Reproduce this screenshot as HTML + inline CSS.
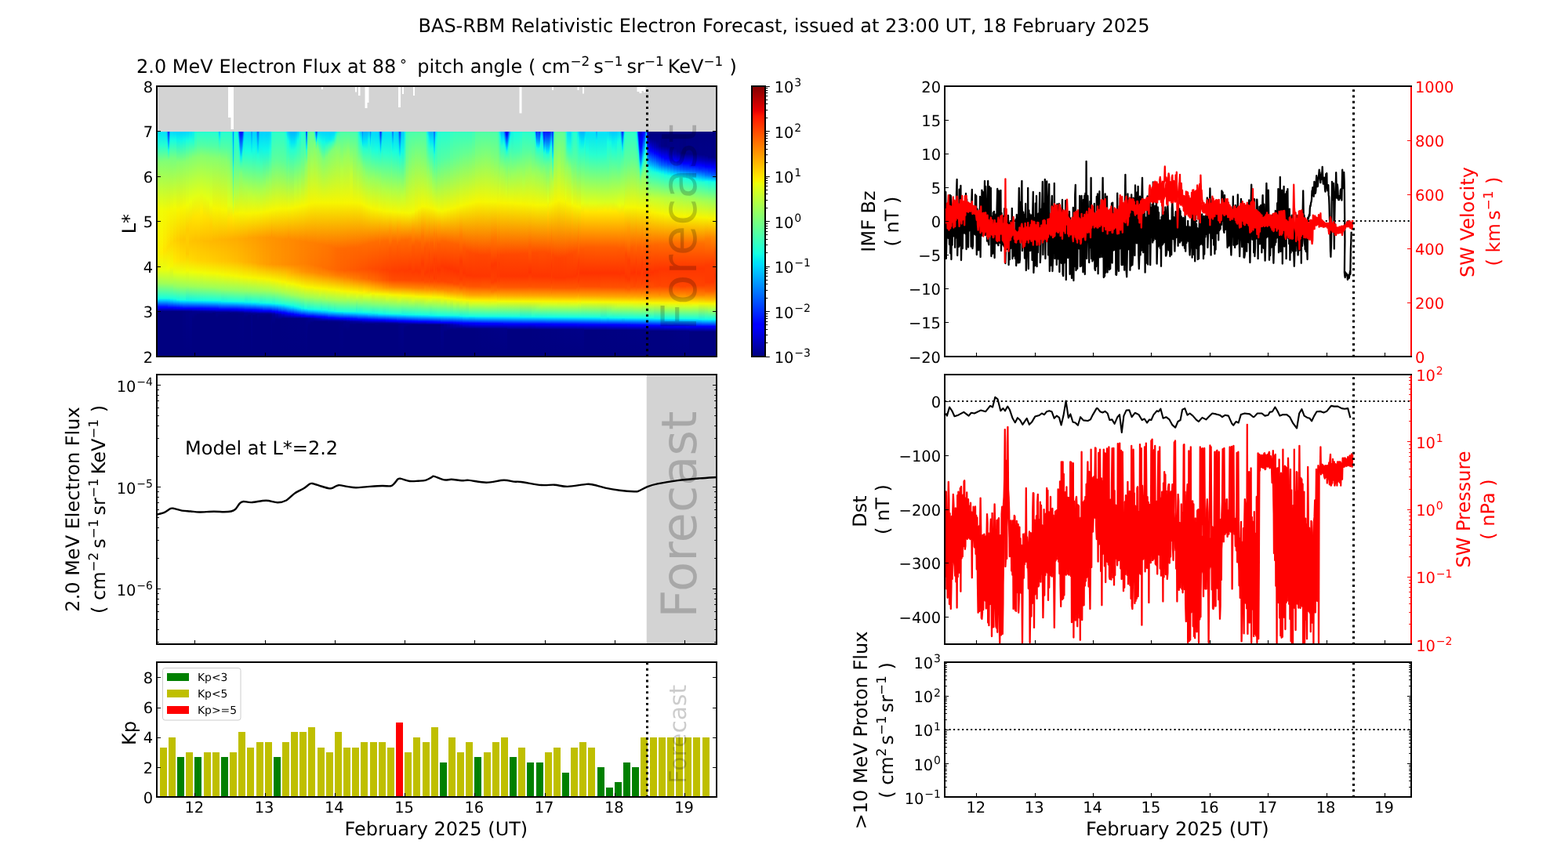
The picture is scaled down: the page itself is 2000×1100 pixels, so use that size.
<!DOCTYPE html>
<html lang="en"><head><meta charset="utf-8"><title>BAS-RBM Relativistic Electron Forecast</title><style>html,body{margin:0;padding:0;background:#fff;overflow:hidden}svg{display:block}</style></head>
<body>
<svg width="2000" height="1100" viewBox="0 0 2000 1100" font-family='"DejaVu Sans", "Liberation Sans", sans-serif' text-rendering="geometricPrecision">
<defs><linearGradient id="h0" x1="0" y1="0" x2="0" y2="1"><stop offset="0" stop-color="#00e0fb"/><stop offset="0.063" stop-color="#25ffd2"/><stop offset="0.136" stop-color="#82ff74"/><stop offset="0.351" stop-color="#f1fc05"/><stop offset="0.518" stop-color="#faf200"/><stop offset="0.616" stop-color="#e4ff13"/><stop offset="0.671" stop-color="#a3ff54"/><stop offset="0.741" stop-color="#18ffde"/><stop offset="0.751" stop-color="#00caff"/><stop offset="0.779" stop-color="#000dff"/><stop offset="0.783" stop-color="#0000ff"/><stop offset="0.8" stop-color="#000080"/><stop offset="1" stop-color="#000080"/></linearGradient>
<linearGradient id="h1" x1="0" y1="0" x2="0" y2="1"><stop offset="0" stop-color="#00e0fb"/><stop offset="0.063" stop-color="#26ffd1"/><stop offset="0.136" stop-color="#83ff74"/><stop offset="0.351" stop-color="#f2fc05"/><stop offset="0.539" stop-color="#feee00"/><stop offset="0.616" stop-color="#e6ff11"/><stop offset="0.675" stop-color="#9fff58"/><stop offset="0.741" stop-color="#18ffde"/><stop offset="0.751" stop-color="#00caff"/><stop offset="0.779" stop-color="#000dff"/><stop offset="0.783" stop-color="#0000ff"/><stop offset="0.8" stop-color="#000080"/><stop offset="1" stop-color="#000080"/></linearGradient>
<linearGradient id="h2" x1="0" y1="0" x2="0" y2="1"><stop offset="0" stop-color="#00e0fb"/><stop offset="0.063" stop-color="#26ffd1"/><stop offset="0.132" stop-color="#81ff76"/><stop offset="0.355" stop-color="#f3fa04"/><stop offset="0.532" stop-color="#ffe500"/><stop offset="0.616" stop-color="#e7ff0f"/><stop offset="0.675" stop-color="#a1ff56"/><stop offset="0.741" stop-color="#18ffde"/><stop offset="0.751" stop-color="#00caff"/><stop offset="0.779" stop-color="#000dff"/><stop offset="0.783" stop-color="#0000ff"/><stop offset="0.8" stop-color="#000080"/><stop offset="1" stop-color="#000080"/></linearGradient>
<linearGradient id="h3" x1="0" y1="0" x2="0" y2="1"><stop offset="0" stop-color="#00d0ff"/><stop offset="0.056" stop-color="#1dffd9"/><stop offset="0.132" stop-color="#81ff76"/><stop offset="0.355" stop-color="#f4f903"/><stop offset="0.525" stop-color="#ffe100"/><stop offset="0.612" stop-color="#ecff0b"/><stop offset="0.675" stop-color="#a2ff55"/><stop offset="0.741" stop-color="#18ffde"/><stop offset="0.751" stop-color="#00caff"/><stop offset="0.779" stop-color="#000dff"/><stop offset="0.783" stop-color="#0000ff"/><stop offset="0.8" stop-color="#000080"/><stop offset="1" stop-color="#000080"/></linearGradient>
<linearGradient id="h4" x1="0" y1="0" x2="0" y2="1"><stop offset="0" stop-color="#0090ff"/><stop offset="0.042" stop-color="#00e5f8"/><stop offset="0.063" stop-color="#1fffd8"/><stop offset="0.132" stop-color="#81ff76"/><stop offset="0.355" stop-color="#f4f802"/><stop offset="0.518" stop-color="#ffdf00"/><stop offset="0.612" stop-color="#edff0a"/><stop offset="0.675" stop-color="#a2ff55"/><stop offset="0.741" stop-color="#19ffde"/><stop offset="0.751" stop-color="#00cbff"/><stop offset="0.779" stop-color="#000dff"/><stop offset="0.783" stop-color="#0000ff"/><stop offset="0.8" stop-color="#000080"/><stop offset="1" stop-color="#000080"/></linearGradient>
<linearGradient id="h5" x1="0" y1="0" x2="0" y2="1"><stop offset="0" stop-color="#002dff"/><stop offset="0.066" stop-color="#00c9ff"/><stop offset="0.083" stop-color="#13fee3"/><stop offset="0.129" stop-color="#7eff79"/><stop offset="0.355" stop-color="#f5f802"/><stop offset="0.511" stop-color="#ffdd00"/><stop offset="0.609" stop-color="#f0fe07"/><stop offset="0.675" stop-color="#a3ff54"/><stop offset="0.741" stop-color="#19ffdd"/><stop offset="0.751" stop-color="#00cdff"/><stop offset="0.783" stop-color="#0000ff"/><stop offset="0.8" stop-color="#000080"/><stop offset="1" stop-color="#000080"/></linearGradient>
<linearGradient id="h6" x1="0" y1="0" x2="0" y2="1"><stop offset="0" stop-color="#0093ff"/><stop offset="0.042" stop-color="#02e9f4"/><stop offset="0.063" stop-color="#22ffd5"/><stop offset="0.132" stop-color="#81ff75"/><stop offset="0.358" stop-color="#f6f601"/><stop offset="0.508" stop-color="#ffdb00"/><stop offset="0.605" stop-color="#f2fc05"/><stop offset="0.675" stop-color="#a4ff53"/><stop offset="0.741" stop-color="#1bffdc"/><stop offset="0.751" stop-color="#00d0ff"/><stop offset="0.783" stop-color="#0000ff"/><stop offset="0.8" stop-color="#000080"/><stop offset="1" stop-color="#000080"/></linearGradient>
<linearGradient id="h7" x1="0" y1="0" x2="0" y2="1"><stop offset="0" stop-color="#00d8ff"/><stop offset="0.042" stop-color="#19ffde"/><stop offset="0.118" stop-color="#75ff82"/><stop offset="0.344" stop-color="#f3f903"/><stop offset="0.497" stop-color="#ffd800"/><stop offset="0.598" stop-color="#f6f701"/><stop offset="0.671" stop-color="#acff4b"/><stop offset="0.741" stop-color="#1dffda"/><stop offset="0.748" stop-color="#04ebf3"/><stop offset="0.758" stop-color="#00a9ff"/><stop offset="0.783" stop-color="#0000ff"/><stop offset="0.793" stop-color="#0000b8"/><stop offset="0.8" stop-color="#000080"/><stop offset="1" stop-color="#000080"/></linearGradient>
<linearGradient id="h8" x1="0" y1="0" x2="0" y2="1"><stop offset="0" stop-color="#00d3ff"/><stop offset="0.038" stop-color="#14fde3"/><stop offset="0.118" stop-color="#75ff82"/><stop offset="0.337" stop-color="#f2fb04"/><stop offset="0.487" stop-color="#ffd200"/><stop offset="0.577" stop-color="#ffe900"/><stop offset="0.626" stop-color="#e4ff12"/><stop offset="0.689" stop-color="#91ff66"/><stop offset="0.744" stop-color="#17ffe0"/><stop offset="0.755" stop-color="#00c9ff"/><stop offset="0.783" stop-color="#0002ff"/><stop offset="0.786" stop-color="#0000f6"/><stop offset="0.8" stop-color="#000080"/><stop offset="1" stop-color="#000080"/></linearGradient>
<linearGradient id="h9" x1="0" y1="0" x2="0" y2="1"><stop offset="0" stop-color="#00d1ff"/><stop offset="0.038" stop-color="#0cf5ea"/><stop offset="0.136" stop-color="#84ff73"/><stop offset="0.348" stop-color="#f7f600"/><stop offset="0.483" stop-color="#ffcd00"/><stop offset="0.574" stop-color="#ffe400"/><stop offset="0.626" stop-color="#e7ff10"/><stop offset="0.689" stop-color="#94ff63"/><stop offset="0.748" stop-color="#13fde4"/><stop offset="0.758" stop-color="#00b9ff"/><stop offset="0.783" stop-color="#0008ff"/><stop offset="0.786" stop-color="#0000fc"/><stop offset="0.8" stop-color="#000080"/><stop offset="1" stop-color="#000080"/></linearGradient>
<linearGradient id="h10" x1="0" y1="0" x2="0" y2="1"><stop offset="0" stop-color="#00d1ff"/><stop offset="0.042" stop-color="#0ff8e7"/><stop offset="0.136" stop-color="#84ff72"/><stop offset="0.344" stop-color="#f6f600"/><stop offset="0.48" stop-color="#ffc800"/><stop offset="0.57" stop-color="#ffde00"/><stop offset="0.626" stop-color="#e9ff0e"/><stop offset="0.689" stop-color="#97ff60"/><stop offset="0.748" stop-color="#18ffdf"/><stop offset="0.755" stop-color="#00d9ff"/><stop offset="0.783" stop-color="#000dff"/><stop offset="0.786" stop-color="#0000ff"/><stop offset="0.8" stop-color="#000080"/><stop offset="1" stop-color="#000080"/></linearGradient>
<linearGradient id="h11" x1="0" y1="0" x2="0" y2="1"><stop offset="0" stop-color="#00d2ff"/><stop offset="0.038" stop-color="#10f9e7"/><stop offset="0.136" stop-color="#87ff70"/><stop offset="0.337" stop-color="#f5f802"/><stop offset="0.48" stop-color="#ffc600"/><stop offset="0.57" stop-color="#ffdc00"/><stop offset="0.626" stop-color="#ebff0c"/><stop offset="0.689" stop-color="#98ff5e"/><stop offset="0.748" stop-color="#1affdd"/><stop offset="0.755" stop-color="#00dcff"/><stop offset="0.786" stop-color="#0000ff"/><stop offset="0.8" stop-color="#000083"/><stop offset="1" stop-color="#000080"/></linearGradient>
<linearGradient id="h12" x1="0" y1="0" x2="0" y2="1"><stop offset="0" stop-color="#00d6ff"/><stop offset="0.042" stop-color="#1bffdc"/><stop offset="0.129" stop-color="#86ff71"/><stop offset="0.327" stop-color="#f1fc06"/><stop offset="0.438" stop-color="#ffcd00"/><stop offset="0.543" stop-color="#ffcb00"/><stop offset="0.619" stop-color="#f2fb04"/><stop offset="0.685" stop-color="#a0ff57"/><stop offset="0.751" stop-color="#0df6ea"/><stop offset="0.758" stop-color="#00c5ff"/><stop offset="0.786" stop-color="#0000ff"/><stop offset="0.8" stop-color="#000086"/><stop offset="1" stop-color="#000080"/></linearGradient>
<linearGradient id="h13" x1="0" y1="0" x2="0" y2="1"><stop offset="0" stop-color="#00e0fb"/><stop offset="0.038" stop-color="#1bffdc"/><stop offset="0.122" stop-color="#85ff72"/><stop offset="0.313" stop-color="#ecff0b"/><stop offset="0.41" stop-color="#ffd800"/><stop offset="0.49" stop-color="#ffc400"/><stop offset="0.574" stop-color="#ffda00"/><stop offset="0.626" stop-color="#edff0a"/><stop offset="0.689" stop-color="#9cff5b"/><stop offset="0.751" stop-color="#0ef7e8"/><stop offset="0.758" stop-color="#00c8ff"/><stop offset="0.786" stop-color="#0000ff"/><stop offset="0.8" stop-color="#000088"/><stop offset="1" stop-color="#000080"/></linearGradient>
<linearGradient id="h14" x1="0" y1="0" x2="0" y2="1"><stop offset="0" stop-color="#06edf1"/><stop offset="0.049" stop-color="#29ffce"/><stop offset="0.115" stop-color="#84ff73"/><stop offset="0.296" stop-color="#e5ff12"/><stop offset="0.386" stop-color="#ffe100"/><stop offset="0.487" stop-color="#ffc200"/><stop offset="0.574" stop-color="#ffd800"/><stop offset="0.626" stop-color="#eeff08"/><stop offset="0.689" stop-color="#9dff5a"/><stop offset="0.751" stop-color="#0ff9e7"/><stop offset="0.758" stop-color="#00caff"/><stop offset="0.786" stop-color="#0000ff"/><stop offset="0.797" stop-color="#0000ab"/><stop offset="0.8" stop-color="#00008b"/><stop offset="0.835" stop-color="#000080"/><stop offset="1" stop-color="#000080"/></linearGradient>
<linearGradient id="h15" x1="0" y1="0" x2="0" y2="1"><stop offset="0" stop-color="#1bffdc"/><stop offset="0.063" stop-color="#49ffae"/><stop offset="0.115" stop-color="#86ff71"/><stop offset="0.289" stop-color="#e3ff14"/><stop offset="0.379" stop-color="#ffe400"/><stop offset="0.483" stop-color="#ffc100"/><stop offset="0.574" stop-color="#ffd600"/><stop offset="0.626" stop-color="#effe07"/><stop offset="0.689" stop-color="#9eff58"/><stop offset="0.751" stop-color="#10fae6"/><stop offset="0.758" stop-color="#00ccff"/><stop offset="0.786" stop-color="#0000ff"/><stop offset="0.793" stop-color="#0000cd"/><stop offset="0.8" stop-color="#00008d"/><stop offset="0.821" stop-color="#000080"/><stop offset="1" stop-color="#000080"/></linearGradient>
<linearGradient id="h16" x1="0" y1="0" x2="0" y2="1"><stop offset="0" stop-color="#25ffd2"/><stop offset="0.063" stop-color="#52ffa5"/><stop offset="0.115" stop-color="#89ff6e"/><stop offset="0.285" stop-color="#e2ff15"/><stop offset="0.376" stop-color="#ffe500"/><stop offset="0.487" stop-color="#ffc000"/><stop offset="0.574" stop-color="#ffd400"/><stop offset="0.626" stop-color="#f1fd06"/><stop offset="0.689" stop-color="#a0ff57"/><stop offset="0.751" stop-color="#11fbe5"/><stop offset="0.758" stop-color="#00ceff"/><stop offset="0.786" stop-color="#0000ff"/><stop offset="0.793" stop-color="#0000d0"/><stop offset="0.8" stop-color="#00008f"/><stop offset="0.814" stop-color="#000080"/><stop offset="1" stop-color="#000080"/></linearGradient>
<linearGradient id="h17" x1="0" y1="0" x2="0" y2="1"><stop offset="0" stop-color="#25ffd2"/><stop offset="0.063" stop-color="#54ffa3"/><stop offset="0.108" stop-color="#87ff70"/><stop offset="0.275" stop-color="#deff19"/><stop offset="0.355" stop-color="#feed00"/><stop offset="0.483" stop-color="#ffbe00"/><stop offset="0.574" stop-color="#ffd200"/><stop offset="0.626" stop-color="#f2fb05"/><stop offset="0.692" stop-color="#9bff5c"/><stop offset="0.751" stop-color="#13fde4"/><stop offset="0.758" stop-color="#00d0ff"/><stop offset="0.786" stop-color="#0002ff"/><stop offset="0.79" stop-color="#0000f3"/><stop offset="0.8" stop-color="#000092"/><stop offset="0.81" stop-color="#000080"/><stop offset="1" stop-color="#000080"/></linearGradient>
<linearGradient id="h18" x1="0" y1="0" x2="0" y2="1"><stop offset="0" stop-color="#25ffd2"/><stop offset="0.063" stop-color="#53ffa4"/><stop offset="0.111" stop-color="#88ff6f"/><stop offset="0.289" stop-color="#e3ff14"/><stop offset="0.379" stop-color="#ffe200"/><stop offset="0.487" stop-color="#ffbc00"/><stop offset="0.577" stop-color="#ffd300"/><stop offset="0.63" stop-color="#f0fd07"/><stop offset="0.692" stop-color="#9dff5a"/><stop offset="0.751" stop-color="#14fee3"/><stop offset="0.758" stop-color="#00d3ff"/><stop offset="0.786" stop-color="#0005ff"/><stop offset="0.79" stop-color="#0000f5"/><stop offset="0.8" stop-color="#000095"/><stop offset="0.81" stop-color="#000080"/><stop offset="1" stop-color="#000080"/></linearGradient>
<linearGradient id="h19" x1="0" y1="0" x2="0" y2="1"><stop offset="0" stop-color="#25ffd2"/><stop offset="0.063" stop-color="#51ffa6"/><stop offset="0.111" stop-color="#86ff70"/><stop offset="0.299" stop-color="#e6ff11"/><stop offset="0.39" stop-color="#ffdd00"/><stop offset="0.487" stop-color="#ffbb00"/><stop offset="0.577" stop-color="#ffd100"/><stop offset="0.63" stop-color="#f1fc05"/><stop offset="0.692" stop-color="#9eff58"/><stop offset="0.751" stop-color="#15ffe2"/><stop offset="0.758" stop-color="#00d6ff"/><stop offset="0.786" stop-color="#0007ff"/><stop offset="0.79" stop-color="#0000f8"/><stop offset="0.8" stop-color="#000098"/><stop offset="0.81" stop-color="#000080"/><stop offset="1" stop-color="#000080"/></linearGradient>
<linearGradient id="h20" x1="0" y1="0" x2="0" y2="1"><stop offset="0" stop-color="#25ffd2"/><stop offset="0.066" stop-color="#53ffa3"/><stop offset="0.118" stop-color="#89ff6e"/><stop offset="0.323" stop-color="#effe08"/><stop offset="0.41" stop-color="#ffd300"/><stop offset="0.49" stop-color="#ffb900"/><stop offset="0.577" stop-color="#ffcf00"/><stop offset="0.63" stop-color="#f3fa04"/><stop offset="0.692" stop-color="#a0ff57"/><stop offset="0.751" stop-color="#16ffe0"/><stop offset="0.758" stop-color="#00d8ff"/><stop offset="0.786" stop-color="#000aff"/><stop offset="0.79" stop-color="#0000fb"/><stop offset="0.8" stop-color="#00009a"/><stop offset="0.81" stop-color="#000080"/><stop offset="1" stop-color="#000080"/></linearGradient>
<linearGradient id="h21" x1="0" y1="0" x2="0" y2="1"><stop offset="0" stop-color="#25ffd2"/><stop offset="0.066" stop-color="#52ffa5"/><stop offset="0.118" stop-color="#88ff6f"/><stop offset="0.341" stop-color="#f6f701"/><stop offset="0.483" stop-color="#ffb700"/><stop offset="0.577" stop-color="#ffcd00"/><stop offset="0.63" stop-color="#f4f903"/><stop offset="0.692" stop-color="#a1ff55"/><stop offset="0.751" stop-color="#18ffdf"/><stop offset="0.758" stop-color="#00dbff"/><stop offset="0.786" stop-color="#000cff"/><stop offset="0.79" stop-color="#0000fe"/><stop offset="0.8" stop-color="#00009d"/><stop offset="0.807" stop-color="#000080"/><stop offset="1" stop-color="#000080"/></linearGradient>
<linearGradient id="h22" x1="0" y1="0" x2="0" y2="1"><stop offset="0" stop-color="#24ffd2"/><stop offset="0.07" stop-color="#54ffa3"/><stop offset="0.122" stop-color="#89ff6e"/><stop offset="0.344" stop-color="#f7f600"/><stop offset="0.483" stop-color="#ffb600"/><stop offset="0.577" stop-color="#ffcb00"/><stop offset="0.633" stop-color="#f2fb04"/><stop offset="0.696" stop-color="#9cff5a"/><stop offset="0.751" stop-color="#19ffde"/><stop offset="0.758" stop-color="#00ddfe"/><stop offset="0.786" stop-color="#000eff"/><stop offset="0.79" stop-color="#0000ff"/><stop offset="0.803" stop-color="#00008a"/><stop offset="0.828" stop-color="#000080"/><stop offset="1" stop-color="#000080"/></linearGradient>
<linearGradient id="h23" x1="0" y1="0" x2="0" y2="1"><stop offset="0" stop-color="#12fbe5"/><stop offset="0.125" stop-color="#8aff6d"/><stop offset="0.344" stop-color="#f6f600"/><stop offset="0.483" stop-color="#ffb500"/><stop offset="0.577" stop-color="#ffca00"/><stop offset="0.633" stop-color="#f3fa04"/><stop offset="0.696" stop-color="#9dff5a"/><stop offset="0.751" stop-color="#19ffdd"/><stop offset="0.762" stop-color="#00c6ff"/><stop offset="0.786" stop-color="#000fff"/><stop offset="0.79" stop-color="#0000ff"/><stop offset="0.803" stop-color="#00008b"/><stop offset="0.821" stop-color="#000080"/><stop offset="1" stop-color="#000080"/></linearGradient>
<linearGradient id="h24" x1="0" y1="0" x2="0" y2="1"><stop offset="0" stop-color="#00c0ff"/><stop offset="0.024" stop-color="#07eef0"/><stop offset="0.045" stop-color="#28ffcf"/><stop offset="0.111" stop-color="#81ff76"/><stop offset="0.344" stop-color="#f6f601"/><stop offset="0.48" stop-color="#ffb500"/><stop offset="0.577" stop-color="#ffc900"/><stop offset="0.633" stop-color="#f4f903"/><stop offset="0.696" stop-color="#9eff59"/><stop offset="0.751" stop-color="#1affdd"/><stop offset="0.758" stop-color="#00dffc"/><stop offset="0.79" stop-color="#0000ff"/><stop offset="0.803" stop-color="#00008b"/><stop offset="0.817" stop-color="#000080"/><stop offset="1" stop-color="#000080"/></linearGradient>
<linearGradient id="h25" x1="0" y1="0" x2="0" y2="1"><stop offset="0" stop-color="#12fbe5"/><stop offset="0.125" stop-color="#88ff6f"/><stop offset="0.348" stop-color="#f7f500"/><stop offset="0.48" stop-color="#ffb400"/><stop offset="0.577" stop-color="#ffc800"/><stop offset="0.633" stop-color="#f4f903"/><stop offset="0.696" stop-color="#9eff58"/><stop offset="0.751" stop-color="#1affdc"/><stop offset="0.758" stop-color="#00e0fb"/><stop offset="0.79" stop-color="#0000ff"/><stop offset="0.803" stop-color="#00008b"/><stop offset="0.817" stop-color="#000080"/><stop offset="1" stop-color="#000080"/></linearGradient>
<linearGradient id="h26" x1="0" y1="0" x2="0" y2="1"><stop offset="0" stop-color="#25ffd2"/><stop offset="0.073" stop-color="#54ffa2"/><stop offset="0.125" stop-color="#86ff70"/><stop offset="0.348" stop-color="#f6f701"/><stop offset="0.48" stop-color="#ffb300"/><stop offset="0.577" stop-color="#ffc700"/><stop offset="0.637" stop-color="#f2fb05"/><stop offset="0.703" stop-color="#92ff65"/><stop offset="0.755" stop-color="#0ff8e8"/><stop offset="0.762" stop-color="#00c9ff"/><stop offset="0.79" stop-color="#0000ff"/><stop offset="0.803" stop-color="#00008c"/><stop offset="0.814" stop-color="#000080"/><stop offset="1" stop-color="#000080"/></linearGradient>
<linearGradient id="h27" x1="0" y1="0" x2="0" y2="1"><stop offset="0" stop-color="#25ffd2"/><stop offset="0.073" stop-color="#53ffa4"/><stop offset="0.125" stop-color="#84ff73"/><stop offset="0.351" stop-color="#f6f701"/><stop offset="0.48" stop-color="#ffb200"/><stop offset="0.577" stop-color="#ffc500"/><stop offset="0.637" stop-color="#f4f903"/><stop offset="0.703" stop-color="#94ff63"/><stop offset="0.755" stop-color="#11fae6"/><stop offset="0.762" stop-color="#00ccff"/><stop offset="0.79" stop-color="#0000ff"/><stop offset="0.803" stop-color="#00008d"/><stop offset="0.814" stop-color="#000080"/><stop offset="1" stop-color="#000080"/></linearGradient>
<linearGradient id="h28" x1="0" y1="0" x2="0" y2="1"><stop offset="0" stop-color="#25ffd2"/><stop offset="0.08" stop-color="#55ffa2"/><stop offset="0.139" stop-color="#86ff70"/><stop offset="0.327" stop-color="#e4ff12"/><stop offset="0.39" stop-color="#ffe000"/><stop offset="0.48" stop-color="#ffb000"/><stop offset="0.577" stop-color="#ffc300"/><stop offset="0.637" stop-color="#f5f802"/><stop offset="0.703" stop-color="#95ff62"/><stop offset="0.755" stop-color="#13fce4"/><stop offset="0.762" stop-color="#00ceff"/><stop offset="0.79" stop-color="#0000ff"/><stop offset="0.803" stop-color="#00008e"/><stop offset="0.81" stop-color="#000080"/><stop offset="1" stop-color="#000080"/></linearGradient>
<linearGradient id="h29" x1="0" y1="0" x2="0" y2="1"><stop offset="0" stop-color="#24ffd3"/><stop offset="0.094" stop-color="#56ffa1"/><stop offset="0.184" stop-color="#93ff64"/><stop offset="0.327" stop-color="#e1ff16"/><stop offset="0.383" stop-color="#ffe600"/><stop offset="0.48" stop-color="#ffaf00"/><stop offset="0.577" stop-color="#ffc200"/><stop offset="0.64" stop-color="#f3fa04"/><stop offset="0.703" stop-color="#96ff61"/><stop offset="0.755" stop-color="#14fee3"/><stop offset="0.762" stop-color="#00d0ff"/><stop offset="0.79" stop-color="#0000ff"/><stop offset="0.8" stop-color="#0000ac"/><stop offset="0.807" stop-color="#000080"/><stop offset="1" stop-color="#000080"/></linearGradient>
<linearGradient id="h30" x1="0" y1="0" x2="0" y2="1"><stop offset="0" stop-color="#21ffd6"/><stop offset="0.104" stop-color="#54ffa3"/><stop offset="0.216" stop-color="#9bff5b"/><stop offset="0.334" stop-color="#e4ff13"/><stop offset="0.386" stop-color="#ffe400"/><stop offset="0.48" stop-color="#ffaf00"/><stop offset="0.577" stop-color="#ffc100"/><stop offset="0.64" stop-color="#f4f903"/><stop offset="0.703" stop-color="#96ff61"/><stop offset="0.755" stop-color="#14ffe2"/><stop offset="0.762" stop-color="#00d1ff"/><stop offset="0.79" stop-color="#0000ff"/><stop offset="0.797" stop-color="#0000cd"/><stop offset="0.803" stop-color="#00008f"/><stop offset="0.81" stop-color="#000080"/><stop offset="1" stop-color="#000080"/></linearGradient>
<linearGradient id="h31" x1="0" y1="0" x2="0" y2="1"><stop offset="0" stop-color="#00defd"/><stop offset="0.066" stop-color="#1effd8"/><stop offset="0.209" stop-color="#92ff65"/><stop offset="0.334" stop-color="#e3ff14"/><stop offset="0.383" stop-color="#ffe700"/><stop offset="0.48" stop-color="#ffae00"/><stop offset="0.577" stop-color="#ffc000"/><stop offset="0.64" stop-color="#f4f903"/><stop offset="0.703" stop-color="#97ff60"/><stop offset="0.755" stop-color="#15ffe2"/><stop offset="0.762" stop-color="#00d1ff"/><stop offset="0.79" stop-color="#0000ff"/><stop offset="0.797" stop-color="#0000ce"/><stop offset="0.803" stop-color="#00008f"/><stop offset="0.81" stop-color="#000080"/><stop offset="1" stop-color="#000080"/></linearGradient>
<linearGradient id="h32" x1="0" y1="0" x2="0" y2="1"><stop offset="0" stop-color="#0080ff"/><stop offset="0.125" stop-color="#00cfff"/><stop offset="0.163" stop-color="#10f9e7"/><stop offset="0.317" stop-color="#aeff49"/><stop offset="0.372" stop-color="#f8f400"/><stop offset="0.477" stop-color="#ffae00"/><stop offset="0.577" stop-color="#ffc000"/><stop offset="0.64" stop-color="#f4f802"/><stop offset="0.703" stop-color="#97ff60"/><stop offset="0.755" stop-color="#15ffe1"/><stop offset="0.762" stop-color="#00d2ff"/><stop offset="0.79" stop-color="#0000ff"/><stop offset="0.797" stop-color="#0000ce"/><stop offset="0.803" stop-color="#00008f"/><stop offset="0.81" stop-color="#000080"/><stop offset="1" stop-color="#000080"/></linearGradient>
<linearGradient id="h33" x1="0" y1="0" x2="0" y2="1"><stop offset="0" stop-color="#00dbff"/><stop offset="0.073" stop-color="#1effd9"/><stop offset="0.23" stop-color="#98ff5e"/><stop offset="0.337" stop-color="#e4ff13"/><stop offset="0.386" stop-color="#ffe500"/><stop offset="0.48" stop-color="#ffad00"/><stop offset="0.577" stop-color="#ffbf00"/><stop offset="0.64" stop-color="#f5f802"/><stop offset="0.703" stop-color="#97ff5f"/><stop offset="0.755" stop-color="#16ffe1"/><stop offset="0.762" stop-color="#00d3ff"/><stop offset="0.79" stop-color="#0000ff"/><stop offset="0.797" stop-color="#0000cf"/><stop offset="0.803" stop-color="#00008f"/><stop offset="0.81" stop-color="#000080"/><stop offset="1" stop-color="#000080"/></linearGradient>
<linearGradient id="h34" x1="0" y1="0" x2="0" y2="1"><stop offset="0" stop-color="#17ffdf"/><stop offset="0.115" stop-color="#48ffaf"/><stop offset="0.275" stop-color="#b2ff45"/><stop offset="0.365" stop-color="#f8f400"/><stop offset="0.477" stop-color="#ffad00"/><stop offset="0.577" stop-color="#ffbd00"/><stop offset="0.643" stop-color="#f3fa04"/><stop offset="0.706" stop-color="#92ff65"/><stop offset="0.755" stop-color="#17ffe0"/><stop offset="0.762" stop-color="#00d5ff"/><stop offset="0.79" stop-color="#0001ff"/><stop offset="0.793" stop-color="#0000f2"/><stop offset="0.803" stop-color="#000091"/><stop offset="0.81" stop-color="#000080"/><stop offset="1" stop-color="#000080"/></linearGradient>
<linearGradient id="h35" x1="0" y1="0" x2="0" y2="1"><stop offset="0" stop-color="#00dcfe"/><stop offset="0.028" stop-color="#18ffdf"/><stop offset="0.143" stop-color="#57ffa0"/><stop offset="0.261" stop-color="#abff4c"/><stop offset="0.365" stop-color="#f8f400"/><stop offset="0.477" stop-color="#ffab00"/><stop offset="0.577" stop-color="#ffbb00"/><stop offset="0.643" stop-color="#f4f803"/><stop offset="0.706" stop-color="#93ff64"/><stop offset="0.755" stop-color="#18ffdf"/><stop offset="0.762" stop-color="#00d8ff"/><stop offset="0.79" stop-color="#0004ff"/><stop offset="0.793" stop-color="#0000f5"/><stop offset="0.803" stop-color="#000095"/><stop offset="0.81" stop-color="#000081"/><stop offset="1" stop-color="#000080"/></linearGradient>
<linearGradient id="h36" x1="0" y1="0" x2="0" y2="1"><stop offset="0" stop-color="#0075ff"/><stop offset="0.038" stop-color="#00e5f7"/><stop offset="0.059" stop-color="#1cffdb"/><stop offset="0.275" stop-color="#b3ff44"/><stop offset="0.365" stop-color="#f8f400"/><stop offset="0.477" stop-color="#ffab00"/><stop offset="0.577" stop-color="#ffba00"/><stop offset="0.643" stop-color="#f5f802"/><stop offset="0.706" stop-color="#93ff63"/><stop offset="0.755" stop-color="#19ffde"/><stop offset="0.762" stop-color="#00d9ff"/><stop offset="0.79" stop-color="#0006ff"/><stop offset="0.793" stop-color="#0000f7"/><stop offset="0.803" stop-color="#000096"/><stop offset="0.81" stop-color="#000081"/><stop offset="1" stop-color="#000080"/></linearGradient>
<linearGradient id="h37" x1="0" y1="0" x2="0" y2="1"><stop offset="0" stop-color="#0019ff"/><stop offset="0.077" stop-color="#00e4f8"/><stop offset="0.09" stop-color="#1bffdc"/><stop offset="0.188" stop-color="#7eff78"/><stop offset="0.362" stop-color="#f6f701"/><stop offset="0.477" stop-color="#ffaa00"/><stop offset="0.577" stop-color="#ffb900"/><stop offset="0.643" stop-color="#f5f702"/><stop offset="0.706" stop-color="#94ff63"/><stop offset="0.755" stop-color="#19ffde"/><stop offset="0.762" stop-color="#00daff"/><stop offset="0.79" stop-color="#0007ff"/><stop offset="0.793" stop-color="#0000f8"/><stop offset="0.803" stop-color="#000097"/><stop offset="0.81" stop-color="#000081"/><stop offset="1" stop-color="#000080"/></linearGradient>
<linearGradient id="h38" x1="0" y1="0" x2="0" y2="1"><stop offset="0" stop-color="#0000ff"/><stop offset="0.094" stop-color="#00bcff"/><stop offset="0.115" stop-color="#09f1ee"/><stop offset="0.143" stop-color="#3fffb7"/><stop offset="0.184" stop-color="#7bff7c"/><stop offset="0.362" stop-color="#f5f701"/><stop offset="0.477" stop-color="#ffa900"/><stop offset="0.577" stop-color="#ffb800"/><stop offset="0.647" stop-color="#f3fa04"/><stop offset="0.71" stop-color="#8eff69"/><stop offset="0.755" stop-color="#1affdd"/><stop offset="0.762" stop-color="#00dcfe"/><stop offset="0.79" stop-color="#0009ff"/><stop offset="0.793" stop-color="#0000fb"/><stop offset="0.803" stop-color="#00009a"/><stop offset="0.81" stop-color="#000082"/><stop offset="1" stop-color="#000080"/></linearGradient>
<linearGradient id="h39" x1="0" y1="0" x2="0" y2="1"><stop offset="0" stop-color="#0017ff"/><stop offset="0.08" stop-color="#00e0fc"/><stop offset="0.097" stop-color="#1cffdb"/><stop offset="0.216" stop-color="#8eff68"/><stop offset="0.362" stop-color="#f5f701"/><stop offset="0.477" stop-color="#ffa800"/><stop offset="0.581" stop-color="#ffb800"/><stop offset="0.647" stop-color="#f4f903"/><stop offset="0.71" stop-color="#8fff68"/><stop offset="0.755" stop-color="#1bffdc"/><stop offset="0.762" stop-color="#00defd"/><stop offset="0.79" stop-color="#000cff"/><stop offset="0.793" stop-color="#0000fe"/><stop offset="0.803" stop-color="#00009d"/><stop offset="0.81" stop-color="#000083"/><stop offset="1" stop-color="#000080"/></linearGradient>
<linearGradient id="h40" x1="0" y1="0" x2="0" y2="1"><stop offset="0" stop-color="#0068ff"/><stop offset="0.049" stop-color="#00e3f8"/><stop offset="0.087" stop-color="#1cffda"/><stop offset="0.24" stop-color="#9eff58"/><stop offset="0.362" stop-color="#f5f702"/><stop offset="0.477" stop-color="#ffa700"/><stop offset="0.581" stop-color="#ffb700"/><stop offset="0.647" stop-color="#f4f802"/><stop offset="0.71" stop-color="#8fff68"/><stop offset="0.755" stop-color="#1bffdb"/><stop offset="0.765" stop-color="#00c8ff"/><stop offset="0.79" stop-color="#000dff"/><stop offset="0.793" stop-color="#0000ff"/><stop offset="0.803" stop-color="#00009f"/><stop offset="0.81" stop-color="#000083"/><stop offset="1" stop-color="#000080"/></linearGradient>
<linearGradient id="h41" x1="0" y1="0" x2="0" y2="1"><stop offset="0" stop-color="#00beff"/><stop offset="0.045" stop-color="#07eef0"/><stop offset="0.122" stop-color="#37ffc0"/><stop offset="0.233" stop-color="#9aff5d"/><stop offset="0.362" stop-color="#f5f702"/><stop offset="0.477" stop-color="#ffa700"/><stop offset="0.581" stop-color="#ffb600"/><stop offset="0.647" stop-color="#f5f802"/><stop offset="0.71" stop-color="#8fff67"/><stop offset="0.755" stop-color="#1cffdb"/><stop offset="0.762" stop-color="#00e0fb"/><stop offset="0.79" stop-color="#000eff"/><stop offset="0.793" stop-color="#0000ff"/><stop offset="0.807" stop-color="#00008c"/><stop offset="0.831" stop-color="#000080"/><stop offset="1" stop-color="#000080"/></linearGradient>
<linearGradient id="h42" x1="0" y1="0" x2="0" y2="1"><stop offset="0" stop-color="#00d6ff"/><stop offset="0.087" stop-color="#17ffdf"/><stop offset="0.25" stop-color="#a6ff51"/><stop offset="0.365" stop-color="#f7f500"/><stop offset="0.477" stop-color="#ffa500"/><stop offset="0.581" stop-color="#ffb400"/><stop offset="0.647" stop-color="#f6f701"/><stop offset="0.71" stop-color="#91ff66"/><stop offset="0.758" stop-color="#0ef7e9"/><stop offset="0.765" stop-color="#00cdff"/><stop offset="0.793" stop-color="#0000ff"/><stop offset="0.807" stop-color="#00008f"/><stop offset="0.824" stop-color="#000080"/><stop offset="1" stop-color="#000080"/></linearGradient>
<linearGradient id="h43" x1="0" y1="0" x2="0" y2="1"><stop offset="0" stop-color="#00d2ff"/><stop offset="0.087" stop-color="#16ffe1"/><stop offset="0.275" stop-color="#b8ff3f"/><stop offset="0.365" stop-color="#f8f500"/><stop offset="0.473" stop-color="#ffa300"/><stop offset="0.581" stop-color="#ffb000"/><stop offset="0.65" stop-color="#f4f903"/><stop offset="0.71" stop-color="#92ff64"/><stop offset="0.758" stop-color="#11fae6"/><stop offset="0.765" stop-color="#00d1ff"/><stop offset="0.793" stop-color="#0000ff"/><stop offset="0.807" stop-color="#000093"/><stop offset="0.817" stop-color="#000080"/><stop offset="1" stop-color="#000080"/></linearGradient>
<linearGradient id="h44" x1="0" y1="0" x2="0" y2="1"><stop offset="0" stop-color="#00a1ff"/><stop offset="0.063" stop-color="#01e6f6"/><stop offset="0.101" stop-color="#21ffd6"/><stop offset="0.278" stop-color="#baff3d"/><stop offset="0.362" stop-color="#f6f701"/><stop offset="0.473" stop-color="#ffa200"/><stop offset="0.581" stop-color="#ffad00"/><stop offset="0.65" stop-color="#f5f702"/><stop offset="0.71" stop-color="#94ff63"/><stop offset="0.758" stop-color="#13fde4"/><stop offset="0.769" stop-color="#00bcff"/><stop offset="0.793" stop-color="#0000ff"/><stop offset="0.8" stop-color="#0000ce"/><stop offset="0.81" stop-color="#000087"/><stop offset="1" stop-color="#000080"/></linearGradient>
<linearGradient id="h45" x1="0" y1="0" x2="0" y2="1"><stop offset="0" stop-color="#00d0ff"/><stop offset="0.083" stop-color="#12fce5"/><stop offset="0.292" stop-color="#c3ff34"/><stop offset="0.362" stop-color="#f6f601"/><stop offset="0.473" stop-color="#ffa000"/><stop offset="0.584" stop-color="#ffac00"/><stop offset="0.65" stop-color="#f6f600"/><stop offset="0.71" stop-color="#95ff62"/><stop offset="0.758" stop-color="#15ffe2"/><stop offset="0.765" stop-color="#00d9ff"/><stop offset="0.793" stop-color="#0002ff"/><stop offset="0.797" stop-color="#0000f2"/><stop offset="0.807" stop-color="#000099"/><stop offset="0.817" stop-color="#000080"/><stop offset="1" stop-color="#000080"/></linearGradient>
<linearGradient id="h46" x1="0" y1="0" x2="0" y2="1"><stop offset="0" stop-color="#00ccff"/><stop offset="0.066" stop-color="#0bf3ec"/><stop offset="0.146" stop-color="#44ffb3"/><stop offset="0.261" stop-color="#abff4c"/><stop offset="0.362" stop-color="#f7f600"/><stop offset="0.473" stop-color="#ff9f00"/><stop offset="0.584" stop-color="#ffa900"/><stop offset="0.65" stop-color="#f7f500"/><stop offset="0.71" stop-color="#96ff61"/><stop offset="0.758" stop-color="#16ffe1"/><stop offset="0.765" stop-color="#00dcff"/><stop offset="0.793" stop-color="#0005ff"/><stop offset="0.797" stop-color="#0000f6"/><stop offset="0.807" stop-color="#00009c"/><stop offset="0.814" stop-color="#000080"/><stop offset="1" stop-color="#000080"/></linearGradient>
<linearGradient id="h47" x1="0" y1="0" x2="0" y2="1"><stop offset="0" stop-color="#00a6ff"/><stop offset="0.059" stop-color="#04eaf3"/><stop offset="0.108" stop-color="#25ffd2"/><stop offset="0.289" stop-color="#bfff38"/><stop offset="0.362" stop-color="#f7f600"/><stop offset="0.473" stop-color="#ff9e00"/><stop offset="0.584" stop-color="#ffa800"/><stop offset="0.65" stop-color="#f8f400"/><stop offset="0.706" stop-color="#9fff58"/><stop offset="0.758" stop-color="#17ffe0"/><stop offset="0.769" stop-color="#00c4ff"/><stop offset="0.793" stop-color="#0006ff"/><stop offset="0.797" stop-color="#0000f7"/><stop offset="0.807" stop-color="#00009d"/><stop offset="0.814" stop-color="#000080"/><stop offset="1" stop-color="#000080"/></linearGradient>
<linearGradient id="h48" x1="0" y1="0" x2="0" y2="1"><stop offset="0" stop-color="#006cff"/><stop offset="0.08" stop-color="#00e5f7"/><stop offset="0.104" stop-color="#1fffd8"/><stop offset="0.275" stop-color="#b4ff43"/><stop offset="0.362" stop-color="#f7f500"/><stop offset="0.473" stop-color="#ff9d00"/><stop offset="0.588" stop-color="#ffa800"/><stop offset="0.654" stop-color="#f4f802"/><stop offset="0.71" stop-color="#97ff5f"/><stop offset="0.758" stop-color="#18ffdf"/><stop offset="0.769" stop-color="#00c6ff"/><stop offset="0.793" stop-color="#0008ff"/><stop offset="0.797" stop-color="#0000f9"/><stop offset="0.81" stop-color="#00008a"/><stop offset="0.838" stop-color="#000080"/><stop offset="1" stop-color="#000080"/></linearGradient>
<linearGradient id="h49" x1="0" y1="0" x2="0" y2="1"><stop offset="0" stop-color="#00a5ff"/><stop offset="0.059" stop-color="#02e8f4"/><stop offset="0.111" stop-color="#26ffd1"/><stop offset="0.289" stop-color="#beff39"/><stop offset="0.362" stop-color="#f7f500"/><stop offset="0.473" stop-color="#ff9c00"/><stop offset="0.588" stop-color="#ffa700"/><stop offset="0.654" stop-color="#f5f802"/><stop offset="0.71" stop-color="#98ff5f"/><stop offset="0.758" stop-color="#19ffde"/><stop offset="0.769" stop-color="#00c8ff"/><stop offset="0.793" stop-color="#000aff"/><stop offset="0.797" stop-color="#0000fc"/><stop offset="0.81" stop-color="#00008a"/><stop offset="0.831" stop-color="#000080"/><stop offset="1" stop-color="#000080"/></linearGradient>
<linearGradient id="h50" x1="0" y1="0" x2="0" y2="1"><stop offset="0" stop-color="#00cfff"/><stop offset="0.07" stop-color="#0af2ed"/><stop offset="0.143" stop-color="#3fffb8"/><stop offset="0.264" stop-color="#abff4b"/><stop offset="0.358" stop-color="#f5f702"/><stop offset="0.473" stop-color="#ff9b00"/><stop offset="0.588" stop-color="#ffa400"/><stop offset="0.654" stop-color="#f6f601"/><stop offset="0.71" stop-color="#99ff5e"/><stop offset="0.762" stop-color="#0ff8e8"/><stop offset="0.769" stop-color="#00cbff"/><stop offset="0.793" stop-color="#000dff"/><stop offset="0.797" stop-color="#0000fe"/><stop offset="0.81" stop-color="#00008b"/><stop offset="0.824" stop-color="#000080"/><stop offset="1" stop-color="#000080"/></linearGradient>
<linearGradient id="h51" x1="0" y1="0" x2="0" y2="1"><stop offset="0" stop-color="#00d0ff"/><stop offset="0.083" stop-color="#0ff8e7"/><stop offset="0.254" stop-color="#a6ff51"/><stop offset="0.358" stop-color="#f7f500"/><stop offset="0.473" stop-color="#ff9900"/><stop offset="0.588" stop-color="#ffa000"/><stop offset="0.654" stop-color="#f8f400"/><stop offset="0.706" stop-color="#a3ff53"/><stop offset="0.762" stop-color="#12fce5"/><stop offset="0.769" stop-color="#00cfff"/><stop offset="0.797" stop-color="#0000ff"/><stop offset="0.81" stop-color="#00008d"/><stop offset="0.821" stop-color="#000080"/><stop offset="1" stop-color="#000080"/></linearGradient>
<linearGradient id="h52" x1="0" y1="0" x2="0" y2="1"><stop offset="0" stop-color="#00ceff"/><stop offset="0.08" stop-color="#0ef7e9"/><stop offset="0.226" stop-color="#96ff60"/><stop offset="0.355" stop-color="#f7f600"/><stop offset="0.473" stop-color="#ff9600"/><stop offset="0.591" stop-color="#ff9e00"/><stop offset="0.657" stop-color="#f6f601"/><stop offset="0.71" stop-color="#9dff5a"/><stop offset="0.762" stop-color="#16ffe1"/><stop offset="0.769" stop-color="#00d4ff"/><stop offset="0.797" stop-color="#0000ff"/><stop offset="0.81" stop-color="#00008e"/><stop offset="0.817" stop-color="#000080"/><stop offset="1" stop-color="#000080"/></linearGradient>
<linearGradient id="h53" x1="0" y1="0" x2="0" y2="1"><stop offset="0" stop-color="#00d3ff"/><stop offset="0.083" stop-color="#17fee0"/><stop offset="0.216" stop-color="#93ff64"/><stop offset="0.351" stop-color="#f6f701"/><stop offset="0.473" stop-color="#ff9500"/><stop offset="0.591" stop-color="#ff9b00"/><stop offset="0.657" stop-color="#f7f500"/><stop offset="0.706" stop-color="#a7ff50"/><stop offset="0.762" stop-color="#18ffde"/><stop offset="0.769" stop-color="#00d8ff"/><stop offset="0.797" stop-color="#0000ff"/><stop offset="0.803" stop-color="#0000cf"/><stop offset="0.81" stop-color="#000090"/><stop offset="0.817" stop-color="#000080"/><stop offset="1" stop-color="#000080"/></linearGradient>
<linearGradient id="h54" x1="0" y1="0" x2="0" y2="1"><stop offset="0" stop-color="#00e6f7"/><stop offset="0.077" stop-color="#1fffd8"/><stop offset="0.237" stop-color="#a2ff55"/><stop offset="0.351" stop-color="#f7f600"/><stop offset="0.473" stop-color="#ff9400"/><stop offset="0.591" stop-color="#ff9a00"/><stop offset="0.661" stop-color="#f5f802"/><stop offset="0.71" stop-color="#9fff57"/><stop offset="0.762" stop-color="#1affdd"/><stop offset="0.769" stop-color="#00daff"/><stop offset="0.797" stop-color="#0003ff"/><stop offset="0.8" stop-color="#0000f4"/><stop offset="0.81" stop-color="#000093"/><stop offset="0.817" stop-color="#000082"/><stop offset="1" stop-color="#000080"/></linearGradient>
<linearGradient id="h55" x1="0" y1="0" x2="0" y2="1"><stop offset="0" stop-color="#12fce5"/><stop offset="0.118" stop-color="#4affad"/><stop offset="0.348" stop-color="#f5f802"/><stop offset="0.463" stop-color="#ff9500"/><stop offset="0.588" stop-color="#ff9600"/><stop offset="0.661" stop-color="#f5f701"/><stop offset="0.71" stop-color="#a0ff56"/><stop offset="0.762" stop-color="#1bffdb"/><stop offset="0.769" stop-color="#00dcfe"/><stop offset="0.797" stop-color="#0007ff"/><stop offset="0.8" stop-color="#0000f8"/><stop offset="0.81" stop-color="#000097"/><stop offset="0.817" stop-color="#000085"/><stop offset="1" stop-color="#000080"/></linearGradient>
<linearGradient id="h56" x1="0" y1="0" x2="0" y2="1"><stop offset="0" stop-color="#29ffce"/><stop offset="0.129" stop-color="#5cff9b"/><stop offset="0.348" stop-color="#f6f701"/><stop offset="0.473" stop-color="#ff9300"/><stop offset="0.591" stop-color="#ff9700"/><stop offset="0.661" stop-color="#f7f500"/><stop offset="0.71" stop-color="#a4ff53"/><stop offset="0.765" stop-color="#10fae6"/><stop offset="0.772" stop-color="#00c9ff"/><stop offset="0.8" stop-color="#0000fe"/><stop offset="0.81" stop-color="#0000a3"/><stop offset="0.817" stop-color="#00008e"/><stop offset="0.856" stop-color="#000080"/><stop offset="1" stop-color="#000080"/></linearGradient>
<linearGradient id="h57" x1="0" y1="0" x2="0" y2="1"><stop offset="0" stop-color="#2dffca"/><stop offset="0.122" stop-color="#5bff9c"/><stop offset="0.344" stop-color="#f5f802"/><stop offset="0.477" stop-color="#ff9100"/><stop offset="0.591" stop-color="#ff9500"/><stop offset="0.664" stop-color="#f6f601"/><stop offset="0.71" stop-color="#a9ff4e"/><stop offset="0.765" stop-color="#17ffe0"/><stop offset="0.772" stop-color="#00d4ff"/><stop offset="0.8" stop-color="#0006ff"/><stop offset="0.803" stop-color="#0000f8"/><stop offset="0.814" stop-color="#0000a3"/><stop offset="0.835" stop-color="#000080"/><stop offset="1" stop-color="#000080"/></linearGradient>
<linearGradient id="h58" x1="0" y1="0" x2="0" y2="1"><stop offset="0" stop-color="#2dffca"/><stop offset="0.125" stop-color="#5bff9b"/><stop offset="0.344" stop-color="#f6f701"/><stop offset="0.477" stop-color="#ff9000"/><stop offset="0.591" stop-color="#ff9300"/><stop offset="0.668" stop-color="#f5f802"/><stop offset="0.713" stop-color="#a6ff51"/><stop offset="0.765" stop-color="#1dffda"/><stop offset="0.772" stop-color="#00defd"/><stop offset="0.797" stop-color="#0033ff"/><stop offset="0.803" stop-color="#0001ff"/><stop offset="0.814" stop-color="#0000b5"/><stop offset="0.835" stop-color="#000080"/><stop offset="1" stop-color="#000080"/></linearGradient>
<linearGradient id="h59" x1="0" y1="0" x2="0" y2="1"><stop offset="0" stop-color="#2dffca"/><stop offset="0.129" stop-color="#5bff9b"/><stop offset="0.344" stop-color="#f6f601"/><stop offset="0.48" stop-color="#ff8e00"/><stop offset="0.591" stop-color="#ff9000"/><stop offset="0.668" stop-color="#f8f400"/><stop offset="0.713" stop-color="#abff4b"/><stop offset="0.765" stop-color="#23ffd4"/><stop offset="0.772" stop-color="#02e8f5"/><stop offset="0.793" stop-color="#005fff"/><stop offset="0.803" stop-color="#000dff"/><stop offset="0.807" stop-color="#0000fd"/><stop offset="0.814" stop-color="#0000c6"/><stop offset="0.831" stop-color="#000081"/><stop offset="1" stop-color="#000080"/></linearGradient>
<linearGradient id="h60" x1="0" y1="0" x2="0" y2="1"><stop offset="0" stop-color="#1dffda"/><stop offset="0.146" stop-color="#62ff95"/><stop offset="0.344" stop-color="#f7f600"/><stop offset="0.48" stop-color="#ff8c00"/><stop offset="0.591" stop-color="#ff8e00"/><stop offset="0.671" stop-color="#f6f701"/><stop offset="0.717" stop-color="#a8ff4f"/><stop offset="0.765" stop-color="#28ffcf"/><stop offset="0.772" stop-color="#08efef"/><stop offset="0.779" stop-color="#00c9ff"/><stop offset="0.803" stop-color="#001aff"/><stop offset="0.807" stop-color="#0000ff"/><stop offset="0.831" stop-color="#000081"/><stop offset="1" stop-color="#000080"/></linearGradient>
<linearGradient id="h61" x1="0" y1="0" x2="0" y2="1"><stop offset="0" stop-color="#03e9f4"/><stop offset="0.024" stop-color="#1cffdb"/><stop offset="0.132" stop-color="#51ffa5"/><stop offset="0.344" stop-color="#f7f500"/><stop offset="0.48" stop-color="#ff8c00"/><stop offset="0.591" stop-color="#ff8e00"/><stop offset="0.654" stop-color="#ffdd00"/><stop offset="0.682" stop-color="#e9ff0e"/><stop offset="0.727" stop-color="#92ff64"/><stop offset="0.769" stop-color="#1bffdc"/><stop offset="0.779" stop-color="#00cdff"/><stop offset="0.8" stop-color="#003cff"/><stop offset="0.807" stop-color="#0005ff"/><stop offset="0.831" stop-color="#000081"/><stop offset="1" stop-color="#000080"/></linearGradient>
<linearGradient id="h62" x1="0" y1="0" x2="0" y2="1"><stop offset="0" stop-color="#00d5ff"/><stop offset="0.035" stop-color="#18ffdf"/><stop offset="0.139" stop-color="#52ffa4"/><stop offset="0.344" stop-color="#f7f500"/><stop offset="0.48" stop-color="#ff8c00"/><stop offset="0.591" stop-color="#ff8d00"/><stop offset="0.647" stop-color="#ffd200"/><stop offset="0.675" stop-color="#f3fa04"/><stop offset="0.72" stop-color="#a4ff53"/><stop offset="0.769" stop-color="#1cffda"/><stop offset="0.776" stop-color="#00e3f9"/><stop offset="0.793" stop-color="#0076ff"/><stop offset="0.807" stop-color="#0009ff"/><stop offset="0.81" stop-color="#0000f8"/><stop offset="0.831" stop-color="#000081"/><stop offset="1" stop-color="#000080"/></linearGradient>
<linearGradient id="h63" x1="0" y1="0" x2="0" y2="1"><stop offset="0" stop-color="#00c2ff"/><stop offset="0.045" stop-color="#14fde2"/><stop offset="0.17" stop-color="#6fff88"/><stop offset="0.341" stop-color="#f5f802"/><stop offset="0.473" stop-color="#ff8d00"/><stop offset="0.591" stop-color="#ff8c00"/><stop offset="0.64" stop-color="#ffc600"/><stop offset="0.675" stop-color="#f4f803"/><stop offset="0.72" stop-color="#a6ff51"/><stop offset="0.769" stop-color="#1fffd8"/><stop offset="0.779" stop-color="#00d5ff"/><stop offset="0.797" stop-color="#0062ff"/><stop offset="0.81" stop-color="#0000fe"/><stop offset="0.831" stop-color="#000082"/><stop offset="1" stop-color="#000080"/></linearGradient>
<linearGradient id="h64" x1="0" y1="0" x2="0" y2="1"><stop offset="0" stop-color="#00b5ff"/><stop offset="0.045" stop-color="#05ebf2"/><stop offset="0.08" stop-color="#23ffd4"/><stop offset="0.341" stop-color="#f5f702"/><stop offset="0.48" stop-color="#ff8a00"/><stop offset="0.591" stop-color="#ff8b00"/><stop offset="0.637" stop-color="#ffbf00"/><stop offset="0.675" stop-color="#f6f601"/><stop offset="0.723" stop-color="#a2ff55"/><stop offset="0.769" stop-color="#23ffd4"/><stop offset="0.776" stop-color="#06edf1"/><stop offset="0.786" stop-color="#00b7ff"/><stop offset="0.81" stop-color="#0000ff"/><stop offset="0.831" stop-color="#000082"/><stop offset="1" stop-color="#000080"/></linearGradient>
<linearGradient id="h65" x1="0" y1="0" x2="0" y2="1"><stop offset="0" stop-color="#00b3ff"/><stop offset="0.052" stop-color="#02e8f5"/><stop offset="0.083" stop-color="#24ffd3"/><stop offset="0.341" stop-color="#f7f600"/><stop offset="0.483" stop-color="#ff8900"/><stop offset="0.591" stop-color="#ff8900"/><stop offset="0.63" stop-color="#ffb100"/><stop offset="0.678" stop-color="#f4f903"/><stop offset="0.727" stop-color="#9eff59"/><stop offset="0.772" stop-color="#1affdc"/><stop offset="0.783" stop-color="#00d4ff"/><stop offset="0.803" stop-color="#0042ff"/><stop offset="0.81" stop-color="#0007ff"/><stop offset="0.817" stop-color="#0000e5"/><stop offset="0.831" stop-color="#000082"/><stop offset="1" stop-color="#000080"/></linearGradient>
<linearGradient id="h66" x1="0" y1="0" x2="0" y2="1"><stop offset="0" stop-color="#00b3ff"/><stop offset="0.049" stop-color="#02e8f4"/><stop offset="0.08" stop-color="#24ffd3"/><stop offset="0.247" stop-color="#afff48"/><stop offset="0.337" stop-color="#f6f701"/><stop offset="0.483" stop-color="#ff8800"/><stop offset="0.591" stop-color="#ff8700"/><stop offset="0.626" stop-color="#ffa700"/><stop offset="0.678" stop-color="#f7f600"/><stop offset="0.727" stop-color="#a3ff54"/><stop offset="0.776" stop-color="#14fee3"/><stop offset="0.786" stop-color="#00ceff"/><stop offset="0.814" stop-color="#0000ff"/><stop offset="0.828" stop-color="#00009e"/><stop offset="0.831" stop-color="#000082"/><stop offset="1" stop-color="#000080"/></linearGradient>
<linearGradient id="h67" x1="0" y1="0" x2="0" y2="1"><stop offset="0" stop-color="#00baff"/><stop offset="0.038" stop-color="#06edf0"/><stop offset="0.073" stop-color="#23ffd4"/><stop offset="0.243" stop-color="#aeff48"/><stop offset="0.337" stop-color="#f7f600"/><stop offset="0.487" stop-color="#ff8600"/><stop offset="0.591" stop-color="#ff8600"/><stop offset="0.626" stop-color="#ffa500"/><stop offset="0.682" stop-color="#f4f802"/><stop offset="0.73" stop-color="#9dff5a"/><stop offset="0.776" stop-color="#19ffde"/><stop offset="0.786" stop-color="#00d6ff"/><stop offset="0.814" stop-color="#0002ff"/><stop offset="0.817" stop-color="#0000f7"/><stop offset="0.831" stop-color="#000082"/><stop offset="1" stop-color="#000080"/></linearGradient>
<linearGradient id="h68" x1="0" y1="0" x2="0" y2="1"><stop offset="0" stop-color="#00ccff"/><stop offset="0.042" stop-color="#17ffe0"/><stop offset="0.139" stop-color="#5dff9a"/><stop offset="0.334" stop-color="#f5f702"/><stop offset="0.487" stop-color="#ff8600"/><stop offset="0.591" stop-color="#ff8500"/><stop offset="0.626" stop-color="#ffa300"/><stop offset="0.682" stop-color="#f6f601"/><stop offset="0.73" stop-color="#a0ff57"/><stop offset="0.779" stop-color="#12fbe5"/><stop offset="0.79" stop-color="#00c9ff"/><stop offset="0.814" stop-color="#0009ff"/><stop offset="0.817" stop-color="#0000fe"/><stop offset="0.831" stop-color="#000083"/><stop offset="1" stop-color="#000080"/></linearGradient>
<linearGradient id="h69" x1="0" y1="0" x2="0" y2="1"><stop offset="0" stop-color="#00e1fa"/><stop offset="0.035" stop-color="#19ffde"/><stop offset="0.125" stop-color="#52ffa5"/><stop offset="0.216" stop-color="#9eff58"/><stop offset="0.334" stop-color="#f6f601"/><stop offset="0.487" stop-color="#ff8500"/><stop offset="0.591" stop-color="#ff8400"/><stop offset="0.626" stop-color="#ffa100"/><stop offset="0.682" stop-color="#f8f500"/><stop offset="0.727" stop-color="#abff4b"/><stop offset="0.779" stop-color="#15ffe1"/><stop offset="0.79" stop-color="#00cfff"/><stop offset="0.814" stop-color="#000fff"/><stop offset="0.817" stop-color="#0000ff"/><stop offset="0.831" stop-color="#000083"/><stop offset="1" stop-color="#000080"/></linearGradient>
<linearGradient id="h70" x1="0" y1="0" x2="0" y2="1"><stop offset="0" stop-color="#11f9e6"/><stop offset="0.122" stop-color="#54ffa2"/><stop offset="0.257" stop-color="#bbff3c"/><stop offset="0.334" stop-color="#f7f600"/><stop offset="0.487" stop-color="#ff8400"/><stop offset="0.588" stop-color="#ff8200"/><stop offset="0.623" stop-color="#ff9900"/><stop offset="0.685" stop-color="#f5f802"/><stop offset="0.734" stop-color="#9bff5c"/><stop offset="0.783" stop-color="#0ef7e9"/><stop offset="0.793" stop-color="#00bbff"/><stop offset="0.817" stop-color="#0000ff"/><stop offset="0.831" stop-color="#000083"/><stop offset="1" stop-color="#000080"/></linearGradient>
<linearGradient id="h71" x1="0" y1="0" x2="0" y2="1"><stop offset="0" stop-color="#24ffd2"/><stop offset="0.108" stop-color="#54ffa3"/><stop offset="0.33" stop-color="#f6f701"/><stop offset="0.49" stop-color="#ff8300"/><stop offset="0.588" stop-color="#ff8100"/><stop offset="0.623" stop-color="#ff9500"/><stop offset="0.689" stop-color="#f4f903"/><stop offset="0.737" stop-color="#96ff61"/><stop offset="0.786" stop-color="#0df5ea"/><stop offset="0.797" stop-color="#00aeff"/><stop offset="0.817" stop-color="#0004ff"/><stop offset="0.821" stop-color="#0000f1"/><stop offset="0.831" stop-color="#000083"/><stop offset="1" stop-color="#000080"/></linearGradient>
<linearGradient id="h72" x1="0" y1="0" x2="0" y2="1"><stop offset="0" stop-color="#2affcd"/><stop offset="0.118" stop-color="#67ff8f"/><stop offset="0.327" stop-color="#f5f802"/><stop offset="0.49" stop-color="#ff8200"/><stop offset="0.588" stop-color="#ff7f00"/><stop offset="0.623" stop-color="#ff9200"/><stop offset="0.689" stop-color="#f6f600"/><stop offset="0.734" stop-color="#a3ff53"/><stop offset="0.786" stop-color="#14ffe3"/><stop offset="0.793" stop-color="#00d2ff"/><stop offset="0.817" stop-color="#000bff"/><stop offset="0.821" stop-color="#0000f8"/><stop offset="0.831" stop-color="#000084"/><stop offset="1" stop-color="#000080"/></linearGradient>
<linearGradient id="h73" x1="0" y1="0" x2="0" y2="1"><stop offset="0" stop-color="#00e6f7"/><stop offset="0.021" stop-color="#1dffda"/><stop offset="0.17" stop-color="#92ff64"/><stop offset="0.327" stop-color="#f6f701"/><stop offset="0.49" stop-color="#ff8100"/><stop offset="0.588" stop-color="#ff7f00"/><stop offset="0.623" stop-color="#ff9100"/><stop offset="0.689" stop-color="#f7f500"/><stop offset="0.734" stop-color="#a5ff52"/><stop offset="0.786" stop-color="#17ffe0"/><stop offset="0.793" stop-color="#00d6ff"/><stop offset="0.817" stop-color="#000eff"/><stop offset="0.821" stop-color="#0000fb"/><stop offset="0.831" stop-color="#000084"/><stop offset="1" stop-color="#000080"/></linearGradient>
<linearGradient id="h74" x1="0" y1="0" x2="0" y2="1"><stop offset="0" stop-color="#0043ff"/><stop offset="0.066" stop-color="#02e5f7"/><stop offset="0.083" stop-color="#24ffd3"/><stop offset="0.146" stop-color="#89ff6e"/><stop offset="0.327" stop-color="#f7f600"/><stop offset="0.49" stop-color="#ff8100"/><stop offset="0.588" stop-color="#ff7e00"/><stop offset="0.623" stop-color="#ff8f00"/><stop offset="0.692" stop-color="#f5f802"/><stop offset="0.737" stop-color="#9dff5a"/><stop offset="0.786" stop-color="#1affdd"/><stop offset="0.793" stop-color="#00daff"/><stop offset="0.814" stop-color="#0032ff"/><stop offset="0.821" stop-color="#0000fe"/><stop offset="0.831" stop-color="#000087"/><stop offset="1" stop-color="#000080"/></linearGradient>
<linearGradient id="h75" x1="0" y1="0" x2="0" y2="1"><stop offset="0" stop-color="#17ffe0"/><stop offset="0.08" stop-color="#76ff81"/><stop offset="0.323" stop-color="#f5f701"/><stop offset="0.494" stop-color="#ff8000"/><stop offset="0.588" stop-color="#ff7d00"/><stop offset="0.623" stop-color="#ff8e00"/><stop offset="0.692" stop-color="#f5f701"/><stop offset="0.737" stop-color="#9fff58"/><stop offset="0.79" stop-color="#0df5ea"/><stop offset="0.793" stop-color="#00ddfe"/><stop offset="0.814" stop-color="#0036ff"/><stop offset="0.821" stop-color="#0000ff"/><stop offset="0.831" stop-color="#00008b"/><stop offset="0.894" stop-color="#000080"/><stop offset="1" stop-color="#000080"/></linearGradient>
<linearGradient id="h76" x1="0" y1="0" x2="0" y2="1"><stop offset="0" stop-color="#5bff9b"/><stop offset="0.323" stop-color="#f7f500"/><stop offset="0.494" stop-color="#ff8000"/><stop offset="0.588" stop-color="#ff7b00"/><stop offset="0.623" stop-color="#ff8c00"/><stop offset="0.692" stop-color="#f6f600"/><stop offset="0.737" stop-color="#a0ff56"/><stop offset="0.79" stop-color="#0ff8e8"/><stop offset="0.797" stop-color="#00c8ff"/><stop offset="0.821" stop-color="#0000ff"/><stop offset="0.831" stop-color="#000091"/><stop offset="0.859" stop-color="#000080"/><stop offset="1" stop-color="#000080"/></linearGradient>
<linearGradient id="h77" x1="0" y1="0" x2="0" y2="1"><stop offset="0" stop-color="#5cff9a"/><stop offset="0.146" stop-color="#a6ff51"/><stop offset="0.32" stop-color="#f7f500"/><stop offset="0.494" stop-color="#ff7f00"/><stop offset="0.591" stop-color="#ff7900"/><stop offset="0.626" stop-color="#ff8d00"/><stop offset="0.692" stop-color="#f8f400"/><stop offset="0.737" stop-color="#a3ff53"/><stop offset="0.79" stop-color="#12fce4"/><stop offset="0.797" stop-color="#00ceff"/><stop offset="0.817" stop-color="#0023ff"/><stop offset="0.821" stop-color="#0002ff"/><stop offset="0.824" stop-color="#0000eb"/><stop offset="0.831" stop-color="#00009c"/><stop offset="0.849" stop-color="#000080"/><stop offset="1" stop-color="#000080"/></linearGradient>
<linearGradient id="h78" x1="0" y1="0" x2="0" y2="1"><stop offset="0" stop-color="#45ffb2"/><stop offset="0.063" stop-color="#83ff74"/><stop offset="0.317" stop-color="#f6f601"/><stop offset="0.497" stop-color="#ff7e00"/><stop offset="0.595" stop-color="#ff7800"/><stop offset="0.626" stop-color="#ff8a00"/><stop offset="0.696" stop-color="#f5f701"/><stop offset="0.741" stop-color="#9dff5a"/><stop offset="0.79" stop-color="#15ffe2"/><stop offset="0.797" stop-color="#00d3ff"/><stop offset="0.817" stop-color="#0029ff"/><stop offset="0.821" stop-color="#0008ff"/><stop offset="0.824" stop-color="#0000f2"/><stop offset="0.831" stop-color="#0000a4"/><stop offset="0.845" stop-color="#000080"/><stop offset="1" stop-color="#000080"/></linearGradient>
<linearGradient id="h79" x1="0" y1="0" x2="0" y2="1"><stop offset="0" stop-color="#0ff8e8"/><stop offset="0.052" stop-color="#7eff79"/><stop offset="0.317" stop-color="#f6f601"/><stop offset="0.497" stop-color="#ff7d00"/><stop offset="0.595" stop-color="#ff7700"/><stop offset="0.626" stop-color="#ff8900"/><stop offset="0.696" stop-color="#f6f701"/><stop offset="0.741" stop-color="#9eff59"/><stop offset="0.79" stop-color="#16ffe1"/><stop offset="0.797" stop-color="#00d5ff"/><stop offset="0.817" stop-color="#002bff"/><stop offset="0.821" stop-color="#000aff"/><stop offset="0.824" stop-color="#0000f5"/><stop offset="0.831" stop-color="#0000a7"/><stop offset="0.845" stop-color="#000080"/><stop offset="1" stop-color="#000080"/></linearGradient>
<linearGradient id="h80" x1="0" y1="0" x2="0" y2="1"><stop offset="0" stop-color="#0079ff"/><stop offset="0.024" stop-color="#00e3f9"/><stop offset="0.031" stop-color="#1bffdc"/><stop offset="0.052" stop-color="#6cff8b"/><stop offset="0.101" stop-color="#92ff65"/><stop offset="0.317" stop-color="#f6f601"/><stop offset="0.497" stop-color="#ff7d00"/><stop offset="0.595" stop-color="#ff7600"/><stop offset="0.626" stop-color="#ff8800"/><stop offset="0.696" stop-color="#f6f601"/><stop offset="0.741" stop-color="#9fff58"/><stop offset="0.79" stop-color="#17ffe0"/><stop offset="0.797" stop-color="#00d7ff"/><stop offset="0.817" stop-color="#002eff"/><stop offset="0.821" stop-color="#000dff"/><stop offset="0.824" stop-color="#0000f8"/><stop offset="0.831" stop-color="#0000aa"/><stop offset="0.845" stop-color="#000080"/><stop offset="1" stop-color="#000080"/></linearGradient>
<linearGradient id="h81" x1="0" y1="0" x2="0" y2="1"><stop offset="0" stop-color="#002eff"/><stop offset="0.035" stop-color="#00b3ff"/><stop offset="0.042" stop-color="#00d9ff"/><stop offset="0.049" stop-color="#17ffe0"/><stop offset="0.08" stop-color="#86ff71"/><stop offset="0.317" stop-color="#f6f601"/><stop offset="0.497" stop-color="#ff7d00"/><stop offset="0.595" stop-color="#ff7600"/><stop offset="0.63" stop-color="#ff8c00"/><stop offset="0.696" stop-color="#f7f600"/><stop offset="0.741" stop-color="#9fff57"/><stop offset="0.79" stop-color="#18ffdf"/><stop offset="0.797" stop-color="#00d9ff"/><stop offset="0.817" stop-color="#0030ff"/><stop offset="0.824" stop-color="#0000fb"/><stop offset="0.831" stop-color="#0000ad"/><stop offset="0.845" stop-color="#000080"/><stop offset="1" stop-color="#000080"/></linearGradient>
<linearGradient id="h82" x1="0" y1="0" x2="0" y2="1"><stop offset="0" stop-color="#006cff"/><stop offset="0.028" stop-color="#00d8ff"/><stop offset="0.038" stop-color="#1effd9"/><stop offset="0.063" stop-color="#71ff86"/><stop offset="0.146" stop-color="#a3ff54"/><stop offset="0.317" stop-color="#f6f601"/><stop offset="0.501" stop-color="#ff7c00"/><stop offset="0.598" stop-color="#ff7600"/><stop offset="0.63" stop-color="#ff8b00"/><stop offset="0.696" stop-color="#f7f500"/><stop offset="0.741" stop-color="#a0ff56"/><stop offset="0.79" stop-color="#19ffde"/><stop offset="0.797" stop-color="#00dbff"/><stop offset="0.817" stop-color="#0033ff"/><stop offset="0.824" stop-color="#0000fe"/><stop offset="0.831" stop-color="#0000b0"/><stop offset="0.845" stop-color="#000080"/><stop offset="1" stop-color="#000080"/></linearGradient>
<linearGradient id="h83" x1="0" y1="0" x2="0" y2="1"><stop offset="0" stop-color="#00bcff"/><stop offset="0.021" stop-color="#09f1ee"/><stop offset="0.038" stop-color="#2dffc9"/><stop offset="0.077" stop-color="#7dff79"/><stop offset="0.317" stop-color="#f6f601"/><stop offset="0.501" stop-color="#ff7c00"/><stop offset="0.598" stop-color="#ff7500"/><stop offset="0.63" stop-color="#ff8900"/><stop offset="0.696" stop-color="#f8f500"/><stop offset="0.741" stop-color="#a1ff55"/><stop offset="0.79" stop-color="#1affdd"/><stop offset="0.797" stop-color="#00ddfe"/><stop offset="0.817" stop-color="#0035ff"/><stop offset="0.824" stop-color="#0000ff"/><stop offset="0.831" stop-color="#0000b3"/><stop offset="0.845" stop-color="#000080"/><stop offset="1" stop-color="#000080"/></linearGradient>
<linearGradient id="h84" x1="0" y1="0" x2="0" y2="1"><stop offset="0" stop-color="#00d5ff"/><stop offset="0.035" stop-color="#1bffdc"/><stop offset="0.087" stop-color="#7fff77"/><stop offset="0.317" stop-color="#f6f601"/><stop offset="0.501" stop-color="#ff7b00"/><stop offset="0.598" stop-color="#ff7400"/><stop offset="0.63" stop-color="#ff8800"/><stop offset="0.696" stop-color="#f8f400"/><stop offset="0.737" stop-color="#abff4c"/><stop offset="0.79" stop-color="#1bffdc"/><stop offset="0.8" stop-color="#00cbff"/><stop offset="0.824" stop-color="#0000ff"/><stop offset="0.831" stop-color="#0000b6"/><stop offset="0.845" stop-color="#000080"/><stop offset="1" stop-color="#000080"/></linearGradient>
<linearGradient id="h85" x1="0" y1="0" x2="0" y2="1"><stop offset="0" stop-color="#00d5ff"/><stop offset="0.038" stop-color="#16fee1"/><stop offset="0.101" stop-color="#81ff76"/><stop offset="0.317" stop-color="#f6f601"/><stop offset="0.501" stop-color="#ff7b00"/><stop offset="0.598" stop-color="#ff7300"/><stop offset="0.63" stop-color="#ff8600"/><stop offset="0.696" stop-color="#f9f300"/><stop offset="0.727" stop-color="#c4ff32"/><stop offset="0.79" stop-color="#1cffda"/><stop offset="0.797" stop-color="#00e2fa"/><stop offset="0.817" stop-color="#003bff"/><stop offset="0.824" stop-color="#0000ff"/><stop offset="0.831" stop-color="#0000bb"/><stop offset="0.845" stop-color="#000080"/><stop offset="1" stop-color="#000080"/></linearGradient>
<linearGradient id="h86" x1="0" y1="0" x2="0" y2="1"><stop offset="0" stop-color="#00d3ff"/><stop offset="0.045" stop-color="#15fee2"/><stop offset="0.118" stop-color="#83ff74"/><stop offset="0.317" stop-color="#f6f600"/><stop offset="0.501" stop-color="#ff7a00"/><stop offset="0.598" stop-color="#ff7100"/><stop offset="0.633" stop-color="#ff8a00"/><stop offset="0.699" stop-color="#f5f802"/><stop offset="0.744" stop-color="#9cff5b"/><stop offset="0.793" stop-color="#0ff8e8"/><stop offset="0.8" stop-color="#00d2ff"/><stop offset="0.824" stop-color="#0000ff"/><stop offset="0.835" stop-color="#0000ad"/><stop offset="0.845" stop-color="#000080"/><stop offset="1" stop-color="#000080"/></linearGradient>
<linearGradient id="h87" x1="0" y1="0" x2="0" y2="1"><stop offset="0" stop-color="#00d2ff"/><stop offset="0.049" stop-color="#12fce4"/><stop offset="0.129" stop-color="#84ff73"/><stop offset="0.317" stop-color="#f6f600"/><stop offset="0.504" stop-color="#ff7800"/><stop offset="0.605" stop-color="#ff7000"/><stop offset="0.637" stop-color="#ff8c00"/><stop offset="0.699" stop-color="#f6f600"/><stop offset="0.748" stop-color="#95ff62"/><stop offset="0.793" stop-color="#13fde4"/><stop offset="0.803" stop-color="#00beff"/><stop offset="0.824" stop-color="#0005ff"/><stop offset="0.828" stop-color="#0000f0"/><stop offset="0.835" stop-color="#0000b4"/><stop offset="0.845" stop-color="#000080"/><stop offset="1" stop-color="#000080"/></linearGradient>
<linearGradient id="h88" x1="0" y1="0" x2="0" y2="1"><stop offset="0" stop-color="#00d1ff"/><stop offset="0.042" stop-color="#0af2ed"/><stop offset="0.066" stop-color="#33ffc4"/><stop offset="0.115" stop-color="#81ff76"/><stop offset="0.317" stop-color="#f6f600"/><stop offset="0.508" stop-color="#ff7600"/><stop offset="0.609" stop-color="#ff6f00"/><stop offset="0.64" stop-color="#ff8e00"/><stop offset="0.699" stop-color="#f8f400"/><stop offset="0.741" stop-color="#acff4b"/><stop offset="0.793" stop-color="#17ffdf"/><stop offset="0.803" stop-color="#00c6ff"/><stop offset="0.824" stop-color="#000eff"/><stop offset="0.828" stop-color="#0000fa"/><stop offset="0.838" stop-color="#0000a3"/><stop offset="0.845" stop-color="#000080"/><stop offset="1" stop-color="#000080"/></linearGradient>
<linearGradient id="h89" x1="0" y1="0" x2="0" y2="1"><stop offset="0" stop-color="#00d1ff"/><stop offset="0.038" stop-color="#07eef0"/><stop offset="0.059" stop-color="#31ffc6"/><stop offset="0.104" stop-color="#81ff76"/><stop offset="0.317" stop-color="#f6f600"/><stop offset="0.508" stop-color="#ff7500"/><stop offset="0.612" stop-color="#ff6d00"/><stop offset="0.643" stop-color="#ff9200"/><stop offset="0.703" stop-color="#f4f802"/><stop offset="0.748" stop-color="#9aff5d"/><stop offset="0.797" stop-color="#0ef7e9"/><stop offset="0.807" stop-color="#00aeff"/><stop offset="0.828" stop-color="#0000ff"/><stop offset="0.842" stop-color="#00008d"/><stop offset="0.852" stop-color="#000080"/><stop offset="1" stop-color="#000080"/></linearGradient>
<linearGradient id="h90" x1="0" y1="0" x2="0" y2="1"><stop offset="0" stop-color="#00d1ff"/><stop offset="0.035" stop-color="#04ebf2"/><stop offset="0.052" stop-color="#27ffcf"/><stop offset="0.094" stop-color="#7eff78"/><stop offset="0.317" stop-color="#f6f600"/><stop offset="0.511" stop-color="#ff7300"/><stop offset="0.612" stop-color="#ff6c00"/><stop offset="0.64" stop-color="#ff8900"/><stop offset="0.703" stop-color="#f5f701"/><stop offset="0.748" stop-color="#9cff5b"/><stop offset="0.797" stop-color="#11fae6"/><stop offset="0.807" stop-color="#00b3ff"/><stop offset="0.828" stop-color="#0000ff"/><stop offset="0.842" stop-color="#00008e"/><stop offset="0.849" stop-color="#000080"/><stop offset="1" stop-color="#000080"/></linearGradient>
<linearGradient id="h91" x1="0" y1="0" x2="0" y2="1"><stop offset="0" stop-color="#00d1ff"/><stop offset="0.035" stop-color="#08efef"/><stop offset="0.049" stop-color="#28ffcf"/><stop offset="0.087" stop-color="#7fff78"/><stop offset="0.317" stop-color="#f6f600"/><stop offset="0.511" stop-color="#ff7200"/><stop offset="0.612" stop-color="#ff6a00"/><stop offset="0.64" stop-color="#ff8600"/><stop offset="0.703" stop-color="#f6f600"/><stop offset="0.748" stop-color="#9eff59"/><stop offset="0.797" stop-color="#14fee3"/><stop offset="0.803" stop-color="#00d4ff"/><stop offset="0.828" stop-color="#0000ff"/><stop offset="0.842" stop-color="#00008e"/><stop offset="0.849" stop-color="#000080"/><stop offset="1" stop-color="#000080"/></linearGradient>
<linearGradient id="h92" x1="0" y1="0" x2="0" y2="1"><stop offset="0" stop-color="#00d1ff"/><stop offset="0.031" stop-color="#0af2ed"/><stop offset="0.052" stop-color="#40ffb7"/><stop offset="0.08" stop-color="#7fff78"/><stop offset="0.317" stop-color="#f6f600"/><stop offset="0.515" stop-color="#ff7000"/><stop offset="0.612" stop-color="#ff6900"/><stop offset="0.64" stop-color="#ff8400"/><stop offset="0.703" stop-color="#f7f500"/><stop offset="0.748" stop-color="#9fff57"/><stop offset="0.797" stop-color="#17ffe0"/><stop offset="0.803" stop-color="#00d8ff"/><stop offset="0.828" stop-color="#0003ff"/><stop offset="0.835" stop-color="#0000cf"/><stop offset="0.842" stop-color="#00008f"/><stop offset="0.849" stop-color="#000080"/><stop offset="1" stop-color="#000080"/></linearGradient>
<linearGradient id="h93" x1="0" y1="0" x2="0" y2="1"><stop offset="0" stop-color="#00d3ff"/><stop offset="0.024" stop-color="#0cf4eb"/><stop offset="0.059" stop-color="#62ff94"/><stop offset="0.08" stop-color="#82ff74"/><stop offset="0.317" stop-color="#f6f600"/><stop offset="0.518" stop-color="#ff6e00"/><stop offset="0.616" stop-color="#ff6800"/><stop offset="0.643" stop-color="#ff8800"/><stop offset="0.703" stop-color="#f8f400"/><stop offset="0.748" stop-color="#a1ff56"/><stop offset="0.8" stop-color="#0ef7e9"/><stop offset="0.803" stop-color="#00dbff"/><stop offset="0.828" stop-color="#0007ff"/><stop offset="0.831" stop-color="#0000f4"/><stop offset="0.842" stop-color="#000090"/><stop offset="0.849" stop-color="#000080"/><stop offset="1" stop-color="#000080"/></linearGradient>
<linearGradient id="h94" x1="0" y1="0" x2="0" y2="1"><stop offset="0" stop-color="#00d9ff"/><stop offset="0.024" stop-color="#1effd9"/><stop offset="0.07" stop-color="#7eff78"/><stop offset="0.317" stop-color="#f6f600"/><stop offset="0.518" stop-color="#ff6d00"/><stop offset="0.612" stop-color="#ff6700"/><stop offset="0.637" stop-color="#ff7b00"/><stop offset="0.703" stop-color="#f9f300"/><stop offset="0.748" stop-color="#a2ff55"/><stop offset="0.8" stop-color="#10f9e7"/><stop offset="0.803" stop-color="#00ddfd"/><stop offset="0.828" stop-color="#0009ff"/><stop offset="0.831" stop-color="#0000f7"/><stop offset="0.842" stop-color="#000090"/><stop offset="0.849" stop-color="#000080"/><stop offset="1" stop-color="#000080"/></linearGradient>
<linearGradient id="h95" x1="0" y1="0" x2="0" y2="1"><stop offset="0" stop-color="#00e5f7"/><stop offset="0.014" stop-color="#1fffd8"/><stop offset="0.07" stop-color="#81ff76"/><stop offset="0.317" stop-color="#f6f600"/><stop offset="0.522" stop-color="#ff6b00"/><stop offset="0.616" stop-color="#ff6700"/><stop offset="0.64" stop-color="#ff8000"/><stop offset="0.706" stop-color="#f5f802"/><stop offset="0.748" stop-color="#a3ff54"/><stop offset="0.8" stop-color="#12fce5"/><stop offset="0.803" stop-color="#00dffc"/><stop offset="0.828" stop-color="#000cff"/><stop offset="0.831" stop-color="#0000fa"/><stop offset="0.842" stop-color="#000091"/><stop offset="0.849" stop-color="#000080"/><stop offset="1" stop-color="#000080"/></linearGradient>
<linearGradient id="h96" x1="0" y1="0" x2="0" y2="1"><stop offset="0" stop-color="#0ff8e8"/><stop offset="0.031" stop-color="#56ffa1"/><stop offset="0.08" stop-color="#87ff6f"/><stop offset="0.317" stop-color="#f6f600"/><stop offset="0.522" stop-color="#ff6b00"/><stop offset="0.616" stop-color="#ff6600"/><stop offset="0.64" stop-color="#ff7f00"/><stop offset="0.706" stop-color="#f5f702"/><stop offset="0.748" stop-color="#a3ff53"/><stop offset="0.8" stop-color="#13fde3"/><stop offset="0.803" stop-color="#00e1fa"/><stop offset="0.828" stop-color="#000eff"/><stop offset="0.831" stop-color="#0000fc"/><stop offset="0.842" stop-color="#000092"/><stop offset="0.849" stop-color="#000080"/><stop offset="1" stop-color="#000080"/></linearGradient>
<linearGradient id="h97" x1="0" y1="0" x2="0" y2="1"><stop offset="0" stop-color="#25ffd1"/><stop offset="0.024" stop-color="#57ffa0"/><stop offset="0.09" stop-color="#8dff6a"/><stop offset="0.317" stop-color="#f6f600"/><stop offset="0.522" stop-color="#ff6a00"/><stop offset="0.616" stop-color="#ff6500"/><stop offset="0.64" stop-color="#ff7d00"/><stop offset="0.706" stop-color="#f6f601"/><stop offset="0.748" stop-color="#a4ff52"/><stop offset="0.8" stop-color="#15ffe2"/><stop offset="0.803" stop-color="#00e3f9"/><stop offset="0.828" stop-color="#0011ff"/><stop offset="0.831" stop-color="#0000ff"/><stop offset="0.842" stop-color="#000093"/><stop offset="0.849" stop-color="#000080"/><stop offset="1" stop-color="#000080"/></linearGradient>
<linearGradient id="h98" x1="0" y1="0" x2="0" y2="1"><stop offset="0" stop-color="#3cffbb"/><stop offset="0.073" stop-color="#82ff75"/><stop offset="0.317" stop-color="#f6f600"/><stop offset="0.522" stop-color="#ff6a00"/><stop offset="0.616" stop-color="#ff6400"/><stop offset="0.64" stop-color="#ff7b00"/><stop offset="0.706" stop-color="#f8f500"/><stop offset="0.748" stop-color="#a5ff51"/><stop offset="0.8" stop-color="#16ffe1"/><stop offset="0.803" stop-color="#00e5f7"/><stop offset="0.831" stop-color="#0000ff"/><stop offset="0.842" stop-color="#000096"/><stop offset="0.849" stop-color="#000082"/><stop offset="1" stop-color="#000080"/></linearGradient>
<linearGradient id="h99" x1="0" y1="0" x2="0" y2="1"><stop offset="0" stop-color="#4bffac"/><stop offset="0.17" stop-color="#b3ff44"/><stop offset="0.317" stop-color="#f6f600"/><stop offset="0.522" stop-color="#ff6900"/><stop offset="0.616" stop-color="#ff6200"/><stop offset="0.643" stop-color="#ff7e00"/><stop offset="0.71" stop-color="#f5f802"/><stop offset="0.751" stop-color="#9dff5a"/><stop offset="0.8" stop-color="#17ffdf"/><stop offset="0.803" stop-color="#02e7f5"/><stop offset="0.831" stop-color="#0000ff"/><stop offset="0.842" stop-color="#00009b"/><stop offset="0.849" stop-color="#000084"/><stop offset="1" stop-color="#000080"/></linearGradient>
<linearGradient id="h100" x1="0" y1="0" x2="0" y2="1"><stop offset="0" stop-color="#4cffaa"/><stop offset="0.111" stop-color="#98ff5f"/><stop offset="0.317" stop-color="#f7f600"/><stop offset="0.522" stop-color="#ff6800"/><stop offset="0.619" stop-color="#ff6000"/><stop offset="0.654" stop-color="#ff8b00"/><stop offset="0.71" stop-color="#f7f500"/><stop offset="0.751" stop-color="#9fff57"/><stop offset="0.8" stop-color="#19ffde"/><stop offset="0.807" stop-color="#00d1ff"/><stop offset="0.831" stop-color="#0000ff"/><stop offset="0.838" stop-color="#0000c5"/><stop offset="0.845" stop-color="#00008c"/><stop offset="0.88" stop-color="#000080"/><stop offset="1" stop-color="#000080"/></linearGradient>
<linearGradient id="h101" x1="0" y1="0" x2="0" y2="1"><stop offset="0" stop-color="#4bffac"/><stop offset="0.09" stop-color="#90ff67"/><stop offset="0.317" stop-color="#f7f600"/><stop offset="0.518" stop-color="#ff6900"/><stop offset="0.616" stop-color="#ff5e00"/><stop offset="0.647" stop-color="#ff7c00"/><stop offset="0.71" stop-color="#faf200"/><stop offset="0.73" stop-color="#d3ff24"/><stop offset="0.8" stop-color="#1bffdc"/><stop offset="0.807" stop-color="#00d5ff"/><stop offset="0.831" stop-color="#0003ff"/><stop offset="0.835" stop-color="#0000f0"/><stop offset="0.842" stop-color="#0000a7"/><stop offset="0.849" stop-color="#00008a"/><stop offset="0.89" stop-color="#000080"/><stop offset="1" stop-color="#000080"/></linearGradient>
<linearGradient id="h102" x1="0" y1="0" x2="0" y2="1"><stop offset="0" stop-color="#49ffae"/><stop offset="0.191" stop-color="#c3ff34"/><stop offset="0.317" stop-color="#f7f600"/><stop offset="0.518" stop-color="#ff6800"/><stop offset="0.616" stop-color="#ff5b00"/><stop offset="0.65" stop-color="#ff7c00"/><stop offset="0.713" stop-color="#f6f701"/><stop offset="0.755" stop-color="#9aff5d"/><stop offset="0.8" stop-color="#1dffda"/><stop offset="0.807" stop-color="#00d9ff"/><stop offset="0.831" stop-color="#0009ff"/><stop offset="0.835" stop-color="#0000f6"/><stop offset="0.845" stop-color="#000097"/><stop offset="0.859" stop-color="#000080"/><stop offset="1" stop-color="#000080"/></linearGradient>
<linearGradient id="h103" x1="0" y1="0" x2="0" y2="1"><stop offset="0" stop-color="#48ffaf"/><stop offset="0.077" stop-color="#77ff80"/><stop offset="0.317" stop-color="#f6f601"/><stop offset="0.518" stop-color="#ff6700"/><stop offset="0.616" stop-color="#ff5900"/><stop offset="0.654" stop-color="#ff7c00"/><stop offset="0.713" stop-color="#f8f400"/><stop offset="0.751" stop-color="#a6ff51"/><stop offset="0.8" stop-color="#1fffd8"/><stop offset="0.807" stop-color="#00ddfd"/><stop offset="0.824" stop-color="#004eff"/><stop offset="0.831" stop-color="#000eff"/><stop offset="0.835" stop-color="#0000fc"/><stop offset="0.845" stop-color="#00009c"/><stop offset="0.859" stop-color="#000080"/><stop offset="1" stop-color="#000080"/></linearGradient>
<linearGradient id="h104" x1="0" y1="0" x2="0" y2="1"><stop offset="0" stop-color="#41ffb6"/><stop offset="0.083" stop-color="#70ff87"/><stop offset="0.317" stop-color="#f5f701"/><stop offset="0.515" stop-color="#ff6800"/><stop offset="0.616" stop-color="#ff5700"/><stop offset="0.654" stop-color="#ff7900"/><stop offset="0.713" stop-color="#faf200"/><stop offset="0.734" stop-color="#d2ff25"/><stop offset="0.803" stop-color="#0ef7e9"/><stop offset="0.81" stop-color="#00caff"/><stop offset="0.831" stop-color="#0012ff"/><stop offset="0.835" stop-color="#0000ff"/><stop offset="0.845" stop-color="#0000a0"/><stop offset="0.856" stop-color="#000080"/><stop offset="1" stop-color="#000080"/></linearGradient>
<linearGradient id="h105" x1="0" y1="0" x2="0" y2="1"><stop offset="0" stop-color="#2dffca"/><stop offset="0.087" stop-color="#66ff90"/><stop offset="0.219" stop-color="#bdff3a"/><stop offset="0.32" stop-color="#f8f500"/><stop offset="0.515" stop-color="#ff6800"/><stop offset="0.616" stop-color="#ff5600"/><stop offset="0.657" stop-color="#ff7e00"/><stop offset="0.713" stop-color="#fbf100"/><stop offset="0.73" stop-color="#d9ff1e"/><stop offset="0.8" stop-color="#21ffd6"/><stop offset="0.807" stop-color="#00e2f9"/><stop offset="0.821" stop-color="#0074ff"/><stop offset="0.835" stop-color="#0000ff"/><stop offset="0.845" stop-color="#0000a2"/><stop offset="0.856" stop-color="#000080"/><stop offset="1" stop-color="#000080"/></linearGradient>
<linearGradient id="h106" x1="0" y1="0" x2="0" y2="1"><stop offset="0" stop-color="#16ffe1"/><stop offset="0.09" stop-color="#60ff97"/><stop offset="0.15" stop-color="#92ff65"/><stop offset="0.317" stop-color="#f5f802"/><stop offset="0.515" stop-color="#ff6700"/><stop offset="0.616" stop-color="#ff5600"/><stop offset="0.657" stop-color="#ff7c00"/><stop offset="0.717" stop-color="#f5f802"/><stop offset="0.762" stop-color="#8aff6c"/><stop offset="0.803" stop-color="#10f9e7"/><stop offset="0.81" stop-color="#00ceff"/><stop offset="0.835" stop-color="#0000ff"/><stop offset="0.845" stop-color="#0000a3"/><stop offset="0.856" stop-color="#000080"/><stop offset="1" stop-color="#000080"/></linearGradient>
<linearGradient id="h107" x1="0" y1="0" x2="0" y2="1"><stop offset="0" stop-color="#00e5f7"/><stop offset="0.024" stop-color="#1bffdb"/><stop offset="0.094" stop-color="#5bff9c"/><stop offset="0.143" stop-color="#8bff6c"/><stop offset="0.32" stop-color="#f7f500"/><stop offset="0.515" stop-color="#ff6700"/><stop offset="0.616" stop-color="#ff5500"/><stop offset="0.657" stop-color="#ff7b00"/><stop offset="0.717" stop-color="#f5f702"/><stop offset="0.762" stop-color="#8bff6c"/><stop offset="0.803" stop-color="#10fae7"/><stop offset="0.81" stop-color="#00cfff"/><stop offset="0.835" stop-color="#0000ff"/><stop offset="0.845" stop-color="#0000a4"/><stop offset="0.856" stop-color="#000080"/><stop offset="1" stop-color="#000080"/></linearGradient>
<linearGradient id="h108" x1="0" y1="0" x2="0" y2="1"><stop offset="0" stop-color="#00d1ff"/><stop offset="0.035" stop-color="#1affdd"/><stop offset="0.146" stop-color="#8aff6d"/><stop offset="0.32" stop-color="#f7f600"/><stop offset="0.511" stop-color="#ff6900"/><stop offset="0.612" stop-color="#ff5400"/><stop offset="0.654" stop-color="#ff7300"/><stop offset="0.717" stop-color="#f6f701"/><stop offset="0.762" stop-color="#8cff6b"/><stop offset="0.803" stop-color="#11fae6"/><stop offset="0.81" stop-color="#00d0ff"/><stop offset="0.835" stop-color="#0000ff"/><stop offset="0.845" stop-color="#0000a6"/><stop offset="0.856" stop-color="#000080"/><stop offset="1" stop-color="#000080"/></linearGradient>
<linearGradient id="h109" x1="0" y1="0" x2="0" y2="1"><stop offset="0" stop-color="#00c2ff"/><stop offset="0.028" stop-color="#09f0ee"/><stop offset="0.052" stop-color="#21ffd6"/><stop offset="0.15" stop-color="#88ff6e"/><stop offset="0.32" stop-color="#f6f601"/><stop offset="0.511" stop-color="#ff6800"/><stop offset="0.612" stop-color="#ff5400"/><stop offset="0.654" stop-color="#ff7200"/><stop offset="0.717" stop-color="#f6f601"/><stop offset="0.762" stop-color="#8cff6b"/><stop offset="0.803" stop-color="#12fbe5"/><stop offset="0.81" stop-color="#00d1ff"/><stop offset="0.835" stop-color="#0000ff"/><stop offset="0.845" stop-color="#0000a7"/><stop offset="0.856" stop-color="#000080"/><stop offset="1" stop-color="#000080"/></linearGradient>
<linearGradient id="h110" x1="0" y1="0" x2="0" y2="1"><stop offset="0" stop-color="#00b4ff"/><stop offset="0.035" stop-color="#02e8f5"/><stop offset="0.056" stop-color="#1fffd8"/><stop offset="0.157" stop-color="#89ff6d"/><stop offset="0.32" stop-color="#f5f802"/><stop offset="0.508" stop-color="#ff6a00"/><stop offset="0.612" stop-color="#ff5300"/><stop offset="0.654" stop-color="#ff7100"/><stop offset="0.717" stop-color="#f7f500"/><stop offset="0.762" stop-color="#8dff6a"/><stop offset="0.803" stop-color="#12fce5"/><stop offset="0.81" stop-color="#00d3ff"/><stop offset="0.835" stop-color="#0000ff"/><stop offset="0.845" stop-color="#0000a8"/><stop offset="0.856" stop-color="#000080"/><stop offset="1" stop-color="#000080"/></linearGradient>
<linearGradient id="h111" x1="0" y1="0" x2="0" y2="1"><stop offset="0" stop-color="#0080ff"/><stop offset="0.056" stop-color="#01e6f6"/><stop offset="0.07" stop-color="#23ffd4"/><stop offset="0.16" stop-color="#88ff6e"/><stop offset="0.323" stop-color="#f6f601"/><stop offset="0.508" stop-color="#ff6a00"/><stop offset="0.612" stop-color="#ff5300"/><stop offset="0.654" stop-color="#ff7000"/><stop offset="0.717" stop-color="#f7f500"/><stop offset="0.762" stop-color="#8dff6a"/><stop offset="0.803" stop-color="#13fde4"/><stop offset="0.81" stop-color="#00d4ff"/><stop offset="0.835" stop-color="#0000ff"/><stop offset="0.849" stop-color="#000099"/><stop offset="0.859" stop-color="#000080"/><stop offset="1" stop-color="#000080"/></linearGradient>
<linearGradient id="h112" x1="0" y1="0" x2="0" y2="1"><stop offset="0" stop-color="#00b3ff"/><stop offset="0.049" stop-color="#01e7f6"/><stop offset="0.077" stop-color="#25ffd1"/><stop offset="0.177" stop-color="#8dff69"/><stop offset="0.327" stop-color="#f6f701"/><stop offset="0.504" stop-color="#ff6b00"/><stop offset="0.612" stop-color="#ff5200"/><stop offset="0.654" stop-color="#ff6d00"/><stop offset="0.713" stop-color="#ffec00"/><stop offset="0.73" stop-color="#ddff1a"/><stop offset="0.8" stop-color="#24ffd3"/><stop offset="0.803" stop-color="#14fee3"/><stop offset="0.81" stop-color="#00d7ff"/><stop offset="0.835" stop-color="#0000ff"/><stop offset="0.849" stop-color="#00009a"/><stop offset="0.859" stop-color="#000080"/><stop offset="1" stop-color="#000080"/></linearGradient>
<linearGradient id="h113" x1="0" y1="0" x2="0" y2="1"><stop offset="0" stop-color="#00b3ff"/><stop offset="0.049" stop-color="#04eaf3"/><stop offset="0.08" stop-color="#28ffcf"/><stop offset="0.205" stop-color="#9bff5c"/><stop offset="0.334" stop-color="#f7f500"/><stop offset="0.501" stop-color="#ff6c00"/><stop offset="0.612" stop-color="#ff5000"/><stop offset="0.657" stop-color="#ff7000"/><stop offset="0.71" stop-color="#ffe100"/><stop offset="0.727" stop-color="#e5ff11"/><stop offset="0.793" stop-color="#39ffbe"/><stop offset="0.803" stop-color="#16ffe1"/><stop offset="0.81" stop-color="#00dbff"/><stop offset="0.835" stop-color="#0003ff"/><stop offset="0.838" stop-color="#0000f0"/><stop offset="0.849" stop-color="#00009d"/><stop offset="0.856" stop-color="#000080"/><stop offset="1" stop-color="#000080"/></linearGradient>
<linearGradient id="h114" x1="0" y1="0" x2="0" y2="1"><stop offset="0" stop-color="#00bdff"/><stop offset="0.035" stop-color="#0bf3ec"/><stop offset="0.101" stop-color="#3bffbc"/><stop offset="0.219" stop-color="#a1ff56"/><stop offset="0.337" stop-color="#f5f701"/><stop offset="0.497" stop-color="#ff6c00"/><stop offset="0.609" stop-color="#ff4e00"/><stop offset="0.654" stop-color="#ff6600"/><stop offset="0.706" stop-color="#ffd400"/><stop offset="0.727" stop-color="#e7ff10"/><stop offset="0.79" stop-color="#44ffb3"/><stop offset="0.803" stop-color="#18ffdf"/><stop offset="0.814" stop-color="#00c6ff"/><stop offset="0.835" stop-color="#0008ff"/><stop offset="0.838" stop-color="#0000f5"/><stop offset="0.849" stop-color="#00009f"/><stop offset="0.856" stop-color="#000080"/><stop offset="1" stop-color="#000080"/></linearGradient>
<linearGradient id="h115" x1="0" y1="0" x2="0" y2="1"><stop offset="0" stop-color="#0080ff"/><stop offset="0.052" stop-color="#00e4f8"/><stop offset="0.073" stop-color="#20ffd7"/><stop offset="0.216" stop-color="#9cff5a"/><stop offset="0.341" stop-color="#f6f701"/><stop offset="0.494" stop-color="#ff6d00"/><stop offset="0.609" stop-color="#ff4d00"/><stop offset="0.657" stop-color="#ff6a00"/><stop offset="0.703" stop-color="#ffc800"/><stop offset="0.723" stop-color="#efff08"/><stop offset="0.772" stop-color="#74ff82"/><stop offset="0.803" stop-color="#19ffdd"/><stop offset="0.814" stop-color="#00c9ff"/><stop offset="0.835" stop-color="#000aff"/><stop offset="0.838" stop-color="#0000f8"/><stop offset="0.849" stop-color="#0000a0"/><stop offset="0.856" stop-color="#000080"/><stop offset="1" stop-color="#000080"/></linearGradient>
<linearGradient id="h116" x1="0" y1="0" x2="0" y2="1"><stop offset="0" stop-color="#00bbff"/><stop offset="0.035" stop-color="#0af2ed"/><stop offset="0.094" stop-color="#2fffc7"/><stop offset="0.212" stop-color="#99ff5e"/><stop offset="0.341" stop-color="#f5f802"/><stop offset="0.494" stop-color="#ff6d00"/><stop offset="0.609" stop-color="#ff4d00"/><stop offset="0.657" stop-color="#ff6800"/><stop offset="0.703" stop-color="#ffc700"/><stop offset="0.723" stop-color="#effe07"/><stop offset="0.772" stop-color="#75ff82"/><stop offset="0.803" stop-color="#1affdd"/><stop offset="0.814" stop-color="#00caff"/><stop offset="0.835" stop-color="#000cff"/><stop offset="0.838" stop-color="#0000f9"/><stop offset="0.849" stop-color="#0000a1"/><stop offset="0.856" stop-color="#000080"/><stop offset="1" stop-color="#000080"/></linearGradient>
<linearGradient id="h117" x1="0" y1="0" x2="0" y2="1"><stop offset="0" stop-color="#00d8ff"/><stop offset="0.087" stop-color="#21ffd6"/><stop offset="0.205" stop-color="#93ff64"/><stop offset="0.344" stop-color="#f6f600"/><stop offset="0.494" stop-color="#ff6c00"/><stop offset="0.612" stop-color="#ff4b00"/><stop offset="0.661" stop-color="#ff6b00"/><stop offset="0.703" stop-color="#ffc400"/><stop offset="0.72" stop-color="#f8f400"/><stop offset="0.769" stop-color="#80ff77"/><stop offset="0.807" stop-color="#0ef7e9"/><stop offset="0.817" stop-color="#00aeff"/><stop offset="0.835" stop-color="#000fff"/><stop offset="0.838" stop-color="#0000fd"/><stop offset="0.849" stop-color="#0000a3"/><stop offset="0.856" stop-color="#000080"/><stop offset="1" stop-color="#000080"/></linearGradient>
<linearGradient id="h118" x1="0" y1="0" x2="0" y2="1"><stop offset="0" stop-color="#00d6ff"/><stop offset="0.08" stop-color="#17ffe0"/><stop offset="0.216" stop-color="#97ff5f"/><stop offset="0.348" stop-color="#f7f500"/><stop offset="0.49" stop-color="#ff6d00"/><stop offset="0.612" stop-color="#ff4900"/><stop offset="0.661" stop-color="#ff6600"/><stop offset="0.699" stop-color="#ffb500"/><stop offset="0.723" stop-color="#f3fa04"/><stop offset="0.769" stop-color="#82ff75"/><stop offset="0.807" stop-color="#11fbe6"/><stop offset="0.817" stop-color="#00b4ff"/><stop offset="0.835" stop-color="#0014ff"/><stop offset="0.838" stop-color="#0000ff"/><stop offset="0.852" stop-color="#00008c"/><stop offset="0.863" stop-color="#000080"/><stop offset="1" stop-color="#000080"/></linearGradient>
<linearGradient id="h119" x1="0" y1="0" x2="0" y2="1"><stop offset="0" stop-color="#00d2ff"/><stop offset="0.083" stop-color="#1affdd"/><stop offset="0.223" stop-color="#9bff5c"/><stop offset="0.348" stop-color="#f5f701"/><stop offset="0.49" stop-color="#ff6c00"/><stop offset="0.612" stop-color="#ff4800"/><stop offset="0.661" stop-color="#ff6300"/><stop offset="0.699" stop-color="#ffb200"/><stop offset="0.723" stop-color="#f4f903"/><stop offset="0.769" stop-color="#83ff73"/><stop offset="0.807" stop-color="#13fde3"/><stop offset="0.814" stop-color="#00d7ff"/><stop offset="0.838" stop-color="#0000ff"/><stop offset="0.852" stop-color="#00008d"/><stop offset="0.863" stop-color="#000080"/><stop offset="1" stop-color="#000080"/></linearGradient>
<linearGradient id="h120" x1="0" y1="0" x2="0" y2="1"><stop offset="0" stop-color="#00b1ff"/><stop offset="0.052" stop-color="#09f1ee"/><stop offset="0.129" stop-color="#41ffb5"/><stop offset="0.219" stop-color="#97ff5f"/><stop offset="0.348" stop-color="#f5f802"/><stop offset="0.483" stop-color="#ff7000"/><stop offset="0.609" stop-color="#ff4700"/><stop offset="0.661" stop-color="#ff6100"/><stop offset="0.699" stop-color="#ffb100"/><stop offset="0.723" stop-color="#f5f802"/><stop offset="0.769" stop-color="#84ff73"/><stop offset="0.807" stop-color="#14ffe3"/><stop offset="0.814" stop-color="#00d8ff"/><stop offset="0.838" stop-color="#0000ff"/><stop offset="0.852" stop-color="#00008d"/><stop offset="0.859" stop-color="#000080"/><stop offset="1" stop-color="#000080"/></linearGradient>
<linearGradient id="h121" x1="0" y1="0" x2="0" y2="1"><stop offset="0" stop-color="#0059ff"/><stop offset="0.063" stop-color="#00e4f8"/><stop offset="0.09" stop-color="#1fffd8"/><stop offset="0.226" stop-color="#9cff5b"/><stop offset="0.348" stop-color="#f4f903"/><stop offset="0.435" stop-color="#ff9c00"/><stop offset="0.522" stop-color="#ff5e00"/><stop offset="0.623" stop-color="#ff4700"/><stop offset="0.664" stop-color="#ff6600"/><stop offset="0.699" stop-color="#ffb000"/><stop offset="0.723" stop-color="#f5f802"/><stop offset="0.769" stop-color="#84ff73"/><stop offset="0.807" stop-color="#15ffe2"/><stop offset="0.814" stop-color="#00d9ff"/><stop offset="0.838" stop-color="#0000ff"/><stop offset="0.852" stop-color="#00008e"/><stop offset="0.859" stop-color="#000080"/><stop offset="1" stop-color="#000080"/></linearGradient>
<linearGradient id="h122" x1="0" y1="0" x2="0" y2="1"><stop offset="0" stop-color="#0019ff"/><stop offset="0.087" stop-color="#00e6f7"/><stop offset="0.101" stop-color="#1fffd8"/><stop offset="0.195" stop-color="#85ff72"/><stop offset="0.351" stop-color="#f7f600"/><stop offset="0.49" stop-color="#ff6b00"/><stop offset="0.616" stop-color="#ff4600"/><stop offset="0.661" stop-color="#ff5f00"/><stop offset="0.699" stop-color="#ffae00"/><stop offset="0.723" stop-color="#f6f701"/><stop offset="0.769" stop-color="#85ff72"/><stop offset="0.807" stop-color="#16ffe1"/><stop offset="0.814" stop-color="#00dbff"/><stop offset="0.838" stop-color="#0000ff"/><stop offset="0.852" stop-color="#00008e"/><stop offset="0.859" stop-color="#000080"/><stop offset="1" stop-color="#000080"/></linearGradient>
<linearGradient id="h123" x1="0" y1="0" x2="0" y2="1"><stop offset="0" stop-color="#005aff"/><stop offset="0.063" stop-color="#01e7f6"/><stop offset="0.09" stop-color="#20ffd6"/><stop offset="0.237" stop-color="#a2ff55"/><stop offset="0.351" stop-color="#f6f601"/><stop offset="0.49" stop-color="#ff6b00"/><stop offset="0.616" stop-color="#ff4500"/><stop offset="0.661" stop-color="#ff5e00"/><stop offset="0.699" stop-color="#ffad00"/><stop offset="0.723" stop-color="#f6f601"/><stop offset="0.769" stop-color="#85ff72"/><stop offset="0.807" stop-color="#17ffe0"/><stop offset="0.814" stop-color="#00dcfe"/><stop offset="0.838" stop-color="#0000ff"/><stop offset="0.852" stop-color="#00008e"/><stop offset="0.859" stop-color="#000080"/><stop offset="1" stop-color="#000080"/></linearGradient>
<linearGradient id="h124" x1="0" y1="0" x2="0" y2="1"><stop offset="0" stop-color="#00b7ff"/><stop offset="0.049" stop-color="#0cf4eb"/><stop offset="0.153" stop-color="#59ff9e"/><stop offset="0.264" stop-color="#b6ff41"/><stop offset="0.351" stop-color="#f5f701"/><stop offset="0.49" stop-color="#ff6b00"/><stop offset="0.616" stop-color="#ff4500"/><stop offset="0.661" stop-color="#ff5c00"/><stop offset="0.699" stop-color="#ffac00"/><stop offset="0.723" stop-color="#f7f600"/><stop offset="0.769" stop-color="#86ff71"/><stop offset="0.807" stop-color="#18ffdf"/><stop offset="0.814" stop-color="#00defd"/><stop offset="0.838" stop-color="#0000ff"/><stop offset="0.852" stop-color="#00008e"/><stop offset="0.859" stop-color="#000080"/><stop offset="1" stop-color="#000080"/></linearGradient>
<linearGradient id="h125" x1="0" y1="0" x2="0" y2="1"><stop offset="0" stop-color="#00dffc"/><stop offset="0.094" stop-color="#25ffd2"/><stop offset="0.254" stop-color="#adff4a"/><stop offset="0.355" stop-color="#f7f500"/><stop offset="0.487" stop-color="#ff6c00"/><stop offset="0.616" stop-color="#ff4300"/><stop offset="0.661" stop-color="#ff5900"/><stop offset="0.696" stop-color="#ff9f00"/><stop offset="0.723" stop-color="#f8f400"/><stop offset="0.765" stop-color="#92ff65"/><stop offset="0.81" stop-color="#0ff8e8"/><stop offset="0.817" stop-color="#00c2ff"/><stop offset="0.838" stop-color="#0002ff"/><stop offset="0.845" stop-color="#0000cd"/><stop offset="0.852" stop-color="#00008f"/><stop offset="0.859" stop-color="#000080"/><stop offset="1" stop-color="#000080"/></linearGradient>
<linearGradient id="h126" x1="0" y1="0" x2="0" y2="1"><stop offset="0" stop-color="#00e0fb"/><stop offset="0.097" stop-color="#27ffd0"/><stop offset="0.264" stop-color="#b2ff44"/><stop offset="0.355" stop-color="#f6f701"/><stop offset="0.487" stop-color="#ff6b00"/><stop offset="0.616" stop-color="#ff4100"/><stop offset="0.661" stop-color="#ff5400"/><stop offset="0.696" stop-color="#ff9a00"/><stop offset="0.723" stop-color="#faf200"/><stop offset="0.744" stop-color="#cdff2a"/><stop offset="0.81" stop-color="#13fde4"/><stop offset="0.817" stop-color="#00c7ff"/><stop offset="0.838" stop-color="#0008ff"/><stop offset="0.842" stop-color="#0000f5"/><stop offset="0.852" stop-color="#000090"/><stop offset="0.859" stop-color="#000080"/><stop offset="1" stop-color="#000080"/></linearGradient>
<linearGradient id="h127" x1="0" y1="0" x2="0" y2="1"><stop offset="0" stop-color="#00e0fb"/><stop offset="0.101" stop-color="#28ffce"/><stop offset="0.271" stop-color="#b6ff41"/><stop offset="0.355" stop-color="#f4f802"/><stop offset="0.442" stop-color="#ff9400"/><stop offset="0.518" stop-color="#ff5c00"/><stop offset="0.623" stop-color="#ff4000"/><stop offset="0.661" stop-color="#ff4f00"/><stop offset="0.692" stop-color="#ff8c00"/><stop offset="0.727" stop-color="#f4f903"/><stop offset="0.769" stop-color="#8bff6c"/><stop offset="0.81" stop-color="#16ffe0"/><stop offset="0.817" stop-color="#00ccff"/><stop offset="0.838" stop-color="#000dff"/><stop offset="0.842" stop-color="#0000fa"/><stop offset="0.852" stop-color="#000091"/><stop offset="0.859" stop-color="#000080"/><stop offset="1" stop-color="#000080"/></linearGradient>
<linearGradient id="h128" x1="0" y1="0" x2="0" y2="1"><stop offset="0" stop-color="#00cdff"/><stop offset="0.07" stop-color="#13fde4"/><stop offset="0.184" stop-color="#74ff83"/><stop offset="0.355" stop-color="#f4f903"/><stop offset="0.428" stop-color="#ffa400"/><stop offset="0.501" stop-color="#ff6300"/><stop offset="0.619" stop-color="#ff3e00"/><stop offset="0.661" stop-color="#ff4d00"/><stop offset="0.692" stop-color="#ff8a00"/><stop offset="0.727" stop-color="#f5f702"/><stop offset="0.769" stop-color="#8cff6b"/><stop offset="0.81" stop-color="#18ffde"/><stop offset="0.817" stop-color="#00ceff"/><stop offset="0.838" stop-color="#000fff"/><stop offset="0.842" stop-color="#0000fd"/><stop offset="0.852" stop-color="#000092"/><stop offset="0.859" stop-color="#000080"/><stop offset="1" stop-color="#000080"/></linearGradient>
<linearGradient id="h129" x1="0" y1="0" x2="0" y2="1"><stop offset="0" stop-color="#0079ff"/><stop offset="0.056" stop-color="#01e7f5"/><stop offset="0.094" stop-color="#1fffd8"/><stop offset="0.268" stop-color="#b1ff45"/><stop offset="0.358" stop-color="#f7f600"/><stop offset="0.487" stop-color="#ff6900"/><stop offset="0.619" stop-color="#ff3e00"/><stop offset="0.661" stop-color="#ff4c00"/><stop offset="0.692" stop-color="#ff8900"/><stop offset="0.727" stop-color="#f6f701"/><stop offset="0.769" stop-color="#8cff6b"/><stop offset="0.81" stop-color="#19ffde"/><stop offset="0.817" stop-color="#00d0ff"/><stop offset="0.838" stop-color="#0011ff"/><stop offset="0.842" stop-color="#0000ff"/><stop offset="0.852" stop-color="#000093"/><stop offset="0.859" stop-color="#000080"/><stop offset="1" stop-color="#000080"/></linearGradient>
<linearGradient id="h130" x1="0" y1="0" x2="0" y2="1"><stop offset="0" stop-color="#00d2ff"/><stop offset="0.09" stop-color="#18ffde"/><stop offset="0.257" stop-color="#a9ff4e"/><stop offset="0.358" stop-color="#f6f701"/><stop offset="0.487" stop-color="#ff6900"/><stop offset="0.619" stop-color="#ff3d00"/><stop offset="0.661" stop-color="#ff4b00"/><stop offset="0.692" stop-color="#ff8700"/><stop offset="0.727" stop-color="#f7f500"/><stop offset="0.769" stop-color="#8eff69"/><stop offset="0.81" stop-color="#1affdd"/><stop offset="0.817" stop-color="#00d2ff"/><stop offset="0.838" stop-color="#0014ff"/><stop offset="0.842" stop-color="#0000ff"/><stop offset="0.852" stop-color="#000096"/><stop offset="0.859" stop-color="#000080"/><stop offset="1" stop-color="#000080"/></linearGradient>
<linearGradient id="h131" x1="0" y1="0" x2="0" y2="1"><stop offset="0" stop-color="#00ccff"/><stop offset="0.087" stop-color="#13fde4"/><stop offset="0.261" stop-color="#aaff4d"/><stop offset="0.358" stop-color="#f4f802"/><stop offset="0.438" stop-color="#ff9800"/><stop offset="0.511" stop-color="#ff5d00"/><stop offset="0.623" stop-color="#ff3d00"/><stop offset="0.661" stop-color="#ff4b00"/><stop offset="0.692" stop-color="#ff8600"/><stop offset="0.727" stop-color="#f9f300"/><stop offset="0.758" stop-color="#b0ff47"/><stop offset="0.81" stop-color="#1bffdc"/><stop offset="0.817" stop-color="#00d5ff"/><stop offset="0.842" stop-color="#0000ff"/><stop offset="0.852" stop-color="#000099"/><stop offset="0.859" stop-color="#000080"/><stop offset="1" stop-color="#000080"/></linearGradient>
<linearGradient id="h132" x1="0" y1="0" x2="0" y2="1"><stop offset="0" stop-color="#0093ff"/><stop offset="0.066" stop-color="#04ebf3"/><stop offset="0.111" stop-color="#26ffd1"/><stop offset="0.257" stop-color="#a7ff50"/><stop offset="0.358" stop-color="#f4f903"/><stop offset="0.421" stop-color="#ffad00"/><stop offset="0.494" stop-color="#ff6500"/><stop offset="0.619" stop-color="#ff3c00"/><stop offset="0.661" stop-color="#ff4b00"/><stop offset="0.692" stop-color="#ff8500"/><stop offset="0.727" stop-color="#faf200"/><stop offset="0.751" stop-color="#c4ff33"/><stop offset="0.81" stop-color="#1bffdb"/><stop offset="0.817" stop-color="#00d6ff"/><stop offset="0.842" stop-color="#0000ff"/><stop offset="0.856" stop-color="#000085"/><stop offset="1" stop-color="#000080"/></linearGradient>
<linearGradient id="h133" x1="0" y1="0" x2="0" y2="1"><stop offset="0" stop-color="#0046ff"/><stop offset="0.094" stop-color="#01e6f6"/><stop offset="0.115" stop-color="#20ffd6"/><stop offset="0.24" stop-color="#9aff5c"/><stop offset="0.358" stop-color="#f4f903"/><stop offset="0.421" stop-color="#ffad00"/><stop offset="0.494" stop-color="#ff6500"/><stop offset="0.619" stop-color="#ff3c00"/><stop offset="0.661" stop-color="#ff4a00"/><stop offset="0.692" stop-color="#ff8400"/><stop offset="0.727" stop-color="#faf200"/><stop offset="0.748" stop-color="#ccff2b"/><stop offset="0.81" stop-color="#1cffdb"/><stop offset="0.817" stop-color="#00d7ff"/><stop offset="0.842" stop-color="#0000ff"/><stop offset="0.856" stop-color="#000086"/><stop offset="1" stop-color="#000080"/></linearGradient>
<linearGradient id="h134" x1="0" y1="0" x2="0" y2="1"><stop offset="0" stop-color="#0091ff"/><stop offset="0.066" stop-color="#02e8f4"/><stop offset="0.111" stop-color="#24ffd3"/><stop offset="0.285" stop-color="#beff39"/><stop offset="0.362" stop-color="#f7f500"/><stop offset="0.483" stop-color="#ff6b00"/><stop offset="0.616" stop-color="#ff3c00"/><stop offset="0.661" stop-color="#ff4a00"/><stop offset="0.692" stop-color="#ff8400"/><stop offset="0.727" stop-color="#fbf100"/><stop offset="0.744" stop-color="#d4ff23"/><stop offset="0.81" stop-color="#1cffdb"/><stop offset="0.817" stop-color="#00d8ff"/><stop offset="0.842" stop-color="#0000ff"/><stop offset="0.849" stop-color="#0000c3"/><stop offset="0.856" stop-color="#000087"/><stop offset="1" stop-color="#000080"/></linearGradient>
<linearGradient id="h135" x1="0" y1="0" x2="0" y2="1"><stop offset="0" stop-color="#00caff"/><stop offset="0.087" stop-color="#10fae6"/><stop offset="0.289" stop-color="#c2ff35"/><stop offset="0.362" stop-color="#f7f600"/><stop offset="0.483" stop-color="#ff6b00"/><stop offset="0.616" stop-color="#ff3c00"/><stop offset="0.661" stop-color="#ff4a00"/><stop offset="0.692" stop-color="#ff8300"/><stop offset="0.73" stop-color="#f4f903"/><stop offset="0.772" stop-color="#86ff70"/><stop offset="0.814" stop-color="#0df5ea"/><stop offset="0.817" stop-color="#00daff"/><stop offset="0.842" stop-color="#0000ff"/><stop offset="0.849" stop-color="#0000c6"/><stop offset="0.856" stop-color="#000089"/><stop offset="1" stop-color="#000080"/></linearGradient>
<linearGradient id="h136" x1="0" y1="0" x2="0" y2="1"><stop offset="0" stop-color="#00dcfe"/><stop offset="0.101" stop-color="#27ffcf"/><stop offset="0.268" stop-color="#b5ff41"/><stop offset="0.362" stop-color="#f6f600"/><stop offset="0.483" stop-color="#ff6b00"/><stop offset="0.619" stop-color="#ff3b00"/><stop offset="0.661" stop-color="#ff4900"/><stop offset="0.692" stop-color="#ff8200"/><stop offset="0.73" stop-color="#f5f802"/><stop offset="0.772" stop-color="#87ff70"/><stop offset="0.814" stop-color="#0ef6e9"/><stop offset="0.817" stop-color="#00dcff"/><stop offset="0.842" stop-color="#0001ff"/><stop offset="0.845" stop-color="#0000ed"/><stop offset="0.856" stop-color="#00008a"/><stop offset="0.88" stop-color="#000080"/><stop offset="1" stop-color="#000080"/></linearGradient>
<linearGradient id="h137" x1="0" y1="0" x2="0" y2="1"><stop offset="0" stop-color="#0cf5ea"/><stop offset="0.111" stop-color="#3effb8"/><stop offset="0.296" stop-color="#c9ff2e"/><stop offset="0.362" stop-color="#f6f601"/><stop offset="0.483" stop-color="#ff6a00"/><stop offset="0.619" stop-color="#ff3b00"/><stop offset="0.661" stop-color="#ff4900"/><stop offset="0.692" stop-color="#ff8200"/><stop offset="0.73" stop-color="#f5f701"/><stop offset="0.772" stop-color="#88ff6f"/><stop offset="0.814" stop-color="#0ef7e9"/><stop offset="0.817" stop-color="#00dcfe"/><stop offset="0.842" stop-color="#0002ff"/><stop offset="0.845" stop-color="#0000ee"/><stop offset="0.856" stop-color="#00008b"/><stop offset="0.873" stop-color="#000080"/><stop offset="1" stop-color="#000080"/></linearGradient>
<linearGradient id="h138" x1="0" y1="0" x2="0" y2="1"><stop offset="0" stop-color="#25ffd1"/><stop offset="0.122" stop-color="#55ffa1"/><stop offset="0.362" stop-color="#f6f701"/><stop offset="0.483" stop-color="#ff6a00"/><stop offset="0.619" stop-color="#ff3b00"/><stop offset="0.661" stop-color="#ff4900"/><stop offset="0.692" stop-color="#ff8100"/><stop offset="0.73" stop-color="#f6f701"/><stop offset="0.772" stop-color="#88ff6f"/><stop offset="0.814" stop-color="#0ef7e8"/><stop offset="0.817" stop-color="#00ddfe"/><stop offset="0.842" stop-color="#0003ff"/><stop offset="0.845" stop-color="#0000ef"/><stop offset="0.856" stop-color="#00008c"/><stop offset="0.87" stop-color="#000080"/><stop offset="1" stop-color="#000080"/></linearGradient>
<linearGradient id="h139" x1="0" y1="0" x2="0" y2="1"><stop offset="0" stop-color="#41ffb5"/><stop offset="0.132" stop-color="#70ff87"/><stop offset="0.362" stop-color="#f6f701"/><stop offset="0.483" stop-color="#ff6a00"/><stop offset="0.619" stop-color="#ff3b00"/><stop offset="0.661" stop-color="#ff4900"/><stop offset="0.692" stop-color="#ff8000"/><stop offset="0.73" stop-color="#f7f600"/><stop offset="0.776" stop-color="#7eff79"/><stop offset="0.814" stop-color="#0ff8e8"/><stop offset="0.821" stop-color="#00c0ff"/><stop offset="0.842" stop-color="#0005ff"/><stop offset="0.845" stop-color="#0000f2"/><stop offset="0.856" stop-color="#00008d"/><stop offset="0.866" stop-color="#000080"/><stop offset="1" stop-color="#000080"/></linearGradient>
<linearGradient id="h140" x1="0" y1="0" x2="0" y2="1"><stop offset="0" stop-color="#48ffaf"/><stop offset="0.115" stop-color="#76ff80"/><stop offset="0.362" stop-color="#f5f802"/><stop offset="0.477" stop-color="#ff6f00"/><stop offset="0.612" stop-color="#ff3a00"/><stop offset="0.661" stop-color="#ff4800"/><stop offset="0.692" stop-color="#ff7f00"/><stop offset="0.73" stop-color="#f8f400"/><stop offset="0.765" stop-color="#a1ff56"/><stop offset="0.814" stop-color="#10fae6"/><stop offset="0.821" stop-color="#00c3ff"/><stop offset="0.842" stop-color="#0008ff"/><stop offset="0.845" stop-color="#0000f6"/><stop offset="0.856" stop-color="#00008f"/><stop offset="0.863" stop-color="#000080"/><stop offset="1" stop-color="#000080"/></linearGradient>
<linearGradient id="h141" x1="0" y1="0" x2="0" y2="1"><stop offset="0" stop-color="#49ffae"/><stop offset="0.101" stop-color="#77ff7f"/><stop offset="0.358" stop-color="#f4f903"/><stop offset="0.438" stop-color="#ff9700"/><stop offset="0.511" stop-color="#ff5b00"/><stop offset="0.626" stop-color="#ff3b00"/><stop offset="0.664" stop-color="#ff4c00"/><stop offset="0.696" stop-color="#ff8600"/><stop offset="0.73" stop-color="#faf200"/><stop offset="0.751" stop-color="#caff2c"/><stop offset="0.814" stop-color="#12fce5"/><stop offset="0.821" stop-color="#00c6ff"/><stop offset="0.842" stop-color="#000dff"/><stop offset="0.845" stop-color="#0000fb"/><stop offset="0.856" stop-color="#000092"/><stop offset="0.859" stop-color="#000080"/><stop offset="1" stop-color="#000080"/></linearGradient>
<linearGradient id="h142" x1="0" y1="0" x2="0" y2="1"><stop offset="0" stop-color="#4affad"/><stop offset="0.09" stop-color="#78ff7e"/><stop offset="0.351" stop-color="#f6f602"/><stop offset="0.49" stop-color="#ff6500"/><stop offset="0.619" stop-color="#ff3900"/><stop offset="0.664" stop-color="#ff4b00"/><stop offset="0.696" stop-color="#ff8400"/><stop offset="0.734" stop-color="#f4f903"/><stop offset="0.81" stop-color="#21ffd6"/><stop offset="0.814" stop-color="#14fee3"/><stop offset="0.821" stop-color="#00caff"/><stop offset="0.842" stop-color="#0011ff"/><stop offset="0.845" stop-color="#0000ff"/><stop offset="0.856" stop-color="#000095"/><stop offset="0.859" stop-color="#000080"/><stop offset="1" stop-color="#000080"/></linearGradient>
<linearGradient id="h143" x1="0" y1="0" x2="0" y2="1"><stop offset="0" stop-color="#4bffab"/><stop offset="0.094" stop-color="#79ff7e"/><stop offset="0.341" stop-color="#f5f702"/><stop offset="0.497" stop-color="#ff6100"/><stop offset="0.623" stop-color="#ff3900"/><stop offset="0.664" stop-color="#ff4a00"/><stop offset="0.696" stop-color="#ff8200"/><stop offset="0.734" stop-color="#f6f701"/><stop offset="0.779" stop-color="#79ff7e"/><stop offset="0.814" stop-color="#15ffe2"/><stop offset="0.821" stop-color="#00cdff"/><stop offset="0.845" stop-color="#0000ff"/><stop offset="0.859" stop-color="#000080"/><stop offset="1" stop-color="#000080"/></linearGradient>
<linearGradient id="h144" x1="0" y1="0" x2="0" y2="1"><stop offset="0" stop-color="#4dffaa"/><stop offset="0.111" stop-color="#7dff7a"/><stop offset="0.334" stop-color="#f5f802"/><stop offset="0.466" stop-color="#ff7600"/><stop offset="0.588" stop-color="#ff3c00"/><stop offset="0.661" stop-color="#ff4500"/><stop offset="0.696" stop-color="#ff8000"/><stop offset="0.734" stop-color="#f7f500"/><stop offset="0.776" stop-color="#85ff71"/><stop offset="0.814" stop-color="#17ffe0"/><stop offset="0.821" stop-color="#00d1ff"/><stop offset="0.845" stop-color="#0000ff"/><stop offset="0.859" stop-color="#000080"/><stop offset="1" stop-color="#000080"/></linearGradient>
<linearGradient id="h145" x1="0" y1="0" x2="0" y2="1"><stop offset="0" stop-color="#4bffac"/><stop offset="0.118" stop-color="#7cff7b"/><stop offset="0.334" stop-color="#f4f903"/><stop offset="0.417" stop-color="#ffa600"/><stop offset="0.518" stop-color="#ff5500"/><stop offset="0.633" stop-color="#ff3a00"/><stop offset="0.671" stop-color="#ff5000"/><stop offset="0.706" stop-color="#ff9e00"/><stop offset="0.734" stop-color="#f9f300"/><stop offset="0.765" stop-color="#a9ff4d"/><stop offset="0.814" stop-color="#18ffdf"/><stop offset="0.821" stop-color="#00d3ff"/><stop offset="0.845" stop-color="#0000ff"/><stop offset="0.859" stop-color="#000080"/><stop offset="1" stop-color="#000080"/></linearGradient>
<linearGradient id="h146" x1="0" y1="0" x2="0" y2="1"><stop offset="0" stop-color="#39ffbe"/><stop offset="0.125" stop-color="#7dff7a"/><stop offset="0.337" stop-color="#f6f600"/><stop offset="0.501" stop-color="#ff5e00"/><stop offset="0.626" stop-color="#ff3900"/><stop offset="0.668" stop-color="#ff4c00"/><stop offset="0.703" stop-color="#ff9300"/><stop offset="0.734" stop-color="#f9f300"/><stop offset="0.758" stop-color="#bfff38"/><stop offset="0.814" stop-color="#18ffde"/><stop offset="0.821" stop-color="#00d5ff"/><stop offset="0.845" stop-color="#0000ff"/><stop offset="0.852" stop-color="#0000c1"/><stop offset="0.859" stop-color="#000080"/><stop offset="1" stop-color="#000080"/></linearGradient>
<linearGradient id="h147" x1="0" y1="0" x2="0" y2="1"><stop offset="0" stop-color="#1bffdb"/><stop offset="0.049" stop-color="#3bffbc"/><stop offset="0.212" stop-color="#acff4b"/><stop offset="0.337" stop-color="#f6f701"/><stop offset="0.501" stop-color="#ff5e00"/><stop offset="0.626" stop-color="#ff3800"/><stop offset="0.668" stop-color="#ff4c00"/><stop offset="0.703" stop-color="#ff9200"/><stop offset="0.734" stop-color="#faf200"/><stop offset="0.758" stop-color="#bfff38"/><stop offset="0.814" stop-color="#19ffde"/><stop offset="0.821" stop-color="#00d5ff"/><stop offset="0.845" stop-color="#0000ff"/><stop offset="0.849" stop-color="#0000ea"/><stop offset="0.859" stop-color="#000080"/><stop offset="1" stop-color="#000080"/></linearGradient>
<linearGradient id="h148" x1="0" y1="0" x2="0" y2="1"><stop offset="0" stop-color="#00e1fa"/><stop offset="0.021" stop-color="#1cffdb"/><stop offset="0.115" stop-color="#65ff92"/><stop offset="0.223" stop-color="#b0ff47"/><stop offset="0.337" stop-color="#f5f701"/><stop offset="0.501" stop-color="#ff5e00"/><stop offset="0.623" stop-color="#ff3800"/><stop offset="0.668" stop-color="#ff4b00"/><stop offset="0.703" stop-color="#ff9200"/><stop offset="0.734" stop-color="#faf200"/><stop offset="0.755" stop-color="#c8ff2e"/><stop offset="0.814" stop-color="#19ffde"/><stop offset="0.821" stop-color="#00d6ff"/><stop offset="0.845" stop-color="#0001ff"/><stop offset="0.849" stop-color="#0000eb"/><stop offset="0.859" stop-color="#000080"/><stop offset="1" stop-color="#000080"/></linearGradient>
<linearGradient id="h149" x1="0" y1="0" x2="0" y2="1"><stop offset="0" stop-color="#00c8ff"/><stop offset="0.024" stop-color="#0cf4eb"/><stop offset="0.077" stop-color="#36ffc1"/><stop offset="0.17" stop-color="#8eff69"/><stop offset="0.337" stop-color="#f5f802"/><stop offset="0.497" stop-color="#ff6000"/><stop offset="0.619" stop-color="#ff3700"/><stop offset="0.668" stop-color="#ff4b00"/><stop offset="0.703" stop-color="#ff9100"/><stop offset="0.734" stop-color="#fbf100"/><stop offset="0.751" stop-color="#d1ff26"/><stop offset="0.814" stop-color="#19ffdd"/><stop offset="0.817" stop-color="#0cf4eb"/><stop offset="0.821" stop-color="#00d7ff"/><stop offset="0.845" stop-color="#0002ff"/><stop offset="0.849" stop-color="#0000ec"/><stop offset="0.859" stop-color="#000080"/><stop offset="1" stop-color="#000080"/></linearGradient>
<linearGradient id="h150" x1="0" y1="0" x2="0" y2="1"><stop offset="0" stop-color="#00bbff"/><stop offset="0.031" stop-color="#05ebf2"/><stop offset="0.056" stop-color="#1fffd8"/><stop offset="0.181" stop-color="#91ff66"/><stop offset="0.337" stop-color="#f4f802"/><stop offset="0.445" stop-color="#ff8a00"/><stop offset="0.546" stop-color="#ff4700"/><stop offset="0.647" stop-color="#ff3b00"/><stop offset="0.685" stop-color="#ff6500"/><stop offset="0.734" stop-color="#fbf100"/><stop offset="0.751" stop-color="#d2ff25"/><stop offset="0.814" stop-color="#1affdd"/><stop offset="0.817" stop-color="#0df5ea"/><stop offset="0.821" stop-color="#00d8ff"/><stop offset="0.845" stop-color="#0003ff"/><stop offset="0.849" stop-color="#0000ed"/><stop offset="0.859" stop-color="#000080"/><stop offset="1" stop-color="#000080"/></linearGradient>
<linearGradient id="h151" x1="0" y1="0" x2="0" y2="1"><stop offset="0" stop-color="#00b3ff"/><stop offset="0.045" stop-color="#04ebf3"/><stop offset="0.077" stop-color="#29ffce"/><stop offset="0.202" stop-color="#97ff60"/><stop offset="0.341" stop-color="#f6f601"/><stop offset="0.497" stop-color="#ff6000"/><stop offset="0.619" stop-color="#ff3700"/><stop offset="0.668" stop-color="#ff4a00"/><stop offset="0.703" stop-color="#ff8f00"/><stop offset="0.734" stop-color="#fcf000"/><stop offset="0.748" stop-color="#daff1c"/><stop offset="0.817" stop-color="#0ef7e9"/><stop offset="0.821" stop-color="#00daff"/><stop offset="0.845" stop-color="#0005ff"/><stop offset="0.849" stop-color="#0000ef"/><stop offset="0.859" stop-color="#000080"/><stop offset="1" stop-color="#000080"/></linearGradient>
<linearGradient id="h152" x1="0" y1="0" x2="0" y2="1"><stop offset="0" stop-color="#00b3ff"/><stop offset="0.049" stop-color="#03e9f4"/><stop offset="0.077" stop-color="#22ffd5"/><stop offset="0.254" stop-color="#b1ff46"/><stop offset="0.344" stop-color="#f7f500"/><stop offset="0.497" stop-color="#ff5f00"/><stop offset="0.616" stop-color="#ff3600"/><stop offset="0.668" stop-color="#ff4a00"/><stop offset="0.703" stop-color="#ff8e00"/><stop offset="0.737" stop-color="#f4f803"/><stop offset="0.776" stop-color="#8aff6c"/><stop offset="0.817" stop-color="#0ff9e7"/><stop offset="0.821" stop-color="#00dcff"/><stop offset="0.845" stop-color="#0007ff"/><stop offset="0.849" stop-color="#0000f2"/><stop offset="0.859" stop-color="#000080"/><stop offset="1" stop-color="#000080"/></linearGradient>
<linearGradient id="h153" x1="0" y1="0" x2="0" y2="1"><stop offset="0" stop-color="#006dff"/><stop offset="0.08" stop-color="#00e4f8"/><stop offset="0.104" stop-color="#20ffd7"/><stop offset="0.219" stop-color="#91ff65"/><stop offset="0.344" stop-color="#f5f802"/><stop offset="0.456" stop-color="#ff8000"/><stop offset="0.567" stop-color="#ff4000"/><stop offset="0.654" stop-color="#ff3b00"/><stop offset="0.692" stop-color="#ff7100"/><stop offset="0.737" stop-color="#f5f802"/><stop offset="0.776" stop-color="#8bff6c"/><stop offset="0.817" stop-color="#11fae6"/><stop offset="0.821" stop-color="#00defd"/><stop offset="0.845" stop-color="#000aff"/><stop offset="0.849" stop-color="#0000f5"/><stop offset="0.859" stop-color="#000080"/><stop offset="1" stop-color="#000080"/></linearGradient>
<linearGradient id="h154" x1="0" y1="0" x2="0" y2="1"><stop offset="0" stop-color="#00bfff"/><stop offset="0.028" stop-color="#05ecf2"/><stop offset="0.063" stop-color="#1bffdb"/><stop offset="0.191" stop-color="#77ff80"/><stop offset="0.348" stop-color="#f6f701"/><stop offset="0.494" stop-color="#ff6100"/><stop offset="0.612" stop-color="#ff3500"/><stop offset="0.668" stop-color="#ff4900"/><stop offset="0.703" stop-color="#ff8c00"/><stop offset="0.737" stop-color="#f6f701"/><stop offset="0.776" stop-color="#8cff6b"/><stop offset="0.817" stop-color="#12fbe5"/><stop offset="0.821" stop-color="#00dffc"/><stop offset="0.845" stop-color="#000bff"/><stop offset="0.849" stop-color="#0000f6"/><stop offset="0.859" stop-color="#000080"/><stop offset="1" stop-color="#000080"/></linearGradient>
<linearGradient id="h155" x1="0" y1="0" x2="0" y2="1"><stop offset="0" stop-color="#00d8ff"/><stop offset="0.035" stop-color="#16ffe0"/><stop offset="0.139" stop-color="#49ffad"/><stop offset="0.348" stop-color="#f5f802"/><stop offset="0.459" stop-color="#ff7c00"/><stop offset="0.567" stop-color="#ff4000"/><stop offset="0.654" stop-color="#ff3b00"/><stop offset="0.692" stop-color="#ff7000"/><stop offset="0.737" stop-color="#f6f601"/><stop offset="0.776" stop-color="#8cff6b"/><stop offset="0.817" stop-color="#12fce4"/><stop offset="0.821" stop-color="#00e0fb"/><stop offset="0.845" stop-color="#000cff"/><stop offset="0.849" stop-color="#0000f8"/><stop offset="0.859" stop-color="#000080"/><stop offset="1" stop-color="#000080"/></linearGradient>
<linearGradient id="h156" x1="0" y1="0" x2="0" y2="1"><stop offset="0" stop-color="#07efef"/><stop offset="0.031" stop-color="#1bffdb"/><stop offset="0.139" stop-color="#4cffaa"/><stop offset="0.351" stop-color="#f7f600"/><stop offset="0.49" stop-color="#ff6300"/><stop offset="0.609" stop-color="#ff3500"/><stop offset="0.668" stop-color="#ff4900"/><stop offset="0.703" stop-color="#ff8a00"/><stop offset="0.737" stop-color="#f6f600"/><stop offset="0.776" stop-color="#8cff6a"/><stop offset="0.817" stop-color="#13fde4"/><stop offset="0.821" stop-color="#00e1fb"/><stop offset="0.845" stop-color="#000dff"/><stop offset="0.849" stop-color="#0000f9"/><stop offset="0.859" stop-color="#000080"/><stop offset="1" stop-color="#000080"/></linearGradient>
<linearGradient id="h157" x1="0" y1="0" x2="0" y2="1"><stop offset="0" stop-color="#20ffd7"/><stop offset="0.132" stop-color="#51ffa5"/><stop offset="0.351" stop-color="#f3f903"/><stop offset="0.417" stop-color="#ffac00"/><stop offset="0.501" stop-color="#ff5d00"/><stop offset="0.616" stop-color="#ff3500"/><stop offset="0.668" stop-color="#ff4800"/><stop offset="0.703" stop-color="#ff8900"/><stop offset="0.737" stop-color="#f8f400"/><stop offset="0.772" stop-color="#9aff5d"/><stop offset="0.817" stop-color="#14ffe2"/><stop offset="0.821" stop-color="#00e3f9"/><stop offset="0.845" stop-color="#0010ff"/><stop offset="0.849" stop-color="#0000fc"/><stop offset="0.859" stop-color="#000081"/><stop offset="1" stop-color="#000080"/></linearGradient>
<linearGradient id="h158" x1="0" y1="0" x2="0" y2="1"><stop offset="0" stop-color="#25ffd2"/><stop offset="0.125" stop-color="#53ffa4"/><stop offset="0.355" stop-color="#f6f601"/><stop offset="0.487" stop-color="#ff6600"/><stop offset="0.598" stop-color="#ff3700"/><stop offset="0.664" stop-color="#ff4400"/><stop offset="0.699" stop-color="#ff7d00"/><stop offset="0.737" stop-color="#fcf000"/><stop offset="0.755" stop-color="#d1ff26"/><stop offset="0.817" stop-color="#16ffe1"/><stop offset="0.821" stop-color="#00e5f7"/><stop offset="0.849" stop-color="#0000ff"/><stop offset="0.859" stop-color="#00008a"/><stop offset="1" stop-color="#000080"/></linearGradient>
<linearGradient id="h159" x1="0" y1="0" x2="0" y2="1"><stop offset="0" stop-color="#25ffd2"/><stop offset="0.118" stop-color="#53ffa4"/><stop offset="0.351" stop-color="#f6f701"/><stop offset="0.49" stop-color="#ff6400"/><stop offset="0.605" stop-color="#ff3500"/><stop offset="0.668" stop-color="#ff4600"/><stop offset="0.706" stop-color="#ff8c00"/><stop offset="0.741" stop-color="#f7f601"/><stop offset="0.779" stop-color="#88ff6f"/><stop offset="0.817" stop-color="#17ffe0"/><stop offset="0.824" stop-color="#00cdff"/><stop offset="0.849" stop-color="#0000ff"/><stop offset="0.859" stop-color="#000094"/><stop offset="0.89" stop-color="#000080"/><stop offset="1" stop-color="#000080"/></linearGradient>
<linearGradient id="h160" x1="0" y1="0" x2="0" y2="1"><stop offset="0" stop-color="#26ffd1"/><stop offset="0.115" stop-color="#54ffa3"/><stop offset="0.348" stop-color="#f6f601"/><stop offset="0.494" stop-color="#ff6300"/><stop offset="0.609" stop-color="#ff3400"/><stop offset="0.671" stop-color="#ff4800"/><stop offset="0.71" stop-color="#ff9200"/><stop offset="0.741" stop-color="#fbf100"/><stop offset="0.758" stop-color="#cfff28"/><stop offset="0.817" stop-color="#18ffdf"/><stop offset="0.824" stop-color="#00d0ff"/><stop offset="0.849" stop-color="#0000ff"/><stop offset="0.859" stop-color="#00009e"/><stop offset="0.883" stop-color="#000080"/><stop offset="1" stop-color="#000080"/></linearGradient>
<linearGradient id="h161" x1="0" y1="0" x2="0" y2="1"><stop offset="0" stop-color="#31ffc6"/><stop offset="0.122" stop-color="#60ff97"/><stop offset="0.344" stop-color="#f6f601"/><stop offset="0.497" stop-color="#ff6100"/><stop offset="0.612" stop-color="#ff3400"/><stop offset="0.671" stop-color="#ff4700"/><stop offset="0.71" stop-color="#ff8f00"/><stop offset="0.744" stop-color="#f6f601"/><stop offset="0.817" stop-color="#19ffde"/><stop offset="0.824" stop-color="#00d3ff"/><stop offset="0.849" stop-color="#0002ff"/><stop offset="0.859" stop-color="#0000a8"/><stop offset="0.88" stop-color="#000080"/><stop offset="1" stop-color="#000080"/></linearGradient>
<linearGradient id="h162" x1="0" y1="0" x2="0" y2="1"><stop offset="0" stop-color="#35ffc1"/><stop offset="0.118" stop-color="#63ff94"/><stop offset="0.341" stop-color="#f6f601"/><stop offset="0.501" stop-color="#ff6000"/><stop offset="0.619" stop-color="#ff3300"/><stop offset="0.678" stop-color="#ff4d00"/><stop offset="0.72" stop-color="#ffa900"/><stop offset="0.744" stop-color="#faf200"/><stop offset="0.765" stop-color="#c1ff36"/><stop offset="0.817" stop-color="#1affdd"/><stop offset="0.824" stop-color="#00d6ff"/><stop offset="0.849" stop-color="#0007ff"/><stop offset="0.856" stop-color="#0000d2"/><stop offset="0.859" stop-color="#0000b2"/><stop offset="0.88" stop-color="#000080"/><stop offset="1" stop-color="#000080"/></linearGradient>
<linearGradient id="h163" x1="0" y1="0" x2="0" y2="1"><stop offset="0" stop-color="#35ffc1"/><stop offset="0.111" stop-color="#63ff94"/><stop offset="0.337" stop-color="#f7f500"/><stop offset="0.504" stop-color="#ff5e00"/><stop offset="0.623" stop-color="#ff3300"/><stop offset="0.678" stop-color="#ff4b00"/><stop offset="0.72" stop-color="#ffa500"/><stop offset="0.748" stop-color="#f4f802"/><stop offset="0.817" stop-color="#1bffdb"/><stop offset="0.824" stop-color="#00d9ff"/><stop offset="0.849" stop-color="#000cff"/><stop offset="0.852" stop-color="#0000f8"/><stop offset="0.859" stop-color="#0000bc"/><stop offset="0.877" stop-color="#000080"/><stop offset="1" stop-color="#000080"/></linearGradient>
<linearGradient id="h164" x1="0" y1="0" x2="0" y2="1"><stop offset="0" stop-color="#35ffc1"/><stop offset="0.104" stop-color="#64ff93"/><stop offset="0.33" stop-color="#f5f802"/><stop offset="0.459" stop-color="#ff7f00"/><stop offset="0.577" stop-color="#ff3b00"/><stop offset="0.657" stop-color="#ff3b00"/><stop offset="0.696" stop-color="#ff6600"/><stop offset="0.748" stop-color="#f8f400"/><stop offset="0.772" stop-color="#b2ff44"/><stop offset="0.821" stop-color="#0ef6e9"/><stop offset="0.824" stop-color="#00dcfe"/><stop offset="0.849" stop-color="#0011ff"/><stop offset="0.852" stop-color="#0000fd"/><stop offset="0.863" stop-color="#0000b7"/><stop offset="0.877" stop-color="#000080"/><stop offset="1" stop-color="#000080"/></linearGradient>
<linearGradient id="h165" x1="0" y1="0" x2="0" y2="1"><stop offset="0" stop-color="#35ffc1"/><stop offset="0.097" stop-color="#64ff93"/><stop offset="0.327" stop-color="#f5f701"/><stop offset="0.518" stop-color="#ff5600"/><stop offset="0.63" stop-color="#ff3400"/><stop offset="0.682" stop-color="#ff4e00"/><stop offset="0.723" stop-color="#ffa500"/><stop offset="0.748" stop-color="#fcf000"/><stop offset="0.762" stop-color="#d5ff22"/><stop offset="0.821" stop-color="#10f9e7"/><stop offset="0.828" stop-color="#00c5ff"/><stop offset="0.852" stop-color="#0000ff"/><stop offset="0.873" stop-color="#00008f"/><stop offset="0.88" stop-color="#000080"/><stop offset="1" stop-color="#000080"/></linearGradient>
<linearGradient id="h166" x1="0" y1="0" x2="0" y2="1"><stop offset="0" stop-color="#35ffc1"/><stop offset="0.094" stop-color="#64ff92"/><stop offset="0.323" stop-color="#f5f701"/><stop offset="0.532" stop-color="#ff4e00"/><stop offset="0.64" stop-color="#ff3500"/><stop offset="0.689" stop-color="#ff5700"/><stop offset="0.727" stop-color="#ffaa00"/><stop offset="0.751" stop-color="#f5f701"/><stop offset="0.821" stop-color="#12fce4"/><stop offset="0.828" stop-color="#00c9ff"/><stop offset="0.852" stop-color="#0000ff"/><stop offset="0.877" stop-color="#000080"/><stop offset="1" stop-color="#000080"/></linearGradient>
<linearGradient id="h167" x1="0" y1="0" x2="0" y2="1"><stop offset="0" stop-color="#35ffc1"/><stop offset="0.09" stop-color="#65ff92"/><stop offset="0.32" stop-color="#f6f701"/><stop offset="0.539" stop-color="#ff4a00"/><stop offset="0.64" stop-color="#ff3500"/><stop offset="0.689" stop-color="#ff5500"/><stop offset="0.727" stop-color="#ffa600"/><stop offset="0.751" stop-color="#f8f400"/><stop offset="0.769" stop-color="#c7ff30"/><stop offset="0.821" stop-color="#14ffe3"/><stop offset="0.824" stop-color="#00e5f7"/><stop offset="0.845" stop-color="#003fff"/><stop offset="0.852" stop-color="#0000ff"/><stop offset="0.859" stop-color="#0000e3"/><stop offset="0.877" stop-color="#000080"/><stop offset="1" stop-color="#000080"/></linearGradient>
<linearGradient id="h168" x1="0" y1="0" x2="0" y2="1"><stop offset="0" stop-color="#3dffba"/><stop offset="0.09" stop-color="#6aff8c"/><stop offset="0.317" stop-color="#f6f701"/><stop offset="0.543" stop-color="#ff4900"/><stop offset="0.643" stop-color="#ff3600"/><stop offset="0.689" stop-color="#ff5400"/><stop offset="0.727" stop-color="#ffa500"/><stop offset="0.751" stop-color="#f9f300"/><stop offset="0.765" stop-color="#d1ff25"/><stop offset="0.821" stop-color="#15ffe2"/><stop offset="0.824" stop-color="#01e7f6"/><stop offset="0.845" stop-color="#0041ff"/><stop offset="0.852" stop-color="#0001ff"/><stop offset="0.859" stop-color="#0000e6"/><stop offset="0.877" stop-color="#000080"/><stop offset="1" stop-color="#000080"/></linearGradient>
<linearGradient id="h169" x1="0" y1="0" x2="0" y2="1"><stop offset="0" stop-color="#4dffaa"/><stop offset="0.104" stop-color="#7cff7b"/><stop offset="0.313" stop-color="#f6f701"/><stop offset="0.546" stop-color="#ff4700"/><stop offset="0.643" stop-color="#ff3600"/><stop offset="0.689" stop-color="#ff5400"/><stop offset="0.727" stop-color="#ffa500"/><stop offset="0.751" stop-color="#faf200"/><stop offset="0.765" stop-color="#d2ff25"/><stop offset="0.821" stop-color="#15ffe1"/><stop offset="0.828" stop-color="#00ceff"/><stop offset="0.845" stop-color="#0042ff"/><stop offset="0.852" stop-color="#0003ff"/><stop offset="0.856" stop-color="#0000fc"/><stop offset="0.877" stop-color="#000081"/><stop offset="1" stop-color="#000080"/></linearGradient>
<linearGradient id="h170" x1="0" y1="0" x2="0" y2="1"><stop offset="0" stop-color="#4effa9"/><stop offset="0.101" stop-color="#7cff7a"/><stop offset="0.313" stop-color="#f7f600"/><stop offset="0.55" stop-color="#ff4600"/><stop offset="0.643" stop-color="#ff3600"/><stop offset="0.689" stop-color="#ff5400"/><stop offset="0.727" stop-color="#ffa400"/><stop offset="0.751" stop-color="#faf200"/><stop offset="0.765" stop-color="#d2ff25"/><stop offset="0.821" stop-color="#16ffe1"/><stop offset="0.828" stop-color="#00cfff"/><stop offset="0.845" stop-color="#0044ff"/><stop offset="0.852" stop-color="#0004ff"/><stop offset="0.856" stop-color="#0000fd"/><stop offset="0.877" stop-color="#000082"/><stop offset="1" stop-color="#000080"/></linearGradient>
<linearGradient id="h171" x1="0" y1="0" x2="0" y2="1"><stop offset="0" stop-color="#4effa9"/><stop offset="0.101" stop-color="#7fff78"/><stop offset="0.313" stop-color="#f6f601"/><stop offset="0.55" stop-color="#ff4600"/><stop offset="0.643" stop-color="#ff3600"/><stop offset="0.692" stop-color="#ff5900"/><stop offset="0.73" stop-color="#ffad00"/><stop offset="0.751" stop-color="#fbf100"/><stop offset="0.765" stop-color="#d3ff24"/><stop offset="0.821" stop-color="#16ffe0"/><stop offset="0.828" stop-color="#00d0ff"/><stop offset="0.849" stop-color="#0025ff"/><stop offset="0.852" stop-color="#0005ff"/><stop offset="0.856" stop-color="#0000fe"/><stop offset="0.877" stop-color="#000083"/><stop offset="1" stop-color="#000080"/></linearGradient>
<linearGradient id="h172" x1="0" y1="0" x2="0" y2="1"><stop offset="0" stop-color="#4effa9"/><stop offset="0.097" stop-color="#7fff78"/><stop offset="0.313" stop-color="#f6f701"/><stop offset="0.55" stop-color="#ff4600"/><stop offset="0.643" stop-color="#ff3600"/><stop offset="0.692" stop-color="#ff5900"/><stop offset="0.73" stop-color="#ffad00"/><stop offset="0.751" stop-color="#fbf100"/><stop offset="0.769" stop-color="#c9ff2e"/><stop offset="0.821" stop-color="#17ffe0"/><stop offset="0.828" stop-color="#00d1ff"/><stop offset="0.849" stop-color="#0026ff"/><stop offset="0.852" stop-color="#0006ff"/><stop offset="0.856" stop-color="#0000ff"/><stop offset="0.877" stop-color="#000083"/><stop offset="1" stop-color="#000080"/></linearGradient>
<linearGradient id="h173" x1="0" y1="0" x2="0" y2="1"><stop offset="0" stop-color="#4effa9"/><stop offset="0.101" stop-color="#7fff78"/><stop offset="0.313" stop-color="#f5f702"/><stop offset="0.546" stop-color="#ff4800"/><stop offset="0.643" stop-color="#ff3600"/><stop offset="0.692" stop-color="#ff5800"/><stop offset="0.73" stop-color="#ffac00"/><stop offset="0.751" stop-color="#fbf000"/><stop offset="0.769" stop-color="#c9ff2d"/><stop offset="0.821" stop-color="#17ffdf"/><stop offset="0.828" stop-color="#00d2ff"/><stop offset="0.849" stop-color="#0028ff"/><stop offset="0.852" stop-color="#0008ff"/><stop offset="0.856" stop-color="#0000ff"/><stop offset="0.877" stop-color="#000084"/><stop offset="1" stop-color="#000080"/></linearGradient>
<linearGradient id="h174" x1="0" y1="0" x2="0" y2="1"><stop offset="0" stop-color="#4effa9"/><stop offset="0.108" stop-color="#7dff7a"/><stop offset="0.313" stop-color="#f5f802"/><stop offset="0.483" stop-color="#ff7000"/><stop offset="0.595" stop-color="#ff3700"/><stop offset="0.671" stop-color="#ff4100"/><stop offset="0.713" stop-color="#ff7e00"/><stop offset="0.751" stop-color="#fcf000"/><stop offset="0.765" stop-color="#d4ff23"/><stop offset="0.821" stop-color="#18ffdf"/><stop offset="0.828" stop-color="#00d3ff"/><stop offset="0.849" stop-color="#0029ff"/><stop offset="0.852" stop-color="#0009ff"/><stop offset="0.856" stop-color="#0000ff"/><stop offset="0.877" stop-color="#000085"/><stop offset="1" stop-color="#000080"/></linearGradient>
<linearGradient id="h175" x1="0" y1="0" x2="0" y2="1"><stop offset="0" stop-color="#4effa9"/><stop offset="0.118" stop-color="#7dff7a"/><stop offset="0.313" stop-color="#f5f802"/><stop offset="0.47" stop-color="#ff7900"/><stop offset="0.588" stop-color="#ff3800"/><stop offset="0.664" stop-color="#ff3d00"/><stop offset="0.706" stop-color="#ff7000"/><stop offset="0.751" stop-color="#fcef00"/><stop offset="0.765" stop-color="#d4ff23"/><stop offset="0.821" stop-color="#18ffdf"/><stop offset="0.828" stop-color="#00d4ff"/><stop offset="0.849" stop-color="#002aff"/><stop offset="0.852" stop-color="#000aff"/><stop offset="0.856" stop-color="#0000ff"/><stop offset="0.877" stop-color="#000086"/><stop offset="1" stop-color="#000080"/></linearGradient>
<linearGradient id="h176" x1="0" y1="0" x2="0" y2="1"><stop offset="0" stop-color="#42ffb5"/><stop offset="0.143" stop-color="#88ff6e"/><stop offset="0.317" stop-color="#f7f500"/><stop offset="0.55" stop-color="#ff4600"/><stop offset="0.643" stop-color="#ff3600"/><stop offset="0.692" stop-color="#ff5800"/><stop offset="0.73" stop-color="#ffab00"/><stop offset="0.755" stop-color="#f2fb05"/><stop offset="0.821" stop-color="#19ffde"/><stop offset="0.828" stop-color="#00d5ff"/><stop offset="0.849" stop-color="#002bff"/><stop offset="0.852" stop-color="#000bff"/><stop offset="0.856" stop-color="#0000ff"/><stop offset="0.877" stop-color="#000086"/><stop offset="1" stop-color="#000080"/></linearGradient>
<linearGradient id="h177" x1="0" y1="0" x2="0" y2="1"><stop offset="0" stop-color="#21ffd5"/><stop offset="0.313" stop-color="#f5f802"/><stop offset="0.47" stop-color="#ff7900"/><stop offset="0.588" stop-color="#ff3800"/><stop offset="0.664" stop-color="#ff3d00"/><stop offset="0.703" stop-color="#ff6900"/><stop offset="0.748" stop-color="#ffe300"/><stop offset="0.758" stop-color="#e8ff0e"/><stop offset="0.821" stop-color="#19ffde"/><stop offset="0.828" stop-color="#00d5ff"/><stop offset="0.849" stop-color="#002cff"/><stop offset="0.852" stop-color="#000cff"/><stop offset="0.859" stop-color="#0000ed"/><stop offset="0.877" stop-color="#000087"/><stop offset="1" stop-color="#000080"/></linearGradient>
<linearGradient id="h178" x1="0" y1="0" x2="0" y2="1"><stop offset="0" stop-color="#03e9f4"/><stop offset="0.021" stop-color="#1fffd8"/><stop offset="0.257" stop-color="#d3ff24"/><stop offset="0.32" stop-color="#faf200"/><stop offset="0.55" stop-color="#ff4600"/><stop offset="0.643" stop-color="#ff3500"/><stop offset="0.692" stop-color="#ff5800"/><stop offset="0.73" stop-color="#ffab00"/><stop offset="0.755" stop-color="#f2fb04"/><stop offset="0.821" stop-color="#19ffde"/><stop offset="0.828" stop-color="#00d6ff"/><stop offset="0.849" stop-color="#002cff"/><stop offset="0.852" stop-color="#000cff"/><stop offset="0.859" stop-color="#0000ed"/><stop offset="0.877" stop-color="#000087"/><stop offset="1" stop-color="#000080"/></linearGradient>
<linearGradient id="h179" x1="0" y1="0" x2="0" y2="1"><stop offset="0" stop-color="#00caff"/><stop offset="0.028" stop-color="#0ef7e9"/><stop offset="0.177" stop-color="#9cff5b"/><stop offset="0.317" stop-color="#f7f500"/><stop offset="0.55" stop-color="#ff4600"/><stop offset="0.643" stop-color="#ff3500"/><stop offset="0.692" stop-color="#ff5800"/><stop offset="0.73" stop-color="#ffab00"/><stop offset="0.755" stop-color="#f3fa04"/><stop offset="0.821" stop-color="#19ffde"/><stop offset="0.828" stop-color="#00d6ff"/><stop offset="0.849" stop-color="#002cff"/><stop offset="0.852" stop-color="#000cff"/><stop offset="0.859" stop-color="#0000ed"/><stop offset="0.877" stop-color="#000087"/><stop offset="1" stop-color="#000080"/></linearGradient>
<linearGradient id="h180" x1="0" y1="0" x2="0" y2="1"><stop offset="0" stop-color="#00b5ff"/><stop offset="0.038" stop-color="#04eaf3"/><stop offset="0.066" stop-color="#28ffcf"/><stop offset="0.17" stop-color="#93ff64"/><stop offset="0.317" stop-color="#f7f500"/><stop offset="0.55" stop-color="#ff4600"/><stop offset="0.643" stop-color="#ff3500"/><stop offset="0.692" stop-color="#ff5800"/><stop offset="0.73" stop-color="#ffab00"/><stop offset="0.755" stop-color="#f3fa04"/><stop offset="0.821" stop-color="#19ffde"/><stop offset="0.828" stop-color="#00d6ff"/><stop offset="0.849" stop-color="#002dff"/><stop offset="0.852" stop-color="#000dff"/><stop offset="0.859" stop-color="#0000ee"/><stop offset="0.877" stop-color="#000087"/><stop offset="1" stop-color="#000080"/></linearGradient>
<linearGradient id="h181" x1="0" y1="0" x2="0" y2="1"><stop offset="0" stop-color="#00a3ff"/><stop offset="0.031" stop-color="#00e3f9"/><stop offset="0.052" stop-color="#1affdd"/><stop offset="0.184" stop-color="#9aff5d"/><stop offset="0.317" stop-color="#f7f600"/><stop offset="0.55" stop-color="#ff4600"/><stop offset="0.643" stop-color="#ff3500"/><stop offset="0.692" stop-color="#ff5700"/><stop offset="0.73" stop-color="#ffab00"/><stop offset="0.755" stop-color="#f3fa04"/><stop offset="0.821" stop-color="#19ffdd"/><stop offset="0.828" stop-color="#00d7ff"/><stop offset="0.849" stop-color="#002dff"/><stop offset="0.856" stop-color="#0000ff"/><stop offset="0.877" stop-color="#000088"/><stop offset="1" stop-color="#000080"/></linearGradient>
<linearGradient id="h182" x1="0" y1="0" x2="0" y2="1"><stop offset="0" stop-color="#0068ff"/><stop offset="0.042" stop-color="#00e4f8"/><stop offset="0.063" stop-color="#1dffda"/><stop offset="0.177" stop-color="#93ff63"/><stop offset="0.317" stop-color="#f7f600"/><stop offset="0.546" stop-color="#ff4800"/><stop offset="0.643" stop-color="#ff3500"/><stop offset="0.692" stop-color="#ff5700"/><stop offset="0.73" stop-color="#ffab00"/><stop offset="0.755" stop-color="#f3fa04"/><stop offset="0.821" stop-color="#19ffdd"/><stop offset="0.828" stop-color="#00d7ff"/><stop offset="0.849" stop-color="#002eff"/><stop offset="0.856" stop-color="#0000ff"/><stop offset="0.877" stop-color="#000088"/><stop offset="1" stop-color="#000080"/></linearGradient>
<linearGradient id="h183" x1="0" y1="0" x2="0" y2="1"><stop offset="0" stop-color="#0023ff"/><stop offset="0.059" stop-color="#00e4f8"/><stop offset="0.073" stop-color="#1cffdb"/><stop offset="0.17" stop-color="#8cff6a"/><stop offset="0.317" stop-color="#f7f600"/><stop offset="0.546" stop-color="#ff4800"/><stop offset="0.643" stop-color="#ff3500"/><stop offset="0.692" stop-color="#ff5700"/><stop offset="0.73" stop-color="#ffab00"/><stop offset="0.755" stop-color="#f3fa04"/><stop offset="0.821" stop-color="#1affdd"/><stop offset="0.828" stop-color="#00d7ff"/><stop offset="0.849" stop-color="#002eff"/><stop offset="0.856" stop-color="#0000ff"/><stop offset="0.877" stop-color="#000088"/><stop offset="1" stop-color="#000080"/></linearGradient>
<linearGradient id="h184" x1="0" y1="0" x2="0" y2="1"><stop offset="0" stop-color="#0000f6"/><stop offset="0.01" stop-color="#000cff"/><stop offset="0.073" stop-color="#00defd"/><stop offset="0.087" stop-color="#1effd9"/><stop offset="0.125" stop-color="#5eff98"/><stop offset="0.268" stop-color="#d3ff24"/><stop offset="0.32" stop-color="#f9f300"/><stop offset="0.546" stop-color="#ff4800"/><stop offset="0.643" stop-color="#ff3500"/><stop offset="0.692" stop-color="#ff5700"/><stop offset="0.73" stop-color="#ffaa00"/><stop offset="0.755" stop-color="#f3fa03"/><stop offset="0.821" stop-color="#1affdd"/><stop offset="0.828" stop-color="#00d8ff"/><stop offset="0.849" stop-color="#002eff"/><stop offset="0.856" stop-color="#0000ff"/><stop offset="0.877" stop-color="#000088"/><stop offset="1" stop-color="#000080"/></linearGradient>
<linearGradient id="h185" x1="0" y1="0" x2="0" y2="1"><stop offset="0" stop-color="#0000dc"/><stop offset="0.014" stop-color="#0000ff"/><stop offset="0.08" stop-color="#00ddfd"/><stop offset="0.094" stop-color="#22ffd5"/><stop offset="0.118" stop-color="#56ffa1"/><stop offset="0.212" stop-color="#a9ff4d"/><stop offset="0.317" stop-color="#f6f600"/><stop offset="0.546" stop-color="#ff4800"/><stop offset="0.643" stop-color="#ff3500"/><stop offset="0.692" stop-color="#ff5700"/><stop offset="0.73" stop-color="#ffaa00"/><stop offset="0.755" stop-color="#f3f903"/><stop offset="0.821" stop-color="#1affdd"/><stop offset="0.828" stop-color="#00d8ff"/><stop offset="0.849" stop-color="#002fff"/><stop offset="0.856" stop-color="#0000ff"/><stop offset="0.877" stop-color="#000088"/><stop offset="1" stop-color="#000080"/></linearGradient>
<linearGradient id="h186" x1="0" y1="0" x2="0" y2="1"><stop offset="0" stop-color="#0000f7"/><stop offset="0.01" stop-color="#000dff"/><stop offset="0.073" stop-color="#00e0fb"/><stop offset="0.087" stop-color="#20ffd7"/><stop offset="0.125" stop-color="#5eff98"/><stop offset="0.317" stop-color="#f6f601"/><stop offset="0.546" stop-color="#ff4800"/><stop offset="0.643" stop-color="#ff3500"/><stop offset="0.692" stop-color="#ff5700"/><stop offset="0.73" stop-color="#ffaa00"/><stop offset="0.755" stop-color="#f3f903"/><stop offset="0.821" stop-color="#1affdd"/><stop offset="0.828" stop-color="#00d8ff"/><stop offset="0.849" stop-color="#002fff"/><stop offset="0.856" stop-color="#0000ff"/><stop offset="0.88" stop-color="#000080"/><stop offset="1" stop-color="#000080"/></linearGradient>
<linearGradient id="h187" x1="0" y1="0" x2="0" y2="1"><stop offset="0" stop-color="#0025ff"/><stop offset="0.056" stop-color="#00e0fb"/><stop offset="0.073" stop-color="#1fffd7"/><stop offset="0.17" stop-color="#8aff6c"/><stop offset="0.317" stop-color="#f6f601"/><stop offset="0.546" stop-color="#ff4800"/><stop offset="0.643" stop-color="#ff3500"/><stop offset="0.692" stop-color="#ff5700"/><stop offset="0.73" stop-color="#ffaa00"/><stop offset="0.755" stop-color="#f4f903"/><stop offset="0.821" stop-color="#1affdd"/><stop offset="0.828" stop-color="#00d8ff"/><stop offset="0.849" stop-color="#002fff"/><stop offset="0.856" stop-color="#0000ff"/><stop offset="0.88" stop-color="#000080"/><stop offset="1" stop-color="#000080"/></linearGradient>
<linearGradient id="h188" x1="0" y1="0" x2="0" y2="1"><stop offset="0" stop-color="#006eff"/><stop offset="0.038" stop-color="#00e5f7"/><stop offset="0.059" stop-color="#1fffd8"/><stop offset="0.191" stop-color="#9aff5d"/><stop offset="0.317" stop-color="#f6f701"/><stop offset="0.546" stop-color="#ff4800"/><stop offset="0.643" stop-color="#ff3500"/><stop offset="0.692" stop-color="#ff5700"/><stop offset="0.73" stop-color="#ffaa00"/><stop offset="0.755" stop-color="#f4f903"/><stop offset="0.821" stop-color="#1affdd"/><stop offset="0.828" stop-color="#00d9ff"/><stop offset="0.849" stop-color="#0030ff"/><stop offset="0.856" stop-color="#0000ff"/><stop offset="0.88" stop-color="#000080"/><stop offset="1" stop-color="#000080"/></linearGradient>
<linearGradient id="h189" x1="0" y1="0" x2="0" y2="1"><stop offset="0" stop-color="#00adff"/><stop offset="0.024" stop-color="#05ecf2"/><stop offset="0.045" stop-color="#1fffd8"/><stop offset="0.23" stop-color="#b4ff42"/><stop offset="0.317" stop-color="#f6f701"/><stop offset="0.546" stop-color="#ff4800"/><stop offset="0.643" stop-color="#ff3500"/><stop offset="0.692" stop-color="#ff5700"/><stop offset="0.73" stop-color="#ffaa00"/><stop offset="0.755" stop-color="#f4f903"/><stop offset="0.821" stop-color="#1affdc"/><stop offset="0.828" stop-color="#00d9ff"/><stop offset="0.849" stop-color="#0030ff"/><stop offset="0.856" stop-color="#0000ff"/><stop offset="0.88" stop-color="#000080"/><stop offset="1" stop-color="#000080"/></linearGradient>
<linearGradient id="h190" x1="0" y1="0" x2="0" y2="1"><stop offset="0" stop-color="#00d8ff"/><stop offset="0.028" stop-color="#19ffde"/><stop offset="0.139" stop-color="#72ff85"/><stop offset="0.317" stop-color="#f6f701"/><stop offset="0.546" stop-color="#ff4800"/><stop offset="0.643" stop-color="#ff3500"/><stop offset="0.692" stop-color="#ff5700"/><stop offset="0.73" stop-color="#ffaa00"/><stop offset="0.755" stop-color="#f4f903"/><stop offset="0.821" stop-color="#1affdc"/><stop offset="0.828" stop-color="#00d9ff"/><stop offset="0.849" stop-color="#0030ff"/><stop offset="0.856" stop-color="#0000ff"/><stop offset="0.88" stop-color="#000080"/><stop offset="1" stop-color="#000080"/></linearGradient>
<linearGradient id="h191" x1="0" y1="0" x2="0" y2="1"><stop offset="0" stop-color="#0ef7e8"/><stop offset="0.108" stop-color="#51ffa5"/><stop offset="0.195" stop-color="#9cff5b"/><stop offset="0.317" stop-color="#f5f701"/><stop offset="0.546" stop-color="#ff4800"/><stop offset="0.643" stop-color="#ff3500"/><stop offset="0.692" stop-color="#ff5700"/><stop offset="0.73" stop-color="#ffaa00"/><stop offset="0.755" stop-color="#f4f903"/><stop offset="0.821" stop-color="#1bffdc"/><stop offset="0.828" stop-color="#00daff"/><stop offset="0.849" stop-color="#0031ff"/><stop offset="0.856" stop-color="#0000ff"/><stop offset="0.88" stop-color="#000080"/><stop offset="1" stop-color="#000080"/></linearGradient>
<linearGradient id="h192" x1="0" y1="0" x2="0" y2="1"><stop offset="0" stop-color="#14ffe2"/><stop offset="0.09" stop-color="#44ffb2"/><stop offset="0.188" stop-color="#98ff5f"/><stop offset="0.32" stop-color="#f7f500"/><stop offset="0.546" stop-color="#ff4800"/><stop offset="0.643" stop-color="#ff3500"/><stop offset="0.692" stop-color="#ff5700"/><stop offset="0.73" stop-color="#ffa900"/><stop offset="0.755" stop-color="#f4f802"/><stop offset="0.821" stop-color="#1bffdc"/><stop offset="0.828" stop-color="#00dbff"/><stop offset="0.849" stop-color="#0032ff"/><stop offset="0.856" stop-color="#0000ff"/><stop offset="0.88" stop-color="#000080"/><stop offset="1" stop-color="#000080"/></linearGradient>
<linearGradient id="h193" x1="0" y1="0" x2="0" y2="1"><stop offset="0" stop-color="#15ffe2"/><stop offset="0.087" stop-color="#44ffb3"/><stop offset="0.174" stop-color="#91ff66"/><stop offset="0.32" stop-color="#f6f600"/><stop offset="0.546" stop-color="#ff4800"/><stop offset="0.643" stop-color="#ff3500"/><stop offset="0.692" stop-color="#ff5700"/><stop offset="0.73" stop-color="#ffa900"/><stop offset="0.755" stop-color="#f5f802"/><stop offset="0.821" stop-color="#1bffdb"/><stop offset="0.828" stop-color="#00dcff"/><stop offset="0.849" stop-color="#0033ff"/><stop offset="0.856" stop-color="#0000ff"/><stop offset="0.88" stop-color="#000080"/><stop offset="1" stop-color="#000080"/></linearGradient>
<linearGradient id="h194" x1="0" y1="0" x2="0" y2="1"><stop offset="0" stop-color="#1effd9"/><stop offset="0.087" stop-color="#4bffac"/><stop offset="0.181" stop-color="#98ff5f"/><stop offset="0.32" stop-color="#f6f701"/><stop offset="0.543" stop-color="#ff4a00"/><stop offset="0.643" stop-color="#ff3500"/><stop offset="0.692" stop-color="#ff5600"/><stop offset="0.73" stop-color="#ffa900"/><stop offset="0.755" stop-color="#f5f702"/><stop offset="0.824" stop-color="#0df6ea"/><stop offset="0.828" stop-color="#00dcfe"/><stop offset="0.849" stop-color="#0034ff"/><stop offset="0.856" stop-color="#0000ff"/><stop offset="0.88" stop-color="#000080"/><stop offset="1" stop-color="#000080"/></linearGradient>
<linearGradient id="h195" x1="0" y1="0" x2="0" y2="1"><stop offset="0" stop-color="#2affcc"/><stop offset="0.094" stop-color="#59ff9e"/><stop offset="0.226" stop-color="#b5ff42"/><stop offset="0.323" stop-color="#f7f500"/><stop offset="0.543" stop-color="#ff4a00"/><stop offset="0.643" stop-color="#ff3500"/><stop offset="0.692" stop-color="#ff5600"/><stop offset="0.73" stop-color="#ffa800"/><stop offset="0.755" stop-color="#f6f701"/><stop offset="0.824" stop-color="#0ef7e9"/><stop offset="0.828" stop-color="#00ddfd"/><stop offset="0.849" stop-color="#0036ff"/><stop offset="0.856" stop-color="#0000ff"/><stop offset="0.88" stop-color="#000080"/><stop offset="1" stop-color="#000080"/></linearGradient>
<linearGradient id="h196" x1="0" y1="0" x2="0" y2="1"><stop offset="0" stop-color="#28ffce"/><stop offset="0.087" stop-color="#55ffa1"/><stop offset="0.181" stop-color="#9cff5b"/><stop offset="0.323" stop-color="#f6f601"/><stop offset="0.543" stop-color="#ff4a00"/><stop offset="0.643" stop-color="#ff3500"/><stop offset="0.692" stop-color="#ff5600"/><stop offset="0.73" stop-color="#ffa800"/><stop offset="0.755" stop-color="#f6f601"/><stop offset="0.824" stop-color="#0ff8e8"/><stop offset="0.831" stop-color="#00c5ff"/><stop offset="0.856" stop-color="#0000ff"/><stop offset="0.88" stop-color="#000080"/><stop offset="1" stop-color="#000080"/></linearGradient>
<linearGradient id="h197" x1="0" y1="0" x2="0" y2="1"><stop offset="0" stop-color="#26ffd1"/><stop offset="0.083" stop-color="#53ffa4"/><stop offset="0.167" stop-color="#95ff62"/><stop offset="0.323" stop-color="#f5f702"/><stop offset="0.511" stop-color="#ff5e00"/><stop offset="0.626" stop-color="#ff3200"/><stop offset="0.689" stop-color="#ff5100"/><stop offset="0.73" stop-color="#ffa800"/><stop offset="0.755" stop-color="#f6f600"/><stop offset="0.824" stop-color="#0ff8e7"/><stop offset="0.831" stop-color="#00c6ff"/><stop offset="0.856" stop-color="#0000ff"/><stop offset="0.873" stop-color="#0000a1"/><stop offset="0.88" stop-color="#000080"/><stop offset="1" stop-color="#000080"/></linearGradient>
<linearGradient id="h198" x1="0" y1="0" x2="0" y2="1"><stop offset="0" stop-color="#21ffd6"/><stop offset="0.094" stop-color="#55ffa2"/><stop offset="0.198" stop-color="#a6ff51"/><stop offset="0.327" stop-color="#f7f500"/><stop offset="0.539" stop-color="#ff4b00"/><stop offset="0.643" stop-color="#ff3500"/><stop offset="0.692" stop-color="#ff5600"/><stop offset="0.73" stop-color="#ffa700"/><stop offset="0.755" stop-color="#f7f500"/><stop offset="0.821" stop-color="#1effd9"/><stop offset="0.824" stop-color="#10f9e7"/><stop offset="0.831" stop-color="#00c7ff"/><stop offset="0.856" stop-color="#0000ff"/><stop offset="0.866" stop-color="#0000cb"/><stop offset="0.88" stop-color="#000081"/><stop offset="1" stop-color="#000080"/></linearGradient>
<linearGradient id="h199" x1="0" y1="0" x2="0" y2="1"><stop offset="0" stop-color="#00bfff"/><stop offset="0.017" stop-color="#0ef7e9"/><stop offset="0.191" stop-color="#9fff58"/><stop offset="0.327" stop-color="#f6f600"/><stop offset="0.539" stop-color="#ff4b00"/><stop offset="0.643" stop-color="#ff3500"/><stop offset="0.692" stop-color="#ff5500"/><stop offset="0.73" stop-color="#ffa700"/><stop offset="0.755" stop-color="#f7f500"/><stop offset="0.803" stop-color="#57ffa0"/><stop offset="0.824" stop-color="#10fae7"/><stop offset="0.831" stop-color="#00c8ff"/><stop offset="0.856" stop-color="#0000ff"/><stop offset="0.866" stop-color="#0000cb"/><stop offset="0.88" stop-color="#000081"/><stop offset="1" stop-color="#000080"/></linearGradient>
<linearGradient id="h200" x1="0" y1="0" x2="0" y2="1"><stop offset="0" stop-color="#0056ff"/><stop offset="0.038" stop-color="#00e2fa"/><stop offset="0.056" stop-color="#1bffdc"/><stop offset="0.167" stop-color="#8eff69"/><stop offset="0.327" stop-color="#f6f601"/><stop offset="0.539" stop-color="#ff4b00"/><stop offset="0.643" stop-color="#ff3500"/><stop offset="0.692" stop-color="#ff5500"/><stop offset="0.73" stop-color="#ffa700"/><stop offset="0.755" stop-color="#f7f500"/><stop offset="0.797" stop-color="#6eff89"/><stop offset="0.824" stop-color="#10fae6"/><stop offset="0.831" stop-color="#00c8ff"/><stop offset="0.856" stop-color="#0000ff"/><stop offset="0.863" stop-color="#0000e1"/><stop offset="0.88" stop-color="#000081"/><stop offset="1" stop-color="#000080"/></linearGradient>
<linearGradient id="h201" x1="0" y1="0" x2="0" y2="1"><stop offset="0" stop-color="#0019ff"/><stop offset="0.045" stop-color="#00a0ff"/><stop offset="0.063" stop-color="#00e5f7"/><stop offset="0.073" stop-color="#20ffd7"/><stop offset="0.104" stop-color="#4bffac"/><stop offset="0.17" stop-color="#8fff68"/><stop offset="0.327" stop-color="#f6f701"/><stop offset="0.539" stop-color="#ff4b00"/><stop offset="0.643" stop-color="#ff3500"/><stop offset="0.692" stop-color="#ff5500"/><stop offset="0.73" stop-color="#ffa700"/><stop offset="0.755" stop-color="#f7f500"/><stop offset="0.79" stop-color="#87ff70"/><stop offset="0.824" stop-color="#11fae6"/><stop offset="0.831" stop-color="#00c8ff"/><stop offset="0.856" stop-color="#0000ff"/><stop offset="0.863" stop-color="#0000e2"/><stop offset="0.88" stop-color="#000081"/><stop offset="1" stop-color="#000080"/></linearGradient>
<linearGradient id="h202" x1="0" y1="0" x2="0" y2="1"><stop offset="0" stop-color="#004dff"/><stop offset="0.028" stop-color="#007cff"/><stop offset="0.063" stop-color="#00e0fc"/><stop offset="0.077" stop-color="#1dffda"/><stop offset="0.108" stop-color="#4bffac"/><stop offset="0.177" stop-color="#92ff65"/><stop offset="0.327" stop-color="#f6f701"/><stop offset="0.539" stop-color="#ff4b00"/><stop offset="0.643" stop-color="#ff3500"/><stop offset="0.692" stop-color="#ff5500"/><stop offset="0.73" stop-color="#ffa700"/><stop offset="0.755" stop-color="#f8f500"/><stop offset="0.786" stop-color="#94ff63"/><stop offset="0.824" stop-color="#11fae6"/><stop offset="0.831" stop-color="#00c8ff"/><stop offset="0.856" stop-color="#0000ff"/><stop offset="0.863" stop-color="#0000e2"/><stop offset="0.88" stop-color="#000081"/><stop offset="1" stop-color="#000080"/></linearGradient>
<linearGradient id="h203" x1="0" y1="0" x2="0" y2="1"><stop offset="0" stop-color="#002dff"/><stop offset="0.014" stop-color="#004fff"/><stop offset="0.042" stop-color="#0088ff"/><stop offset="0.066" stop-color="#00e0fb"/><stop offset="0.077" stop-color="#1cffdb"/><stop offset="0.111" stop-color="#4bffab"/><stop offset="0.184" stop-color="#95ff62"/><stop offset="0.327" stop-color="#f5f701"/><stop offset="0.536" stop-color="#ff4e00"/><stop offset="0.643" stop-color="#ff3500"/><stop offset="0.692" stop-color="#ff5500"/><stop offset="0.73" stop-color="#ffa600"/><stop offset="0.755" stop-color="#f8f500"/><stop offset="0.783" stop-color="#a1ff56"/><stop offset="0.824" stop-color="#11fbe6"/><stop offset="0.831" stop-color="#00c9ff"/><stop offset="0.856" stop-color="#0000ff"/><stop offset="0.863" stop-color="#0000e2"/><stop offset="0.88" stop-color="#000082"/><stop offset="1" stop-color="#000080"/></linearGradient>
<linearGradient id="h204" x1="0" y1="0" x2="0" y2="1"><stop offset="0" stop-color="#002dff"/><stop offset="0.038" stop-color="#0096ff"/><stop offset="0.059" stop-color="#00e6f7"/><stop offset="0.073" stop-color="#20ffd7"/><stop offset="0.184" stop-color="#94ff63"/><stop offset="0.327" stop-color="#f5f702"/><stop offset="0.536" stop-color="#ff4e00"/><stop offset="0.643" stop-color="#ff3500"/><stop offset="0.692" stop-color="#ff5500"/><stop offset="0.73" stop-color="#ffa600"/><stop offset="0.755" stop-color="#f8f400"/><stop offset="0.779" stop-color="#afff48"/><stop offset="0.824" stop-color="#11fbe6"/><stop offset="0.831" stop-color="#00c9ff"/><stop offset="0.856" stop-color="#0000ff"/><stop offset="0.863" stop-color="#0000e2"/><stop offset="0.88" stop-color="#000082"/><stop offset="1" stop-color="#000080"/></linearGradient>
<linearGradient id="h205" x1="0" y1="0" x2="0" y2="1"><stop offset="0" stop-color="#006cff"/><stop offset="0.035" stop-color="#01e7f5"/><stop offset="0.063" stop-color="#19ffde"/><stop offset="0.198" stop-color="#9dff5a"/><stop offset="0.327" stop-color="#f5f702"/><stop offset="0.536" stop-color="#ff4e00"/><stop offset="0.643" stop-color="#ff3500"/><stop offset="0.692" stop-color="#ff5500"/><stop offset="0.73" stop-color="#ffa600"/><stop offset="0.755" stop-color="#f8f400"/><stop offset="0.779" stop-color="#afff48"/><stop offset="0.824" stop-color="#11fbe5"/><stop offset="0.831" stop-color="#00c9ff"/><stop offset="0.856" stop-color="#0000ff"/><stop offset="0.863" stop-color="#0000e3"/><stop offset="0.88" stop-color="#000082"/><stop offset="1" stop-color="#000080"/></linearGradient>
<linearGradient id="h206" x1="0" y1="0" x2="0" y2="1"><stop offset="0" stop-color="#00acff"/><stop offset="0.024" stop-color="#02e7f6"/><stop offset="0.08" stop-color="#25ffd2"/><stop offset="0.195" stop-color="#98ff5e"/><stop offset="0.327" stop-color="#f5f702"/><stop offset="0.536" stop-color="#ff4e00"/><stop offset="0.643" stop-color="#ff3500"/><stop offset="0.692" stop-color="#ff5500"/><stop offset="0.73" stop-color="#ffa600"/><stop offset="0.755" stop-color="#f8f400"/><stop offset="0.776" stop-color="#bcff3b"/><stop offset="0.824" stop-color="#11fbe5"/><stop offset="0.831" stop-color="#00caff"/><stop offset="0.856" stop-color="#0000ff"/><stop offset="0.863" stop-color="#0000e3"/><stop offset="0.88" stop-color="#000082"/><stop offset="1" stop-color="#000080"/></linearGradient>
<linearGradient id="h207" x1="0" y1="0" x2="0" y2="1"><stop offset="0" stop-color="#0054ff"/><stop offset="0.042" stop-color="#00dbff"/><stop offset="0.073" stop-color="#1dffda"/><stop offset="0.198" stop-color="#99ff5d"/><stop offset="0.327" stop-color="#f5f702"/><stop offset="0.536" stop-color="#ff4e00"/><stop offset="0.643" stop-color="#ff3500"/><stop offset="0.692" stop-color="#ff5500"/><stop offset="0.73" stop-color="#ffa600"/><stop offset="0.755" stop-color="#f8f400"/><stop offset="0.772" stop-color="#c6ff30"/><stop offset="0.824" stop-color="#12fbe5"/><stop offset="0.831" stop-color="#00caff"/><stop offset="0.856" stop-color="#0000ff"/><stop offset="0.863" stop-color="#0000e3"/><stop offset="0.88" stop-color="#000082"/><stop offset="1" stop-color="#000080"/></linearGradient>
<linearGradient id="h208" x1="0" y1="0" x2="0" y2="1"><stop offset="0" stop-color="#0010ff"/><stop offset="0.031" stop-color="#004eff"/><stop offset="0.083" stop-color="#02e8f5"/><stop offset="0.097" stop-color="#1fffd7"/><stop offset="0.163" stop-color="#7dff79"/><stop offset="0.327" stop-color="#f5f702"/><stop offset="0.536" stop-color="#ff4e00"/><stop offset="0.643" stop-color="#ff3500"/><stop offset="0.692" stop-color="#ff5500"/><stop offset="0.73" stop-color="#ffa600"/><stop offset="0.755" stop-color="#f8f400"/><stop offset="0.772" stop-color="#c6ff30"/><stop offset="0.824" stop-color="#12fce5"/><stop offset="0.831" stop-color="#00caff"/><stop offset="0.856" stop-color="#0001ff"/><stop offset="0.863" stop-color="#0000e4"/><stop offset="0.88" stop-color="#000082"/><stop offset="1" stop-color="#000080"/></linearGradient>
<linearGradient id="h209" x1="0" y1="0" x2="0" y2="1"><stop offset="0" stop-color="#0010ff"/><stop offset="0.031" stop-color="#003dff"/><stop offset="0.083" stop-color="#01e6f6"/><stop offset="0.097" stop-color="#1fffd7"/><stop offset="0.163" stop-color="#7cff7b"/><stop offset="0.327" stop-color="#f5f702"/><stop offset="0.536" stop-color="#ff4e00"/><stop offset="0.643" stop-color="#ff3500"/><stop offset="0.692" stop-color="#ff5500"/><stop offset="0.73" stop-color="#ffa600"/><stop offset="0.755" stop-color="#f8f400"/><stop offset="0.772" stop-color="#c7ff30"/><stop offset="0.824" stop-color="#12fce5"/><stop offset="0.831" stop-color="#00cbff"/><stop offset="0.856" stop-color="#0001ff"/><stop offset="0.863" stop-color="#0000e4"/><stop offset="0.88" stop-color="#000082"/><stop offset="1" stop-color="#000080"/></linearGradient>
<linearGradient id="h210" x1="0" y1="0" x2="0" y2="1"><stop offset="0" stop-color="#0016ff"/><stop offset="0.038" stop-color="#0070ff"/><stop offset="0.073" stop-color="#00e0fb"/><stop offset="0.087" stop-color="#1dffda"/><stop offset="0.188" stop-color="#8eff69"/><stop offset="0.327" stop-color="#f5f702"/><stop offset="0.536" stop-color="#ff4e00"/><stop offset="0.643" stop-color="#ff3500"/><stop offset="0.692" stop-color="#ff5500"/><stop offset="0.73" stop-color="#ffa600"/><stop offset="0.755" stop-color="#f8f400"/><stop offset="0.772" stop-color="#c7ff30"/><stop offset="0.824" stop-color="#12fce5"/><stop offset="0.831" stop-color="#00cbff"/><stop offset="0.856" stop-color="#0001ff"/><stop offset="0.863" stop-color="#0000e4"/><stop offset="0.88" stop-color="#000083"/><stop offset="1" stop-color="#000080"/></linearGradient>
<linearGradient id="h211" x1="0" y1="0" x2="0" y2="1"><stop offset="0" stop-color="#0010ff"/><stop offset="0.087" stop-color="#01e2fa"/><stop offset="0.104" stop-color="#24ffd3"/><stop offset="0.15" stop-color="#67ff90"/><stop offset="0.327" stop-color="#f5f702"/><stop offset="0.539" stop-color="#ff4c00"/><stop offset="0.643" stop-color="#ff3500"/><stop offset="0.692" stop-color="#ff5500"/><stop offset="0.73" stop-color="#ffa600"/><stop offset="0.755" stop-color="#f9f300"/><stop offset="0.769" stop-color="#d1ff26"/><stop offset="0.824" stop-color="#12fce4"/><stop offset="0.828" stop-color="#00e5f7"/><stop offset="0.849" stop-color="#003fff"/><stop offset="0.856" stop-color="#0002ff"/><stop offset="0.863" stop-color="#0000e4"/><stop offset="0.88" stop-color="#000083"/><stop offset="1" stop-color="#000080"/></linearGradient>
<linearGradient id="h212" x1="0" y1="0" x2="0" y2="1"><stop offset="0" stop-color="#000fff"/><stop offset="0.09" stop-color="#00e4f8"/><stop offset="0.104" stop-color="#1effd8"/><stop offset="0.139" stop-color="#59ff9d"/><stop offset="0.31" stop-color="#e8ff0f"/><stop offset="0.362" stop-color="#ffd900"/><stop offset="0.543" stop-color="#ff4a00"/><stop offset="0.643" stop-color="#ff3500"/><stop offset="0.692" stop-color="#ff5500"/><stop offset="0.73" stop-color="#ffa500"/><stop offset="0.755" stop-color="#f9f300"/><stop offset="0.769" stop-color="#d1ff26"/><stop offset="0.824" stop-color="#13fde4"/><stop offset="0.828" stop-color="#00e5f7"/><stop offset="0.849" stop-color="#003fff"/><stop offset="0.856" stop-color="#0002ff"/><stop offset="0.863" stop-color="#0000e5"/><stop offset="0.88" stop-color="#000083"/><stop offset="1" stop-color="#000080"/></linearGradient>
<linearGradient id="h213" x1="0" y1="0" x2="0" y2="1"><stop offset="0" stop-color="#0012ff"/><stop offset="0.083" stop-color="#00dffc"/><stop offset="0.097" stop-color="#1bffdc"/><stop offset="0.15" stop-color="#6aff8d"/><stop offset="0.327" stop-color="#f6f600"/><stop offset="0.539" stop-color="#ff4c00"/><stop offset="0.643" stop-color="#ff3500"/><stop offset="0.692" stop-color="#ff5500"/><stop offset="0.73" stop-color="#ffa500"/><stop offset="0.755" stop-color="#f9f300"/><stop offset="0.769" stop-color="#d1ff26"/><stop offset="0.824" stop-color="#13fde4"/><stop offset="0.828" stop-color="#00e6f7"/><stop offset="0.849" stop-color="#0040ff"/><stop offset="0.856" stop-color="#0003ff"/><stop offset="0.863" stop-color="#0000e5"/><stop offset="0.88" stop-color="#000083"/><stop offset="1" stop-color="#000080"/></linearGradient>
<linearGradient id="h214" x1="0" y1="0" x2="0" y2="1"><stop offset="0" stop-color="#001bff"/><stop offset="0.073" stop-color="#00e6f7"/><stop offset="0.087" stop-color="#21ffd6"/><stop offset="0.181" stop-color="#8cff6b"/><stop offset="0.327" stop-color="#f7f500"/><stop offset="0.543" stop-color="#ff4a00"/><stop offset="0.643" stop-color="#ff3500"/><stop offset="0.692" stop-color="#ff5500"/><stop offset="0.73" stop-color="#ffa500"/><stop offset="0.755" stop-color="#f9f300"/><stop offset="0.769" stop-color="#d1ff26"/><stop offset="0.824" stop-color="#13fde4"/><stop offset="0.828" stop-color="#00e6f6"/><stop offset="0.849" stop-color="#0040ff"/><stop offset="0.856" stop-color="#0003ff"/><stop offset="0.863" stop-color="#0000e5"/><stop offset="0.88" stop-color="#000083"/><stop offset="1" stop-color="#000080"/></linearGradient>
<linearGradient id="h215" x1="0" y1="0" x2="0" y2="1"><stop offset="0" stop-color="#0032ff"/><stop offset="0.056" stop-color="#00e1fa"/><stop offset="0.07" stop-color="#1affdd"/><stop offset="0.177" stop-color="#8fff68"/><stop offset="0.323" stop-color="#f6f601"/><stop offset="0.543" stop-color="#ff4a00"/><stop offset="0.643" stop-color="#ff3500"/><stop offset="0.692" stop-color="#ff5400"/><stop offset="0.73" stop-color="#ffa500"/><stop offset="0.755" stop-color="#f9f300"/><stop offset="0.769" stop-color="#d1ff26"/><stop offset="0.824" stop-color="#13fde4"/><stop offset="0.831" stop-color="#00cdff"/><stop offset="0.856" stop-color="#0003ff"/><stop offset="0.863" stop-color="#0000e5"/><stop offset="0.88" stop-color="#000083"/><stop offset="1" stop-color="#000080"/></linearGradient>
<linearGradient id="h216" x1="0" y1="0" x2="0" y2="1"><stop offset="0" stop-color="#004bff"/><stop offset="0.049" stop-color="#00e5f7"/><stop offset="0.07" stop-color="#1fffd7"/><stop offset="0.167" stop-color="#8dff6a"/><stop offset="0.32" stop-color="#f5f802"/><stop offset="0.477" stop-color="#ff7600"/><stop offset="0.595" stop-color="#ff3700"/><stop offset="0.671" stop-color="#ff4000"/><stop offset="0.717" stop-color="#ff8000"/><stop offset="0.755" stop-color="#f9f300"/><stop offset="0.769" stop-color="#d1ff25"/><stop offset="0.824" stop-color="#13fde3"/><stop offset="0.831" stop-color="#00cdff"/><stop offset="0.856" stop-color="#0003ff"/><stop offset="0.863" stop-color="#0000e6"/><stop offset="0.88" stop-color="#000084"/><stop offset="1" stop-color="#000080"/></linearGradient>
<linearGradient id="h217" x1="0" y1="0" x2="0" y2="1"><stop offset="0" stop-color="#0030ff"/><stop offset="0.104" stop-color="#03e7f6"/><stop offset="0.125" stop-color="#27ffd0"/><stop offset="0.226" stop-color="#b5ff42"/><stop offset="0.32" stop-color="#f7f500"/><stop offset="0.55" stop-color="#ff4700"/><stop offset="0.647" stop-color="#ff3600"/><stop offset="0.696" stop-color="#ff5900"/><stop offset="0.734" stop-color="#ffaf00"/><stop offset="0.755" stop-color="#f9f200"/><stop offset="0.769" stop-color="#d1ff25"/><stop offset="0.824" stop-color="#14fee3"/><stop offset="0.831" stop-color="#00cdff"/><stop offset="0.856" stop-color="#0004ff"/><stop offset="0.859" stop-color="#0000fc"/><stop offset="0.88" stop-color="#000084"/><stop offset="1" stop-color="#000080"/></linearGradient>
<linearGradient id="h218" x1="0" y1="0" x2="0" y2="1"><stop offset="0" stop-color="#03eaf3"/><stop offset="0.017" stop-color="#20ffd7"/><stop offset="0.195" stop-color="#afff48"/><stop offset="0.317" stop-color="#f7f600"/><stop offset="0.553" stop-color="#ff4600"/><stop offset="0.647" stop-color="#ff3600"/><stop offset="0.696" stop-color="#ff5900"/><stop offset="0.734" stop-color="#ffae00"/><stop offset="0.755" stop-color="#faf200"/><stop offset="0.769" stop-color="#d2ff25"/><stop offset="0.824" stop-color="#14fee3"/><stop offset="0.831" stop-color="#00ceff"/><stop offset="0.856" stop-color="#0004ff"/><stop offset="0.859" stop-color="#0000fc"/><stop offset="0.88" stop-color="#000084"/><stop offset="1" stop-color="#000080"/></linearGradient>
<linearGradient id="h219" x1="0" y1="0" x2="0" y2="1"><stop offset="0" stop-color="#5bff9c"/><stop offset="0.146" stop-color="#9bff5b"/><stop offset="0.313" stop-color="#f7f500"/><stop offset="0.56" stop-color="#ff4300"/><stop offset="0.65" stop-color="#ff3600"/><stop offset="0.696" stop-color="#ff5900"/><stop offset="0.734" stop-color="#ffae00"/><stop offset="0.755" stop-color="#faf200"/><stop offset="0.769" stop-color="#d2ff25"/><stop offset="0.824" stop-color="#14fee3"/><stop offset="0.831" stop-color="#00ceff"/><stop offset="0.856" stop-color="#0005ff"/><stop offset="0.859" stop-color="#0000fd"/><stop offset="0.88" stop-color="#000084"/><stop offset="1" stop-color="#000080"/></linearGradient>
<linearGradient id="h220" x1="0" y1="0" x2="0" y2="1"><stop offset="0" stop-color="#5fff98"/><stop offset="0.16" stop-color="#acff4b"/><stop offset="0.306" stop-color="#f5f702"/><stop offset="0.563" stop-color="#ff4200"/><stop offset="0.65" stop-color="#ff3600"/><stop offset="0.696" stop-color="#ff5900"/><stop offset="0.734" stop-color="#ffae00"/><stop offset="0.755" stop-color="#faf100"/><stop offset="0.772" stop-color="#c8ff2e"/><stop offset="0.824" stop-color="#15ffe2"/><stop offset="0.831" stop-color="#00cfff"/><stop offset="0.856" stop-color="#0006ff"/><stop offset="0.859" stop-color="#0000fd"/><stop offset="0.88" stop-color="#000085"/><stop offset="1" stop-color="#000080"/></linearGradient>
<linearGradient id="h221" x1="0" y1="0" x2="0" y2="1"><stop offset="0" stop-color="#5fff98"/><stop offset="0.125" stop-color="#8fff67"/><stop offset="0.31" stop-color="#f5f702"/><stop offset="0.56" stop-color="#ff4300"/><stop offset="0.65" stop-color="#ff3600"/><stop offset="0.696" stop-color="#ff5900"/><stop offset="0.734" stop-color="#ffad00"/><stop offset="0.755" stop-color="#fbf100"/><stop offset="0.772" stop-color="#c9ff2e"/><stop offset="0.824" stop-color="#15ffe1"/><stop offset="0.831" stop-color="#00d0ff"/><stop offset="0.856" stop-color="#0007ff"/><stop offset="0.859" stop-color="#0000fe"/><stop offset="0.88" stop-color="#000085"/><stop offset="1" stop-color="#000080"/></linearGradient>
<linearGradient id="h222" x1="0" y1="0" x2="0" y2="1"><stop offset="0" stop-color="#56ffa1"/><stop offset="0.118" stop-color="#81ff75"/><stop offset="0.313" stop-color="#f5f701"/><stop offset="0.557" stop-color="#ff4500"/><stop offset="0.65" stop-color="#ff3600"/><stop offset="0.696" stop-color="#ff5900"/><stop offset="0.734" stop-color="#ffad00"/><stop offset="0.755" stop-color="#fbf100"/><stop offset="0.772" stop-color="#c9ff2e"/><stop offset="0.824" stop-color="#16ffe1"/><stop offset="0.831" stop-color="#00d1ff"/><stop offset="0.856" stop-color="#0008ff"/><stop offset="0.859" stop-color="#0000ff"/><stop offset="0.88" stop-color="#000086"/><stop offset="1" stop-color="#000080"/></linearGradient>
<linearGradient id="h223" x1="0" y1="0" x2="0" y2="1"><stop offset="0" stop-color="#38ffbf"/><stop offset="0.097" stop-color="#67ff90"/><stop offset="0.296" stop-color="#e9ff0d"/><stop offset="0.355" stop-color="#ffd700"/><stop offset="0.56" stop-color="#ff4300"/><stop offset="0.65" stop-color="#ff3600"/><stop offset="0.696" stop-color="#ff5800"/><stop offset="0.734" stop-color="#ffad00"/><stop offset="0.755" stop-color="#fbf000"/><stop offset="0.772" stop-color="#c9ff2e"/><stop offset="0.824" stop-color="#16ffe1"/><stop offset="0.831" stop-color="#00d1ff"/><stop offset="0.856" stop-color="#0008ff"/><stop offset="0.859" stop-color="#0000ff"/><stop offset="0.88" stop-color="#000086"/><stop offset="1" stop-color="#000080"/></linearGradient>
<linearGradient id="h224" x1="0" y1="0" x2="0" y2="1"><stop offset="0" stop-color="#1affdc"/><stop offset="0.08" stop-color="#49ffae"/><stop offset="0.167" stop-color="#9aff5d"/><stop offset="0.317" stop-color="#f6f701"/><stop offset="0.553" stop-color="#ff4600"/><stop offset="0.647" stop-color="#ff3600"/><stop offset="0.696" stop-color="#ff5800"/><stop offset="0.734" stop-color="#ffad00"/><stop offset="0.755" stop-color="#fbf000"/><stop offset="0.772" stop-color="#c9ff2d"/><stop offset="0.824" stop-color="#16ffe1"/><stop offset="0.831" stop-color="#00d2ff"/><stop offset="0.856" stop-color="#0008ff"/><stop offset="0.859" stop-color="#0000ff"/><stop offset="0.88" stop-color="#000086"/><stop offset="1" stop-color="#000080"/></linearGradient>
<linearGradient id="h225" x1="0" y1="0" x2="0" y2="1"><stop offset="0" stop-color="#01e1fa"/><stop offset="0.07" stop-color="#29ffce"/><stop offset="0.153" stop-color="#8cff6b"/><stop offset="0.32" stop-color="#f7f500"/><stop offset="0.55" stop-color="#ff4800"/><stop offset="0.647" stop-color="#ff3600"/><stop offset="0.696" stop-color="#ff5800"/><stop offset="0.734" stop-color="#ffad00"/><stop offset="0.755" stop-color="#fbf000"/><stop offset="0.772" stop-color="#c9ff2d"/><stop offset="0.824" stop-color="#16ffe0"/><stop offset="0.831" stop-color="#00d2ff"/><stop offset="0.856" stop-color="#0009ff"/><stop offset="0.859" stop-color="#0000ff"/><stop offset="0.88" stop-color="#000086"/><stop offset="1" stop-color="#000080"/></linearGradient>
<linearGradient id="h226" x1="0" y1="0" x2="0" y2="1"><stop offset="0" stop-color="#00d7ff"/><stop offset="0.066" stop-color="#1affdd"/><stop offset="0.167" stop-color="#8eff69"/><stop offset="0.323" stop-color="#f7f500"/><stop offset="0.546" stop-color="#ff4900"/><stop offset="0.647" stop-color="#ff3600"/><stop offset="0.696" stop-color="#ff5800"/><stop offset="0.734" stop-color="#ffac00"/><stop offset="0.755" stop-color="#fcf000"/><stop offset="0.772" stop-color="#caff2d"/><stop offset="0.824" stop-color="#17ffe0"/><stop offset="0.831" stop-color="#00d3ff"/><stop offset="0.856" stop-color="#000aff"/><stop offset="0.859" stop-color="#0000ff"/><stop offset="0.88" stop-color="#000086"/><stop offset="1" stop-color="#000080"/></linearGradient>
<linearGradient id="h227" x1="0" y1="0" x2="0" y2="1"><stop offset="0" stop-color="#00e4f8"/><stop offset="0.077" stop-color="#27ffd0"/><stop offset="0.184" stop-color="#94ff63"/><stop offset="0.323" stop-color="#f5f702"/><stop offset="0.543" stop-color="#ff4b00"/><stop offset="0.647" stop-color="#ff3600"/><stop offset="0.696" stop-color="#ff5800"/><stop offset="0.734" stop-color="#ffac00"/><stop offset="0.755" stop-color="#fcf000"/><stop offset="0.769" stop-color="#d4ff23"/><stop offset="0.824" stop-color="#17ffe0"/><stop offset="0.831" stop-color="#00d3ff"/><stop offset="0.852" stop-color="#0029ff"/><stop offset="0.856" stop-color="#000aff"/><stop offset="0.859" stop-color="#0000ff"/><stop offset="0.88" stop-color="#000087"/><stop offset="1" stop-color="#000080"/></linearGradient>
<linearGradient id="h228" x1="0" y1="0" x2="0" y2="1"><stop offset="0" stop-color="#13fae4"/><stop offset="0.097" stop-color="#43ffb4"/><stop offset="0.317" stop-color="#efff08"/><stop offset="0.369" stop-color="#ffd200"/><stop offset="0.546" stop-color="#ff4900"/><stop offset="0.647" stop-color="#ff3600"/><stop offset="0.696" stop-color="#ff5800"/><stop offset="0.734" stop-color="#ffac00"/><stop offset="0.755" stop-color="#fcef00"/><stop offset="0.769" stop-color="#d4ff23"/><stop offset="0.824" stop-color="#17ffe0"/><stop offset="0.831" stop-color="#00d4ff"/><stop offset="0.852" stop-color="#0029ff"/><stop offset="0.856" stop-color="#000bff"/><stop offset="0.859" stop-color="#0000ff"/><stop offset="0.88" stop-color="#000087"/><stop offset="1" stop-color="#000080"/></linearGradient>
<linearGradient id="h229" x1="0" y1="0" x2="0" y2="1"><stop offset="0" stop-color="#24ffd3"/><stop offset="0.118" stop-color="#53ffa4"/><stop offset="0.33" stop-color="#f6f701"/><stop offset="0.536" stop-color="#ff4f00"/><stop offset="0.643" stop-color="#ff3500"/><stop offset="0.696" stop-color="#ff5800"/><stop offset="0.734" stop-color="#ffac00"/><stop offset="0.755" stop-color="#fcef00"/><stop offset="0.769" stop-color="#d4ff23"/><stop offset="0.824" stop-color="#18ffdf"/><stop offset="0.831" stop-color="#00d4ff"/><stop offset="0.852" stop-color="#002aff"/><stop offset="0.856" stop-color="#000bff"/><stop offset="0.859" stop-color="#0000ff"/><stop offset="0.88" stop-color="#000087"/><stop offset="1" stop-color="#000080"/></linearGradient>
<linearGradient id="h230" x1="0" y1="0" x2="0" y2="1"><stop offset="0" stop-color="#1cffdb"/><stop offset="0.132" stop-color="#54ffa2"/><stop offset="0.334" stop-color="#f6f601"/><stop offset="0.529" stop-color="#ff5300"/><stop offset="0.637" stop-color="#ff3400"/><stop offset="0.692" stop-color="#ff5300"/><stop offset="0.73" stop-color="#ffa200"/><stop offset="0.755" stop-color="#fdef00"/><stop offset="0.769" stop-color="#d4ff22"/><stop offset="0.824" stop-color="#18ffdf"/><stop offset="0.831" stop-color="#00d5ff"/><stop offset="0.852" stop-color="#002bff"/><stop offset="0.856" stop-color="#000cff"/><stop offset="0.859" stop-color="#0000ff"/><stop offset="0.88" stop-color="#000087"/><stop offset="1" stop-color="#000080"/></linearGradient>
<linearGradient id="h231" x1="0" y1="0" x2="0" y2="1"><stop offset="0" stop-color="#0bf4eb"/><stop offset="0.049" stop-color="#25ffd2"/><stop offset="0.167" stop-color="#6cff8b"/><stop offset="0.334" stop-color="#f5f701"/><stop offset="0.525" stop-color="#ff5600"/><stop offset="0.633" stop-color="#ff3300"/><stop offset="0.692" stop-color="#ff5300"/><stop offset="0.73" stop-color="#ffa200"/><stop offset="0.755" stop-color="#fdef00"/><stop offset="0.769" stop-color="#d5ff22"/><stop offset="0.824" stop-color="#18ffdf"/><stop offset="0.831" stop-color="#00d5ff"/><stop offset="0.852" stop-color="#002cff"/><stop offset="0.856" stop-color="#000cff"/><stop offset="0.863" stop-color="#0000ed"/><stop offset="0.88" stop-color="#000088"/><stop offset="1" stop-color="#000080"/></linearGradient>
<linearGradient id="h232" x1="0" y1="0" x2="0" y2="1"><stop offset="0" stop-color="#00daff"/><stop offset="0.031" stop-color="#18ffdf"/><stop offset="0.136" stop-color="#4effa9"/><stop offset="0.334" stop-color="#f5f802"/><stop offset="0.477" stop-color="#ff7700"/><stop offset="0.595" stop-color="#ff3800"/><stop offset="0.668" stop-color="#ff3d00"/><stop offset="0.706" stop-color="#ff6900"/><stop offset="0.751" stop-color="#ffe300"/><stop offset="0.762" stop-color="#e8ff0e"/><stop offset="0.824" stop-color="#18ffde"/><stop offset="0.831" stop-color="#00d6ff"/><stop offset="0.852" stop-color="#002cff"/><stop offset="0.856" stop-color="#000dff"/><stop offset="0.863" stop-color="#0000ed"/><stop offset="0.88" stop-color="#000088"/><stop offset="1" stop-color="#000080"/></linearGradient>
<linearGradient id="h233" x1="0" y1="0" x2="0" y2="1"><stop offset="0" stop-color="#00c5ff"/><stop offset="0.028" stop-color="#0af2ec"/><stop offset="0.073" stop-color="#21ffd6"/><stop offset="0.334" stop-color="#f4f802"/><stop offset="0.435" stop-color="#ff9b00"/><stop offset="0.574" stop-color="#ff3e00"/><stop offset="0.657" stop-color="#ff3800"/><stop offset="0.699" stop-color="#ff5d00"/><stop offset="0.737" stop-color="#ffb600"/><stop offset="0.758" stop-color="#f3fa04"/><stop offset="0.824" stop-color="#19ffde"/><stop offset="0.831" stop-color="#00d6ff"/><stop offset="0.852" stop-color="#002cff"/><stop offset="0.856" stop-color="#000dff"/><stop offset="0.863" stop-color="#0000ed"/><stop offset="0.88" stop-color="#000088"/><stop offset="1" stop-color="#000080"/></linearGradient>
<linearGradient id="h234" x1="0" y1="0" x2="0" y2="1"><stop offset="0" stop-color="#00b6ff"/><stop offset="0.042" stop-color="#06edf0"/><stop offset="0.08" stop-color="#22ffd4"/><stop offset="0.337" stop-color="#f7f600"/><stop offset="0.522" stop-color="#ff5800"/><stop offset="0.63" stop-color="#ff3200"/><stop offset="0.689" stop-color="#ff4e00"/><stop offset="0.73" stop-color="#ffa200"/><stop offset="0.755" stop-color="#fdee00"/><stop offset="0.769" stop-color="#d5ff22"/><stop offset="0.824" stop-color="#19ffde"/><stop offset="0.831" stop-color="#00d6ff"/><stop offset="0.852" stop-color="#002dff"/><stop offset="0.859" stop-color="#0000ff"/><stop offset="0.88" stop-color="#000088"/><stop offset="1" stop-color="#000080"/></linearGradient>
<linearGradient id="h235" x1="0" y1="0" x2="0" y2="1"><stop offset="0" stop-color="#00b3ff"/><stop offset="0.049" stop-color="#04eaf3"/><stop offset="0.08" stop-color="#22ffd5"/><stop offset="0.32" stop-color="#e5ff12"/><stop offset="0.362" stop-color="#ffe000"/><stop offset="0.522" stop-color="#ff5800"/><stop offset="0.63" stop-color="#ff3200"/><stop offset="0.689" stop-color="#ff4e00"/><stop offset="0.73" stop-color="#ffa100"/><stop offset="0.758" stop-color="#f3fa04"/><stop offset="0.824" stop-color="#19ffde"/><stop offset="0.831" stop-color="#00d7ff"/><stop offset="0.852" stop-color="#002eff"/><stop offset="0.859" stop-color="#0000ff"/><stop offset="0.88" stop-color="#000088"/><stop offset="1" stop-color="#000080"/></linearGradient>
<linearGradient id="h236" x1="0" y1="0" x2="0" y2="1"><stop offset="0" stop-color="#00b9ff"/><stop offset="0.035" stop-color="#04eaf3"/><stop offset="0.063" stop-color="#1cffdb"/><stop offset="0.184" stop-color="#75ff82"/><stop offset="0.317" stop-color="#dfff18"/><stop offset="0.355" stop-color="#ffe800"/><stop offset="0.518" stop-color="#ff5b00"/><stop offset="0.63" stop-color="#ff3200"/><stop offset="0.689" stop-color="#ff4d00"/><stop offset="0.73" stop-color="#ffa100"/><stop offset="0.758" stop-color="#f3fa03"/><stop offset="0.824" stop-color="#1affdd"/><stop offset="0.831" stop-color="#00d8ff"/><stop offset="0.852" stop-color="#002eff"/><stop offset="0.859" stop-color="#0000ff"/><stop offset="0.883" stop-color="#000080"/><stop offset="1" stop-color="#000080"/></linearGradient>
<linearGradient id="h237" x1="0" y1="0" x2="0" y2="1"><stop offset="0" stop-color="#00c4ff"/><stop offset="0.031" stop-color="#0cf4eb"/><stop offset="0.132" stop-color="#45ffb1"/><stop offset="0.32" stop-color="#e2ff15"/><stop offset="0.355" stop-color="#ffe900"/><stop offset="0.515" stop-color="#ff5d00"/><stop offset="0.63" stop-color="#ff3200"/><stop offset="0.689" stop-color="#ff4d00"/><stop offset="0.73" stop-color="#ffa100"/><stop offset="0.758" stop-color="#f3f903"/><stop offset="0.824" stop-color="#1affdd"/><stop offset="0.831" stop-color="#00d8ff"/><stop offset="0.852" stop-color="#002fff"/><stop offset="0.859" stop-color="#0000ff"/><stop offset="0.883" stop-color="#000080"/><stop offset="1" stop-color="#000080"/></linearGradient>
<linearGradient id="h238" x1="0" y1="0" x2="0" y2="1"><stop offset="0" stop-color="#00ddfc"/><stop offset="0.08" stop-color="#1bffdc"/><stop offset="0.317" stop-color="#ddff1a"/><stop offset="0.355" stop-color="#ffe900"/><stop offset="0.515" stop-color="#ff5d00"/><stop offset="0.63" stop-color="#ff3200"/><stop offset="0.689" stop-color="#ff4d00"/><stop offset="0.73" stop-color="#ffa100"/><stop offset="0.758" stop-color="#f4f903"/><stop offset="0.824" stop-color="#1affdd"/><stop offset="0.831" stop-color="#00d9ff"/><stop offset="0.852" stop-color="#0030ff"/><stop offset="0.859" stop-color="#0000ff"/><stop offset="0.883" stop-color="#000080"/><stop offset="1" stop-color="#000080"/></linearGradient>
<linearGradient id="h239" x1="0" y1="0" x2="0" y2="1"><stop offset="0" stop-color="#00e0fb"/><stop offset="0.101" stop-color="#26ffd1"/><stop offset="0.32" stop-color="#e1ff16"/><stop offset="0.358" stop-color="#ffe600"/><stop offset="0.515" stop-color="#ff5d00"/><stop offset="0.63" stop-color="#ff3200"/><stop offset="0.689" stop-color="#ff4d00"/><stop offset="0.73" stop-color="#ffa000"/><stop offset="0.758" stop-color="#f4f903"/><stop offset="0.824" stop-color="#1bffdc"/><stop offset="0.831" stop-color="#00daff"/><stop offset="0.852" stop-color="#0031ff"/><stop offset="0.859" stop-color="#0000ff"/><stop offset="0.883" stop-color="#000080"/><stop offset="1" stop-color="#000080"/></linearGradient>
<linearGradient id="h240" x1="0" y1="0" x2="0" y2="1"><stop offset="0" stop-color="#00e0fb"/><stop offset="0.104" stop-color="#27ffcf"/><stop offset="0.32" stop-color="#e1ff16"/><stop offset="0.358" stop-color="#ffe600"/><stop offset="0.515" stop-color="#ff5d00"/><stop offset="0.63" stop-color="#ff3200"/><stop offset="0.689" stop-color="#ff4d00"/><stop offset="0.73" stop-color="#ffa000"/><stop offset="0.758" stop-color="#f5f802"/><stop offset="0.824" stop-color="#1bffdc"/><stop offset="0.831" stop-color="#00dbff"/><stop offset="0.852" stop-color="#0032ff"/><stop offset="0.859" stop-color="#0000ff"/><stop offset="0.883" stop-color="#000080"/><stop offset="1" stop-color="#000080"/></linearGradient>
<linearGradient id="h241" x1="0" y1="0" x2="0" y2="1"><stop offset="0" stop-color="#00ddfe"/><stop offset="0.101" stop-color="#24ffd3"/><stop offset="0.32" stop-color="#e1ff16"/><stop offset="0.358" stop-color="#ffe600"/><stop offset="0.515" stop-color="#ff5e00"/><stop offset="0.63" stop-color="#ff3200"/><stop offset="0.689" stop-color="#ff4d00"/><stop offset="0.73" stop-color="#ffa000"/><stop offset="0.758" stop-color="#f5f802"/><stop offset="0.824" stop-color="#1bffdb"/><stop offset="0.831" stop-color="#00dbff"/><stop offset="0.852" stop-color="#0033ff"/><stop offset="0.859" stop-color="#0000ff"/><stop offset="0.883" stop-color="#000080"/><stop offset="1" stop-color="#000080"/></linearGradient>
<linearGradient id="h242" x1="0" y1="0" x2="0" y2="1"><stop offset="0" stop-color="#00aaff"/><stop offset="0.038" stop-color="#07eef0"/><stop offset="0.115" stop-color="#2effc8"/><stop offset="0.32" stop-color="#e0ff16"/><stop offset="0.358" stop-color="#ffe600"/><stop offset="0.515" stop-color="#ff5e00"/><stop offset="0.63" stop-color="#ff3200"/><stop offset="0.689" stop-color="#ff4d00"/><stop offset="0.73" stop-color="#ff9f00"/><stop offset="0.758" stop-color="#f5f802"/><stop offset="0.824" stop-color="#1cffdb"/><stop offset="0.831" stop-color="#00dcff"/><stop offset="0.852" stop-color="#0034ff"/><stop offset="0.859" stop-color="#0000ff"/><stop offset="0.883" stop-color="#000080"/><stop offset="1" stop-color="#000080"/></linearGradient>
<linearGradient id="h243" x1="0" y1="0" x2="0" y2="1"><stop offset="0" stop-color="#00e0fc"/><stop offset="0.104" stop-color="#27ffd0"/><stop offset="0.317" stop-color="#dcff1b"/><stop offset="0.355" stop-color="#ffe900"/><stop offset="0.515" stop-color="#ff5e00"/><stop offset="0.63" stop-color="#ff3200"/><stop offset="0.689" stop-color="#ff4c00"/><stop offset="0.73" stop-color="#ff9f00"/><stop offset="0.758" stop-color="#f5f701"/><stop offset="0.824" stop-color="#1cffdb"/><stop offset="0.831" stop-color="#00ddfe"/><stop offset="0.852" stop-color="#0035ff"/><stop offset="0.859" stop-color="#0000ff"/><stop offset="0.883" stop-color="#000081"/><stop offset="1" stop-color="#000080"/></linearGradient>
<linearGradient id="h244" x1="0" y1="0" x2="0" y2="1"><stop offset="0" stop-color="#00e0fb"/><stop offset="0.104" stop-color="#27ffd0"/><stop offset="0.317" stop-color="#dbff1b"/><stop offset="0.355" stop-color="#ffe900"/><stop offset="0.515" stop-color="#ff5e00"/><stop offset="0.63" stop-color="#ff3200"/><stop offset="0.692" stop-color="#ff5100"/><stop offset="0.734" stop-color="#ffa800"/><stop offset="0.758" stop-color="#f6f701"/><stop offset="0.828" stop-color="#0ef6e9"/><stop offset="0.835" stop-color="#00c4ff"/><stop offset="0.859" stop-color="#0000ff"/><stop offset="0.883" stop-color="#000081"/><stop offset="1" stop-color="#000080"/></linearGradient>
<linearGradient id="h245" x1="0" y1="0" x2="0" y2="1"><stop offset="0" stop-color="#00e1fb"/><stop offset="0.101" stop-color="#26ffd1"/><stop offset="0.313" stop-color="#d7ff20"/><stop offset="0.351" stop-color="#feed00"/><stop offset="0.515" stop-color="#ff5e00"/><stop offset="0.63" stop-color="#ff3200"/><stop offset="0.692" stop-color="#ff5100"/><stop offset="0.734" stop-color="#ffa800"/><stop offset="0.758" stop-color="#f6f600"/><stop offset="0.828" stop-color="#0ef7e8"/><stop offset="0.835" stop-color="#00c5ff"/><stop offset="0.859" stop-color="#0000ff"/><stop offset="0.883" stop-color="#000081"/><stop offset="1" stop-color="#000080"/></linearGradient>
<linearGradient id="h246" x1="0" y1="0" x2="0" y2="1"><stop offset="0" stop-color="#00d8fe"/><stop offset="0.049" stop-color="#16ffe1"/><stop offset="0.157" stop-color="#53ffa4"/><stop offset="0.317" stop-color="#dbff1b"/><stop offset="0.355" stop-color="#ffe900"/><stop offset="0.515" stop-color="#ff5e00"/><stop offset="0.63" stop-color="#ff3200"/><stop offset="0.692" stop-color="#ff5100"/><stop offset="0.734" stop-color="#ffa700"/><stop offset="0.758" stop-color="#f7f600"/><stop offset="0.824" stop-color="#1dffd9"/><stop offset="0.831" stop-color="#00e0fb"/><stop offset="0.852" stop-color="#0039ff"/><stop offset="0.859" stop-color="#0000ff"/><stop offset="0.87" stop-color="#0000ca"/><stop offset="0.883" stop-color="#000082"/><stop offset="1" stop-color="#000080"/></linearGradient>
<linearGradient id="h247" x1="0" y1="0" x2="0" y2="1"><stop offset="0" stop-color="#00caff"/><stop offset="0.049" stop-color="#13fde3"/><stop offset="0.184" stop-color="#6fff87"/><stop offset="0.313" stop-color="#d8ff1f"/><stop offset="0.351" stop-color="#feed00"/><stop offset="0.515" stop-color="#ff5e00"/><stop offset="0.63" stop-color="#ff3200"/><stop offset="0.692" stop-color="#ff5100"/><stop offset="0.734" stop-color="#ffa700"/><stop offset="0.758" stop-color="#f7f500"/><stop offset="0.814" stop-color="#40ffb7"/><stop offset="0.828" stop-color="#10f9e7"/><stop offset="0.835" stop-color="#00c7ff"/><stop offset="0.859" stop-color="#0000ff"/><stop offset="0.87" stop-color="#0000cb"/><stop offset="0.883" stop-color="#000082"/><stop offset="1" stop-color="#000080"/></linearGradient>
<linearGradient id="h248" x1="0" y1="0" x2="0" y2="1"><stop offset="0" stop-color="#00c7ff"/><stop offset="0.045" stop-color="#09f0ee"/><stop offset="0.08" stop-color="#21ffd6"/><stop offset="0.313" stop-color="#d8ff1e"/><stop offset="0.355" stop-color="#ffe900"/><stop offset="0.515" stop-color="#ff5e00"/><stop offset="0.63" stop-color="#ff3200"/><stop offset="0.692" stop-color="#ff5000"/><stop offset="0.734" stop-color="#ffa700"/><stop offset="0.758" stop-color="#f7f500"/><stop offset="0.79" stop-color="#94ff63"/><stop offset="0.828" stop-color="#10fae6"/><stop offset="0.835" stop-color="#00c8ff"/><stop offset="0.859" stop-color="#0000ff"/><stop offset="0.866" stop-color="#0000e2"/><stop offset="0.883" stop-color="#000082"/><stop offset="1" stop-color="#000080"/></linearGradient>
<linearGradient id="h249" x1="0" y1="0" x2="0" y2="1"><stop offset="0" stop-color="#00c8ff"/><stop offset="0.042" stop-color="#0af2ed"/><stop offset="0.097" stop-color="#2dffc9"/><stop offset="0.317" stop-color="#ddff1a"/><stop offset="0.355" stop-color="#ffe900"/><stop offset="0.515" stop-color="#ff5e00"/><stop offset="0.63" stop-color="#ff3200"/><stop offset="0.692" stop-color="#ff5000"/><stop offset="0.734" stop-color="#ffa600"/><stop offset="0.758" stop-color="#f8f400"/><stop offset="0.783" stop-color="#afff48"/><stop offset="0.828" stop-color="#11fbe6"/><stop offset="0.835" stop-color="#00c9ff"/><stop offset="0.859" stop-color="#0000ff"/><stop offset="0.866" stop-color="#0000e3"/><stop offset="0.883" stop-color="#000082"/><stop offset="1" stop-color="#000080"/></linearGradient>
<linearGradient id="h250" x1="0" y1="0" x2="0" y2="1"><stop offset="0" stop-color="#00cfff"/><stop offset="0.049" stop-color="#17ffdf"/><stop offset="0.157" stop-color="#5aff9d"/><stop offset="0.323" stop-color="#e5ff12"/><stop offset="0.362" stop-color="#ffe300"/><stop offset="0.518" stop-color="#ff5c00"/><stop offset="0.63" stop-color="#ff3200"/><stop offset="0.692" stop-color="#ff5000"/><stop offset="0.734" stop-color="#ffa600"/><stop offset="0.758" stop-color="#f8f400"/><stop offset="0.776" stop-color="#c6ff30"/><stop offset="0.828" stop-color="#11fbe5"/><stop offset="0.835" stop-color="#00caff"/><stop offset="0.859" stop-color="#0001ff"/><stop offset="0.866" stop-color="#0000e3"/><stop offset="0.883" stop-color="#000083"/><stop offset="1" stop-color="#000080"/></linearGradient>
<linearGradient id="h251" x1="0" y1="0" x2="0" y2="1"><stop offset="0" stop-color="#00d8ff"/><stop offset="0.042" stop-color="#16ffe0"/><stop offset="0.146" stop-color="#51ffa5"/><stop offset="0.33" stop-color="#edff0a"/><stop offset="0.372" stop-color="#ffd900"/><stop offset="0.522" stop-color="#ff5a00"/><stop offset="0.633" stop-color="#ff3200"/><stop offset="0.692" stop-color="#ff5000"/><stop offset="0.734" stop-color="#ffa600"/><stop offset="0.758" stop-color="#f8f400"/><stop offset="0.776" stop-color="#c7ff30"/><stop offset="0.828" stop-color="#12fce5"/><stop offset="0.835" stop-color="#00cbff"/><stop offset="0.859" stop-color="#0001ff"/><stop offset="0.866" stop-color="#0000e4"/><stop offset="0.883" stop-color="#000083"/><stop offset="1" stop-color="#000080"/></linearGradient>
<linearGradient id="h252" x1="0" y1="0" x2="0" y2="1"><stop offset="0" stop-color="#00bfff"/><stop offset="0.031" stop-color="#0cf5ea"/><stop offset="0.132" stop-color="#4affad"/><stop offset="0.33" stop-color="#edff0a"/><stop offset="0.372" stop-color="#ffd900"/><stop offset="0.522" stop-color="#ff5a00"/><stop offset="0.633" stop-color="#ff3200"/><stop offset="0.692" stop-color="#ff5000"/><stop offset="0.734" stop-color="#ffa600"/><stop offset="0.758" stop-color="#f9f400"/><stop offset="0.772" stop-color="#d1ff26"/><stop offset="0.828" stop-color="#12fce5"/><stop offset="0.835" stop-color="#00cbff"/><stop offset="0.859" stop-color="#0001ff"/><stop offset="0.866" stop-color="#0000e4"/><stop offset="0.883" stop-color="#000083"/><stop offset="1" stop-color="#000080"/></linearGradient>
<linearGradient id="h253" x1="0" y1="0" x2="0" y2="1"><stop offset="0" stop-color="#0072ff"/><stop offset="0.045" stop-color="#00e5f7"/><stop offset="0.066" stop-color="#1bffdc"/><stop offset="0.323" stop-color="#e6ff11"/><stop offset="0.365" stop-color="#ffdf00"/><stop offset="0.518" stop-color="#ff5c00"/><stop offset="0.63" stop-color="#ff3200"/><stop offset="0.692" stop-color="#ff5000"/><stop offset="0.734" stop-color="#ffa600"/><stop offset="0.758" stop-color="#f9f300"/><stop offset="0.772" stop-color="#d1ff26"/><stop offset="0.828" stop-color="#12fce4"/><stop offset="0.835" stop-color="#00cbff"/><stop offset="0.859" stop-color="#0002ff"/><stop offset="0.866" stop-color="#0000e4"/><stop offset="0.883" stop-color="#000083"/><stop offset="1" stop-color="#000080"/></linearGradient>
<linearGradient id="h254" x1="0" y1="0" x2="0" y2="1"><stop offset="0" stop-color="#0026ff"/><stop offset="0.073" stop-color="#01e7f6"/><stop offset="0.09" stop-color="#23ffd4"/><stop offset="0.125" stop-color="#4dffaa"/><stop offset="0.323" stop-color="#e6ff11"/><stop offset="0.365" stop-color="#ffdf00"/><stop offset="0.518" stop-color="#ff5c00"/><stop offset="0.63" stop-color="#ff3200"/><stop offset="0.692" stop-color="#ff5000"/><stop offset="0.734" stop-color="#ffa500"/><stop offset="0.758" stop-color="#f9f300"/><stop offset="0.772" stop-color="#d1ff26"/><stop offset="0.828" stop-color="#13fde4"/><stop offset="0.831" stop-color="#00e5f7"/><stop offset="0.852" stop-color="#003fff"/><stop offset="0.859" stop-color="#0002ff"/><stop offset="0.866" stop-color="#0000e5"/><stop offset="0.883" stop-color="#000083"/><stop offset="1" stop-color="#000080"/></linearGradient>
<linearGradient id="h255" x1="0" y1="0" x2="0" y2="1"><stop offset="0" stop-color="#007bff"/><stop offset="0.038" stop-color="#00e6f6"/><stop offset="0.056" stop-color="#1dffda"/><stop offset="0.323" stop-color="#e6ff11"/><stop offset="0.365" stop-color="#ffdf00"/><stop offset="0.518" stop-color="#ff5c00"/><stop offset="0.63" stop-color="#ff3200"/><stop offset="0.692" stop-color="#ff5000"/><stop offset="0.734" stop-color="#ffa500"/><stop offset="0.758" stop-color="#f9f300"/><stop offset="0.772" stop-color="#d1ff26"/><stop offset="0.828" stop-color="#13fde4"/><stop offset="0.831" stop-color="#00e6f7"/><stop offset="0.852" stop-color="#0040ff"/><stop offset="0.859" stop-color="#0003ff"/><stop offset="0.866" stop-color="#0000e5"/><stop offset="0.883" stop-color="#000083"/><stop offset="1" stop-color="#000080"/></linearGradient>
<linearGradient id="h256" x1="0" y1="0" x2="0" y2="1"><stop offset="0" stop-color="#00d8ff"/><stop offset="0.021" stop-color="#18ffdf"/><stop offset="0.285" stop-color="#c2ff34"/><stop offset="0.344" stop-color="#f9f300"/><stop offset="0.515" stop-color="#ff5e00"/><stop offset="0.63" stop-color="#ff3200"/><stop offset="0.692" stop-color="#ff5000"/><stop offset="0.734" stop-color="#ffa500"/><stop offset="0.758" stop-color="#f9f300"/><stop offset="0.772" stop-color="#d1ff26"/><stop offset="0.828" stop-color="#13fde4"/><stop offset="0.831" stop-color="#00e6f6"/><stop offset="0.852" stop-color="#0040ff"/><stop offset="0.859" stop-color="#0003ff"/><stop offset="0.866" stop-color="#0000e5"/><stop offset="0.883" stop-color="#000083"/><stop offset="1" stop-color="#000080"/></linearGradient>
<linearGradient id="h257" x1="0" y1="0" x2="0" y2="1"><stop offset="0" stop-color="#27ffd0"/><stop offset="0.15" stop-color="#67ff90"/><stop offset="0.337" stop-color="#f3f903"/><stop offset="0.407" stop-color="#ffb700"/><stop offset="0.546" stop-color="#ff4a00"/><stop offset="0.647" stop-color="#ff3500"/><stop offset="0.696" stop-color="#ff5400"/><stop offset="0.734" stop-color="#ffa500"/><stop offset="0.758" stop-color="#f9f300"/><stop offset="0.772" stop-color="#d1ff25"/><stop offset="0.828" stop-color="#13fee3"/><stop offset="0.835" stop-color="#00cdff"/><stop offset="0.859" stop-color="#0003ff"/><stop offset="0.866" stop-color="#0000e6"/><stop offset="0.883" stop-color="#000083"/><stop offset="1" stop-color="#000080"/></linearGradient>
<linearGradient id="h258" x1="0" y1="0" x2="0" y2="1"><stop offset="0" stop-color="#2dffca"/><stop offset="0.125" stop-color="#5cff9b"/><stop offset="0.337" stop-color="#f4f803"/><stop offset="0.431" stop-color="#ffa000"/><stop offset="0.574" stop-color="#ff3f00"/><stop offset="0.657" stop-color="#ff3700"/><stop offset="0.703" stop-color="#ff5e00"/><stop offset="0.741" stop-color="#ffb900"/><stop offset="0.758" stop-color="#faf200"/><stop offset="0.772" stop-color="#d2ff25"/><stop offset="0.828" stop-color="#14fee3"/><stop offset="0.835" stop-color="#00ceff"/><stop offset="0.859" stop-color="#0004ff"/><stop offset="0.863" stop-color="#0000fc"/><stop offset="0.883" stop-color="#000084"/><stop offset="1" stop-color="#000080"/></linearGradient>
<linearGradient id="h259" x1="0" y1="0" x2="0" y2="1"><stop offset="0" stop-color="#2dffca"/><stop offset="0.118" stop-color="#5dff9a"/><stop offset="0.337" stop-color="#f5f802"/><stop offset="0.518" stop-color="#ff5c00"/><stop offset="0.63" stop-color="#ff3200"/><stop offset="0.692" stop-color="#ff4f00"/><stop offset="0.734" stop-color="#ffa400"/><stop offset="0.758" stop-color="#faf200"/><stop offset="0.772" stop-color="#d2ff25"/><stop offset="0.828" stop-color="#15ffe2"/><stop offset="0.835" stop-color="#00cfff"/><stop offset="0.856" stop-color="#0024ff"/><stop offset="0.859" stop-color="#0005ff"/><stop offset="0.863" stop-color="#0000fd"/><stop offset="0.883" stop-color="#000084"/><stop offset="1" stop-color="#000080"/></linearGradient>
<linearGradient id="h260" x1="0" y1="0" x2="0" y2="1"><stop offset="0" stop-color="#2bffcc"/><stop offset="0.118" stop-color="#5bff9c"/><stop offset="0.337" stop-color="#f5f802"/><stop offset="0.508" stop-color="#ff6400"/><stop offset="0.626" stop-color="#ff3100"/><stop offset="0.689" stop-color="#ff4a00"/><stop offset="0.73" stop-color="#ff9a00"/><stop offset="0.758" stop-color="#fbf100"/><stop offset="0.776" stop-color="#c9ff2e"/><stop offset="0.828" stop-color="#16ffe1"/><stop offset="0.835" stop-color="#00d0ff"/><stop offset="0.856" stop-color="#0025ff"/><stop offset="0.859" stop-color="#0006ff"/><stop offset="0.863" stop-color="#0000fe"/><stop offset="0.883" stop-color="#000084"/><stop offset="1" stop-color="#000080"/></linearGradient>
<linearGradient id="h261" x1="0" y1="0" x2="0" y2="1"><stop offset="0" stop-color="#15ffe2"/><stop offset="0.143" stop-color="#65ff91"/><stop offset="0.337" stop-color="#f4f802"/><stop offset="0.438" stop-color="#ff9a00"/><stop offset="0.577" stop-color="#ff3e00"/><stop offset="0.661" stop-color="#ff3800"/><stop offset="0.703" stop-color="#ff5e00"/><stop offset="0.741" stop-color="#ffb800"/><stop offset="0.758" stop-color="#fbf100"/><stop offset="0.776" stop-color="#c9ff2e"/><stop offset="0.828" stop-color="#16ffe1"/><stop offset="0.835" stop-color="#00d1ff"/><stop offset="0.856" stop-color="#0026ff"/><stop offset="0.859" stop-color="#0007ff"/><stop offset="0.863" stop-color="#0000ff"/><stop offset="0.883" stop-color="#000084"/><stop offset="1" stop-color="#000080"/></linearGradient>
<linearGradient id="h262" x1="0" y1="0" x2="0" y2="1"><stop offset="0" stop-color="#00c2ff"/><stop offset="0.028" stop-color="#11fbe5"/><stop offset="0.167" stop-color="#78ff7f"/><stop offset="0.341" stop-color="#f7f500"/><stop offset="0.515" stop-color="#ff5f00"/><stop offset="0.63" stop-color="#ff3200"/><stop offset="0.692" stop-color="#ff4f00"/><stop offset="0.734" stop-color="#ffa300"/><stop offset="0.758" stop-color="#fbf100"/><stop offset="0.776" stop-color="#c9ff2e"/><stop offset="0.828" stop-color="#16ffe1"/><stop offset="0.835" stop-color="#00d1ff"/><stop offset="0.856" stop-color="#0026ff"/><stop offset="0.859" stop-color="#0007ff"/><stop offset="0.863" stop-color="#0000ff"/><stop offset="0.883" stop-color="#000085"/><stop offset="1" stop-color="#000080"/></linearGradient>
<linearGradient id="h263" x1="0" y1="0" x2="0" y2="1"><stop offset="0" stop-color="#004aff"/><stop offset="0.049" stop-color="#00e4f8"/><stop offset="0.07" stop-color="#1bffdb"/><stop offset="0.23" stop-color="#a3ff54"/><stop offset="0.341" stop-color="#f7f600"/><stop offset="0.515" stop-color="#ff5f00"/><stop offset="0.63" stop-color="#ff3200"/><stop offset="0.692" stop-color="#ff4f00"/><stop offset="0.734" stop-color="#ffa300"/><stop offset="0.758" stop-color="#fbf100"/><stop offset="0.776" stop-color="#c9ff2e"/><stop offset="0.828" stop-color="#16ffe0"/><stop offset="0.835" stop-color="#00d1ff"/><stop offset="0.856" stop-color="#0026ff"/><stop offset="0.859" stop-color="#0007ff"/><stop offset="0.863" stop-color="#0000ff"/><stop offset="0.883" stop-color="#000085"/><stop offset="1" stop-color="#000080"/></linearGradient>
<linearGradient id="h264" x1="0" y1="0" x2="0" y2="1"><stop offset="0" stop-color="#0000ff"/><stop offset="0.017" stop-color="#000cff"/><stop offset="0.063" stop-color="#008dff"/><stop offset="0.087" stop-color="#00e2fa"/><stop offset="0.101" stop-color="#1effd9"/><stop offset="0.184" stop-color="#83ff74"/><stop offset="0.341" stop-color="#f6f601"/><stop offset="0.515" stop-color="#ff5f00"/><stop offset="0.63" stop-color="#ff3200"/><stop offset="0.692" stop-color="#ff4f00"/><stop offset="0.734" stop-color="#ffa300"/><stop offset="0.758" stop-color="#fbf000"/><stop offset="0.776" stop-color="#c9ff2e"/><stop offset="0.828" stop-color="#17ffe0"/><stop offset="0.835" stop-color="#00d2ff"/><stop offset="0.856" stop-color="#0027ff"/><stop offset="0.859" stop-color="#0008ff"/><stop offset="0.863" stop-color="#0000ff"/><stop offset="0.883" stop-color="#000085"/><stop offset="1" stop-color="#000080"/></linearGradient>
<linearGradient id="h265" x1="0" y1="0" x2="0" y2="1"><stop offset="0" stop-color="#0000d3"/><stop offset="0.031" stop-color="#0000fe"/><stop offset="0.056" stop-color="#000dff"/><stop offset="0.097" stop-color="#0072ff"/><stop offset="0.132" stop-color="#01e6f6"/><stop offset="0.143" stop-color="#1dffda"/><stop offset="0.188" stop-color="#7aff7d"/><stop offset="0.341" stop-color="#f6f701"/><stop offset="0.515" stop-color="#ff5f00"/><stop offset="0.63" stop-color="#ff3200"/><stop offset="0.692" stop-color="#ff4f00"/><stop offset="0.734" stop-color="#ffa300"/><stop offset="0.758" stop-color="#fbf000"/><stop offset="0.776" stop-color="#c9ff2d"/><stop offset="0.828" stop-color="#17ffe0"/><stop offset="0.835" stop-color="#00d2ff"/><stop offset="0.856" stop-color="#0027ff"/><stop offset="0.859" stop-color="#0008ff"/><stop offset="0.863" stop-color="#0000ff"/><stop offset="0.883" stop-color="#000085"/><stop offset="1" stop-color="#000080"/></linearGradient>
<linearGradient id="h266" x1="0" y1="0" x2="0" y2="1"><stop offset="0" stop-color="#0000c5"/><stop offset="0.035" stop-color="#0000f8"/><stop offset="0.073" stop-color="#000dff"/><stop offset="0.122" stop-color="#0073ff"/><stop offset="0.157" stop-color="#00e2fa"/><stop offset="0.167" stop-color="#1bffdc"/><stop offset="0.226" stop-color="#9aff5d"/><stop offset="0.341" stop-color="#f6f701"/><stop offset="0.511" stop-color="#ff6100"/><stop offset="0.63" stop-color="#ff3200"/><stop offset="0.692" stop-color="#ff4f00"/><stop offset="0.734" stop-color="#ffa300"/><stop offset="0.758" stop-color="#fbf000"/><stop offset="0.776" stop-color="#c9ff2d"/><stop offset="0.828" stop-color="#17ffe0"/><stop offset="0.835" stop-color="#00d2ff"/><stop offset="0.856" stop-color="#0027ff"/><stop offset="0.859" stop-color="#0008ff"/><stop offset="0.863" stop-color="#0000ff"/><stop offset="0.883" stop-color="#000085"/><stop offset="1" stop-color="#000080"/></linearGradient>
<linearGradient id="h267" x1="0" y1="0" x2="0" y2="1"><stop offset="0" stop-color="#0000c5"/><stop offset="0.031" stop-color="#0000f5"/><stop offset="0.073" stop-color="#0009ff"/><stop offset="0.125" stop-color="#006cff"/><stop offset="0.163" stop-color="#00e6f7"/><stop offset="0.174" stop-color="#20ffd7"/><stop offset="0.216" stop-color="#87ff6f"/><stop offset="0.257" stop-color="#b4ff43"/><stop offset="0.341" stop-color="#f5f702"/><stop offset="0.511" stop-color="#ff6100"/><stop offset="0.63" stop-color="#ff3200"/><stop offset="0.692" stop-color="#ff4e00"/><stop offset="0.734" stop-color="#ffa300"/><stop offset="0.758" stop-color="#fcf000"/><stop offset="0.776" stop-color="#caff2d"/><stop offset="0.828" stop-color="#17ffe0"/><stop offset="0.835" stop-color="#00d2ff"/><stop offset="0.856" stop-color="#0028ff"/><stop offset="0.859" stop-color="#0008ff"/><stop offset="0.863" stop-color="#0000ff"/><stop offset="0.883" stop-color="#000085"/><stop offset="1" stop-color="#000080"/></linearGradient>
<linearGradient id="h268" x1="0" y1="0" x2="0" y2="1"><stop offset="0" stop-color="#0000d3"/><stop offset="0.024" stop-color="#0000f6"/><stop offset="0.066" stop-color="#000bff"/><stop offset="0.115" stop-color="#0071ff"/><stop offset="0.15" stop-color="#00e3f9"/><stop offset="0.16" stop-color="#1effd9"/><stop offset="0.202" stop-color="#89ff6e"/><stop offset="0.341" stop-color="#f5f802"/><stop offset="0.49" stop-color="#ff7000"/><stop offset="0.602" stop-color="#ff3700"/><stop offset="0.678" stop-color="#ff4100"/><stop offset="0.72" stop-color="#ff7e00"/><stop offset="0.758" stop-color="#fcf000"/><stop offset="0.776" stop-color="#caff2d"/><stop offset="0.828" stop-color="#17ffdf"/><stop offset="0.835" stop-color="#00d3ff"/><stop offset="0.856" stop-color="#0028ff"/><stop offset="0.859" stop-color="#0009ff"/><stop offset="0.863" stop-color="#0000ff"/><stop offset="0.883" stop-color="#000085"/><stop offset="1" stop-color="#000080"/></linearGradient>
<linearGradient id="h269" x1="0" y1="0" x2="0" y2="1"><stop offset="0" stop-color="#0000f3"/><stop offset="0.042" stop-color="#000bff"/><stop offset="0.094" stop-color="#007cff"/><stop offset="0.132" stop-color="#00e3f9"/><stop offset="0.146" stop-color="#1dffda"/><stop offset="0.202" stop-color="#8dff6a"/><stop offset="0.341" stop-color="#f5f802"/><stop offset="0.452" stop-color="#ff8d00"/><stop offset="0.584" stop-color="#ff3b00"/><stop offset="0.664" stop-color="#ff3900"/><stop offset="0.706" stop-color="#ff6300"/><stop offset="0.748" stop-color="#ffcd00"/><stop offset="0.762" stop-color="#f1fc05"/><stop offset="0.828" stop-color="#17ffdf"/><stop offset="0.835" stop-color="#00d3ff"/><stop offset="0.856" stop-color="#0029ff"/><stop offset="0.859" stop-color="#0009ff"/><stop offset="0.863" stop-color="#0000ff"/><stop offset="0.883" stop-color="#000085"/><stop offset="1" stop-color="#000080"/></linearGradient>
<linearGradient id="h270" x1="0" y1="0" x2="0" y2="1"><stop offset="0" stop-color="#0000f8"/><stop offset="0.024" stop-color="#000eff"/><stop offset="0.108" stop-color="#00c4ff"/><stop offset="0.125" stop-color="#09f0ee"/><stop offset="0.143" stop-color="#2dffca"/><stop offset="0.191" stop-color="#83ff74"/><stop offset="0.344" stop-color="#f7f500"/><stop offset="0.511" stop-color="#ff6100"/><stop offset="0.63" stop-color="#ff3200"/><stop offset="0.692" stop-color="#ff4e00"/><stop offset="0.734" stop-color="#ffa300"/><stop offset="0.758" stop-color="#fcf000"/><stop offset="0.772" stop-color="#d4ff23"/><stop offset="0.828" stop-color="#18ffdf"/><stop offset="0.835" stop-color="#00d3ff"/><stop offset="0.856" stop-color="#0029ff"/><stop offset="0.859" stop-color="#0009ff"/><stop offset="0.863" stop-color="#0000ff"/><stop offset="0.883" stop-color="#000085"/><stop offset="1" stop-color="#000080"/></linearGradient>
<linearGradient id="h271" x1="0" y1="0" x2="0" y2="1"><stop offset="0" stop-color="#0000ff"/><stop offset="0.059" stop-color="#007dff"/><stop offset="0.097" stop-color="#00e5f7"/><stop offset="0.111" stop-color="#1dffda"/><stop offset="0.184" stop-color="#80ff77"/><stop offset="0.344" stop-color="#f7f600"/><stop offset="0.511" stop-color="#ff6200"/><stop offset="0.63" stop-color="#ff3200"/><stop offset="0.692" stop-color="#ff4e00"/><stop offset="0.734" stop-color="#ffa200"/><stop offset="0.758" stop-color="#fcef00"/><stop offset="0.772" stop-color="#d4ff23"/><stop offset="0.828" stop-color="#18ffdf"/><stop offset="0.835" stop-color="#00d4ff"/><stop offset="0.856" stop-color="#002aff"/><stop offset="0.859" stop-color="#000aff"/><stop offset="0.863" stop-color="#0000ff"/><stop offset="0.883" stop-color="#000085"/><stop offset="1" stop-color="#000080"/></linearGradient>
<linearGradient id="h272" x1="0" y1="0" x2="0" y2="1"><stop offset="0" stop-color="#0013ff"/><stop offset="0.083" stop-color="#00caff"/><stop offset="0.104" stop-color="#11fae6"/><stop offset="0.177" stop-color="#7bff7c"/><stop offset="0.344" stop-color="#f6f600"/><stop offset="0.515" stop-color="#ff5f00"/><stop offset="0.63" stop-color="#ff3200"/><stop offset="0.692" stop-color="#ff4e00"/><stop offset="0.734" stop-color="#ffa200"/><stop offset="0.758" stop-color="#fcef00"/><stop offset="0.772" stop-color="#d4ff23"/><stop offset="0.828" stop-color="#18ffdf"/><stop offset="0.835" stop-color="#00d4ff"/><stop offset="0.856" stop-color="#002aff"/><stop offset="0.859" stop-color="#000aff"/><stop offset="0.863" stop-color="#0000ff"/><stop offset="0.883" stop-color="#000086"/><stop offset="1" stop-color="#000080"/></linearGradient>
<linearGradient id="h273" x1="0" y1="0" x2="0" y2="1"><stop offset="0" stop-color="#0061ff"/><stop offset="0.052" stop-color="#00e4f8"/><stop offset="0.08" stop-color="#1effd9"/><stop offset="0.233" stop-color="#a0ff57"/><stop offset="0.344" stop-color="#f6f601"/><stop offset="0.518" stop-color="#ff5d00"/><stop offset="0.63" stop-color="#ff3200"/><stop offset="0.692" stop-color="#ff4e00"/><stop offset="0.734" stop-color="#ffa200"/><stop offset="0.758" stop-color="#fdef00"/><stop offset="0.772" stop-color="#d4ff22"/><stop offset="0.828" stop-color="#19ffde"/><stop offset="0.835" stop-color="#00d5ff"/><stop offset="0.856" stop-color="#002bff"/><stop offset="0.859" stop-color="#000bff"/><stop offset="0.866" stop-color="#0000ed"/><stop offset="0.883" stop-color="#000086"/><stop offset="1" stop-color="#000080"/></linearGradient>
<linearGradient id="h274" x1="0" y1="0" x2="0" y2="1"><stop offset="0" stop-color="#00baff"/><stop offset="0.038" stop-color="#0df6ea"/><stop offset="0.153" stop-color="#5fff98"/><stop offset="0.344" stop-color="#f6f701"/><stop offset="0.518" stop-color="#ff5d00"/><stop offset="0.63" stop-color="#ff3200"/><stop offset="0.692" stop-color="#ff4e00"/><stop offset="0.734" stop-color="#ffa100"/><stop offset="0.758" stop-color="#fdee00"/><stop offset="0.772" stop-color="#d5ff22"/><stop offset="0.828" stop-color="#19ffde"/><stop offset="0.835" stop-color="#00d6ff"/><stop offset="0.856" stop-color="#002dff"/><stop offset="0.859" stop-color="#000dff"/><stop offset="0.866" stop-color="#0000ee"/><stop offset="0.883" stop-color="#000087"/><stop offset="1" stop-color="#000080"/></linearGradient>
<linearGradient id="h275" x1="0" y1="0" x2="0" y2="1"><stop offset="0" stop-color="#0000ff"/><stop offset="0.035" stop-color="#0007ff"/><stop offset="0.118" stop-color="#00afff"/><stop offset="0.139" stop-color="#00e4f8"/><stop offset="0.153" stop-color="#1bffdc"/><stop offset="0.289" stop-color="#c9ff2e"/><stop offset="0.344" stop-color="#f8f400"/><stop offset="0.525" stop-color="#ff5800"/><stop offset="0.633" stop-color="#ff3200"/><stop offset="0.692" stop-color="#ff4e00"/><stop offset="0.734" stop-color="#ffa100"/><stop offset="0.762" stop-color="#f3fa04"/><stop offset="0.828" stop-color="#1affdd"/><stop offset="0.835" stop-color="#00d7ff"/><stop offset="0.856" stop-color="#002eff"/><stop offset="0.863" stop-color="#0000ff"/><stop offset="0.883" stop-color="#000088"/><stop offset="1" stop-color="#000080"/></linearGradient>
<linearGradient id="h276" x1="0" y1="0" x2="0" y2="1"><stop offset="0" stop-color="#0000ac"/><stop offset="0.031" stop-color="#0000b5"/><stop offset="0.07" stop-color="#0000ff"/><stop offset="0.136" stop-color="#00b2ff"/><stop offset="0.153" stop-color="#01e7f6"/><stop offset="0.167" stop-color="#20ffd7"/><stop offset="0.306" stop-color="#d1ff25"/><stop offset="0.355" stop-color="#fbf100"/><stop offset="0.515" stop-color="#ff6000"/><stop offset="0.63" stop-color="#ff3100"/><stop offset="0.692" stop-color="#ff4d00"/><stop offset="0.734" stop-color="#ffa100"/><stop offset="0.762" stop-color="#f4f903"/><stop offset="0.828" stop-color="#1affdd"/><stop offset="0.835" stop-color="#00d8ff"/><stop offset="0.856" stop-color="#002fff"/><stop offset="0.863" stop-color="#0000ff"/><stop offset="0.887" stop-color="#000080"/><stop offset="1" stop-color="#000080"/></linearGradient>
<linearGradient id="h277" x1="0" y1="0" x2="0" y2="1"><stop offset="0" stop-color="#000098"/><stop offset="0.031" stop-color="#0000a0"/><stop offset="0.077" stop-color="#0000ff"/><stop offset="0.136" stop-color="#00a4ff"/><stop offset="0.157" stop-color="#01e6f6"/><stop offset="0.167" stop-color="#18ffde"/><stop offset="0.303" stop-color="#cdff2a"/><stop offset="0.355" stop-color="#f9f300"/><stop offset="0.511" stop-color="#ff6200"/><stop offset="0.63" stop-color="#ff3100"/><stop offset="0.692" stop-color="#ff4d00"/><stop offset="0.734" stop-color="#ffa100"/><stop offset="0.762" stop-color="#f4f903"/><stop offset="0.828" stop-color="#1affdd"/><stop offset="0.835" stop-color="#00d9ff"/><stop offset="0.856" stop-color="#0030ff"/><stop offset="0.863" stop-color="#0000ff"/><stop offset="0.887" stop-color="#000080"/><stop offset="1" stop-color="#000080"/></linearGradient>
<linearGradient id="h278" x1="0" y1="0" x2="0" y2="1"><stop offset="0" stop-color="#000081"/><stop offset="0.031" stop-color="#000088"/><stop offset="0.073" stop-color="#0000e5"/><stop offset="0.087" stop-color="#0002ff"/><stop offset="0.143" stop-color="#00a5ff"/><stop offset="0.16" stop-color="#00e1fa"/><stop offset="0.177" stop-color="#1fffd8"/><stop offset="0.303" stop-color="#caff2d"/><stop offset="0.358" stop-color="#faf200"/><stop offset="0.508" stop-color="#ff6400"/><stop offset="0.626" stop-color="#ff3200"/><stop offset="0.692" stop-color="#ff4d00"/><stop offset="0.734" stop-color="#ffa000"/><stop offset="0.762" stop-color="#f4f903"/><stop offset="0.828" stop-color="#1bffdc"/><stop offset="0.835" stop-color="#00daff"/><stop offset="0.856" stop-color="#0031ff"/><stop offset="0.863" stop-color="#0000ff"/><stop offset="0.887" stop-color="#000080"/><stop offset="1" stop-color="#000080"/></linearGradient>
<linearGradient id="h279" x1="0" y1="0" x2="0" y2="1"><stop offset="0" stop-color="#000080"/><stop offset="0.035" stop-color="#00008a"/><stop offset="0.07" stop-color="#0000ca"/><stop offset="0.09" stop-color="#0000ff"/><stop offset="0.132" stop-color="#0072ff"/><stop offset="0.167" stop-color="#02e7f6"/><stop offset="0.181" stop-color="#1effd9"/><stop offset="0.299" stop-color="#c5ff32"/><stop offset="0.358" stop-color="#f8f400"/><stop offset="0.508" stop-color="#ff6500"/><stop offset="0.626" stop-color="#ff3200"/><stop offset="0.692" stop-color="#ff4d00"/><stop offset="0.734" stop-color="#ffa000"/><stop offset="0.762" stop-color="#f5f802"/><stop offset="0.828" stop-color="#1bffdc"/><stop offset="0.835" stop-color="#00dbff"/><stop offset="0.856" stop-color="#0033ff"/><stop offset="0.863" stop-color="#0000ff"/><stop offset="0.887" stop-color="#000080"/><stop offset="1" stop-color="#000080"/></linearGradient>
<linearGradient id="h280" x1="0" y1="0" x2="0" y2="1"><stop offset="0" stop-color="#000080"/><stop offset="0.038" stop-color="#00008c"/><stop offset="0.07" stop-color="#0000bb"/><stop offset="0.097" stop-color="#0000ff"/><stop offset="0.153" stop-color="#00a7ff"/><stop offset="0.17" stop-color="#01e4f8"/><stop offset="0.184" stop-color="#20ffd7"/><stop offset="0.303" stop-color="#c7ff30"/><stop offset="0.362" stop-color="#f9f300"/><stop offset="0.504" stop-color="#ff6700"/><stop offset="0.619" stop-color="#ff3300"/><stop offset="0.689" stop-color="#ff4800"/><stop offset="0.734" stop-color="#ff9f00"/><stop offset="0.762" stop-color="#f5f702"/><stop offset="0.831" stop-color="#0df6ea"/><stop offset="0.835" stop-color="#00dcfe"/><stop offset="0.856" stop-color="#0034ff"/><stop offset="0.863" stop-color="#0000ff"/><stop offset="0.887" stop-color="#000080"/><stop offset="1" stop-color="#000080"/></linearGradient>
<linearGradient id="h281" x1="0" y1="0" x2="0" y2="1"><stop offset="0" stop-color="#000080"/><stop offset="0.045" stop-color="#00008d"/><stop offset="0.07" stop-color="#0000ad"/><stop offset="0.101" stop-color="#0000ff"/><stop offset="0.132" stop-color="#0050ff"/><stop offset="0.174" stop-color="#00e3f9"/><stop offset="0.184" stop-color="#1bffdc"/><stop offset="0.299" stop-color="#c2ff35"/><stop offset="0.362" stop-color="#f7f500"/><stop offset="0.504" stop-color="#ff6700"/><stop offset="0.619" stop-color="#ff3300"/><stop offset="0.689" stop-color="#ff4700"/><stop offset="0.734" stop-color="#ff9f00"/><stop offset="0.762" stop-color="#f6f701"/><stop offset="0.831" stop-color="#0ef7e9"/><stop offset="0.835" stop-color="#00defd"/><stop offset="0.856" stop-color="#0036ff"/><stop offset="0.863" stop-color="#0000ff"/><stop offset="0.887" stop-color="#000080"/><stop offset="1" stop-color="#000080"/></linearGradient>
<linearGradient id="h282" x1="0" y1="0" x2="0" y2="1"><stop offset="0" stop-color="#000080"/><stop offset="0.066" stop-color="#000095"/><stop offset="0.108" stop-color="#0000ff"/><stop offset="0.15" stop-color="#0076ff"/><stop offset="0.177" stop-color="#01e6f6"/><stop offset="0.188" stop-color="#1cffdb"/><stop offset="0.299" stop-color="#c0ff37"/><stop offset="0.365" stop-color="#f8f400"/><stop offset="0.501" stop-color="#ff6a00"/><stop offset="0.612" stop-color="#ff3500"/><stop offset="0.685" stop-color="#ff4400"/><stop offset="0.727" stop-color="#ff8b00"/><stop offset="0.762" stop-color="#f6f600"/><stop offset="0.831" stop-color="#0ff8e8"/><stop offset="0.838" stop-color="#00c5ff"/><stop offset="0.863" stop-color="#0000ff"/><stop offset="0.887" stop-color="#000080"/><stop offset="1" stop-color="#000080"/></linearGradient>
<linearGradient id="h283" x1="0" y1="0" x2="0" y2="1"><stop offset="0" stop-color="#000080"/><stop offset="0.066" stop-color="#000088"/><stop offset="0.115" stop-color="#0001ff"/><stop offset="0.15" stop-color="#0064ff"/><stop offset="0.181" stop-color="#03e9f4"/><stop offset="0.191" stop-color="#1bffdb"/><stop offset="0.299" stop-color="#beff39"/><stop offset="0.365" stop-color="#f7f600"/><stop offset="0.501" stop-color="#ff6a00"/><stop offset="0.612" stop-color="#ff3500"/><stop offset="0.689" stop-color="#ff4700"/><stop offset="0.734" stop-color="#ff9e00"/><stop offset="0.762" stop-color="#f7f500"/><stop offset="0.828" stop-color="#1effd9"/><stop offset="0.831" stop-color="#10fae6"/><stop offset="0.838" stop-color="#00c7ff"/><stop offset="0.863" stop-color="#0000ff"/><stop offset="0.873" stop-color="#0000cb"/><stop offset="0.887" stop-color="#000080"/><stop offset="1" stop-color="#000080"/></linearGradient>
<linearGradient id="h284" x1="0" y1="0" x2="0" y2="1"><stop offset="0" stop-color="#000080"/><stop offset="0.066" stop-color="#000084"/><stop offset="0.108" stop-color="#0000e7"/><stop offset="0.122" stop-color="#0002ff"/><stop offset="0.153" stop-color="#0064ff"/><stop offset="0.181" stop-color="#00dbfd"/><stop offset="0.195" stop-color="#1affdd"/><stop offset="0.296" stop-color="#b7ff40"/><stop offset="0.369" stop-color="#f8f500"/><stop offset="0.501" stop-color="#ff6a00"/><stop offset="0.612" stop-color="#ff3500"/><stop offset="0.689" stop-color="#ff4700"/><stop offset="0.734" stop-color="#ff9d00"/><stop offset="0.762" stop-color="#f8f400"/><stop offset="0.786" stop-color="#aeff48"/><stop offset="0.831" stop-color="#12fbe5"/><stop offset="0.838" stop-color="#00c9ff"/><stop offset="0.863" stop-color="#0000ff"/><stop offset="0.87" stop-color="#0000e2"/><stop offset="0.887" stop-color="#000080"/><stop offset="1" stop-color="#000080"/></linearGradient>
<linearGradient id="h285" x1="0" y1="0" x2="0" y2="1"><stop offset="0" stop-color="#000080"/><stop offset="0.07" stop-color="#000089"/><stop offset="0.104" stop-color="#0000cf"/><stop offset="0.122" stop-color="#0000ff"/><stop offset="0.146" stop-color="#003bff"/><stop offset="0.188" stop-color="#02e8f5"/><stop offset="0.198" stop-color="#1cffdb"/><stop offset="0.296" stop-color="#b4ff43"/><stop offset="0.369" stop-color="#f6f601"/><stop offset="0.501" stop-color="#ff6a00"/><stop offset="0.612" stop-color="#ff3500"/><stop offset="0.689" stop-color="#ff4600"/><stop offset="0.734" stop-color="#ff9c00"/><stop offset="0.762" stop-color="#f9f400"/><stop offset="0.776" stop-color="#d1ff26"/><stop offset="0.831" stop-color="#13fde4"/><stop offset="0.835" stop-color="#00e4f8"/><stop offset="0.856" stop-color="#003eff"/><stop offset="0.863" stop-color="#0001ff"/><stop offset="0.87" stop-color="#0000e4"/><stop offset="0.887" stop-color="#000081"/><stop offset="1" stop-color="#000080"/></linearGradient>
<linearGradient id="h286" x1="0" y1="0" x2="0" y2="1"><stop offset="0" stop-color="#000080"/><stop offset="0.07" stop-color="#000087"/><stop offset="0.101" stop-color="#0000b6"/><stop offset="0.129" stop-color="#0000ff"/><stop offset="0.163" stop-color="#0070ff"/><stop offset="0.191" stop-color="#02e7f5"/><stop offset="0.202" stop-color="#1fffd7"/><stop offset="0.303" stop-color="#b9ff3e"/><stop offset="0.372" stop-color="#f7f500"/><stop offset="0.497" stop-color="#ff6d00"/><stop offset="0.609" stop-color="#ff3600"/><stop offset="0.685" stop-color="#ff4400"/><stop offset="0.727" stop-color="#ff8900"/><stop offset="0.762" stop-color="#f9f300"/><stop offset="0.776" stop-color="#d1ff25"/><stop offset="0.831" stop-color="#14fee3"/><stop offset="0.835" stop-color="#01e7f6"/><stop offset="0.856" stop-color="#0041ff"/><stop offset="0.863" stop-color="#0003ff"/><stop offset="0.87" stop-color="#0000e6"/><stop offset="0.887" stop-color="#000082"/><stop offset="1" stop-color="#000080"/></linearGradient>
<linearGradient id="h287" x1="0" y1="0" x2="0" y2="1"><stop offset="0" stop-color="#000080"/><stop offset="0.077" stop-color="#00008a"/><stop offset="0.101" stop-color="#0000a9"/><stop offset="0.132" stop-color="#0000ff"/><stop offset="0.167" stop-color="#006dff"/><stop offset="0.191" stop-color="#00ddfd"/><stop offset="0.202" stop-color="#1bffdc"/><stop offset="0.299" stop-color="#b2ff45"/><stop offset="0.372" stop-color="#f6f601"/><stop offset="0.497" stop-color="#ff6d00"/><stop offset="0.609" stop-color="#ff3600"/><stop offset="0.685" stop-color="#ff4400"/><stop offset="0.727" stop-color="#ff8800"/><stop offset="0.762" stop-color="#faf200"/><stop offset="0.776" stop-color="#d2ff25"/><stop offset="0.831" stop-color="#15ffe2"/><stop offset="0.838" stop-color="#00cfff"/><stop offset="0.859" stop-color="#0024ff"/><stop offset="0.863" stop-color="#0005ff"/><stop offset="0.866" stop-color="#0000fd"/><stop offset="0.887" stop-color="#000083"/><stop offset="1" stop-color="#000080"/></linearGradient>
<linearGradient id="h288" x1="0" y1="0" x2="0" y2="1"><stop offset="0" stop-color="#000080"/><stop offset="0.09" stop-color="#00008c"/><stop offset="0.104" stop-color="#0000a6"/><stop offset="0.136" stop-color="#0000ff"/><stop offset="0.17" stop-color="#006cff"/><stop offset="0.195" stop-color="#00e2fa"/><stop offset="0.202" stop-color="#16ffe0"/><stop offset="0.296" stop-color="#abff4c"/><stop offset="0.376" stop-color="#f8f500"/><stop offset="0.497" stop-color="#ff6d00"/><stop offset="0.609" stop-color="#ff3600"/><stop offset="0.685" stop-color="#ff4300"/><stop offset="0.727" stop-color="#ff8700"/><stop offset="0.762" stop-color="#fbf100"/><stop offset="0.779" stop-color="#c9ff2e"/><stop offset="0.831" stop-color="#16ffe0"/><stop offset="0.838" stop-color="#00d1ff"/><stop offset="0.859" stop-color="#0026ff"/><stop offset="0.863" stop-color="#0007ff"/><stop offset="0.866" stop-color="#0000ff"/><stop offset="0.887" stop-color="#000084"/><stop offset="1" stop-color="#000080"/></linearGradient>
<linearGradient id="h289" x1="0" y1="0" x2="0" y2="1"><stop offset="0" stop-color="#000080"/><stop offset="0.097" stop-color="#000084"/><stop offset="0.139" stop-color="#0000ff"/><stop offset="0.17" stop-color="#005cff"/><stop offset="0.195" stop-color="#00d9ff"/><stop offset="0.205" stop-color="#18ffdf"/><stop offset="0.292" stop-color="#a3ff53"/><stop offset="0.376" stop-color="#f6f601"/><stop offset="0.497" stop-color="#ff6d00"/><stop offset="0.609" stop-color="#ff3600"/><stop offset="0.689" stop-color="#ff4500"/><stop offset="0.734" stop-color="#ff9900"/><stop offset="0.762" stop-color="#fcf000"/><stop offset="0.779" stop-color="#caff2d"/><stop offset="0.831" stop-color="#18ffdf"/><stop offset="0.838" stop-color="#00d3ff"/><stop offset="0.859" stop-color="#0029ff"/><stop offset="0.863" stop-color="#0009ff"/><stop offset="0.866" stop-color="#0000ff"/><stop offset="0.887" stop-color="#000085"/><stop offset="1" stop-color="#000080"/></linearGradient>
<linearGradient id="h290" x1="0" y1="0" x2="0" y2="1"><stop offset="0" stop-color="#000080"/><stop offset="0.097" stop-color="#000080"/><stop offset="0.143" stop-color="#0000ff"/><stop offset="0.17" stop-color="#0052ff"/><stop offset="0.198" stop-color="#00dffc"/><stop offset="0.209" stop-color="#17ffe0"/><stop offset="0.289" stop-color="#9cff5b"/><stop offset="0.376" stop-color="#f5f802"/><stop offset="0.497" stop-color="#ff6d00"/><stop offset="0.609" stop-color="#ff3600"/><stop offset="0.689" stop-color="#ff4500"/><stop offset="0.734" stop-color="#ff9900"/><stop offset="0.762" stop-color="#fdef00"/><stop offset="0.776" stop-color="#d4ff22"/><stop offset="0.831" stop-color="#18ffde"/><stop offset="0.838" stop-color="#00d5ff"/><stop offset="0.859" stop-color="#002bff"/><stop offset="0.863" stop-color="#000bff"/><stop offset="0.866" stop-color="#0000ff"/><stop offset="0.887" stop-color="#000086"/><stop offset="1" stop-color="#000080"/></linearGradient>
<linearGradient id="h291" x1="0" y1="0" x2="0" y2="1"><stop offset="0" stop-color="#000080"/><stop offset="0.101" stop-color="#000088"/><stop offset="0.143" stop-color="#0000ff"/><stop offset="0.17" stop-color="#004bff"/><stop offset="0.202" stop-color="#01e5f7"/><stop offset="0.216" stop-color="#1fffd8"/><stop offset="0.292" stop-color="#9eff59"/><stop offset="0.379" stop-color="#f7f500"/><stop offset="0.497" stop-color="#ff6e00"/><stop offset="0.609" stop-color="#ff3600"/><stop offset="0.685" stop-color="#ff4300"/><stop offset="0.727" stop-color="#ff8500"/><stop offset="0.762" stop-color="#fdee00"/><stop offset="0.776" stop-color="#d5ff22"/><stop offset="0.831" stop-color="#19ffde"/><stop offset="0.838" stop-color="#00d6ff"/><stop offset="0.859" stop-color="#002dff"/><stop offset="0.863" stop-color="#000dff"/><stop offset="0.87" stop-color="#0000ee"/><stop offset="0.887" stop-color="#000087"/><stop offset="1" stop-color="#000080"/></linearGradient>
<linearGradient id="h292" x1="0" y1="0" x2="0" y2="1"><stop offset="0" stop-color="#000080"/><stop offset="0.101" stop-color="#000088"/><stop offset="0.139" stop-color="#0000f3"/><stop offset="0.153" stop-color="#000eff"/><stop offset="0.177" stop-color="#0064ff"/><stop offset="0.205" stop-color="#00e4f8"/><stop offset="0.219" stop-color="#21ffd5"/><stop offset="0.296" stop-color="#9fff57"/><stop offset="0.379" stop-color="#f6f600"/><stop offset="0.497" stop-color="#ff6e00"/><stop offset="0.609" stop-color="#ff3600"/><stop offset="0.685" stop-color="#ff4300"/><stop offset="0.727" stop-color="#ff8400"/><stop offset="0.762" stop-color="#feed00"/><stop offset="0.776" stop-color="#d6ff21"/><stop offset="0.831" stop-color="#1affdd"/><stop offset="0.838" stop-color="#00d8ff"/><stop offset="0.859" stop-color="#002fff"/><stop offset="0.866" stop-color="#0000ff"/><stop offset="0.89" stop-color="#000080"/><stop offset="1" stop-color="#000080"/></linearGradient>
<linearGradient id="h293" x1="0" y1="0" x2="0" y2="1"><stop offset="0" stop-color="#000080"/><stop offset="0.101" stop-color="#000087"/><stop offset="0.132" stop-color="#0000d6"/><stop offset="0.15" stop-color="#0000ff"/><stop offset="0.177" stop-color="#005cff"/><stop offset="0.209" stop-color="#01e5f7"/><stop offset="0.219" stop-color="#1cffda"/><stop offset="0.296" stop-color="#9dff5a"/><stop offset="0.379" stop-color="#f6f701"/><stop offset="0.497" stop-color="#ff6e00"/><stop offset="0.609" stop-color="#ff3600"/><stop offset="0.685" stop-color="#ff4300"/><stop offset="0.727" stop-color="#ff8400"/><stop offset="0.762" stop-color="#ffed00"/><stop offset="0.772" stop-color="#e0ff17"/><stop offset="0.831" stop-color="#1bffdc"/><stop offset="0.838" stop-color="#00daff"/><stop offset="0.859" stop-color="#0031ff"/><stop offset="0.866" stop-color="#0000ff"/><stop offset="0.89" stop-color="#000080"/><stop offset="1" stop-color="#000080"/></linearGradient>
<linearGradient id="h294" x1="0" y1="0" x2="0" y2="1"><stop offset="0" stop-color="#000080"/><stop offset="0.101" stop-color="#000086"/><stop offset="0.129" stop-color="#0000c5"/><stop offset="0.15" stop-color="#0000ff"/><stop offset="0.174" stop-color="#0045ff"/><stop offset="0.212" stop-color="#02e8f5"/><stop offset="0.223" stop-color="#22ffd5"/><stop offset="0.306" stop-color="#a7ff50"/><stop offset="0.379" stop-color="#f5f802"/><stop offset="0.497" stop-color="#ff6e00"/><stop offset="0.609" stop-color="#ff3600"/><stop offset="0.685" stop-color="#ff4300"/><stop offset="0.727" stop-color="#ff8300"/><stop offset="0.762" stop-color="#ffec00"/><stop offset="0.772" stop-color="#e1ff16"/><stop offset="0.831" stop-color="#1bffdb"/><stop offset="0.838" stop-color="#00dbff"/><stop offset="0.859" stop-color="#0033ff"/><stop offset="0.866" stop-color="#0000ff"/><stop offset="0.89" stop-color="#000080"/><stop offset="1" stop-color="#000080"/></linearGradient>
<linearGradient id="h295" x1="0" y1="0" x2="0" y2="1"><stop offset="0" stop-color="#000080"/><stop offset="0.104" stop-color="#000089"/><stop offset="0.129" stop-color="#0000c0"/><stop offset="0.15" stop-color="#0000ff"/><stop offset="0.167" stop-color="#0024ff"/><stop offset="0.198" stop-color="#00a1ff"/><stop offset="0.216" stop-color="#07eef0"/><stop offset="0.226" stop-color="#27ffd0"/><stop offset="0.313" stop-color="#adff4a"/><stop offset="0.383" stop-color="#f7f500"/><stop offset="0.497" stop-color="#ff6e00"/><stop offset="0.609" stop-color="#ff3600"/><stop offset="0.685" stop-color="#ff4300"/><stop offset="0.727" stop-color="#ff8300"/><stop offset="0.765" stop-color="#f5f701"/><stop offset="0.835" stop-color="#0ef6e9"/><stop offset="0.838" stop-color="#00ddfe"/><stop offset="0.859" stop-color="#0035ff"/><stop offset="0.866" stop-color="#0000ff"/><stop offset="0.89" stop-color="#000080"/><stop offset="1" stop-color="#000080"/></linearGradient>
<linearGradient id="h296" x1="0" y1="0" x2="0" y2="1"><stop offset="0" stop-color="#000080"/><stop offset="0.104" stop-color="#000088"/><stop offset="0.125" stop-color="#0000b0"/><stop offset="0.153" stop-color="#0000ff"/><stop offset="0.177" stop-color="#0042ff"/><stop offset="0.198" stop-color="#0095ff"/><stop offset="0.216" stop-color="#01e6f6"/><stop offset="0.226" stop-color="#23ffd4"/><stop offset="0.313" stop-color="#aaff4d"/><stop offset="0.383" stop-color="#f6f601"/><stop offset="0.497" stop-color="#ff6e00"/><stop offset="0.609" stop-color="#ff3600"/><stop offset="0.685" stop-color="#ff4200"/><stop offset="0.727" stop-color="#ff8200"/><stop offset="0.765" stop-color="#f6f601"/><stop offset="0.835" stop-color="#0ff8e8"/><stop offset="0.842" stop-color="#00c5ff"/><stop offset="0.866" stop-color="#0000ff"/><stop offset="0.89" stop-color="#000080"/><stop offset="1" stop-color="#000080"/></linearGradient>
<linearGradient id="h297" x1="0" y1="0" x2="0" y2="1"><stop offset="0" stop-color="#000080"/><stop offset="0.108" stop-color="#000089"/><stop offset="0.129" stop-color="#0000b5"/><stop offset="0.157" stop-color="#0000ff"/><stop offset="0.195" stop-color="#0075ff"/><stop offset="0.216" stop-color="#00dffc"/><stop offset="0.223" stop-color="#16ffe1"/><stop offset="0.306" stop-color="#9eff59"/><stop offset="0.383" stop-color="#f5f701"/><stop offset="0.477" stop-color="#ff7f00"/><stop offset="0.595" stop-color="#ff3a00"/><stop offset="0.671" stop-color="#ff3a00"/><stop offset="0.71" stop-color="#ff6000"/><stop offset="0.748" stop-color="#ffbc00"/><stop offset="0.765" stop-color="#f7f600"/><stop offset="0.831" stop-color="#1effd9"/><stop offset="0.835" stop-color="#10fae6"/><stop offset="0.842" stop-color="#00c7ff"/><stop offset="0.866" stop-color="#0000ff"/><stop offset="0.877" stop-color="#0000cb"/><stop offset="0.89" stop-color="#000080"/><stop offset="1" stop-color="#000080"/></linearGradient>
<linearGradient id="h298" x1="0" y1="0" x2="0" y2="1"><stop offset="0" stop-color="#000080"/><stop offset="0.115" stop-color="#00008a"/><stop offset="0.157" stop-color="#0000ff"/><stop offset="0.177" stop-color="#0031ff"/><stop offset="0.198" stop-color="#007cff"/><stop offset="0.216" stop-color="#00d8ff"/><stop offset="0.223" stop-color="#12fbe5"/><stop offset="0.306" stop-color="#9bff5c"/><stop offset="0.386" stop-color="#f8f400"/><stop offset="0.477" stop-color="#ff7f00"/><stop offset="0.595" stop-color="#ff3a00"/><stop offset="0.671" stop-color="#ff3a00"/><stop offset="0.71" stop-color="#ff5f00"/><stop offset="0.748" stop-color="#ffbb00"/><stop offset="0.765" stop-color="#f7f500"/><stop offset="0.797" stop-color="#94ff63"/><stop offset="0.835" stop-color="#12fbe5"/><stop offset="0.842" stop-color="#00c8ff"/><stop offset="0.866" stop-color="#0000ff"/><stop offset="0.873" stop-color="#0000e2"/><stop offset="0.89" stop-color="#000080"/><stop offset="1" stop-color="#000080"/></linearGradient>
<linearGradient id="h299" x1="0" y1="0" x2="0" y2="1"><stop offset="0" stop-color="#000080"/><stop offset="0.115" stop-color="#000085"/><stop offset="0.16" stop-color="#0000ff"/><stop offset="0.195" stop-color="#005cff"/><stop offset="0.219" stop-color="#00e3f9"/><stop offset="0.226" stop-color="#18ffdf"/><stop offset="0.31" stop-color="#9cff5a"/><stop offset="0.386" stop-color="#f7f500"/><stop offset="0.47" stop-color="#ff8a00"/><stop offset="0.584" stop-color="#ff3d00"/><stop offset="0.668" stop-color="#ff3800"/><stop offset="0.71" stop-color="#ff5f00"/><stop offset="0.748" stop-color="#ffbb00"/><stop offset="0.765" stop-color="#f8f400"/><stop offset="0.786" stop-color="#bcff3b"/><stop offset="0.835" stop-color="#13fde4"/><stop offset="0.838" stop-color="#00e3f8"/><stop offset="0.859" stop-color="#003dff"/><stop offset="0.866" stop-color="#0000ff"/><stop offset="0.873" stop-color="#0000e3"/><stop offset="0.89" stop-color="#000080"/><stop offset="1" stop-color="#000080"/></linearGradient>
<linearGradient id="h300" x1="0" y1="0" x2="0" y2="1"><stop offset="0" stop-color="#000080"/><stop offset="0.118" stop-color="#000087"/><stop offset="0.16" stop-color="#0000ff"/><stop offset="0.181" stop-color="#002bff"/><stop offset="0.198" stop-color="#0065ff"/><stop offset="0.219" stop-color="#00defd"/><stop offset="0.226" stop-color="#15ffe2"/><stop offset="0.306" stop-color="#96ff61"/><stop offset="0.386" stop-color="#f6f601"/><stop offset="0.466" stop-color="#ff9000"/><stop offset="0.536" stop-color="#ff5500"/><stop offset="0.643" stop-color="#ff3300"/><stop offset="0.699" stop-color="#ff5000"/><stop offset="0.737" stop-color="#ff9c00"/><stop offset="0.765" stop-color="#f9f300"/><stop offset="0.779" stop-color="#d1ff26"/><stop offset="0.835" stop-color="#14fee3"/><stop offset="0.838" stop-color="#00e5f7"/><stop offset="0.859" stop-color="#003fff"/><stop offset="0.866" stop-color="#0000ff"/><stop offset="0.873" stop-color="#0000e4"/><stop offset="0.89" stop-color="#000080"/><stop offset="1" stop-color="#000080"/></linearGradient>
<linearGradient id="jet" x1="0" y1="1" x2="0" y2="0"><stop offset="0" stop-color="#000080"/><stop offset="0.11" stop-color="#0000ff"/><stop offset="0.12" stop-color="#0000ff"/><stop offset="0.34" stop-color="#00dcff"/><stop offset="0.35" stop-color="#00e4f8"/><stop offset="0.38" stop-color="#14ffe2"/><stop offset="0.64" stop-color="#ecff0a"/><stop offset="0.65" stop-color="#f8f500"/><stop offset="0.66" stop-color="#ffea00"/><stop offset="0.89" stop-color="#ff1600"/><stop offset="0.91" stop-color="#e80000"/><stop offset="1" stop-color="#800000"/></linearGradient>
<clipPath id="cR2"><rect x="1205" y="478" width="595" height="344"/></clipPath></defs>
<rect width="2000" height="1100" fill="#fff"/>
<text x="1000" y="41" font-size="24" text-anchor="middle" fill="#000">BAS-RBM Relativistic Electron Forecast, issued at 23:00 UT, 18 February 2025</text>
<rect x="200" y="110" width="714" height="345" fill="#d3d3d3"/>
<path d="M291 110h3.5V150h-3.5zM294.5 110h3.5V165h-3.5zM410 110h2V114h-2zM453 110h2V117.6h-2zM457 110h2.5V122h-2.5zM465.5 110h3V138h-3zM468.5 110h2V131h-2zM508 110h3V137h-3zM513 110h2V120h-2zM527 110h2V122h-2zM662.5 110h3V144.5h-3zM704 110h2V115h-2zM736.5 110h2V115h-2zM743 110h2V119.5h-2zM812.5 110h3V117h-3zM815.5 110h3V119h-3zM818.5 110h2.5V116h-2.5zM821 110h2.5V118h-2.5z" fill="#fff"/>
<g shape-rendering="crispEdges"><rect x="200" y="167.5" width="4" height="287.5" fill="url(#h0)"/><rect x="204" y="167.5" width="4" height="287.5" fill="url(#h1)"/><rect x="208" y="167.5" width="4" height="287.5" fill="url(#h2)"/><rect x="212" y="167.5" width="1" height="287.5" fill="url(#h3)"/><rect x="213" y="167.5" width="1" height="287.5" fill="url(#h4)"/><rect x="214" y="167.5" width="2" height="287.5" fill="url(#h5)"/><rect x="216" y="167.5" width="1" height="287.5" fill="url(#h6)"/><rect x="217" y="167.5" width="4" height="287.5" fill="url(#h7)"/><rect x="221" y="167.5" width="4" height="287.5" fill="url(#h8)"/><rect x="225" y="167.5" width="4" height="287.5" fill="url(#h9)"/><rect x="229" y="167.5" width="4" height="287.5" fill="url(#h10)"/><rect x="233" y="167.5" width="4" height="287.5" fill="url(#h11)"/><rect x="237" y="167.5" width="4" height="287.5" fill="url(#h12)"/><rect x="241" y="167.5" width="4" height="287.5" fill="url(#h13)"/><rect x="245" y="167.5" width="3" height="287.5" fill="url(#h14)"/><rect x="248" y="167.5" width="3" height="287.5" fill="url(#h15)"/><rect x="251" y="167.5" width="4" height="287.5" fill="url(#h16)"/><rect x="255" y="167.5" width="4" height="287.5" fill="url(#h17)"/><rect x="259" y="167.5" width="4" height="287.5" fill="url(#h18)"/><rect x="263" y="167.5" width="4" height="287.5" fill="url(#h19)"/><rect x="267" y="167.5" width="4" height="287.5" fill="url(#h20)"/><rect x="271" y="167.5" width="4" height="287.5" fill="url(#h21)"/><rect x="275" y="167.5" width="3" height="287.5" fill="url(#h22)"/><rect x="278" y="167.5" width="1" height="287.5" fill="url(#h23)"/><rect x="279" y="167.5" width="2" height="287.5" fill="url(#h24)"/><rect x="281" y="167.5" width="1" height="287.5" fill="url(#h25)"/><rect x="282" y="167.5" width="4" height="287.5" fill="url(#h26)"/><rect x="286" y="167.5" width="4" height="287.5" fill="url(#h27)"/><rect x="290" y="167.5" width="3" height="287.5" fill="url(#h28)"/><rect x="293" y="167.5" width="2" height="287.5" fill="url(#h29)"/><rect x="295" y="167.5" width="1" height="287.5" fill="url(#h30)"/><rect x="296" y="167.5" width="1" height="287.5" fill="url(#h31)"/><rect x="297" y="167.5" width="1" height="287.5" fill="url(#h32)"/><rect x="298" y="167.5" width="1" height="287.5" fill="url(#h33)"/><rect x="299" y="167.5" width="4" height="287.5" fill="url(#h34)"/><rect x="303" y="167.5" width="1" height="287.5" fill="url(#h35)"/><rect x="304" y="167.5" width="1" height="287.5" fill="url(#h36)"/><rect x="305" y="167.5" width="1" height="287.5" fill="url(#h37)"/><rect x="306" y="167.5" width="3" height="287.5" fill="url(#h38)"/><rect x="309" y="167.5" width="1" height="287.5" fill="url(#h39)"/><rect x="310" y="167.5" width="1" height="287.5" fill="url(#h40)"/><rect x="311" y="167.5" width="1" height="287.5" fill="url(#h41)"/><rect x="312" y="167.5" width="4" height="287.5" fill="url(#h42)"/><rect x="316" y="167.5" width="4" height="287.5" fill="url(#h43)"/><rect x="320" y="167.5" width="2" height="287.5" fill="url(#h44)"/><rect x="322" y="167.5" width="4" height="287.5" fill="url(#h45)"/><rect x="326" y="167.5" width="1" height="287.5" fill="url(#h46)"/><rect x="327" y="167.5" width="1" height="287.5" fill="url(#h47)"/><rect x="328" y="167.5" width="2" height="287.5" fill="url(#h48)"/><rect x="330" y="167.5" width="1" height="287.5" fill="url(#h49)"/><rect x="331" y="167.5" width="4" height="287.5" fill="url(#h50)"/><rect x="335" y="167.5" width="4" height="287.5" fill="url(#h51)"/><rect x="339" y="167.5" width="4" height="287.5" fill="url(#h52)"/><rect x="343" y="167.5" width="2" height="287.5" fill="url(#h53)"/><rect x="345" y="167.5" width="1" height="287.5" fill="url(#h54)"/><rect x="346" y="167.5" width="1" height="287.5" fill="url(#h55)"/><rect x="347" y="167.5" width="4" height="287.5" fill="url(#h56)"/><rect x="351" y="167.5" width="4" height="287.5" fill="url(#h57)"/><rect x="355" y="167.5" width="4" height="287.5" fill="url(#h58)"/><rect x="359" y="167.5" width="4" height="287.5" fill="url(#h59)"/><rect x="363" y="167.5" width="2" height="287.5" fill="url(#h60)"/><rect x="365" y="167.5" width="1" height="287.5" fill="url(#h61)"/><rect x="366" y="167.5" width="1" height="287.5" fill="url(#h62)"/><rect x="367" y="167.5" width="2" height="287.5" fill="url(#h63)"/><rect x="369" y="167.5" width="2" height="287.5" fill="url(#h64)"/><rect x="371" y="167.5" width="4" height="287.5" fill="url(#h65)"/><rect x="375" y="167.5" width="2" height="287.5" fill="url(#h66)"/><rect x="377" y="167.5" width="2" height="287.5" fill="url(#h67)"/><rect x="379" y="167.5" width="2" height="287.5" fill="url(#h68)"/><rect x="381" y="167.5" width="1" height="287.5" fill="url(#h69)"/><rect x="382" y="167.5" width="2" height="287.5" fill="url(#h70)"/><rect x="384" y="167.5" width="4" height="287.5" fill="url(#h71)"/><rect x="388" y="167.5" width="1" height="287.5" fill="url(#h72)"/><rect x="389" y="167.5" width="1" height="287.5" fill="url(#h73)"/><rect x="390" y="167.5" width="2" height="287.5" fill="url(#h74)"/><rect x="392" y="167.5" width="1" height="287.5" fill="url(#h75)"/><rect x="393" y="167.5" width="3" height="287.5" fill="url(#h76)"/><rect x="396" y="167.5" width="4" height="287.5" fill="url(#h77)"/><rect x="400" y="167.5" width="1" height="287.5" fill="url(#h78)"/><rect x="401" y="167.5" width="1" height="287.5" fill="url(#h79)"/><rect x="402" y="167.5" width="1" height="287.5" fill="url(#h80)"/><rect x="403" y="167.5" width="1" height="287.5" fill="url(#h81)"/><rect x="404" y="167.5" width="1" height="287.5" fill="url(#h82)"/><rect x="405" y="167.5" width="1" height="287.5" fill="url(#h83)"/><rect x="406" y="167.5" width="1" height="287.5" fill="url(#h84)"/><rect x="407" y="167.5" width="2" height="287.5" fill="url(#h85)"/><rect x="409" y="167.5" width="2" height="287.5" fill="url(#h86)"/><rect x="411" y="167.5" width="4" height="287.5" fill="url(#h87)"/><rect x="415" y="167.5" width="3" height="287.5" fill="url(#h88)"/><rect x="418" y="167.5" width="2" height="287.5" fill="url(#h89)"/><rect x="420" y="167.5" width="2" height="287.5" fill="url(#h90)"/><rect x="422" y="167.5" width="2" height="287.5" fill="url(#h91)"/><rect x="424" y="167.5" width="2" height="287.5" fill="url(#h92)"/><rect x="426" y="167.5" width="1" height="287.5" fill="url(#h93)"/><rect x="427" y="167.5" width="1" height="287.5" fill="url(#h94)"/><rect x="428" y="167.5" width="1" height="287.5" fill="url(#h95)"/><rect x="429" y="167.5" width="1" height="287.5" fill="url(#h96)"/><rect x="430" y="167.5" width="2" height="287.5" fill="url(#h97)"/><rect x="432" y="167.5" width="2" height="287.5" fill="url(#h98)"/><rect x="434" y="167.5" width="4" height="287.5" fill="url(#h99)"/><rect x="438" y="167.5" width="4" height="287.5" fill="url(#h100)"/><rect x="442" y="167.5" width="4" height="287.5" fill="url(#h101)"/><rect x="446" y="167.5" width="4" height="287.5" fill="url(#h102)"/><rect x="450" y="167.5" width="4" height="287.5" fill="url(#h103)"/><rect x="454" y="167.5" width="2" height="287.5" fill="url(#h104)"/><rect x="456" y="167.5" width="1" height="287.5" fill="url(#h105)"/><rect x="457" y="167.5" width="1" height="287.5" fill="url(#h106)"/><rect x="458" y="167.5" width="1" height="287.5" fill="url(#h107)"/><rect x="459" y="167.5" width="1" height="287.5" fill="url(#h108)"/><rect x="460" y="167.5" width="1" height="287.5" fill="url(#h109)"/><rect x="461" y="167.5" width="1" height="287.5" fill="url(#h110)"/><rect x="462" y="167.5" width="1" height="287.5" fill="url(#h111)"/><rect x="463" y="167.5" width="3" height="287.5" fill="url(#h112)"/><rect x="466" y="167.5" width="3" height="287.5" fill="url(#h113)"/><rect x="469" y="167.5" width="3" height="287.5" fill="url(#h114)"/><rect x="472" y="167.5" width="1" height="287.5" fill="url(#h115)"/><rect x="473" y="167.5" width="1" height="287.5" fill="url(#h116)"/><rect x="474" y="167.5" width="4" height="287.5" fill="url(#h117)"/><rect x="478" y="167.5" width="4" height="287.5" fill="url(#h118)"/><rect x="482" y="167.5" width="1" height="287.5" fill="url(#h119)"/><rect x="483" y="167.5" width="1" height="287.5" fill="url(#h120)"/><rect x="484" y="167.5" width="1" height="287.5" fill="url(#h121)"/><rect x="485" y="167.5" width="1" height="287.5" fill="url(#h122)"/><rect x="486" y="167.5" width="1" height="287.5" fill="url(#h123)"/><rect x="487" y="167.5" width="1" height="287.5" fill="url(#h124)"/><rect x="488" y="167.5" width="4" height="287.5" fill="url(#h125)"/><rect x="492" y="167.5" width="4" height="287.5" fill="url(#h126)"/><rect x="496" y="167.5" width="3" height="287.5" fill="url(#h127)"/><rect x="499" y="167.5" width="1" height="287.5" fill="url(#h128)"/><rect x="500" y="167.5" width="2" height="287.5" fill="url(#h129)"/><rect x="502" y="167.5" width="4" height="287.5" fill="url(#h130)"/><rect x="506" y="167.5" width="2" height="287.5" fill="url(#h131)"/><rect x="508" y="167.5" width="1" height="287.5" fill="url(#h132)"/><rect x="509" y="167.5" width="2" height="287.5" fill="url(#h133)"/><rect x="511" y="167.5" width="1" height="287.5" fill="url(#h134)"/><rect x="512" y="167.5" width="3" height="287.5" fill="url(#h135)"/><rect x="515" y="167.5" width="1" height="287.5" fill="url(#h136)"/><rect x="516" y="167.5" width="1" height="287.5" fill="url(#h137)"/><rect x="517" y="167.5" width="1" height="287.5" fill="url(#h138)"/><rect x="518" y="167.5" width="3" height="287.5" fill="url(#h139)"/><rect x="521" y="167.5" width="4" height="287.5" fill="url(#h140)"/><rect x="525" y="167.5" width="4" height="287.5" fill="url(#h141)"/><rect x="529" y="167.5" width="4" height="287.5" fill="url(#h142)"/><rect x="533" y="167.5" width="4" height="287.5" fill="url(#h143)"/><rect x="537" y="167.5" width="4" height="287.5" fill="url(#h144)"/><rect x="541" y="167.5" width="2" height="287.5" fill="url(#h145)"/><rect x="543" y="167.5" width="1" height="287.5" fill="url(#h146)"/><rect x="544" y="167.5" width="1" height="287.5" fill="url(#h147)"/><rect x="545" y="167.5" width="1" height="287.5" fill="url(#h148)"/><rect x="546" y="167.5" width="1" height="287.5" fill="url(#h149)"/><rect x="547" y="167.5" width="1" height="287.5" fill="url(#h150)"/><rect x="548" y="167.5" width="3" height="287.5" fill="url(#h151)"/><rect x="551" y="167.5" width="2" height="287.5" fill="url(#h152)"/><rect x="553" y="167.5" width="2" height="287.5" fill="url(#h153)"/><rect x="555" y="167.5" width="1" height="287.5" fill="url(#h154)"/><rect x="556" y="167.5" width="1" height="287.5" fill="url(#h155)"/><rect x="557" y="167.5" width="1" height="287.5" fill="url(#h156)"/><rect x="558" y="167.5" width="4" height="287.5" fill="url(#h157)"/><rect x="562" y="167.5" width="4" height="287.5" fill="url(#h158)"/><rect x="566" y="167.5" width="4" height="287.5" fill="url(#h159)"/><rect x="570" y="167.5" width="4" height="287.5" fill="url(#h160)"/><rect x="574" y="167.5" width="4" height="287.5" fill="url(#h161)"/><rect x="578" y="167.5" width="4" height="287.5" fill="url(#h162)"/><rect x="582" y="167.5" width="4" height="287.5" fill="url(#h163)"/><rect x="586" y="167.5" width="4" height="287.5" fill="url(#h164)"/><rect x="590" y="167.5" width="4" height="287.5" fill="url(#h165)"/><rect x="594" y="167.5" width="4" height="287.5" fill="url(#h166)"/><rect x="598" y="167.5" width="4" height="287.5" fill="url(#h167)"/><rect x="602" y="167.5" width="4" height="287.5" fill="url(#h168)"/><rect x="606" y="167.5" width="4" height="287.5" fill="url(#h169)"/><rect x="610" y="167.5" width="4" height="287.5" fill="url(#h170)"/><rect x="614" y="167.5" width="4" height="287.5" fill="url(#h171)"/><rect x="618" y="167.5" width="4" height="287.5" fill="url(#h172)"/><rect x="622" y="167.5" width="4" height="287.5" fill="url(#h173)"/><rect x="626" y="167.5" width="4" height="287.5" fill="url(#h174)"/><rect x="630" y="167.5" width="4" height="287.5" fill="url(#h175)"/><rect x="634" y="167.5" width="2" height="287.5" fill="url(#h176)"/><rect x="636" y="167.5" width="1" height="287.5" fill="url(#h177)"/><rect x="637" y="167.5" width="1" height="287.5" fill="url(#h178)"/><rect x="638" y="167.5" width="1" height="287.5" fill="url(#h179)"/><rect x="639" y="167.5" width="3" height="287.5" fill="url(#h180)"/><rect x="642" y="167.5" width="1" height="287.5" fill="url(#h181)"/><rect x="643" y="167.5" width="1" height="287.5" fill="url(#h182)"/><rect x="644" y="167.5" width="1" height="287.5" fill="url(#h183)"/><rect x="645" y="167.5" width="1" height="287.5" fill="url(#h184)"/><rect x="646" y="167.5" width="1" height="287.5" fill="url(#h185)"/><rect x="647" y="167.5" width="1" height="287.5" fill="url(#h186)"/><rect x="648" y="167.5" width="1" height="287.5" fill="url(#h187)"/><rect x="649" y="167.5" width="1" height="287.5" fill="url(#h188)"/><rect x="650" y="167.5" width="1" height="287.5" fill="url(#h189)"/><rect x="651" y="167.5" width="1" height="287.5" fill="url(#h190)"/><rect x="652" y="167.5" width="3" height="287.5" fill="url(#h191)"/><rect x="655" y="167.5" width="4" height="287.5" fill="url(#h192)"/><rect x="659" y="167.5" width="4" height="287.5" fill="url(#h193)"/><rect x="663" y="167.5" width="3" height="287.5" fill="url(#h194)"/><rect x="666" y="167.5" width="4" height="287.5" fill="url(#h195)"/><rect x="670" y="167.5" width="4" height="287.5" fill="url(#h196)"/><rect x="674" y="167.5" width="4" height="287.5" fill="url(#h197)"/><rect x="678" y="167.5" width="4" height="287.5" fill="url(#h198)"/><rect x="682" y="167.5" width="1" height="287.5" fill="url(#h199)"/><rect x="683" y="167.5" width="1" height="287.5" fill="url(#h200)"/><rect x="684" y="167.5" width="1" height="287.5" fill="url(#h201)"/><rect x="685" y="167.5" width="2" height="287.5" fill="url(#h202)"/><rect x="687" y="167.5" width="1" height="287.5" fill="url(#h203)"/><rect x="688" y="167.5" width="1" height="287.5" fill="url(#h204)"/><rect x="689" y="167.5" width="1" height="287.5" fill="url(#h205)"/><rect x="690" y="167.5" width="2" height="287.5" fill="url(#h206)"/><rect x="692" y="167.5" width="1" height="287.5" fill="url(#h207)"/><rect x="693" y="167.5" width="1" height="287.5" fill="url(#h208)"/><rect x="694" y="167.5" width="1" height="287.5" fill="url(#h209)"/><rect x="695" y="167.5" width="1" height="287.5" fill="url(#h210)"/><rect x="696" y="167.5" width="2" height="287.5" fill="url(#h211)"/><rect x="698" y="167.5" width="2" height="287.5" fill="url(#h212)"/><rect x="700" y="167.5" width="1" height="287.5" fill="url(#h213)"/><rect x="701" y="167.5" width="1" height="287.5" fill="url(#h214)"/><rect x="702" y="167.5" width="1" height="287.5" fill="url(#h215)"/><rect x="703" y="167.5" width="1" height="287.5" fill="url(#h216)"/><rect x="704" y="167.5" width="2" height="287.5" fill="url(#h217)"/><rect x="706" y="167.5" width="1" height="287.5" fill="url(#h218)"/><rect x="707" y="167.5" width="4" height="287.5" fill="url(#h219)"/><rect x="711" y="167.5" width="4" height="287.5" fill="url(#h220)"/><rect x="715" y="167.5" width="4" height="287.5" fill="url(#h221)"/><rect x="719" y="167.5" width="2" height="287.5" fill="url(#h222)"/><rect x="721" y="167.5" width="1" height="287.5" fill="url(#h223)"/><rect x="722" y="167.5" width="1" height="287.5" fill="url(#h224)"/><rect x="723" y="167.5" width="2" height="287.5" fill="url(#h225)"/><rect x="725" y="167.5" width="3" height="287.5" fill="url(#h226)"/><rect x="728" y="167.5" width="1" height="287.5" fill="url(#h227)"/><rect x="729" y="167.5" width="2" height="287.5" fill="url(#h228)"/><rect x="731" y="167.5" width="4" height="287.5" fill="url(#h229)"/><rect x="735" y="167.5" width="1" height="287.5" fill="url(#h230)"/><rect x="736" y="167.5" width="1" height="287.5" fill="url(#h231)"/><rect x="737" y="167.5" width="1" height="287.5" fill="url(#h232)"/><rect x="738" y="167.5" width="1" height="287.5" fill="url(#h233)"/><rect x="739" y="167.5" width="2" height="287.5" fill="url(#h234)"/><rect x="741" y="167.5" width="4" height="287.5" fill="url(#h235)"/><rect x="745" y="167.5" width="1" height="287.5" fill="url(#h236)"/><rect x="746" y="167.5" width="1" height="287.5" fill="url(#h237)"/><rect x="747" y="167.5" width="4" height="287.5" fill="url(#h238)"/><rect x="751" y="167.5" width="4" height="287.5" fill="url(#h239)"/><rect x="755" y="167.5" width="4" height="287.5" fill="url(#h240)"/><rect x="759" y="167.5" width="1" height="287.5" fill="url(#h241)"/><rect x="760" y="167.5" width="2" height="287.5" fill="url(#h242)"/><rect x="762" y="167.5" width="4" height="287.5" fill="url(#h243)"/><rect x="766" y="167.5" width="4" height="287.5" fill="url(#h244)"/><rect x="770" y="167.5" width="4" height="287.5" fill="url(#h245)"/><rect x="774" y="167.5" width="3" height="287.5" fill="url(#h246)"/><rect x="777" y="167.5" width="3" height="287.5" fill="url(#h247)"/><rect x="780" y="167.5" width="4" height="287.5" fill="url(#h248)"/><rect x="784" y="167.5" width="3" height="287.5" fill="url(#h249)"/><rect x="787" y="167.5" width="2" height="287.5" fill="url(#h250)"/><rect x="789" y="167.5" width="2" height="287.5" fill="url(#h251)"/><rect x="791" y="167.5" width="1" height="287.5" fill="url(#h252)"/><rect x="792" y="167.5" width="1" height="287.5" fill="url(#h253)"/><rect x="793" y="167.5" width="2" height="287.5" fill="url(#h254)"/><rect x="795" y="167.5" width="1" height="287.5" fill="url(#h255)"/><rect x="796" y="167.5" width="1" height="287.5" fill="url(#h256)"/><rect x="797" y="167.5" width="3" height="287.5" fill="url(#h257)"/><rect x="800" y="167.5" width="4" height="287.5" fill="url(#h258)"/><rect x="804" y="167.5" width="4" height="287.5" fill="url(#h259)"/><rect x="808" y="167.5" width="3" height="287.5" fill="url(#h260)"/><rect x="811" y="167.5" width="1" height="287.5" fill="url(#h261)"/><rect x="812" y="167.5" width="1" height="287.5" fill="url(#h262)"/><rect x="813" y="167.5" width="1" height="287.5" fill="url(#h263)"/><rect x="814" y="167.5" width="1" height="287.5" fill="url(#h264)"/><rect x="815" y="167.5" width="1" height="287.5" fill="url(#h265)"/><rect x="816" y="167.5" width="1" height="287.5" fill="url(#h266)"/><rect x="817" y="167.5" width="1" height="287.5" fill="url(#h267)"/><rect x="818" y="167.5" width="1" height="287.5" fill="url(#h268)"/><rect x="819" y="167.5" width="1" height="287.5" fill="url(#h269)"/><rect x="820" y="167.5" width="1" height="287.5" fill="url(#h270)"/><rect x="821" y="167.5" width="1" height="287.5" fill="url(#h271)"/><rect x="822" y="167.5" width="1" height="287.5" fill="url(#h272)"/><rect x="823" y="167.5" width="1" height="287.5" fill="url(#h273)"/><rect x="824" y="167.5" width="1" height="287.5" fill="url(#h274)"/><rect x="825" y="167.5" width="1" height="287.5" fill="url(#h275)"/><rect x="826" y="167.5" width="1" height="287.5" fill="url(#h276)"/><rect x="827" y="167.5" width="1" height="287.5" fill="url(#h277)"/><rect x="828" y="167.5" width="3" height="287.5" fill="url(#h278)"/><rect x="831" y="167.5" width="3" height="287.5" fill="url(#h279)"/><rect x="834" y="167.5" width="3" height="287.5" fill="url(#h280)"/><rect x="837" y="167.5" width="3" height="287.5" fill="url(#h281)"/><rect x="840" y="167.5" width="3" height="287.5" fill="url(#h282)"/><rect x="843" y="167.5" width="4" height="287.5" fill="url(#h283)"/><rect x="847" y="167.5" width="4" height="287.5" fill="url(#h284)"/><rect x="851" y="167.5" width="4" height="287.5" fill="url(#h285)"/><rect x="855" y="167.5" width="4" height="287.5" fill="url(#h286)"/><rect x="859" y="167.5" width="4" height="287.5" fill="url(#h287)"/><rect x="863" y="167.5" width="4" height="287.5" fill="url(#h288)"/><rect x="867" y="167.5" width="4" height="287.5" fill="url(#h289)"/><rect x="871" y="167.5" width="4" height="287.5" fill="url(#h290)"/><rect x="875" y="167.5" width="4" height="287.5" fill="url(#h291)"/><rect x="879" y="167.5" width="4" height="287.5" fill="url(#h292)"/><rect x="883" y="167.5" width="4" height="287.5" fill="url(#h293)"/><rect x="887" y="167.5" width="4" height="287.5" fill="url(#h294)"/><rect x="891" y="167.5" width="4" height="287.5" fill="url(#h295)"/><rect x="895" y="167.5" width="4" height="287.5" fill="url(#h296)"/><rect x="899" y="167.5" width="4" height="287.5" fill="url(#h297)"/><rect x="903" y="167.5" width="4" height="287.5" fill="url(#h298)"/><rect x="907" y="167.5" width="4" height="287.5" fill="url(#h299)"/><rect x="911" y="167.5" width="3" height="287.5" fill="url(#h300)"/></g>
<text x="888" y="422.3" font-size="62.4" fill="#000" fill-opacity="0.2" transform="rotate(-90 888 422.3)">Forecast</text>
<path d="M825.5 455V110" stroke="#000" stroke-width="3" stroke-dasharray="2.9 4.46" stroke-dashoffset="0.6" fill="none"/>
<path d="M200 397.5h5M914 397.5h-5M200 340.5h5M914 340.5h-5M200 282.5h5M914 282.5h-5M200 225.5h5M914 225.5h-5M200 167.5h5M914 167.5h-5" stroke="#000" stroke-width="1.1" fill="none"/>
<path d="M248.5 455v-5M338.5 455v-5M427.5 455v-5M516.5 455v-5M605.5 455v-5M695.5 455v-5M784.5 455v-5M873.5 455v-5" stroke="#000" stroke-width="1.1" fill="none"/>
<path d="M200 110V455M200 110H914" stroke="#000" stroke-width="2" fill="none" stroke-linecap="square"/>
<path d="M914 110V455" stroke="#000" stroke-width="2" fill="none" stroke-linecap="butt"/>
<path d="M200 110H914M200 455H914" stroke="#000" stroke-width="2" fill="none" stroke-linecap="square"/>
<text x="195" y="462.5" font-size="19.44" text-anchor="end" fill="#000">2</text>
<text x="195" y="405" font-size="19.44" text-anchor="end" fill="#000">3</text>
<text x="195" y="347.5" font-size="19.44" text-anchor="end" fill="#000">4</text>
<text x="195" y="290" font-size="19.44" text-anchor="end" fill="#000">5</text>
<text x="195" y="232.5" font-size="19.44" text-anchor="end" fill="#000">6</text>
<text x="195" y="175" font-size="19.44" text-anchor="end" fill="#000">7</text>
<text x="195" y="117.5" font-size="19.44" text-anchor="end" fill="#000">8</text>
<text x="173" y="285.6" font-size="24" text-anchor="middle" fill="#000" transform="rotate(-90 173 285.6)">L*</text>
<text x="557" y="93" font-size="24" text-anchor="middle" fill="#000">2.0 MeV Electron Flux at 88<tspan dy="-9.5" dx="3.6" font-size="18">∘</tspan><tspan dy="9.5" dx="4.6"> pitch angle </tspan>( cm<tspan dy="-8.88" font-size="16.8">−2</tspan><tspan dy="8.88" dx="5">s</tspan><tspan dy="-8.88" font-size="16.8">−1</tspan><tspan dy="8.88" dx="5">sr</tspan><tspan dy="-8.88" font-size="16.8">−1</tspan><tspan dy="8.88" dx="5">KeV</tspan><tspan dy="-8.88" font-size="16.8">−1</tspan><tspan dy="8.88" dx="0.8"> )</tspan></text>
<rect x="959" y="110" width="17" height="345" fill="url(#jet)"/>
<text x="987.7" y="463" font-size="19.44" text-anchor="start" fill="#000">10<tspan dy="-7.78" dx="0.9" font-size="14">−3</tspan></text>
<text x="987.7" y="405.5" font-size="19.44" text-anchor="start" fill="#000">10<tspan dy="-7.78" dx="0.9" font-size="14">−2</tspan></text>
<text x="987.7" y="348" font-size="19.44" text-anchor="start" fill="#000">10<tspan dy="-7.78" dx="0.9" font-size="14">−1</tspan></text>
<text x="987.7" y="290.5" font-size="19.44" text-anchor="start" fill="#000">10<tspan dy="-7.78" dx="0.9" font-size="14">0</tspan></text>
<text x="987.7" y="233" font-size="19.44" text-anchor="start" fill="#000">10<tspan dy="-7.78" dx="0.9" font-size="14">1</tspan></text>
<text x="987.7" y="175.5" font-size="19.44" text-anchor="start" fill="#000">10<tspan dy="-7.78" dx="0.9" font-size="14">2</tspan></text>
<text x="987.7" y="118" font-size="19.44" text-anchor="start" fill="#000">10<tspan dy="-7.78" dx="0.9" font-size="14">3</tspan></text>
<path d="M976 455.5h5.8M976 437.5h3.3M976 427.5h3.3M976 420.5h3.3M976 414.5h3.3M976 410.5h3.3M976 406.5h3.3M976 403.5h3.3M976 400.5h3.3M976 397.5h5.8M976 380.5h3.3M976 370.5h3.3M976 362.5h3.3M976 357.5h3.3M976 352.5h3.3M976 348.5h3.3M976 345.5h3.3M976 342.5h3.3M976 340.5h5.8M976 322.5h3.3M976 312.5h3.3M976 305.5h3.3M976 299.5h3.3M976 295.5h3.3M976 291.5h3.3M976 288.5h3.3M976 285.5h3.3M976 282.5h5.8M976 265.5h3.3M976 255.5h3.3M976 247.5h3.3M976 242.5h3.3M976 237.5h3.3M976 233.5h3.3M976 230.5h3.3M976 227.5h3.3M976 225.5h5.8M976 207.5h3.3M976 197.5h3.3M976 190.5h3.3M976 184.5h3.3M976 180.5h3.3M976 176.5h3.3M976 173.5h3.3M976 170.5h3.3M976 167.5h5.8M976 150.5h3.3M976 140.5h3.3M976 132.5h3.3M976 127.5h3.3M976 122.5h3.3M976 118.5h3.3M976 115.5h3.3M976 112.5h3.3M976 110.5h5.8" stroke="#000" stroke-width="1.1" fill="none"/>
<rect x="959" y="110" width="17" height="345" fill="none" stroke="#000" stroke-width="2"/>
<rect x="824.75" y="478" width="89.25" height="344" fill="#d3d3d3"/>
<text x="888" y="788.6" font-size="62.4" fill="#000" fill-opacity="0.2" transform="rotate(-90 888 788.6)">Forecast</text>
<path d="M200 656.6C201.63 656.13 206.93 655.03 209.8 653.8C212.67 652.57 215.35 650.03 217.2 649.2C219.05 648.37 218.43 648.4 220.9 648.8C223.37 649.2 228.3 650.98 232 651.6C235.7 652.22 239.4 652.18 243.1 652.5C246.8 652.82 249.27 653.47 254.2 653.5C259.13 653.53 267.45 652.73 272.7 652.7C277.95 652.67 282 653.33 285.7 653.3C289.4 653.27 292.43 653.12 294.9 652.5C297.37 651.88 298.65 651.32 300.5 649.6C302.35 647.88 304.32 643.8 306 642.2C307.68 640.6 308.13 640.18 310.6 640C313.07 639.82 316.02 641.3 320.8 641.1C325.58 640.9 333.75 638.78 339.3 638.8C344.85 638.82 349.78 641.25 354.1 641.2C358.42 641.15 361.5 640.5 365.2 638.5C368.9 636.5 372.6 631.73 376.3 629.2C380 626.67 384.32 625.2 387.4 623.3C390.48 621.4 392.95 618.85 394.8 617.8C396.65 616.75 396.03 616.55 398.5 617C400.97 617.45 406.05 619.45 409.6 620.5C413.15 621.55 417.33 622.95 419.8 623.3C422.27 623.65 422.4 623.28 424.4 622.6C426.4 621.92 428.72 619.48 431.8 619.2C434.88 618.92 439.2 620.4 442.9 620.9C446.6 621.4 449.68 622.17 454 622.2C458.32 622.23 463.25 621.47 468.8 621.1C474.35 620.73 482.37 620.15 487.3 620C492.23 619.85 495.78 620.73 498.4 620.2C501.02 619.67 501.45 618.28 503 616.8C504.55 615.32 506.3 612.28 507.7 611.3C509.1 610.32 508.93 610.45 511.4 610.9C513.87 611.35 518.8 613.53 522.5 614C526.2 614.47 530.22 613.9 533.6 613.7C536.98 613.5 540.07 613.52 542.8 612.8C545.53 612.08 548.18 610.22 550 609.4C551.82 608.58 550.92 607.4 553.7 607.9C556.48 608.4 563 611.75 566.7 612.4C570.4 613.05 572.2 611.65 575.9 611.8C579.6 611.95 585.2 613.12 588.9 613.3C592.6 613.48 592.87 612.5 598.1 612.9C603.33 613.3 612.9 615.72 620.3 615.7C627.7 615.68 636.63 612.98 642.5 612.8C648.37 612.62 651.8 614.23 655.5 614.6C659.2 614.97 658.85 614.27 664.7 615C670.55 615.73 683.5 618.38 690.6 619C697.7 619.62 701.75 618.38 707.3 618.7C712.85 619.02 717.12 621.03 723.9 620.9C730.68 620.77 742.45 618.27 748 617.9C753.55 617.53 753.2 617.92 757.2 618.7C761.2 619.48 766.45 621.43 772 622.6C777.55 623.77 784.33 624.93 790.5 625.7C796.67 626.47 804.98 627.05 809 627.2C813.02 627.35 811.82 627.62 814.6 626.6C817.38 625.58 821.7 622.63 825.7 621.1C829.7 619.57 832.13 618.73 838.6 617.4C845.07 616.07 855.55 614.27 864.5 613.1C873.45 611.93 884.05 611.08 892.3 610.4C900.55 609.72 910.38 609.23 914 609" stroke="#000" stroke-width="2.4" fill="none" stroke-linejoin="round"/>
<path d="M200 491.5h5M914 491.5h-5M200 621.5h5M914 621.5h-5M200 751.5h5M914 751.5h-5M200 582.5h2.8M914 582.5h-2.8M200 559.5h2.8M914 559.5h-2.8M200 543.5h2.8M914 543.5h-2.8M200 530.5h2.8M914 530.5h-2.8M200 520.5h2.8M914 520.5h-2.8M200 511.5h2.8M914 511.5h-2.8M200 504.5h2.8M914 504.5h-2.8M200 497.5h2.8M914 497.5h-2.8M200 712.5h2.8M914 712.5h-2.8M200 689.5h2.8M914 689.5h-2.8M200 673.5h2.8M914 673.5h-2.8M200 660.5h2.8M914 660.5h-2.8M200 650.5h2.8M914 650.5h-2.8M200 641.5h2.8M914 641.5h-2.8M200 634.5h2.8M914 634.5h-2.8M200 627.5h2.8M914 627.5h-2.8M200 819.5h2.8M914 819.5h-2.8M200 803.5h2.8M914 803.5h-2.8M200 790.5h2.8M914 790.5h-2.8M200 780.5h2.8M914 780.5h-2.8M200 771.5h2.8M914 771.5h-2.8M200 764.5h2.8M914 764.5h-2.8M200 757.5h2.8M914 757.5h-2.8" stroke="#000" stroke-width="1.1" fill="none"/>
<path d="M248.5 822v-5M338.5 822v-5M427.5 822v-5M516.5 822v-5M605.5 822v-5M695.5 822v-5M784.5 822v-5M873.5 822v-5" stroke="#000" stroke-width="1.1" fill="none"/>
<path d="M200 478V822M200 478H914" stroke="#000" stroke-width="2" fill="none" stroke-linecap="square"/>
<path d="M914 478V822" stroke="#000" stroke-width="2" fill="none" stroke-linecap="butt"/>
<path d="M200 478H914M200 822H914" stroke="#000" stroke-width="2" fill="none" stroke-linecap="square"/>
<text x="195" y="499.7" font-size="19.44" text-anchor="end" fill="#000">10<tspan dy="-7.78" dx="0.9" font-size="14">−4</tspan></text>
<text x="195" y="629.7" font-size="19.44" text-anchor="end" fill="#000">10<tspan dy="-7.78" dx="0.9" font-size="14">−5</tspan></text>
<text x="195" y="759.7" font-size="19.44" text-anchor="end" fill="#000">10<tspan dy="-7.78" dx="0.9" font-size="14">−6</tspan></text>
<text x="101" y="650" font-size="24" text-anchor="middle" fill="#000" transform="rotate(-90 101 650)">2.0 MeV Electron Flux</text>
<text x="134" y="650" font-size="24" text-anchor="middle" fill="#000" transform="rotate(-90 134 650)">( cm<tspan dy="-8.88" font-size="16.8">−2</tspan><tspan dy="8.88" dx="5">s</tspan><tspan dy="-8.88" font-size="16.8">−1</tspan><tspan dy="8.88" dx="5">sr</tspan><tspan dy="-8.88" font-size="16.8">−1</tspan><tspan dy="8.88" dx="5">KeV</tspan><tspan dy="-8.88" font-size="16.8">−1</tspan><tspan dy="8.88" dx="0.8"> )</tspan></text>
<text x="236" y="580.4" font-size="24" text-anchor="start" fill="#000">Model at L*=2.2</text>
<path d="M226 1017h9V966h-9zM248 1017h9V966h-9zM282 1017h9V966h-9zM349 1017h9V966h-9zM561 1017h9V973h-9zM605 1017h9V966h-9zM650 1017h9V966h-9zM672 1017h9V973h-9zM684 1017h9V973h-9zM717 1017h9V986h-9zM762 1017h9V979h-9zM773 1017h9V1005h-9zM784 1017h9V998h-9zM795 1017h9V973h-9zM806 1017h9V979h-9z" fill="#008000"/>
<path d="M204 1017h9V954h-9zM215 1017h9V941h-9zM237 1017h9V960h-9zM260 1017h9V960h-9zM271 1017h9V960h-9zM293 1017h9V960h-9zM304 1017h9V934h-9zM315 1017h9V954h-9zM327 1017h9V947h-9zM338 1017h9V947h-9zM360 1017h9V947h-9zM371 1017h9V934h-9zM382 1017h9V934h-9zM393 1017h9V928h-9zM405 1017h9V954h-9zM416 1017h9V960h-9zM427 1017h9V934h-9zM438 1017h9V954h-9zM449 1017h9V954h-9zM460 1017h9V947h-9zM472 1017h9V947h-9zM483 1017h9V947h-9zM494 1017h9V954h-9zM516 1017h9V960h-9zM527 1017h9V941h-9zM539 1017h9V947h-9zM550 1017h9V928h-9zM572 1017h9V941h-9zM583 1017h9V960h-9zM594 1017h9V947h-9zM617 1017h9V960h-9zM628 1017h9V947h-9zM639 1017h9V941h-9zM661 1017h9V954h-9zM695 1017h9V960h-9zM706 1017h9V954h-9zM728 1017h9V954h-9zM739 1017h9V947h-9zM750 1017h9V954h-9zM817 1017h9V941h-9zM829 1017h9V941h-9zM840 1017h9V941h-9zM851 1017h9V941h-9zM862 1017h9V941h-9zM873 1017h9V941h-9zM884 1017h9V941h-9zM896 1017h9V941h-9z" fill="#bfbf00"/>
<path d="M505 1017h9V922h-9z" fill="#ff0000"/>
<text x="875.3" y="999.8" font-size="29.8" fill="#000" fill-opacity="0.2" transform="rotate(-90 875.3 999.8)">Forecast</text>
<path d="M825.5 1017V845" stroke="#000" stroke-width="3" stroke-dasharray="2.9 4.46" stroke-dashoffset="0.6" fill="none"/>
<path d="M200 979.5h5M914 979.5h-5M200 941.5h5M914 941.5h-5M200 903.5h5M914 903.5h-5M200 864.5h5M914 864.5h-5" stroke="#000" stroke-width="1.1" fill="none"/>
<text x="247.84" y="1037.4" font-size="19.44" text-anchor="middle" fill="#000">12</text>
<text x="337.09" y="1037.4" font-size="19.44" text-anchor="middle" fill="#000">13</text>
<text x="426.34" y="1037.4" font-size="19.44" text-anchor="middle" fill="#000">14</text>
<text x="515.59" y="1037.4" font-size="19.44" text-anchor="middle" fill="#000">15</text>
<text x="604.84" y="1037.4" font-size="19.44" text-anchor="middle" fill="#000">16</text>
<text x="694.09" y="1037.4" font-size="19.44" text-anchor="middle" fill="#000">17</text>
<text x="783.34" y="1037.4" font-size="19.44" text-anchor="middle" fill="#000">18</text>
<text x="872.59" y="1037.4" font-size="19.44" text-anchor="middle" fill="#000">19</text>
<path d="M248.5 1017v-5M338.5 1017v-5M427.5 1017v-5M516.5 1017v-5M605.5 1017v-5M695.5 1017v-5M784.5 1017v-5M873.5 1017v-5" stroke="#000" stroke-width="1.1" fill="none"/>
<path d="M200 845V1017M200 845H914" stroke="#000" stroke-width="2" fill="none" stroke-linecap="square"/>
<path d="M914 845V1017" stroke="#000" stroke-width="2" fill="none" stroke-linecap="butt"/>
<path d="M200 845H914M200 1017H914" stroke="#000" stroke-width="2" fill="none" stroke-linecap="square"/>
<text x="195" y="1025" font-size="19.44" text-anchor="end" fill="#000">0</text>
<text x="195" y="986.67" font-size="19.44" text-anchor="end" fill="#000">2</text>
<text x="195" y="948.33" font-size="19.44" text-anchor="end" fill="#000">4</text>
<text x="195" y="910" font-size="19.44" text-anchor="end" fill="#000">6</text>
<text x="195" y="871.67" font-size="19.44" text-anchor="end" fill="#000">8</text>
<text x="173" y="935.5" font-size="24" text-anchor="middle" fill="#000" transform="rotate(-90 173 935.5)">Kp</text>
<text x="556.4" y="1066.1" font-size="24" text-anchor="middle" fill="#000">February 2025 (UT)</text>
<rect x="207.5" y="852.5" width="99.5" height="66.5" rx="3" fill="#fff" fill-opacity="0.8" stroke="#ccc" stroke-width="1"/>
<rect x="213" y="859" width="28" height="10" fill="#008000"/>
<text x="252" y="869" font-size="13.9" text-anchor="start" fill="#000">Kp&lt;3</text>
<rect x="213" y="880" width="28" height="10" fill="#bfbf00"/>
<text x="252" y="890" font-size="13.9" text-anchor="start" fill="#000">Kp&lt;5</text>
<rect x="213" y="901" width="28" height="10" fill="#ff0000"/>
<text x="252" y="911" font-size="13.9" text-anchor="start" fill="#000">Kp&gt;=5</text>
<path d="M1205 282H1800" stroke="#000" stroke-width="2" stroke-dasharray="2.08 3.44" fill="none"/>
<path d="M1205.6 280.5L1206.8 281.4L1208.0 270.5L1209.2 274.4L1210.4 271.9L1211.6 276.2L1212.8 275.9L1214.0 274.1L1215.2 271.8L1216.4 268.1L1217.6 273.5L1218.8 262.9L1220.0 262.1L1221.2 259.0L1222.4 264.6L1223.6 270.2L1224.8 271.8L1226.0 268.4L1227.2 276.6L1228.4 276.8L1229.6 267.6L1230.8 266.9L1232.0 276.9L1233.2 270.2L1234.4 265.5L1235.6 271.1L1236.8 268.0L1238.0 272.9L1239.2 274.1L1240.4 273.4L1241.6 275.7L1242.8 277.0L1244.0 272.2L1245.2 273.7L1246.4 281.8L1247.6 274.7L1248.8 274.9L1250.0 276.5L1251.2 273.6L1252.4 271.1L1253.6 261.2L1254.8 263.9L1256.0 252.1L1257.2 258.4L1258.4 261.1L1259.6 258.5L1260.8 262.6L1262.0 265.3L1263.2 272.6L1264.4 274.2L1265.6 277.1L1266.8 285.7L1268.0 286.7L1269.2 282.4L1270.4 279.6L1271.6 265.6L1272.8 267.8L1274.0 262.1L1275.2 267.5L1276.4 270.8L1277.6 276.3L1278.8 278.8L1280.0 281.6L1281.2 294.8L1282.4 294.3L1283.6 291.6L1284.8 300.3L1286.0 294.1L1287.2 294.2L1288.4 289.3L1289.6 288.7L1290.8 290.1L1292.0 291.2L1293.2 297.5L1294.4 293.9L1295.6 299.1L1296.8 293.1L1298.0 288.3L1299.2 274.2L1300.4 277.8L1301.6 264.3L1302.8 263.0L1304.0 260.6L1305.2 273.3L1306.4 284.2L1307.6 291.4L1308.8 288.4L1310.0 283.1L1311.2 282.2L1312.4 269.2L1313.6 283.9L1314.8 274.3L1316.0 278.2L1317.2 280.4L1318.4 288.2L1319.6 275.9L1320.8 280.4L1322.0 277.7L1323.2 274.2L1324.4 274.6L1325.6 280.9L1326.8 278.7L1328.0 276.5L1329.2 266.3L1330.4 265.1L1331.6 258.5L1332.8 262.9L1334.0 272.0L1335.2 272.0L1336.4 268.1L1337.6 269.7L1338.8 275.8L1340.0 270.9L1341.2 285.6L1342.4 285.0L1343.6 269.3L1344.8 263.8L1346.0 267.3L1347.2 273.9L1348.4 286.6L1349.6 281.7L1350.8 287.4L1352.0 288.7L1353.2 294.6L1354.4 292.0L1355.6 289.0L1356.8 293.5L1358.0 287.9L1359.2 288.4L1360.4 299.8L1361.6 298.6L1362.8 291.7L1364.0 302.3L1365.2 302.9L1366.4 293.3L1367.6 298.3L1368.8 292.3L1370.0 286.4L1371.2 284.2L1372.4 271.3L1373.6 282.0L1374.8 281.7L1376.0 284.9L1377.2 277.0L1378.4 286.9L1379.6 285.6L1380.8 289.3L1382.0 291.0L1383.2 279.5L1384.4 264.6L1385.6 256.6L1386.8 271.1L1388.0 271.0L1389.2 279.2L1390.4 262.7L1391.6 260.0L1392.8 263.2L1394.0 273.8L1395.2 290.4L1396.4 283.8L1397.6 290.7L1398.8 278.8L1400.0 282.1L1401.2 286.0L1402.4 275.1L1403.6 283.6L1404.8 272.1L1406.0 276.0L1407.2 272.7L1408.4 274.5L1409.6 288.7L1410.8 281.0L1412.0 281.7L1413.2 280.8L1414.4 280.8L1415.6 285.9L1416.8 281.4L1418.0 283.2L1419.2 293.3L1420.4 290.0L1421.6 288.9L1422.8 293.3L1424.0 285.7L1425.2 288.5L1426.4 278.2L1427.6 286.2L1428.8 286.0L1430.0 290.8L1431.2 274.6L1432.4 275.7L1433.6 271.5L1434.8 259.8L1436.0 276.7L1437.2 283.1L1438.4 291.1L1439.6 280.0L1440.8 289.4L1442.0 280.5L1443.2 277.5L1444.4 272.3L1445.6 282.3L1446.8 274.1L1448.0 276.2L1449.2 274.8L1450.4 272.5L1451.6 280.0L1452.8 274.9L1454.0 278.4L1455.2 279.3L1456.4 265.5L1457.6 274.7L1458.8 277.3L1460.0 290.9L1461.2 286.5L1462.4 279.3L1463.6 277.1L1464.8 285.9L1466.0 271.0L1467.2 277.8L1468.4 266.8L1469.6 262.4L1470.8 261.8L1472.0 273.7L1473.2 269.0L1474.4 276.3L1475.6 280.7L1476.8 280.6L1478.0 284.4L1479.2 284.8L1480.4 287.3L1481.6 286.7L1482.8 287.6L1484.0 282.0L1485.2 287.9L1486.4 288.7L1487.6 279.8L1488.8 286.5L1490.0 283.8L1491.2 287.6L1492.4 285.6L1493.6 284.8L1494.8 286.0L1496.0 278.3L1497.2 281.1L1498.4 284.6L1499.6 282.1L1500.8 280.7L1502.0 283.0L1503.2 283.7L1504.4 282.7L1505.6 285.9L1506.8 282.1L1508.0 285.7L1509.2 289.2L1510.4 290.8L1511.6 293.1L1512.8 288.1L1514.0 294.0L1515.2 291.3L1516.4 294.0L1517.6 287.3L1518.8 294.1L1520.0 292.7L1521.2 290.9L1522.4 289.8L1523.6 291.3L1524.8 291.4L1526.0 291.2L1527.2 290.1L1528.4 290.6L1529.6 291.6L1530.8 293.6L1532.0 291.1L1533.2 287.3L1534.4 287.0L1535.6 286.4L1536.8 280.6L1538.0 280.8L1539.2 277.8L1540.4 271.1L1541.6 271.8L1542.8 273.5L1544.0 276.3L1545.2 275.3L1546.4 275.4L1547.6 276.5L1548.8 275.6L1550.0 280.7L1551.2 283.3L1552.4 277.2L1553.6 271.5L1554.8 271.1L1556.0 268.3L1557.2 264.0L1558.4 263.9L1559.6 264.1L1560.8 262.2L1562.0 269.6L1563.2 270.8L1564.4 272.8L1565.6 272.7L1566.8 279.8L1568.0 274.9L1569.2 279.0L1570.4 282.3L1571.6 271.8L1572.8 275.3L1574.0 273.6L1575.2 276.8L1576.4 276.6L1577.6 280.8L1578.8 274.7L1580.0 279.4L1581.2 276.3L1582.4 280.7L1583.6 278.7L1584.8 282.3L1586.0 284.5L1587.2 288.7L1588.4 281.3L1589.6 284.0L1590.8 284.9L1592.0 286.7L1593.2 282.8L1594.4 277.7L1595.6 277.7L1596.8 266.0L1598.0 279.5L1599.2 278.8L1600.4 278.4L1601.6 285.0L1602.8 277.6L1604.0 279.3L1605.2 286.4L1606.4 287.4L1607.6 283.0L1608.8 281.0L1610.0 281.2L1611.2 273.5L1612.4 273.9L1613.6 275.2L1614.8 262.8L1616.0 273.1L1617.2 269.0L1618.4 279.2L1619.6 289.1L1620.8 299.1L1622.0 294.3L1623.2 297.2L1624.4 294.8L1625.6 295.3L1626.8 292.1L1628.0 279.4L1629.2 275.6L1630.4 268.6L1631.6 266.7L1632.8 269.0L1634.0 272.2L1635.2 279.6L1636.4 276.9L1637.6 269.5L1638.8 278.9L1640.0 281.3L1641.2 270.2L1642.4 273.7L1643.6 277.5L1644.8 291.4L1646.0 293.6L1647.2 297.6L1648.4 296.2L1649.6 297.3L1650.8 295.3L1652.0 292.5L1653.2 296.1L1654.4 292.7L1655.6 289.1L1656.8 292.4L1658.0 295.2L1659.2 295.0L1660.4 293.1L1661.6 281.9L1662.8 288.3L1664.0 296.8L1665.2 298.8L1666.4 296.9L1667.6 297.7L1668.8 283.7L1668.8 287.3L1667.6 308.7L1666.4 312.4L1665.2 313.1L1664.0 314.2L1662.8 311.4L1661.6 300.4L1660.4 311.2L1659.2 314.2L1658.0 313.3L1656.8 309.4L1655.6 304.6L1654.4 307.7L1653.2 310.3L1652.0 315.7L1650.8 314.5L1649.6 312.4L1648.4 312.4L1647.2 317.7L1646.0 315.8L1644.8 311.6L1643.6 300.4L1642.4 304.3L1641.2 295.7L1640.0 298.3L1638.8 303.5L1637.6 297.9L1636.4 295.0L1635.2 300.4L1634.0 295.6L1632.8 299.1L1631.6 287.4L1630.4 292.4L1629.2 294.4L1628.0 302.1L1626.8 306.3L1625.6 308.6L1624.4 316.3L1623.2 317.0L1622.0 311.2L1620.8 312.7L1619.6 313.4L1618.4 309.6L1617.2 297.8L1616.0 304.7L1614.8 303.5L1613.6 293.4L1612.4 300.8L1611.2 304.0L1610.0 302.3L1608.8 299.2L1607.6 301.6L1606.4 307.8L1605.2 301.9L1604.0 302.3L1602.8 300.9L1601.6 296.9L1600.4 305.0L1599.2 302.9L1598.0 294.1L1596.8 291.1L1595.6 295.0L1594.4 303.2L1593.2 312.6L1592.0 308.4L1590.8 307.2L1589.6 303.5L1588.4 306.6L1587.2 302.4L1586.0 305.6L1584.8 306.0L1583.6 297.1L1582.4 306.9L1581.2 301.5L1580.0 294.8L1578.8 296.9L1577.6 295.2L1576.4 297.0L1575.2 300.6L1574.0 297.9L1572.8 292.1L1571.6 301.5L1570.4 298.3L1569.2 302.9L1568.0 297.2L1566.8 298.5L1565.6 294.9L1564.4 294.0L1563.2 286.8L1562.0 280.9L1560.8 277.8L1559.6 281.6L1558.4 279.9L1557.2 280.8L1556.0 284.6L1554.8 291.0L1553.6 292.8L1552.4 294.2L1551.2 292.8L1550.0 303.5L1548.8 297.5L1547.6 304.0L1546.4 298.8L1545.2 294.3L1544.0 296.9L1542.8 291.3L1541.6 293.0L1540.4 297.1L1539.2 294.2L1538.0 299.8L1536.8 300.5L1535.6 305.4L1534.4 306.4L1533.2 312.0L1532.0 308.8L1530.8 314.4L1529.6 311.4L1528.4 306.5L1527.2 307.9L1526.0 313.3L1524.8 311.6L1523.6 313.8L1522.4 310.7L1521.2 312.4L1520.0 310.0L1518.8 306.3L1517.6 308.7L1516.4 304.3L1515.2 307.7L1514.0 304.7L1512.8 304.6L1511.6 301.6L1510.4 304.9L1509.2 304.5L1508.0 299.3L1506.8 295.8L1505.6 294.7L1504.4 295.7L1503.2 296.1L1502.0 294.9L1500.8 297.7L1499.6 299.4L1498.4 301.8L1497.2 301.8L1496.0 301.9L1494.8 302.1L1493.6 300.0L1492.4 302.6L1491.2 300.0L1490.0 300.2L1488.8 303.2L1487.6 303.3L1486.4 305.8L1485.2 308.1L1484.0 306.0L1482.8 309.3L1481.6 308.6L1480.4 316.7L1479.2 308.2L1478.0 307.3L1476.8 303.8L1475.6 313.4L1474.4 307.7L1473.2 302.5L1472.0 287.9L1470.8 285.5L1469.6 281.0L1468.4 292.4L1467.2 301.2L1466.0 312.3L1464.8 308.3L1463.6 314.9L1462.4 317.7L1461.2 320.5L1460.0 312.8L1458.8 309.2L1457.6 314.1L1456.4 305.9L1455.2 307.3L1454.0 317.2L1452.8 303.4L1451.6 307.0L1450.4 310.9L1449.2 298.9L1448.0 298.1L1446.8 304.3L1445.6 299.3L1444.4 308.7L1443.2 302.8L1442.0 310.5L1440.8 313.2L1439.6 308.7L1438.4 308.6L1437.2 318.4L1436.0 300.0L1434.8 299.3L1433.6 297.0L1432.4 305.8L1431.2 307.6L1430.0 315.8L1428.8 314.9L1427.6 314.9L1426.4 317.8L1425.2 316.5L1424.0 315.5L1422.8 315.8L1421.6 316.9L1420.4 310.9L1419.2 319.9L1418.0 311.3L1416.8 312.8L1415.6 305.9L1414.4 318.0L1413.2 311.3L1412.0 307.7L1410.8 313.4L1409.6 308.5L1408.4 315.2L1407.2 314.9L1406.0 303.7L1404.8 310.0L1403.6 303.8L1402.4 306.8L1401.2 317.1L1400.0 308.2L1398.8 309.7L1397.6 313.0L1396.4 314.3L1395.2 305.1L1394.0 303.3L1392.8 292.4L1391.6 291.1L1390.4 291.5L1389.2 298.8L1388.0 308.9L1386.8 305.2L1385.6 282.9L1384.4 294.8L1383.2 308.2L1382.0 319.7L1380.8 319.5L1379.6 317.0L1378.4 309.9L1377.2 306.5L1376.0 304.9L1374.8 306.5L1373.6 313.1L1372.4 307.8L1371.2 304.4L1370.0 312.8L1368.8 324.6L1367.6 322.5L1366.4 325.4L1365.2 328.2L1364.0 321.4L1362.8 326.9L1361.6 327.7L1360.4 327.9L1359.2 317.1L1358.0 313.2L1356.8 313.7L1355.6 312.7L1354.4 311.4L1353.2 314.2L1352.0 320.0L1350.8 313.2L1349.6 317.7L1348.4 303.0L1347.2 310.5L1346.0 302.7L1344.8 290.9L1343.6 309.7L1342.4 308.1L1341.2 304.4L1340.0 317.2L1338.8 302.2L1337.6 303.5L1336.4 309.9L1335.2 300.8L1334.0 304.1L1332.8 293.0L1331.6 287.3L1330.4 299.1L1329.2 299.9L1328.0 292.0L1326.8 297.3L1325.6 298.1L1324.4 311.9L1323.2 310.7L1322.0 307.5L1320.8 306.1L1319.6 310.2L1318.4 318.8L1317.2 304.1L1316.0 308.2L1314.8 304.3L1313.6 310.7L1312.4 305.8L1311.2 300.5L1310.0 310.6L1308.8 314.2L1307.6 315.5L1306.4 302.1L1305.2 300.4L1304.0 292.6L1302.8 296.5L1301.6 292.0L1300.4 304.6L1299.2 304.2L1298.0 312.1L1296.8 310.5L1295.6 319.6L1294.4 313.5L1293.2 315.5L1292.0 313.3L1290.8 303.8L1289.6 313.5L1288.4 314.6L1287.2 311.7L1286.0 319.4L1284.8 318.2L1283.6 317.9L1282.4 314.1L1281.2 307.7L1280.0 303.5L1278.8 305.9L1277.6 299.4L1276.4 297.5L1275.2 288.9L1274.0 292.7L1272.8 288.3L1271.6 291.4L1270.4 299.5L1269.2 299.7L1268.0 310.9L1266.8 307.7L1265.6 300.3L1264.4 299.6L1263.2 297.5L1262.0 291.7L1260.8 286.1L1259.6 276.6L1258.4 284.0L1257.2 280.6L1256.0 271.9L1254.8 281.4L1253.6 279.9L1252.4 295.6L1251.2 300.6L1250.0 303.5L1248.8 295.7L1247.6 304.0L1246.4 302.5L1245.2 295.3L1244.0 294.3L1242.8 289.9L1241.6 297.7L1240.4 296.9L1239.2 293.0L1238.0 285.9L1236.8 288.5L1235.6 287.7L1234.4 292.1L1233.2 297.4L1232.0 291.9L1230.8 293.4L1229.6 296.0L1228.4 291.4L1227.2 298.1L1226.0 304.4L1224.8 296.8L1223.6 295.0L1222.4 290.9L1221.2 296.9L1220.0 291.1L1218.8 300.4L1217.6 290.0L1216.4 292.7L1215.2 299.1L1214.0 297.7L1212.8 303.8L1211.6 303.7L1210.4 303.1L1209.2 305.0L1208.0 302.3L1206.8 296.6L1205.6 297.7Z" fill="#000"/>
<path d="M1205.6 270.3L1206.2 245.0L1206.8 330.0L1207.4 302.9L1208.0 273.7L1208.6 303.3L1209.2 270.2L1209.8 303.9L1210.4 265.3L1211.0 312.0L1211.6 249.0L1212.2 323.3L1212.8 250.0L1213.4 331.0L1214.0 273.6L1214.6 312.8L1215.2 264.4L1215.8 301.0L1216.4 257.1L1217.0 301.6L1217.6 261.7L1218.2 315.8L1218.8 263.1L1219.4 303.6L1220.0 246.4L1220.6 229.0L1221.2 326.0L1221.8 296.5L1222.4 263.1L1223.0 315.0L1223.6 241.7L1224.2 313.3L1224.8 257.5L1225.4 237.0L1226.0 332.0L1226.6 300.1L1227.2 257.4L1227.8 317.1L1228.4 265.5L1229.0 297.7L1229.6 268.8L1230.2 296.5L1230.8 269.5L1231.4 298.3L1232.0 247.0L1232.6 318.0L1233.2 254.4L1233.8 295.8L1234.4 266.4L1235.0 315.5L1235.6 267.8L1236.2 294.6L1236.8 260.3L1237.4 293.3L1238.0 264.5L1238.6 314.7L1239.2 261.0L1239.8 242.0L1240.4 317.0L1241.0 312.6L1241.6 266.0L1242.2 296.5L1242.8 270.9L1243.4 298.9L1244.0 248.5L1244.6 300.0L1245.2 250.0L1245.8 325.0L1246.4 266.4L1247.0 302.8L1247.6 272.6L1248.2 319.4L1248.8 271.0L1249.4 302.8L1250.0 251.0L1250.6 328.0L1251.2 271.3L1251.8 300.9L1252.4 242.6L1253.0 295.4L1253.6 244.8L1254.2 285.5L1254.8 256.5L1255.4 284.6L1256.0 231.0L1256.6 300.0L1257.2 238.0L1257.8 296.3L1258.4 254.5L1259.0 307.7L1259.6 256.4L1260.2 231.0L1260.8 310.0L1261.4 312.4L1262.0 238.1L1262.6 294.7L1263.2 265.2L1263.8 240.0L1264.4 327.0L1265.0 311.7L1265.6 276.5L1266.2 323.7L1266.8 271.3L1267.4 308.6L1268.0 270.0L1268.6 329.0L1269.2 278.7L1269.8 310.0L1270.4 273.5L1271.0 310.5L1271.6 265.7L1272.2 241.0L1272.8 310.0L1273.4 313.2L1274.0 243.4L1274.6 297.8L1275.2 262.9L1275.8 310.2L1276.4 243.0L1277.0 320.0L1277.6 271.8L1278.2 301.5L1278.8 275.7L1279.4 312.5L1280.0 279.7L1280.6 314.6L1281.2 266.1L1281.8 270.0L1282.4 336.0L1283.0 315.7L1283.6 282.7L1284.2 318.0L1284.8 288.6L1285.4 317.2L1286.0 275.0L1286.6 338.0L1287.2 287.5L1287.8 331.2L1288.4 284.0L1289.0 317.0L1289.6 285.2L1290.2 314.2L1290.8 266.0L1291.4 330.0L1292.0 284.5L1292.6 327.1L1293.2 293.1L1293.8 316.1L1294.4 296.3L1295.0 330.0L1295.6 280.0L1296.2 339.0L1296.8 273.9L1297.4 314.1L1298.0 280.1L1298.6 335.6L1299.2 275.4L1299.8 240.0L1300.4 335.0L1301.0 330.6L1301.6 257.6L1302.2 295.7L1302.8 251.5L1303.4 231.0L1304.0 320.0L1304.6 298.1L1305.2 270.7L1305.8 306.4L1306.4 273.8L1307.0 329.6L1307.6 284.8L1308.2 260.0L1308.8 345.0L1309.4 327.3L1310.0 279.2L1310.6 323.2L1311.2 240.0L1311.8 343.0L1312.4 268.4L1313.0 319.9L1313.6 273.4L1314.2 319.9L1314.8 275.9L1315.4 312.7L1316.0 274.5L1316.6 331.9L1317.2 270.8L1317.8 245.0L1318.4 348.0L1319.0 329.6L1319.6 278.0L1320.2 339.1L1320.8 259.4L1321.4 317.6L1322.0 250.0L1322.6 340.0L1323.2 275.2L1323.8 322.2L1324.4 272.7L1325.0 307.3L1325.6 275.3L1326.2 246.0L1326.8 335.0L1327.4 323.8L1328.0 266.8L1328.6 300.7L1329.2 264.3L1329.8 232.0L1330.4 325.0L1331.0 297.0L1331.6 259.6L1332.2 296.5L1332.8 229.0L1333.4 330.0L1334.0 263.5L1334.6 301.1L1335.2 231.4L1335.8 306.3L1336.4 256.9L1337.0 325.4L1337.6 252.6L1338.2 235.0L1338.8 346.0L1339.4 328.3L1340.0 275.5L1340.6 338.6L1341.2 262.6L1341.8 250.0L1342.4 346.0L1343.0 328.8L1343.6 263.1L1344.2 316.5L1344.8 234.0L1345.4 330.0L1346.0 268.8L1346.6 312.6L1347.2 262.9L1347.8 337.9L1348.4 260.3L1349.0 318.5L1349.6 271.3L1350.2 330.7L1350.8 260.0L1351.4 347.0L1352.0 272.8L1352.6 325.1L1353.2 281.1L1353.8 335.8L1354.4 274.7L1355.0 255.0L1355.6 350.0L1356.2 352.1L1356.8 287.1L1357.4 335.5L1358.0 274.4L1358.6 331.3L1359.2 256.0L1359.8 357.0L1360.4 261.4L1361.0 324.1L1361.6 273.6L1362.2 329.0L1362.8 293.4L1363.4 324.9L1364.0 270.0L1364.6 350.0L1365.2 278.3L1365.8 346.7L1366.4 294.5L1367.0 355.1L1367.6 295.4L1368.2 332.5L1368.8 265.0L1369.4 358.0L1370.0 285.8L1370.6 339.9L1371.2 248.3L1371.8 236.0L1372.4 345.0L1373.0 343.9L1373.6 270.4L1374.2 342.8L1374.8 275.6L1375.4 312.4L1376.0 276.2L1376.6 317.4L1377.2 250.0L1377.8 340.0L1378.4 269.1L1379.0 339.5L1379.6 250.0L1380.2 330.0L1380.8 264.6L1381.4 347.3L1382.0 254.9L1382.6 323.2L1383.2 250.0L1383.8 350.0L1384.4 246.7L1385.0 305.1L1385.6 206.0L1386.2 330.0L1386.8 260.0L1387.4 250.0L1388.0 270.5L1388.6 305.8L1389.2 335.0L1389.8 303.6L1390.4 256.8L1391.0 316.0L1391.6 227.0L1392.2 330.0L1392.8 267.7L1393.4 333.4L1394.0 269.1L1394.6 331.5L1395.2 282.1L1395.8 260.0L1396.4 343.0L1397.0 344.9L1397.6 284.1L1398.2 340.1L1398.8 251.0L1399.4 320.3L1400.0 247.5L1400.6 349.3L1401.2 277.9L1401.8 323.5L1402.4 244.2L1403.0 328.4L1403.6 266.7L1404.2 313.5L1404.8 269.4L1405.4 327.9L1406.0 268.2L1406.6 226.8L1407.2 271.4L1407.8 354.1L1408.4 272.3L1409.0 352.6L1409.6 247.5L1410.2 348.0L1410.8 257.0L1411.4 318.3L1412.0 250.7L1412.6 347.6L1413.2 276.2L1413.8 320.1L1414.4 271.0L1415.0 344.2L1415.6 280.9L1416.2 343.0L1416.8 267.3L1417.4 322.3L1418.0 259.3L1418.6 335.6L1419.2 258.6L1419.8 319.7L1420.4 279.5L1421.0 319.0L1421.6 272.2L1422.2 318.4L1422.8 282.5L1423.4 350.5L1424.0 350.9L1424.6 342.8L1425.2 246.7L1425.8 343.1L1426.4 279.6L1427.0 345.9L1427.6 268.8L1428.2 317.5L1428.8 252.8L1429.4 315.2L1430.0 255.5L1430.6 338.0L1431.2 275.5L1431.8 338.2L1432.4 273.4L1433.0 311.5L1433.6 268.4L1434.2 344.7L1434.8 259.7L1435.4 222.8L1436.0 267.9L1436.6 344.8L1437.2 353.3L1437.8 320.5L1438.4 247.5L1439.0 318.4L1439.6 277.9L1440.2 315.0L1440.8 253.5L1441.4 344.8L1442.0 277.9L1442.6 339.5L1443.2 248.3L1443.8 314.1L1444.4 338.2L1445.0 326.6L1445.6 252.7L1446.2 317.8L1446.8 268.8L1447.4 326.0L1448.0 236.4L1448.6 308.4L1449.2 270.7L1449.8 310.4L1450.4 245.5L1451.0 310.0L1451.6 238.0L1452.2 325.2L1452.8 343.0L1453.4 323.1L1454.0 250.7L1454.6 325.4L1455.2 252.1L1455.8 319.8L1456.4 249.5L1457.0 226.8L1457.6 269.5L1458.2 322.2L1458.8 274.7L1459.4 255.5L1460.0 266.1L1460.6 347.7L1461.2 277.3L1461.8 336.0L1462.4 281.2L1463.0 313.5L1463.6 250.3L1464.2 337.6L1464.8 254.7L1465.4 311.0L1466.0 247.8L1466.6 242.7L1467.2 338.2L1467.8 300.8L1468.4 265.0L1469.0 302.5L1469.6 260.8L1470.2 309.6L1470.8 232.4L1471.4 306.9L1472.0 265.8L1472.6 301.2L1473.2 262.9L1473.8 305.1L1474.4 275.9L1475.0 255.5L1475.6 336.6L1476.2 313.8L1476.8 264.3L1477.4 314.6L1478.0 271.1L1478.6 312.5L1479.2 281.0L1479.8 316.8L1480.4 281.1L1481.0 339.8L1481.6 276.7L1482.2 312.8L1482.8 261.8L1483.4 311.4L1484.0 279.5L1484.6 309.4L1485.2 270.3L1485.8 308.0L1486.4 264.4L1487.0 326.6L1487.6 325.5L1488.2 321.6L1488.8 269.0L1489.4 261.8L1490.0 279.6L1490.6 319.3L1491.2 281.4L1491.8 310.4L1492.4 327.1L1493.0 315.4L1493.6 281.1L1494.2 325.1L1494.8 265.8L1495.4 258.6L1496.0 272.5L1496.6 305.2L1497.2 277.1L1497.8 305.0L1498.4 320.7L1499.0 304.9L1499.6 270.1L1500.2 303.1L1500.8 276.9L1501.4 298.9L1502.0 263.4L1502.6 313.8L1503.2 274.8L1503.8 304.3L1504.4 266.4L1505.0 309.6L1505.6 269.3L1506.2 307.6L1506.8 276.2L1507.4 299.9L1508.0 282.0L1508.6 313.3L1509.2 278.0L1509.8 303.3L1510.4 280.2L1511.0 316.8L1511.6 274.6L1512.2 320.7L1512.8 289.1L1513.4 310.0L1514.0 289.6L1514.6 307.3L1515.2 282.6L1515.8 307.8L1516.4 289.5L1517.0 314.2L1517.6 325.5L1518.2 313.8L1518.8 289.7L1519.4 316.0L1520.0 278.9L1520.6 328.7L1521.2 271.4L1521.8 314.6L1522.4 271.9L1523.0 325.1L1523.6 284.6L1524.2 333.4L1524.8 272.7L1525.4 313.2L1526.0 285.7L1526.6 317.1L1527.2 292.1L1527.8 331.0L1528.4 292.3L1529.0 330.2L1529.6 291.8L1530.2 274.6L1530.8 285.6L1531.4 311.7L1532.0 289.4L1532.6 310.6L1533.2 273.5L1533.8 312.4L1534.4 286.5L1535.0 330.2L1535.6 276.0L1536.2 324.5L1536.8 280.2L1537.4 302.5L1538.0 275.2L1538.6 299.2L1539.2 275.0L1539.8 252.3L1540.4 315.9L1541.0 300.4L1541.6 255.0L1542.2 297.4L1542.8 267.7L1543.4 240.3L1544.0 270.1L1544.6 325.5L1545.2 261.7L1545.8 302.5L1546.4 255.5L1547.0 304.3L1547.6 268.3L1548.2 312.7L1548.8 272.6L1549.4 323.9L1550.0 277.3L1550.6 318.5L1551.2 257.9L1551.8 298.0L1552.4 267.0L1553.0 258.6L1553.6 260.5L1554.2 306.4L1554.8 263.9L1555.4 294.1L1556.0 263.8L1556.6 292.3L1557.2 261.3L1557.8 286.9L1558.4 243.5L1559.0 280.0L1559.6 245.3L1560.2 279.0L1560.8 293.6L1561.4 296.9L1562.0 249.1L1562.6 293.1L1563.2 268.6L1563.8 291.9L1564.4 260.0L1565.0 294.5L1565.6 315.9L1566.2 297.9L1566.8 258.6L1567.4 313.7L1568.0 270.4L1568.6 308.6L1569.2 277.5L1569.8 314.2L1570.4 325.5L1571.0 300.9L1571.6 273.7L1572.2 301.3L1572.8 250.7L1573.4 312.8L1574.0 275.8L1574.6 300.6L1575.2 315.9L1575.8 261.8L1576.4 264.7L1577.0 312.2L1577.6 275.8L1578.2 311.3L1578.8 248.3L1579.4 304.4L1580.0 273.5L1580.6 303.6L1581.2 327.1L1581.8 304.3L1582.4 266.2L1583.0 253.9L1583.6 278.3L1584.2 315.0L1584.8 271.1L1585.4 308.1L1586.0 262.8L1586.6 328.6L1587.2 328.7L1587.8 324.8L1588.4 280.5L1589.0 308.9L1589.6 261.8L1590.2 320.8L1590.8 280.8L1591.4 308.9L1592.0 272.2L1592.6 309.1L1593.2 255.5L1593.8 308.3L1594.4 335.0L1595.0 304.9L1595.6 256.9L1596.2 235.6L1596.8 265.9L1597.4 305.7L1598.0 270.8L1598.6 255.5L1599.2 322.3L1599.8 253.9L1600.4 327.1L1601.0 315.9L1601.6 277.6L1602.2 304.6L1602.8 254.6L1603.4 254.7L1604.0 269.2L1604.6 330.2L1605.2 280.7L1605.8 308.9L1606.4 263.7L1607.0 311.4L1607.6 279.1L1608.2 261.8L1608.8 266.6L1609.4 322.3L1610.0 265.6L1610.6 249.1L1611.2 272.3L1611.8 316.8L1612.4 260.7L1613.0 306.3L1613.6 332.6L1614.2 314.5L1614.8 265.9L1615.4 234.0L1616.0 261.7L1616.6 302.1L1617.2 270.5L1617.8 242.7L1618.4 278.2L1619.0 331.8L1619.6 282.4L1620.2 326.0L1620.8 277.7L1621.4 315.6L1622.0 292.4L1622.6 315.3L1623.2 274.3L1623.8 316.3L1624.4 335.8L1625.0 317.5L1625.6 289.3L1626.2 312.7L1626.8 269.0L1627.4 309.3L1628.0 279.7L1628.6 303.5L1629.2 259.2L1629.8 302.7L1630.4 241.1L1631.0 322.3L1631.6 243.3L1632.2 301.9L1632.8 226.0L1633.4 321.0L1634.0 245.2L1634.6 308.0L1635.2 242.7L1635.8 336.6L1636.4 268.9L1637.0 305.2L1637.6 238.0L1638.2 314.6L1638.8 247.9L1639.4 303.3L1640.0 247.5L1640.6 330.2L1641.2 244.3L1641.8 302.3L1642.4 241.1L1643.0 303.7L1643.6 278.1L1644.2 311.2L1644.8 266.6L1645.4 331.8L1646.0 283.9L1646.6 322.4L1647.2 281.4L1647.8 274.6L1648.4 289.7L1649.0 320.3L1649.6 289.6L1650.2 318.8L1650.8 339.8L1651.4 321.5L1652.0 290.5L1652.6 320.2L1653.2 293.5L1653.8 274.6L1654.4 285.0L1655.0 312.2L1655.6 325.5L1656.2 315.9L1656.8 291.1L1657.4 319.4L1658.0 290.1L1658.6 317.8L1659.2 272.0L1659.8 335.8L1660.4 271.4L1661.0 313.9L1661.6 271.9L1662.2 243.5L1662.8 279.0L1663.4 274.6L1664.0 281.3L1664.6 318.3L1665.2 289.9L1665.8 321.1L1666.4 292.8L1667.0 314.9L1667.6 331.0L1668.2 277.7L1668.8 278.9L1670.0 273.6L1670.4 275.3L1670.8 265.8L1671.2 262.4L1671.6 263.1L1672.1 258.9L1672.6 257.3L1673.0 254.3L1673.5 243.5L1673.9 243.5L1674.4 239.1L1674.8 244.7L1675.3 249.3L1675.7 250.6L1676.1 240.2L1676.4 231.8L1676.8 236.6L1677.2 236.0L1677.6 246.9L1678.0 245.9L1678.4 242.6L1678.8 231.3L1679.2 224.2L1679.6 226.6L1680.0 231.5L1680.4 238.2L1680.8 237.7L1681.3 231.7L1681.8 227.1L1682.3 221.5L1682.7 216.7L1683.1 220.7L1683.5 220.2L1683.9 226.3L1684.3 233.1L1684.8 224.9L1685.3 229.0L1685.8 222.8L1686.2 221.2L1686.7 213.0L1687.1 221.9L1687.5 231.5L1687.8 234.7L1688.3 226.6L1688.7 231.6L1689.1 226.7L1689.6 233.2L1690.1 242.5L1690.5 244.5L1690.9 234.9L1691.3 221.8L1691.8 223.2L1692.3 221.0L1692.6 237.2L1692.9 239.5L1693.4 243.3L1693.9 237.5L1694.3 236.2L1694.7 248.9L1695.1 251.5L1695.5 261.4L1695.9 278.2L1696.3 288.1L1696.6 298.7L1697.0 320.8L1697.4 327.8L1697.9 314.3L1698.3 292.6L1698.6 262.1L1699.0 232.0L1699.4 243.3L1699.9 254.9L1700.3 243.7L1700.7 243.9L1701.0 234.0L1701.4 273.9L1701.8 317.5L1702.2 281.6L1702.6 261.5L1703.0 245.7L1703.4 245.0L1703.8 236.2L1704.2 220.2L1704.6 235.7L1705.0 252.7L1705.4 242.7L1705.8 235.3L1706.2 238.9L1706.5 243.7L1706.9 253.9L1707.3 255.0L1707.8 253.2L1708.2 255.0L1708.6 249.9L1709.0 253.0L1709.5 249.4L1709.8 243.0L1710.2 241.5L1710.6 242.9L1711.0 246.1L1711.4 255.5L1711.8 233.1L1712.2 216.7L1712.5 230.0L1712.9 228.7L1713.3 240.2L1713.8 226.2L1714.2 219.9L1714.6 230.1L1714.9 245.6L1715.1 270.9L1715.4 308.2L1715.1 328.1L1714.9 347.3L1715.3 352.0L1715.7 354.0L1716.1 347.5L1716.5 350.0L1716.9 351.4L1717.3 350.3L1717.7 349.3L1718.1 351.9L1718.5 351.2L1718.9 356.9L1719.3 354.3L1719.7 350.8L1720.1 353.4L1720.5 355.2L1720.9 354.2L1721.3 350.5L1721.8 347.8L1722.2 345.5L1722.4 350.0L1722.5 341.0L1722.9 317.7L1723.3 308.8L1723.7 295.7" stroke="#000" stroke-width="2.3" fill="none" stroke-linejoin="round"/>
<path d="M1205.6 270.3L1206.8 269.0L1208.0 264.0L1209.2 262.5L1210.4 265.3L1211.6 267.5L1212.8 272.9L1214.0 266.2L1215.2 267.1L1216.4 262.6L1217.6 265.5L1218.8 264.6L1220.0 262.7L1221.2 260.0L1222.4 260.0L1223.6 263.2L1224.8 262.2L1226.0 259.1L1227.2 264.1L1228.4 262.4L1229.6 259.1L1230.8 259.7L1232.0 256.1L1233.2 257.0L1234.4 260.1L1235.6 261.8L1236.8 261.5L1238.0 262.8L1239.2 261.0L1240.4 263.3L1241.6 264.4L1242.8 265.5L1244.0 266.3L1245.2 267.7L1246.4 270.4L1247.6 270.9L1248.8 273.0L1250.0 272.3L1251.2 275.7L1252.4 274.1L1253.6 277.4L1254.8 279.9L1256.0 277.3L1257.2 282.1L1258.4 282.5L1259.6 281.7L1260.8 285.1L1262.0 285.6L1263.2 286.8L1264.4 286.2L1265.6 286.1L1266.8 286.6L1268.0 287.0L1269.2 289.1L1270.4 289.5L1271.6 288.8L1272.8 284.9L1274.0 284.8L1275.2 285.0L1276.4 282.8L1277.6 283.0L1278.8 286.1L1280.0 285.7L1281.2 285.7L1282.4 265.9L1283.6 283.0L1284.8 292.6L1286.0 300.6L1287.2 294.3L1288.4 293.1L1289.6 288.9L1290.8 290.4L1292.0 285.2L1293.2 290.0L1294.4 294.3L1295.6 299.6L1296.8 299.0L1298.0 298.5L1299.2 297.5L1300.4 294.8L1301.6 293.4L1302.8 294.6L1304.0 295.4L1305.2 294.2L1306.4 295.5L1307.6 293.9L1308.8 294.0L1310.0 291.1L1311.2 291.5L1312.4 290.7L1313.6 290.1L1314.8 292.8L1316.0 290.5L1317.2 292.6L1318.4 293.3L1319.6 292.9L1320.8 292.3L1322.0 291.3L1323.2 291.5L1324.4 293.5L1325.6 291.4L1326.8 290.0L1328.0 292.1L1329.2 291.8L1330.4 291.4L1331.6 288.3L1332.8 287.3L1334.0 289.7L1335.2 287.6L1336.4 287.6L1337.6 289.5L1338.8 287.5L1340.0 279.6L1341.2 278.9L1342.4 274.9L1343.6 274.7L1344.8 272.5L1346.0 274.8L1347.2 272.8L1348.4 273.3L1349.6 273.2L1350.8 272.4L1352.0 272.2L1353.2 275.8L1354.4 274.8L1355.6 280.8L1356.8 278.2L1358.0 281.1L1359.2 276.9L1360.4 271.0L1361.6 277.6L1362.8 280.2L1364.0 284.5L1365.2 287.6L1366.4 285.1L1367.6 286.6L1368.8 286.2L1370.0 285.2L1371.2 282.0L1372.4 283.7L1373.6 279.7L1374.8 281.9L1376.0 283.1L1377.2 284.8L1378.4 282.0L1379.6 281.7L1380.8 281.0L1382.0 283.9L1383.2 280.9L1384.4 283.4L1385.6 278.3L1386.8 278.2L1388.0 280.0L1389.2 277.6L1390.4 278.2L1391.6 275.5L1392.8 271.7L1394.0 274.5L1395.2 271.9L1396.4 273.5L1397.6 274.0L1398.8 274.7L1400.0 272.2L1401.2 269.0L1402.4 269.9L1403.6 268.9L1404.8 269.3L1406.0 264.6L1407.2 266.1L1408.4 265.2L1409.6 264.2L1410.8 267.0L1412.0 271.5L1413.2 276.9L1414.4 278.6L1415.6 278.0L1416.8 275.4L1418.0 274.5L1419.2 272.3L1420.4 276.3L1421.6 273.9L1422.8 274.8L1424.0 273.9L1425.2 272.9L1426.4 267.8L1427.6 263.9L1428.8 264.8L1430.0 266.6L1431.2 267.2L1432.4 265.6L1433.6 266.2L1434.8 264.8L1436.0 263.2L1437.2 259.7L1438.4 261.2L1439.6 260.5L1440.8 258.2L1442.0 257.4L1443.2 260.1L1444.4 258.6L1445.6 260.2L1446.8 259.6L1448.0 262.3L1449.2 263.0L1450.4 263.0L1451.6 262.8L1452.8 264.3L1454.0 264.0L1455.2 267.4L1456.4 262.6L1457.6 262.7L1458.8 259.4L1460.0 259.1L1461.2 256.5L1462.4 258.2L1463.6 256.8L1464.8 255.1L1466.0 248.5L1467.2 245.2L1468.4 243.1L1469.6 240.4L1470.8 241.0L1472.0 241.8L1473.2 239.6L1474.4 237.5L1475.6 236.5L1476.8 240.1L1478.0 235.8L1479.2 235.3L1480.4 237.0L1481.6 244.0L1482.8 242.1L1484.0 243.4L1485.2 240.1L1486.4 232.4L1487.6 240.0L1488.8 236.6L1490.0 232.6L1491.2 234.7L1492.4 235.4L1493.6 231.5L1494.8 233.6L1496.0 232.6L1497.2 232.4L1498.4 231.2L1499.6 235.6L1500.8 234.5L1502.0 244.6L1503.2 232.4L1504.4 233.8L1505.6 234.1L1506.8 241.6L1508.0 250.0L1509.2 251.3L1510.4 253.0L1511.6 254.5L1512.8 255.1L1514.0 254.2L1515.2 254.5L1516.4 251.9L1517.6 251.8L1518.8 255.5L1520.0 255.7L1521.2 255.9L1522.4 250.2L1523.6 253.1L1524.8 252.5L1526.0 251.6L1527.2 247.7L1528.4 253.4L1529.6 248.0L1530.8 243.8L1532.0 250.3L1533.2 260.8L1534.4 262.2L1535.6 260.6L1536.8 261.1L1538.0 260.7L1539.2 261.6L1540.4 261.0L1541.6 263.4L1542.8 265.1L1544.0 261.0L1545.2 262.1L1546.4 260.0L1547.6 258.3L1548.8 259.9L1550.0 259.9L1551.2 262.1L1552.4 262.1L1553.6 264.0L1554.8 263.7L1556.0 261.6L1557.2 263.6L1558.4 260.7L1559.6 260.6L1560.8 261.8L1562.0 259.2L1563.2 261.2L1564.4 261.5L1565.6 260.5L1566.8 262.3L1568.0 264.9L1569.2 266.4L1570.4 268.7L1571.6 267.1L1572.8 269.4L1574.0 267.8L1575.2 267.5L1576.4 270.6L1577.6 271.4L1578.8 269.9L1580.0 272.0L1581.2 269.7L1582.4 266.8L1583.6 265.4L1584.8 267.1L1586.0 267.9L1587.2 264.4L1588.4 268.6L1589.6 269.5L1590.8 267.4L1592.0 268.8L1593.2 271.9L1594.4 267.7L1595.6 269.2L1596.8 267.9L1598.0 258.8L1599.2 265.7L1600.4 268.4L1601.6 273.3L1602.8 273.9L1604.0 276.4L1605.2 279.6L1606.4 278.3L1607.6 278.7L1608.8 278.4L1610.0 277.7L1611.2 277.3L1612.4 278.3L1613.6 278.0L1614.8 276.3L1616.0 275.8L1617.2 276.6L1618.4 276.8L1619.6 277.7L1620.8 277.4L1622.0 279.7L1623.2 280.8L1624.4 278.7L1625.6 278.5L1626.8 277.8L1628.0 279.5L1629.2 280.8L1630.4 280.7L1631.6 280.6L1632.8 279.2L1634.0 280.2L1635.2 278.4L1636.4 279.3L1637.6 280.9L1638.8 281.3L1640.0 279.4L1641.2 280.3L1642.4 283.5L1643.6 283.8L1644.8 284.3L1646.0 283.3L1647.2 286.3L1648.4 285.8L1649.6 280.0L1650.8 264.7L1652.0 284.3L1653.2 282.8L1654.4 279.9L1655.6 281.2L1656.8 279.6L1658.0 285.5L1659.2 279.6L1660.4 277.8L1661.6 278.3L1662.8 283.7L1664.0 285.3L1665.2 285.4L1666.4 288.4L1667.6 287.6L1668.8 287.8L1670.0 287.4L1671.2 285.8L1672.4 284.9L1673.6 285.8L1674.8 283.2L1676.0 279.1L1677.2 278.8L1678.4 279.6L1679.6 277.7L1680.8 277.1L1682.0 277.4L1683.2 277.8L1684.4 278.3L1685.6 280.8L1686.8 284.2L1688.0 284.3L1689.2 285.5L1690.4 285.8L1691.6 285.8L1692.8 286.3L1694.0 286.1L1695.2 285.8L1696.4 285.1L1697.6 284.8L1698.8 285.2L1700.0 286.2L1701.2 287.0L1702.4 289.3L1703.6 290.2L1704.8 290.6L1706.0 290.2L1707.2 290.5L1708.4 292.5L1709.6 292.4L1710.8 292.7L1712.0 291.2L1713.2 289.4L1714.4 288.3L1715.6 288.0L1716.8 286.4L1718.0 285.5L1719.2 285.1L1720.4 284.1L1721.6 284.1L1722.8 284.9L1724.0 283.9L1725.2 283.5L1725.2 288.3L1724.0 288.1L1722.8 287.9L1721.6 287.3L1720.4 287.5L1719.2 287.1L1718.0 288.2L1716.8 289.7L1715.6 289.9L1714.4 291.9L1713.2 294.3L1712.0 295.9L1710.8 297.2L1709.6 296.5L1708.4 296.5L1707.2 295.5L1706.0 295.7L1704.8 295.7L1703.6 295.7L1702.4 296.2L1701.2 295.0L1700.0 293.6L1698.8 294.5L1697.6 292.9L1696.4 291.3L1695.2 291.2L1694.0 291.0L1692.8 290.0L1691.6 288.3L1690.4 288.6L1689.2 288.2L1688.0 287.6L1686.8 287.1L1685.6 285.2L1684.4 283.9L1683.2 283.4L1682.0 284.8L1680.8 284.2L1679.6 286.7L1678.4 285.9L1677.2 287.0L1676.0 289.4L1674.8 292.5L1673.6 301.9L1672.4 300.0L1671.2 300.2L1670.0 298.5L1668.8 298.5L1667.6 298.0L1666.4 298.3L1665.2 295.2L1664.0 293.6L1662.8 295.7L1661.6 292.3L1660.4 292.6L1659.2 295.0L1658.0 299.9L1656.8 300.1L1655.6 293.5L1654.4 293.7L1653.2 295.3L1652.0 297.5L1650.8 291.1L1649.6 296.7L1648.4 297.0L1647.2 297.2L1646.0 296.3L1644.8 296.2L1643.6 296.1L1642.4 297.2L1641.2 294.9L1640.0 297.0L1638.8 293.2L1637.6 293.9L1636.4 293.8L1635.2 290.3L1634.0 292.9L1632.8 292.4L1631.6 292.5L1630.4 289.6L1629.2 291.3L1628.0 291.5L1626.8 289.8L1625.6 289.3L1624.4 287.5L1623.2 289.6L1622.0 288.7L1620.8 286.6L1619.6 284.9L1618.4 284.5L1617.2 283.9L1616.0 285.0L1614.8 284.5L1613.6 285.0L1612.4 283.9L1611.2 284.6L1610.0 285.5L1608.8 285.7L1607.6 288.3L1606.4 289.9L1605.2 290.1L1604.0 292.4L1602.8 285.3L1601.6 283.7L1600.4 279.3L1599.2 283.9L1598.0 282.1L1596.8 282.7L1595.6 286.5L1594.4 285.4L1593.2 283.9L1592.0 284.0L1590.8 279.7L1589.6 279.8L1588.4 277.7L1587.2 279.5L1586.0 281.1L1584.8 278.1L1583.6 279.7L1582.4 280.3L1581.2 282.3L1580.0 279.6L1578.8 278.3L1577.6 279.0L1576.4 276.0L1575.2 274.6L1574.0 275.9L1572.8 276.5L1571.6 275.1L1570.4 276.0L1569.2 275.0L1568.0 273.0L1566.8 272.7L1565.6 272.2L1564.4 270.6L1563.2 267.6L1562.0 267.5L1560.8 268.4L1559.6 269.4L1558.4 271.1L1557.2 273.1L1556.0 275.4L1554.8 273.8L1553.6 272.9L1552.4 273.4L1551.2 270.6L1550.0 269.6L1548.8 271.6L1547.6 270.6L1546.4 271.8L1545.2 274.0L1544.0 273.5L1542.8 278.4L1541.6 273.2L1540.4 272.9L1539.2 270.3L1538.0 269.0L1536.8 267.7L1535.6 267.7L1534.4 271.1L1533.2 270.9L1532.0 267.1L1530.8 270.4L1529.6 268.0L1528.4 271.4L1527.2 269.2L1526.0 266.3L1524.8 269.8L1523.6 268.0L1522.4 267.9L1521.2 269.5L1520.0 266.4L1518.8 268.3L1517.6 267.4L1516.4 267.2L1515.2 266.7L1514.0 265.1L1512.8 265.2L1511.6 263.6L1510.4 262.1L1509.2 261.8L1508.0 257.5L1506.8 253.3L1505.6 249.2L1504.4 249.2L1503.2 247.4L1502.0 269.7L1500.8 250.1L1499.6 251.8L1498.4 251.3L1497.2 247.3L1496.0 249.4L1494.8 249.5L1493.6 246.9L1492.4 249.3L1491.2 249.1L1490.0 248.1L1488.8 252.2L1487.6 250.1L1486.4 251.7L1485.2 255.3L1484.0 257.9L1482.8 260.0L1481.6 259.0L1480.4 256.0L1479.2 253.5L1478.0 253.9L1476.8 250.3L1475.6 248.7L1474.4 249.7L1473.2 251.6L1472.0 252.5L1470.8 252.3L1469.6 254.2L1468.4 253.5L1467.2 257.8L1466.0 260.2L1464.8 264.1L1463.6 264.8L1462.4 265.4L1461.2 264.0L1460.0 266.2L1458.8 270.2L1457.6 272.1L1456.4 278.7L1455.2 279.2L1454.0 277.3L1452.8 275.8L1451.6 272.8L1450.4 271.7L1449.2 272.6L1448.0 268.8L1446.8 268.8L1445.6 267.5L1444.4 267.2L1443.2 266.8L1442.0 266.2L1440.8 267.0L1439.6 273.4L1438.4 277.8L1437.2 276.3L1436.0 280.4L1434.8 279.5L1433.6 282.5L1432.4 279.2L1431.2 284.9L1430.0 281.7L1428.8 281.2L1427.6 282.5L1426.4 287.7L1425.2 286.5L1424.0 288.7L1422.8 286.1L1421.6 288.7L1420.4 289.6L1419.2 288.9L1418.0 288.8L1416.8 289.2L1415.6 288.7L1414.4 290.9L1413.2 289.4L1412.0 288.9L1410.8 287.0L1409.6 286.0L1408.4 282.0L1407.2 285.7L1406.0 282.5L1404.8 280.9L1403.6 281.8L1402.4 281.8L1401.2 281.3L1400.0 283.8L1398.8 285.6L1397.6 284.1L1396.4 281.6L1395.2 285.3L1394.0 285.2L1392.8 286.5L1391.6 288.0L1390.4 293.8L1389.2 295.4L1388.0 292.1L1386.8 293.5L1385.6 293.0L1384.4 294.1L1383.2 297.8L1382.0 297.2L1380.8 298.8L1379.6 298.7L1378.4 301.5L1377.2 297.2L1376.0 301.0L1374.8 295.2L1373.6 297.0L1372.4 295.5L1371.2 299.3L1370.0 295.6L1368.8 295.9L1367.6 298.9L1366.4 295.6L1365.2 295.3L1364.0 293.0L1362.8 293.6L1361.6 287.6L1360.4 287.5L1359.2 289.3L1358.0 294.1L1356.8 291.4L1355.6 293.0L1354.4 293.1L1353.2 293.1L1352.0 288.2L1350.8 288.5L1349.6 285.1L1348.4 287.7L1347.2 287.5L1346.0 285.8L1344.8 290.9L1343.6 291.7L1342.4 291.5L1341.2 290.5L1340.0 294.8L1338.8 299.2L1337.6 298.5L1336.4 297.4L1335.2 297.8L1334.0 299.4L1332.8 301.9L1331.6 302.1L1330.4 302.9L1329.2 300.8L1328.0 303.6L1326.8 302.1L1325.6 304.5L1324.4 304.7L1323.2 302.9L1322.0 301.9L1320.8 304.0L1319.6 302.7L1318.4 304.2L1317.2 303.7L1316.0 301.2L1314.8 303.3L1313.6 301.3L1312.4 303.3L1311.2 300.9L1310.0 301.4L1308.8 305.1L1307.6 305.7L1306.4 306.6L1305.2 304.6L1304.0 307.2L1302.8 303.9L1301.6 303.8L1300.4 302.8L1299.2 304.3L1298.0 303.5L1296.8 303.7L1295.6 305.2L1294.4 302.2L1293.2 299.2L1292.0 301.0L1290.8 297.6L1289.6 301.1L1288.4 301.2L1287.2 304.3L1286.0 309.3L1284.8 305.3L1283.6 306.5L1282.4 293.2L1281.2 305.8L1280.0 300.7L1278.8 299.3L1277.6 296.0L1276.4 296.0L1275.2 298.9L1274.0 299.1L1272.8 300.1L1271.6 298.2L1270.4 299.0L1269.2 297.7L1268.0 296.9L1266.8 295.7L1265.6 297.8L1264.4 294.5L1263.2 295.7L1262.0 293.9L1260.8 294.5L1259.6 293.4L1258.4 295.1L1257.2 294.7L1256.0 294.7L1254.8 291.4L1253.6 293.1L1252.4 287.8L1251.2 290.1L1250.0 287.3L1248.8 286.4L1247.6 281.9L1246.4 280.0L1245.2 275.1L1244.0 271.0L1242.8 270.9L1241.6 269.2L1240.4 269.2L1239.2 268.2L1238.0 266.9L1236.8 268.6L1235.6 267.8L1234.4 266.2L1233.2 263.4L1232.0 267.5L1230.8 274.9L1229.6 275.7L1228.4 279.0L1227.2 275.4L1226.0 274.6L1224.8 274.5L1223.6 279.9L1222.4 280.2L1221.2 278.7L1220.0 277.5L1218.8 278.7L1217.6 276.9L1216.4 280.9L1215.2 279.9L1214.0 279.9L1212.8 281.7L1211.6 280.5L1210.4 281.5L1209.2 278.8L1208.0 277.9L1206.8 279.4L1205.6 279.4Z" fill="#f00"/>
<path d="M1205.6 267.4L1206.2 284.5L1206.8 266.9L1207.4 281.7L1208.0 259.6L1208.6 291.5L1209.2 260.7L1209.8 249.1L1210.4 293.6L1211.0 284.3L1211.6 263.0L1212.2 291.4L1212.8 263.4L1213.4 288.7L1214.0 266.9L1214.6 283.3L1215.2 260.1L1215.8 251.5L1216.4 290.5L1217.0 284.9L1217.6 255.6L1218.2 289.1L1218.8 257.9L1219.4 280.8L1220.0 261.2L1220.6 250.7L1221.2 251.1L1221.8 278.7L1222.4 260.2L1223.0 278.4L1223.6 288.9L1224.2 281.1L1224.8 255.1L1225.4 280.8L1226.0 257.5L1226.6 285.6L1227.2 249.9L1227.8 280.5L1228.4 258.2L1229.0 277.5L1229.6 257.0L1230.2 287.3L1230.8 250.2L1231.4 274.7L1232.0 256.5L1232.6 249.9L1233.2 269.8L1233.8 267.2L1234.4 258.4L1235.0 270.8L1235.6 258.6L1236.2 268.9L1236.8 259.9L1237.4 269.8L1238.0 260.2L1238.6 269.4L1239.2 261.2L1239.8 257.1L1240.4 273.0L1241.0 269.7L1241.6 263.0L1242.2 272.3L1242.8 263.2L1243.4 273.0L1244.0 266.2L1244.6 263.4L1245.2 276.1L1245.8 280.9L1246.4 269.5L1247.0 286.8L1247.6 293.6L1248.2 286.4L1248.8 268.4L1249.4 287.3L1250.0 272.4L1250.6 297.2L1251.2 263.4L1251.8 290.9L1252.4 272.1L1253.0 295.4L1253.6 272.2L1254.2 301.6L1254.8 271.6L1255.4 299.2L1256.0 272.0L1256.6 296.0L1257.2 271.4L1257.8 294.9L1258.4 280.8L1259.0 301.7L1259.6 274.6L1260.2 304.8L1260.8 280.6L1261.4 300.1L1262.0 283.9L1262.6 302.1L1263.2 281.6L1263.8 277.7L1264.4 284.9L1265.0 299.5L1265.6 280.9L1266.2 296.8L1266.8 303.2L1267.4 302.5L1268.0 287.1L1268.6 280.9L1269.2 285.5L1269.8 299.1L1270.4 285.1L1271.0 306.8L1271.6 285.2L1272.2 308.0L1272.8 286.1L1273.4 277.7L1274.0 281.9L1274.6 307.3L1275.2 281.1L1275.8 298.5L1276.4 275.6L1277.0 298.5L1277.6 282.3L1278.2 274.6L1278.8 306.4L1279.4 307.4L1280.0 285.3L1280.6 309.6L1281.2 277.7L1281.8 335.0L1282.4 228.4L1283.0 320.7L1283.6 266.6L1284.2 316.3L1284.8 285.8L1285.4 312.7L1286.0 288.9L1286.6 320.7L1287.2 286.8L1287.8 306.5L1288.4 290.6L1289.0 306.4L1289.6 283.7L1290.2 302.0L1290.8 286.5L1291.4 299.9L1292.0 285.0L1292.6 276.9L1293.2 286.2L1293.8 305.0L1294.4 293.4L1295.0 309.2L1295.6 295.2L1296.2 309.6L1296.8 296.5L1297.4 305.6L1298.0 297.0L1298.6 305.3L1299.2 295.4L1299.8 304.7L1300.4 290.4L1301.0 304.3L1301.6 309.6L1302.2 304.1L1302.8 287.7L1303.4 285.7L1304.0 290.3L1304.6 311.1L1305.2 315.9L1305.8 312.2L1306.4 291.1L1307.0 313.9L1307.6 284.9L1308.2 308.9L1308.8 289.6L1309.4 305.1L1310.0 291.7L1310.6 306.2L1311.2 284.1L1311.8 309.6L1312.4 290.7L1313.0 303.3L1313.6 290.4L1314.2 305.3L1314.8 286.7L1315.4 307.8L1316.0 281.7L1316.6 304.9L1317.2 284.8L1317.8 312.7L1318.4 282.7L1319.0 305.7L1319.6 283.5L1320.2 304.5L1320.8 286.9L1321.4 306.4L1322.0 290.6L1322.6 312.7L1323.2 283.8L1323.8 307.6L1324.4 284.1L1325.0 306.5L1325.6 312.7L1326.2 311.6L1326.8 291.0L1327.4 304.8L1328.0 287.7L1328.6 304.9L1329.2 287.5L1329.8 309.6L1330.4 281.6L1331.0 306.3L1331.6 281.1L1332.2 280.9L1332.8 281.7L1333.4 305.0L1334.0 287.2L1334.6 302.8L1335.2 308.0L1335.8 303.9L1336.4 279.9L1337.0 302.6L1337.6 281.0L1338.2 279.3L1338.8 279.4L1339.4 298.6L1340.0 272.9L1340.6 300.4L1341.2 272.9L1341.8 263.4L1342.4 264.5L1343.0 303.2L1343.6 271.9L1344.2 302.1L1344.8 260.2L1345.4 301.0L1346.0 261.8L1346.6 295.8L1347.2 270.4L1347.8 288.4L1348.4 261.9L1349.0 295.7L1349.6 296.8L1350.2 294.8L1350.8 271.3L1351.4 261.0L1352.0 262.3L1352.6 301.0L1353.2 265.9L1353.8 296.0L1354.4 273.4L1355.0 304.8L1355.6 271.4L1356.2 268.2L1356.8 274.7L1357.4 294.9L1358.0 269.5L1358.6 297.6L1359.2 277.4L1359.8 269.8L1360.4 265.8L1361.0 254.7L1361.6 269.8L1362.2 298.4L1362.8 277.4L1363.4 301.5L1364.0 279.2L1364.6 297.5L1365.2 280.9L1365.8 299.5L1366.4 285.9L1367.0 298.3L1367.6 277.6L1368.2 302.8L1368.8 308.0L1369.4 298.9L1370.0 271.4L1370.6 298.4L1371.2 279.3L1371.8 302.7L1372.4 269.9L1373.0 305.5L1373.6 276.2L1374.2 309.7L1374.8 268.2L1375.4 301.4L1376.0 277.7L1376.6 304.8L1377.2 279.5L1377.8 304.4L1378.4 311.1L1379.0 309.1L1379.6 273.0L1380.2 302.8L1380.8 282.0L1381.4 302.6L1382.0 278.0L1382.6 299.0L1383.2 273.8L1383.8 302.1L1384.4 306.4L1385.0 296.4L1385.6 272.4L1386.2 269.8L1386.8 277.7L1387.4 297.0L1388.0 273.9L1388.6 294.3L1389.2 266.0L1389.8 296.4L1390.4 267.6L1391.0 303.2L1391.6 271.2L1392.2 290.7L1392.8 261.8L1393.4 287.4L1394.0 263.7L1394.6 286.0L1395.2 271.4L1395.8 290.5L1396.4 273.0L1397.0 289.2L1397.6 272.6L1398.2 287.4L1398.8 269.8L1399.4 290.5L1400.0 263.4L1400.6 290.5L1401.2 267.9L1401.8 287.0L1402.4 267.7L1403.0 288.9L1403.6 261.9L1404.2 283.6L1404.8 255.5L1405.4 287.5L1406.0 255.1L1406.6 295.2L1407.2 262.4L1407.8 287.6L1408.4 256.1L1409.0 288.9L1409.6 253.9L1410.2 293.1L1410.8 268.8L1411.4 291.7L1412.0 265.3L1412.6 298.4L1413.2 268.4L1413.8 290.1L1414.4 269.8L1415.0 294.3L1415.6 267.2L1416.2 293.9L1416.8 269.8L1417.4 263.4L1418.0 272.4L1418.6 297.0L1419.2 296.8L1419.8 289.3L1420.4 272.6L1421.0 292.1L1421.6 265.5L1422.2 290.3L1422.8 268.5L1423.4 290.4L1424.0 266.6L1424.6 290.9L1425.2 298.4L1425.8 290.0L1426.4 267.5L1427.0 298.0L1427.6 263.1L1428.2 288.2L1428.8 249.1L1429.4 293.6L1430.0 254.7L1430.6 290.0L1431.2 250.9L1431.8 296.8L1432.4 258.9L1433.0 282.8L1433.6 262.0L1434.2 282.3L1434.8 257.0L1435.4 284.2L1436.0 255.5L1436.6 250.7L1437.2 260.8L1437.8 278.7L1438.4 287.3L1439.0 282.6L1439.6 255.5L1440.2 276.3L1440.8 252.4L1441.4 271.4L1442.0 254.1L1442.6 267.4L1443.2 257.6L1443.8 267.7L1444.4 253.9L1445.0 268.2L1445.6 254.6L1446.2 268.6L1446.8 257.6L1447.4 271.3L1448.0 274.6L1448.6 272.3L1449.2 261.8L1449.8 272.8L1450.4 256.8L1451.0 257.1L1451.6 262.3L1452.2 278.6L1452.8 263.7L1453.4 284.3L1454.0 260.7L1454.6 279.7L1455.2 256.4L1455.8 290.5L1456.4 263.3L1457.0 253.9L1457.6 254.4L1458.2 271.9L1458.8 257.8L1459.4 271.2L1460.0 254.6L1460.6 268.2L1461.2 257.2L1461.8 268.1L1462.4 252.6L1463.0 267.5L1463.6 252.3L1464.2 268.5L1464.8 252.0L1465.4 273.0L1466.0 241.2L1466.6 236.4L1467.2 241.8L1467.8 257.4L1468.4 242.7L1469.0 257.2L1469.6 239.3L1470.2 258.6L1470.8 239.0L1471.4 233.2L1472.0 239.6L1472.6 257.3L1473.2 231.7L1473.8 258.0L1474.4 232.9L1475.0 255.3L1475.6 232.4L1476.2 258.6L1476.8 234.9L1477.4 253.3L1478.0 236.8L1478.6 254.7L1479.2 229.6L1479.8 226.0L1480.4 233.4L1481.0 258.0L1481.6 234.4L1482.2 262.7L1482.8 231.6L1483.4 273.0L1484.0 240.3L1484.6 233.2L1485.2 230.2L1485.8 212.5L1486.4 230.6L1487.0 226.8L1487.6 226.5L1488.2 260.3L1488.8 231.1L1489.4 261.8L1490.0 227.6L1490.6 221.3L1491.2 224.8L1491.8 256.3L1492.4 231.9L1493.0 255.3L1493.6 232.3L1494.2 258.4L1494.8 226.8L1495.4 223.6L1496.0 258.6L1496.6 256.3L1497.2 231.0L1497.8 253.7L1498.4 231.8L1499.0 257.6L1499.6 223.3L1500.2 251.2L1500.8 219.7L1501.4 261.8L1502.0 290.5L1502.6 268.7L1503.2 261.8L1503.8 258.0L1504.4 232.4L1505.0 222.8L1505.6 258.6L1506.2 261.6L1506.8 234.0L1507.4 257.5L1508.0 242.7L1508.6 262.9L1509.2 249.6L1509.8 268.9L1510.4 250.2L1511.0 266.6L1511.6 274.6L1512.2 272.6L1512.8 244.5L1513.4 273.4L1514.0 252.2L1514.6 245.1L1515.2 246.3L1515.8 275.4L1516.4 250.2L1517.0 271.5L1517.6 277.7L1518.2 269.2L1518.8 253.1L1519.4 277.8L1520.0 245.8L1520.6 271.3L1521.2 242.7L1521.8 273.2L1522.4 242.4L1523.0 280.4L1523.6 245.7L1524.2 280.9L1524.8 244.2L1525.4 272.4L1526.0 243.0L1526.6 274.1L1527.2 236.4L1527.8 279.7L1528.4 243.3L1529.0 278.8L1529.6 240.1L1530.2 234.8L1530.8 284.1L1531.4 223.6L1532.0 243.0L1532.6 242.7L1533.2 254.6L1533.8 257.1L1534.4 261.4L1535.0 271.4L1535.6 258.8L1536.2 270.7L1536.8 271.4L1537.4 270.8L1538.0 260.7L1538.6 274.4L1539.2 260.4L1539.8 255.5L1540.4 261.6L1541.0 274.9L1541.6 262.2L1542.2 278.3L1542.8 253.9L1543.4 287.3L1544.0 260.9L1544.6 278.4L1545.2 259.3L1545.8 276.1L1546.4 250.7L1547.0 279.5L1547.6 253.4L1548.2 276.3L1548.8 259.0L1549.4 276.1L1550.0 256.3L1550.6 271.9L1551.2 255.1L1551.8 273.3L1552.4 261.0L1553.0 255.5L1553.6 259.3L1554.2 281.3L1554.8 254.9L1555.4 278.8L1556.0 284.1L1556.6 280.9L1557.2 260.7L1557.8 280.9L1558.4 257.1L1559.0 253.9L1559.6 256.3L1560.2 272.8L1560.8 258.9L1561.4 274.8L1562.0 274.6L1562.6 274.0L1563.2 253.9L1563.8 271.6L1564.4 255.2L1565.0 273.7L1565.6 253.9L1566.2 277.1L1566.8 258.6L1567.4 277.1L1568.0 263.8L1568.6 261.8L1569.2 280.9L1569.8 280.0L1570.4 264.4L1571.0 278.3L1571.6 267.5L1572.2 279.7L1572.8 267.3L1573.4 276.1L1574.0 263.3L1574.6 277.1L1575.2 263.4L1575.8 280.9L1576.4 266.1L1577.0 283.9L1577.6 267.5L1578.2 285.7L1578.8 265.0L1579.4 281.6L1580.0 263.4L1580.6 285.1L1581.2 290.5L1581.8 288.4L1582.4 259.9L1583.0 289.7L1583.6 263.8L1584.2 280.5L1584.8 257.1L1585.4 282.0L1586.0 262.0L1586.6 286.3L1587.2 260.0L1587.8 287.3L1588.4 266.2L1589.0 281.1L1589.6 262.1L1590.2 284.8L1590.8 258.6L1591.4 284.8L1592.0 261.9L1592.6 287.5L1593.2 262.3L1593.8 287.2L1594.4 296.8L1595.0 292.5L1595.6 258.7L1596.2 295.4L1596.8 257.1L1597.4 292.3L1598.0 241.1L1598.6 293.6L1599.2 257.1L1599.8 258.6L1600.4 288.9L1601.0 290.6L1601.6 268.3L1602.2 287.1L1602.8 268.0L1603.4 298.9L1604.0 270.6L1604.6 269.8L1605.2 303.2L1605.8 295.0L1606.4 271.4L1607.0 295.6L1607.6 273.1L1608.2 289.1L1608.8 277.4L1609.4 274.6L1610.0 288.9L1610.6 286.6L1611.2 277.9L1611.8 287.6L1612.4 277.4L1613.0 288.9L1613.6 276.2L1614.2 288.1L1614.8 274.2L1615.4 284.7L1616.0 271.4L1616.6 288.9L1617.2 276.2L1617.8 287.6L1618.4 274.0L1619.0 286.1L1619.6 277.5L1620.2 288.2L1620.8 274.6L1621.4 290.5L1622.0 276.5L1622.6 293.4L1623.2 278.8L1623.8 273.0L1624.4 295.2L1625.0 294.3L1625.6 272.3L1626.2 290.1L1626.8 271.8L1627.4 290.3L1628.0 272.1L1628.6 294.7L1629.2 274.5L1629.8 292.1L1630.4 278.3L1631.0 291.7L1631.6 269.8L1632.2 300.0L1632.8 275.0L1633.4 298.4L1634.0 269.5L1634.6 299.8L1635.2 271.7L1635.8 297.7L1636.4 269.2L1637.0 293.9L1637.6 277.0L1638.2 269.0L1638.8 279.2L1639.4 302.1L1640.0 304.8L1640.6 296.7L1641.2 281.5L1641.8 299.7L1642.4 282.8L1643.0 303.0L1643.6 284.0L1644.2 298.5L1644.8 277.7L1645.4 304.5L1646.0 276.8L1646.6 297.3L1647.2 280.2L1647.8 304.8L1648.4 279.5L1649.0 304.6L1649.6 274.6L1650.2 235.6L1650.8 263.5L1651.4 271.4L1652.0 273.1L1652.6 271.4L1653.2 308.0L1653.8 299.0L1654.4 278.8L1655.0 299.9L1655.6 274.9L1656.2 306.4L1656.8 269.7L1657.4 318.3L1658.0 269.2L1658.6 304.8L1659.2 269.8L1659.8 301.2L1660.4 268.2L1661.0 298.2L1661.6 272.8L1662.2 299.2L1662.8 278.0L1663.4 303.2L1664.0 278.9L1664.6 302.8L1665.2 278.6L1665.8 303.4L1666.4 286.0L1667.0 280.9L1667.6 286.0L1668.2 304.2L1668.8 284.2L1669.4 301.6L1670.0 304.8L1670.6 305.9L1671.2 280.9L1671.8 300.6L1672.4 280.8L1673.0 305.8L1673.6 311.1L1674.2 306.5L1674.8 274.6L1675.4 292.3L1676.0 277.9L1676.6 292.1L1677.2 275.5L1677.8 286.8L1678.4 277.2L1679.0 287.6L1679.6 278.0L1680.2 286.7L1680.8 277.8L1681.4 285.8L1682.0 274.1L1682.6 289.6L1683.2 276.7L1683.8 284.8L1684.4 272.2L1685.0 288.9L1685.6 280.4L1686.2 287.2L1686.8 281.7L1687.4 289.5L1688.0 282.9L1688.6 289.6L1689.2 283.8L1689.8 289.4L1690.4 285.2L1691.0 288.6L1691.6 285.0L1692.2 284.9L1692.8 290.5L1693.4 290.7L1694.0 284.8L1694.6 293.4L1695.2 298.4L1695.8 297.2L1696.4 283.7L1697.0 276.9L1697.6 280.1L1698.2 293.6L1698.8 284.5L1699.4 295.6L1700.0 286.2L1700.6 296.2L1701.2 283.2L1701.8 295.8L1702.4 287.3L1703.0 299.7L1703.6 286.5L1704.2 300.0L1704.8 290.3L1705.4 296.8L1706.0 290.3L1706.6 297.6L1707.2 291.0L1707.8 297.3L1708.4 289.5L1709.0 296.9L1709.6 290.5L1710.2 296.9L1710.8 288.7L1711.4 288.9L1712.0 300.0L1712.6 295.8L1713.2 288.5L1713.8 294.5L1714.4 293.6L1715.0 291.6L1715.6 287.1L1716.2 290.9L1716.8 286.1L1717.4 288.8L1718.0 283.3L1718.6 289.0L1719.2 288.9L1719.8 289.2L1720.4 282.6L1721.0 288.6L1721.6 282.2L1722.2 290.8L1722.8 284.0L1723.4 289.0L1724.0 292.1L1724.6 291.9L1725.2 280.9" stroke="#f00" stroke-width="2.3" fill="none" stroke-linejoin="round"/>
<path d="M1726.5 455V110" stroke="#000" stroke-width="3" stroke-dasharray="2.9 4.46" stroke-dashoffset="0.6" fill="none"/>
<path d="M1205 411.5h5M1205 368.5h5M1205 325.5h5M1205 282.5h5M1205 239.5h5M1205 196.5h5M1205 153.5h5" stroke="#000" stroke-width="1.1" fill="none"/>
<path d="M1800 386.5h-5M1800 317.5h-5M1800 248.5h-5M1800 179.5h-5" stroke="#f00" stroke-width="1.1" fill="none"/>
<path d="M1245.5 455v-5M1320.5 455v-5M1394.5 455v-5M1468.5 455v-5M1543.5 455v-5M1617.5 455v-5M1692.5 455v-5M1766.5 455v-5" stroke="#000" stroke-width="1.1" fill="none"/>
<path d="M1205 110V455M1205 110H1800" stroke="#000" stroke-width="2" fill="none" stroke-linecap="square"/>
<path d="M1800 110V455" stroke="#f00" stroke-width="2" fill="none" stroke-linecap="butt"/>
<path d="M1205 110H1800M1205 455H1800" stroke="#000" stroke-width="2" fill="none" stroke-linecap="square"/>
<path d="M1205 110H1800M1205 455H1800" stroke="#000" stroke-width="2" fill="none" stroke-linecap="square"/>
<text x="1200" y="462.5" font-size="19.44" text-anchor="end" fill="#000">−20</text>
<text x="1200" y="419.38" font-size="19.44" text-anchor="end" fill="#000">−15</text>
<text x="1200" y="376.25" font-size="19.44" text-anchor="end" fill="#000">−10</text>
<text x="1200" y="333.12" font-size="19.44" text-anchor="end" fill="#000">−5</text>
<text x="1200" y="290" font-size="19.44" text-anchor="end" fill="#000">0</text>
<text x="1200" y="246.88" font-size="19.44" text-anchor="end" fill="#000">5</text>
<text x="1200" y="203.75" font-size="19.44" text-anchor="end" fill="#000">10</text>
<text x="1200" y="160.62" font-size="19.44" text-anchor="end" fill="#000">15</text>
<text x="1200" y="117.5" font-size="19.44" text-anchor="end" fill="#000">20</text>
<text x="1805" y="462.5" font-size="19.44" text-anchor="start" fill="#f00">0</text>
<text x="1805" y="393.5" font-size="19.44" text-anchor="start" fill="#f00">200</text>
<text x="1805" y="324.5" font-size="19.44" text-anchor="start" fill="#f00">400</text>
<text x="1805" y="255.5" font-size="19.44" text-anchor="start" fill="#f00">600</text>
<text x="1805" y="186.5" font-size="19.44" text-anchor="start" fill="#f00">800</text>
<text x="1805" y="117.5" font-size="19.44" text-anchor="start" fill="#f00">1000</text>
<text x="1116" y="282.5" font-size="24" text-anchor="middle" fill="#000" transform="rotate(-90 1116 282.5)">IMF Bz</text>
<text x="1146" y="282.5" font-size="24" text-anchor="middle" fill="#000" transform="rotate(-90 1146 282.5)">( nT )</text>
<text x="1880" y="283.5" font-size="24" text-anchor="middle" fill="#f00" transform="rotate(-90 1880 283.5)">SW Velocity</text>
<text x="1913" y="282.5" font-size="24" text-anchor="middle" fill="#f00" transform="rotate(-90 1913 282.5)">( km<tspan dx="4.5">s</tspan><tspan dy="-9.5" font-size="16.8">−1</tspan><tspan dy="9.5" dx="0.8"> )</tspan></text>
<path d="M1205 512H1800" stroke="#000" stroke-width="2" stroke-dasharray="2.08 3.44" fill="none"/>
<path d="M1205.6 662.0L1206.8 662.2L1208.0 661.8L1209.2 654.3L1210.4 652.2L1211.6 659.4L1212.8 665.2L1214.0 667.5L1215.2 666.2L1216.4 664.0L1217.6 653.7L1218.8 670.7L1220.0 668.2L1221.2 665.6L1222.4 659.0L1223.6 675.4L1224.8 660.1L1226.0 662.8L1227.2 658.0L1228.4 648.5L1229.6 641.1L1230.8 645.9L1232.0 639.7L1233.2 647.0L1234.4 649.5L1235.6 651.5L1236.8 652.6L1238.0 653.6L1239.2 655.5L1240.4 657.8L1241.6 662.5L1242.8 661.4L1244.0 661.0L1245.2 667.1L1246.4 678.2L1247.6 687.6L1248.8 678.3L1250.0 672.5L1251.2 672.4L1252.4 699.7L1253.6 692.2L1254.8 706.6L1256.0 711.1L1257.2 713.9L1258.4 702.1L1259.6 701.7L1260.8 703.9L1262.0 709.5L1263.2 708.7L1264.4 700.4L1265.6 712.5L1266.8 686.6L1268.0 692.5L1269.2 696.5L1270.4 704.9L1271.6 703.9L1272.8 695.5L1274.0 698.4L1275.2 698.7L1276.4 709.4L1277.6 691.0L1278.8 683.7L1280.0 679.1L1281.2 639.9L1282.4 605.6L1283.6 596.9L1284.8 599.7L1286.0 638.7L1287.2 670.6L1288.4 672.0L1289.6 668.8L1290.8 682.1L1292.0 693.7L1293.2 689.5L1294.4 691.7L1295.6 696.4L1296.8 699.9L1298.0 699.6L1299.2 697.4L1300.4 708.4L1301.6 706.7L1302.8 699.4L1304.0 701.7L1305.2 698.1L1306.4 693.9L1307.6 692.8L1308.8 691.4L1310.0 691.7L1311.2 706.0L1312.4 716.7L1313.6 721.7L1314.8 714.2L1316.0 698.4L1317.2 674.9L1318.4 676.4L1319.6 681.5L1320.8 675.9L1322.0 671.3L1323.2 663.4L1324.4 675.7L1325.6 668.1L1326.8 669.0L1328.0 678.3L1329.2 681.6L1330.4 689.7L1331.6 681.1L1332.8 674.7L1334.0 672.6L1335.2 674.9L1336.4 661.4L1337.6 674.2L1338.8 662.0L1340.0 676.4L1341.2 669.5L1342.4 675.9L1343.6 667.0L1344.8 668.0L1346.0 656.4L1347.2 664.8L1348.4 655.8L1349.6 645.1L1350.8 653.9L1352.0 656.3L1353.2 637.0L1354.4 647.8L1355.6 650.6L1356.8 633.5L1358.0 653.7L1359.2 647.4L1360.4 654.9L1361.6 642.0L1362.8 649.6L1364.0 636.5L1365.2 650.5L1366.4 656.0L1367.6 668.9L1368.8 644.8L1370.0 669.4L1371.2 671.4L1372.4 690.3L1373.6 692.5L1374.8 679.2L1376.0 682.4L1377.2 689.6L1378.4 683.8L1379.6 685.0L1380.8 684.8L1382.0 674.7L1383.2 670.8L1384.4 684.7L1385.6 662.7L1386.8 646.6L1388.0 658.3L1389.2 627.9L1390.4 640.0L1391.6 632.6L1392.8 614.3L1394.0 613.6L1395.2 611.5L1396.4 615.3L1397.6 625.6L1398.8 629.0L1400.0 640.1L1401.2 637.1L1402.4 651.6L1403.6 651.0L1404.8 655.0L1406.0 640.0L1407.2 640.8L1408.4 655.4L1409.6 658.1L1410.8 642.3L1412.0 651.7L1413.2 648.7L1414.4 641.8L1415.6 644.5L1416.8 659.7L1418.0 661.8L1419.2 664.6L1420.4 662.8L1421.6 660.3L1422.8 663.1L1424.0 651.5L1425.2 653.5L1426.4 660.1L1427.6 665.7L1428.8 668.8L1430.0 672.3L1431.2 663.6L1432.4 680.5L1433.6 669.1L1434.8 675.9L1436.0 659.7L1437.2 665.5L1438.4 655.6L1439.6 649.4L1440.8 657.3L1442.0 662.2L1443.2 666.0L1444.4 675.8L1445.6 672.8L1446.8 678.3L1448.0 674.8L1449.2 662.9L1450.4 665.5L1451.6 661.3L1452.8 657.8L1454.0 668.3L1455.2 649.0L1456.4 654.2L1457.6 647.0L1458.8 647.8L1460.0 646.3L1461.2 645.5L1462.4 659.8L1463.6 645.4L1464.8 657.2L1466.0 656.9L1467.2 655.6L1468.4 656.6L1469.6 647.1L1470.8 657.3L1472.0 648.9L1473.2 648.4L1474.4 652.6L1475.6 653.3L1476.8 663.7L1478.0 650.7L1479.2 656.0L1480.4 662.2L1481.6 663.4L1482.8 650.3L1484.0 643.5L1485.2 650.9L1486.4 654.8L1487.6 638.7L1488.8 647.2L1490.0 643.2L1491.2 656.8L1492.4 642.3L1493.6 648.2L1494.8 644.1L1496.0 650.4L1497.2 648.6L1498.4 655.5L1499.6 666.7L1500.8 670.5L1502.0 661.2L1503.2 673.2L1504.4 671.2L1505.6 682.9L1506.8 681.4L1508.0 678.6L1509.2 674.2L1510.4 680.6L1511.6 682.6L1512.8 672.3L1514.0 677.7L1515.2 687.5L1516.4 682.6L1517.6 681.1L1518.8 682.4L1520.0 687.6L1521.2 684.7L1522.4 698.8L1523.6 698.3L1524.8 701.8L1526.0 696.2L1527.2 701.9L1528.4 694.7L1529.6 694.1L1530.8 689.8L1532.0 689.3L1533.2 683.6L1534.4 684.1L1535.6 685.8L1536.8 686.1L1538.0 685.4L1539.2 685.1L1540.4 678.4L1541.6 683.0L1542.8 685.5L1544.0 687.1L1545.2 671.4L1546.4 683.1L1547.6 679.9L1548.8 677.5L1550.0 682.5L1551.2 678.4L1552.4 688.3L1553.6 688.5L1554.8 675.7L1556.0 684.1L1557.2 684.6L1558.4 662.4L1559.6 661.7L1560.8 653.4L1562.0 650.4L1563.2 649.3L1564.4 653.7L1565.6 653.2L1566.8 652.9L1568.0 656.4L1569.2 655.3L1570.4 656.4L1571.6 659.1L1572.8 658.5L1574.0 662.0L1575.2 661.6L1576.4 669.4L1577.6 674.4L1578.8 679.4L1580.0 690.9L1581.2 705.2L1582.4 706.0L1583.6 718.5L1584.8 696.2L1586.0 701.7L1587.2 704.2L1588.4 688.4L1589.6 692.2L1590.8 701.8L1592.0 682.1L1593.2 707.0L1594.4 712.3L1595.6 704.8L1596.8 696.9L1598.0 710.2L1599.2 709.6L1600.4 703.0L1601.6 683.8L1602.8 694.9L1604.0 665.9L1605.2 676.0L1606.4 586.2L1607.6 585.4L1608.8 584.2L1610.0 583.8L1611.2 585.2L1612.4 585.9L1613.6 582.8L1614.8 585.0L1616.0 582.8L1617.2 582.1L1618.4 582.2L1619.6 584.5L1620.8 582.3L1622.0 584.8L1623.2 597.2L1624.4 627.9L1625.6 626.3L1626.8 625.5L1628.0 640.7L1629.2 644.7L1630.4 643.7L1631.6 671.9L1632.8 667.2L1634.0 662.6L1635.2 651.7L1636.4 657.1L1637.6 671.0L1638.8 646.6L1640.0 649.6L1641.2 670.1L1642.4 653.6L1643.6 662.8L1644.8 653.3L1646.0 681.9L1647.2 674.3L1648.4 661.3L1649.6 669.2L1650.8 683.3L1652.0 663.7L1653.2 660.4L1654.4 667.2L1655.6 664.3L1656.8 661.6L1658.0 660.2L1659.2 682.6L1660.4 671.8L1661.6 664.0L1662.8 692.1L1664.0 684.5L1665.2 688.3L1666.4 692.4L1667.6 688.4L1668.8 702.8L1670.0 707.3L1671.2 712.5L1672.4 705.0L1673.6 712.4L1674.8 717.5L1676.0 719.6L1677.2 687.9L1678.4 678.2L1679.6 673.5L1680.8 666.9L1682.0 601.6L1683.2 596.6L1684.4 597.0L1685.6 596.4L1686.8 596.1L1688.0 596.6L1689.2 598.1L1690.4 598.1L1691.6 599.8L1692.8 601.4L1694.0 597.3L1695.2 597.6L1696.4 593.3L1697.6 595.6L1698.8 596.2L1700.0 597.5L1701.2 599.4L1702.4 598.5L1703.6 599.0L1704.8 597.2L1706.0 597.0L1707.2 599.9L1708.4 596.7L1709.6 600.7L1710.8 598.2L1712.0 593.2L1713.2 590.1L1714.4 587.5L1715.6 587.7L1716.8 586.4L1718.0 586.4L1719.2 585.8L1720.4 586.3L1721.6 585.7L1722.8 584.6L1724.0 584.0L1725.2 583.0L1725.2 591.6L1724.0 591.7L1722.8 590.3L1721.6 590.9L1720.4 590.8L1719.2 591.4L1718.0 590.5L1716.8 592.2L1715.6 592.4L1714.4 592.0L1713.2 595.7L1712.0 604.2L1710.8 605.5L1709.6 609.2L1708.4 611.2L1707.2 608.5L1706.0 611.1L1704.8 611.2L1703.6 610.2L1702.4 610.8L1701.2 610.7L1700.0 610.6L1698.8 608.1L1697.6 608.4L1696.4 605.5L1695.2 607.5L1694.0 608.8L1692.8 609.4L1691.6 607.4L1690.4 607.8L1689.2 604.3L1688.0 604.1L1686.8 602.4L1685.6 602.0L1684.4 601.0L1683.2 601.3L1682.0 609.0L1680.8 743.1L1679.6 761.6L1678.4 758.5L1677.2 763.3L1676.0 785.9L1674.8 778.6L1673.6 765.0L1672.4 773.5L1671.2 784.9L1670.0 781.5L1668.8 760.0L1667.6 765.1L1666.4 764.9L1665.2 772.9L1664.0 752.9L1662.8 757.3L1661.6 760.1L1660.4 762.8L1659.2 750.5L1658.0 744.9L1656.8 772.1L1655.6 757.7L1654.4 762.3L1653.2 760.9L1652.0 742.9L1650.8 768.8L1649.6 746.6L1648.4 746.3L1647.2 746.2L1646.0 742.2L1644.8 745.3L1643.6 763.6L1642.4 762.9L1641.2 738.9L1640.0 759.7L1638.8 767.4L1637.6 762.5L1636.4 743.6L1635.2 761.4L1634.0 748.8L1632.8 755.0L1631.6 754.3L1630.4 748.5L1629.2 742.2L1628.0 730.8L1626.8 715.7L1625.6 701.0L1624.4 668.1L1623.2 631.2L1622.0 590.2L1620.8 592.3L1619.6 589.8L1618.4 590.0L1617.2 591.0L1616.0 592.2L1614.8 593.7L1613.6 592.9L1612.4 591.9L1611.2 591.7L1610.0 593.8L1608.8 593.8L1607.6 595.0L1606.4 594.1L1605.2 747.5L1604.0 769.6L1602.8 774.0L1601.6 763.3L1600.4 770.9L1599.2 776.2L1598.0 766.5L1596.8 766.6L1595.6 765.6L1594.4 773.9L1593.2 769.3L1592.0 750.6L1590.8 751.8L1589.6 748.1L1588.4 754.8L1587.2 762.3L1586.0 753.5L1584.8 758.4L1583.6 764.0L1582.4 762.8L1581.2 745.6L1580.0 728.6L1578.8 717.2L1577.6 706.2L1576.4 688.0L1575.2 675.6L1574.0 673.0L1572.8 670.4L1571.6 672.2L1570.4 672.0L1569.2 673.5L1568.0 672.9L1566.8 673.1L1565.6 669.2L1564.4 669.9L1563.2 670.2L1562.0 676.9L1560.8 674.6L1559.6 691.4L1558.4 709.6L1557.2 730.2L1556.0 746.6L1554.8 735.1L1553.6 737.8L1552.4 745.8L1551.2 731.4L1550.0 733.7L1548.8 740.6L1547.6 744.1L1546.4 737.6L1545.2 725.9L1544.0 723.3L1542.8 727.9L1541.6 732.3L1540.4 719.6L1539.2 729.4L1538.0 723.0L1536.8 727.2L1535.6 719.4L1534.4 733.2L1533.2 729.8L1532.0 754.4L1530.8 752.8L1529.6 767.8L1528.4 776.3L1527.2 758.4L1526.0 754.0L1524.8 768.3L1523.6 768.2L1522.4 762.9L1521.2 772.5L1520.0 772.2L1518.8 759.7L1517.6 771.5L1516.4 765.4L1515.2 773.5L1514.0 752.9L1512.8 744.7L1511.6 729.2L1510.4 738.6L1509.2 732.7L1508.0 731.0L1506.8 728.1L1505.6 717.5L1504.4 713.7L1503.2 731.8L1502.0 714.8L1500.8 729.6L1499.6 704.0L1498.4 702.8L1497.2 690.7L1496.0 680.8L1494.8 672.5L1493.6 690.4L1492.4 690.0L1491.2 693.3L1490.0 700.5L1488.8 695.0L1487.6 707.8L1486.4 706.3L1485.2 699.5L1484.0 694.4L1482.8 700.3L1481.6 703.1L1480.4 703.5L1479.2 695.7L1478.0 704.8L1476.8 706.7L1475.6 705.1L1474.4 693.0L1473.2 697.0L1472.0 684.4L1470.8 683.7L1469.6 685.7L1468.4 684.0L1467.2 687.5L1466.0 690.9L1464.8 685.6L1463.6 692.2L1462.4 687.3L1461.2 702.5L1460.0 690.7L1458.8 702.0L1457.6 698.8L1456.4 702.3L1455.2 708.4L1454.0 719.1L1452.8 706.4L1451.6 710.2L1450.4 710.7L1449.2 723.2L1448.0 717.3L1446.8 718.9L1445.6 736.1L1444.4 721.7L1443.2 715.9L1442.0 723.1L1440.8 719.0L1439.6 705.5L1438.4 701.6L1437.2 704.2L1436.0 712.5L1434.8 720.4L1433.6 719.2L1432.4 717.5L1431.2 713.2L1430.0 710.8L1428.8 705.2L1427.6 700.9L1426.4 704.1L1425.2 688.2L1424.0 702.6L1422.8 704.5L1421.6 700.6L1420.4 719.1L1419.2 703.8L1418.0 713.3L1416.8 708.4L1415.6 698.5L1414.4 704.1L1413.2 709.3L1412.0 710.2L1410.8 698.0L1409.6 707.4L1408.4 699.0L1407.2 695.8L1406.0 689.7L1404.8 702.6L1403.6 695.7L1402.4 683.8L1401.2 693.7L1400.0 686.9L1398.8 659.4L1397.6 659.4L1396.4 662.5L1395.2 660.1L1394.0 645.2L1392.8 662.4L1391.6 701.0L1390.4 708.7L1389.2 709.7L1388.0 731.6L1386.8 717.5L1385.6 737.1L1384.4 732.6L1383.2 739.0L1382.0 731.2L1380.8 737.4L1379.6 756.6L1378.4 760.9L1377.2 766.7L1376.0 750.3L1374.8 753.8L1373.6 757.1L1372.4 758.6L1371.2 738.8L1370.0 758.2L1368.8 735.7L1367.6 747.8L1366.4 715.1L1365.2 718.7L1364.0 712.7L1362.8 693.8L1361.6 692.3L1360.4 711.9L1359.2 714.5L1358.0 701.6L1356.8 708.7L1355.6 704.1L1354.4 706.7L1353.2 725.3L1352.0 720.4L1350.8 695.1L1349.6 688.2L1348.4 692.8L1347.2 698.8L1346.0 702.0L1344.8 704.1L1343.6 715.1L1342.4 709.2L1341.2 714.9L1340.0 717.7L1338.8 712.7L1337.6 717.1L1336.4 718.4L1335.2 730.5L1334.0 720.8L1332.8 726.1L1331.6 717.8L1330.4 729.1L1329.2 727.9L1328.0 722.6L1326.8 721.9L1325.6 714.3L1324.4 719.6L1323.2 716.0L1322.0 735.9L1320.8 737.2L1319.6 754.2L1318.4 751.4L1317.2 748.0L1316.0 772.4L1314.8 763.8L1313.6 780.9L1312.4 749.8L1311.2 735.8L1310.0 711.8L1308.8 708.8L1307.6 716.2L1306.4 718.7L1305.2 728.2L1304.0 733.8L1302.8 737.3L1301.6 741.2L1300.4 744.5L1299.2 740.5L1298.0 754.3L1296.8 742.9L1295.6 749.9L1294.4 737.5L1293.2 743.5L1292.0 727.5L1290.8 709.1L1289.6 698.6L1288.4 690.4L1287.2 689.4L1286.0 672.2L1284.8 658.9L1283.6 657.9L1282.4 663.5L1281.2 714.0L1280.0 746.1L1278.8 752.0L1277.6 759.9L1276.4 758.4L1275.2 760.3L1274.0 761.8L1272.8 769.4L1271.6 754.2L1270.4 759.5L1269.2 758.1L1268.0 762.9L1266.8 761.2L1265.6 760.8L1264.4 769.0L1263.2 768.8L1262.0 755.9L1260.8 755.5L1259.6 745.2L1258.4 756.2L1257.2 761.0L1256.0 753.2L1254.8 751.8L1253.6 744.1L1252.4 757.9L1251.2 744.3L1250.0 734.3L1248.8 738.2L1247.6 738.7L1246.4 720.0L1245.2 713.0L1244.0 695.1L1242.8 681.6L1241.6 681.2L1240.4 677.5L1239.2 673.6L1238.0 672.8L1236.8 670.4L1235.6 674.7L1234.4 668.5L1233.2 668.7L1232.0 676.4L1230.8 669.5L1229.6 675.1L1228.4 697.5L1227.2 701.6L1226.0 707.4L1224.8 717.4L1223.6 716.1L1222.4 727.1L1221.2 720.8L1220.0 733.4L1218.8 708.6L1217.6 701.8L1216.4 701.8L1215.2 706.8L1214.0 729.5L1212.8 741.0L1211.6 736.6L1210.4 727.9L1209.2 709.3L1208.0 708.2L1206.8 716.0L1205.6 705.6Z" fill="#f00" clip-path="url(#cR2)"/>
<path d="M1205.6 630.8L1206.2 735.7L1206.8 627.5L1207.4 751.6L1208.0 653.0L1208.6 762.8L1209.2 653.2L1209.8 614.9L1210.4 637.8L1211.0 771.1L1211.6 655.2L1212.2 736.9L1212.8 777.1L1213.4 748.6L1214.0 658.8L1214.6 738.9L1215.2 656.2L1215.8 630.8L1216.4 644.3L1217.0 717.4L1217.6 723.0L1218.2 734.8L1218.8 648.3L1219.4 742.6L1220.0 654.2L1220.6 775.5L1221.2 632.2L1221.8 736.2L1222.4 627.6L1223.0 731.1L1223.6 629.8L1224.2 726.6L1224.8 623.0L1225.4 754.8L1226.0 620.9L1226.6 712.5L1227.2 642.8L1227.8 710.2L1228.4 631.5L1229.0 697.2L1229.6 614.4L1230.2 613.3L1230.8 700.8L1231.4 696.8L1232.0 635.3L1232.6 676.0L1233.2 628.3L1233.8 687.9L1234.4 647.2L1235.0 637.2L1235.6 684.9L1236.2 686.5L1236.8 645.6L1237.4 688.1L1238.0 641.7L1238.6 679.3L1239.2 653.3L1239.8 737.3L1240.4 653.7L1241.0 686.0L1241.6 646.7L1242.2 683.5L1242.8 697.6L1243.4 698.5L1244.0 646.5L1244.6 707.0L1245.2 657.7L1245.8 726.5L1246.4 660.6L1247.0 744.8L1247.6 781.8L1248.2 769.6L1248.8 671.3L1249.4 780.1L1250.0 672.4L1250.6 635.6L1251.2 675.5L1251.8 788.7L1252.4 789.8L1253.0 781.5L1253.6 682.8L1254.2 778.1L1254.8 689.1L1255.4 681.7L1256.0 694.4L1256.6 766.6L1257.2 684.6L1257.8 776.6L1258.4 690.7L1259.0 656.2L1259.6 667.7L1260.2 794.6L1260.8 680.5L1261.4 798.2L1262.0 692.8L1262.6 771.2L1263.2 675.0L1263.8 662.6L1264.4 671.7L1265.0 812.0L1265.6 654.8L1266.2 800.6L1266.8 685.8L1267.4 800.2L1268.0 673.9L1268.6 643.5L1269.2 670.8L1269.8 775.8L1270.4 799.3L1271.0 801.2L1271.6 664.0L1272.2 806.8L1272.8 694.5L1273.4 662.6L1274.0 661.1L1274.6 782.7L1275.2 821.6L1275.8 778.6L1276.4 682.8L1277.0 810.4L1277.6 656.1L1278.2 646.7L1278.8 808.9L1279.4 769.2L1280.0 643.0L1280.6 634.0L1281.2 611.5L1281.8 548.1L1282.4 723.0L1283.0 711.0L1283.6 587.7L1284.2 712.9L1284.8 565.7L1285.4 545.0L1286.0 624.3L1286.6 634.0L1287.2 653.1L1287.8 710.2L1288.4 664.6L1289.0 707.1L1289.6 664.5L1290.2 728.6L1290.8 675.4L1291.4 733.7L1292.0 664.4L1292.6 777.1L1293.2 682.0L1293.8 657.8L1294.4 659.2L1295.0 778.9L1295.6 688.0L1296.2 779.9L1296.8 664.8L1297.4 756.0L1298.0 693.1L1298.6 669.0L1299.2 781.8L1299.8 764.2L1300.4 672.6L1301.0 755.8L1301.6 687.1L1302.2 756.7L1302.8 695.7L1303.4 742.5L1304.0 821.6L1304.6 738.7L1305.2 681.7L1305.8 737.7L1306.4 685.6L1307.0 720.2L1307.6 680.6L1308.2 716.8L1308.8 622.9L1309.4 716.7L1310.0 685.5L1310.6 724.6L1311.2 694.3L1311.8 751.1L1312.4 692.3L1313.0 678.5L1313.6 820.0L1314.2 780.3L1314.8 680.1L1315.4 786.5L1316.0 686.5L1316.6 769.9L1317.2 654.3L1317.8 629.2L1318.4 629.4L1319.0 800.9L1319.6 663.5L1320.2 758.5L1320.8 668.2L1321.4 749.1L1322.0 658.2L1322.6 763.9L1323.2 640.5L1323.8 630.8L1324.4 748.4L1325.0 747.1L1325.6 662.9L1326.2 728.3L1326.8 640.6L1327.4 742.7L1328.0 644.8L1328.6 732.4L1329.2 670.2L1329.8 731.8L1330.4 788.2L1331.0 757.2L1331.6 650.2L1332.2 759.7L1332.8 664.5L1333.4 734.1L1334.0 655.3L1334.6 729.4L1335.2 622.9L1335.8 730.8L1336.4 625.8L1337.0 765.9L1337.6 653.1L1338.2 749.8L1338.8 663.4L1339.4 730.4L1340.0 634.0L1340.6 734.6L1341.2 663.4L1341.8 735.7L1342.4 649.0L1343.0 724.9L1343.6 657.6L1344.2 736.9L1344.8 800.9L1345.4 741.3L1346.0 653.0L1346.6 715.5L1347.2 651.9L1347.8 713.6L1348.4 650.9L1349.0 705.5L1349.6 624.4L1350.2 716.7L1350.8 636.9L1351.4 732.0L1352.0 614.4L1352.6 747.0L1353.2 773.9L1353.8 589.5L1354.4 595.8L1355.0 765.0L1355.6 589.5L1356.2 763.7L1356.8 604.9L1357.4 759.6L1358.0 640.5L1358.6 732.6L1359.2 627.8L1359.8 733.7L1360.4 621.3L1361.0 710.1L1361.6 634.6L1362.2 732.6L1362.8 635.7L1363.4 733.7L1364.0 635.0L1364.6 725.6L1365.2 589.5L1365.8 735.1L1366.4 590.0L1367.0 794.2L1367.6 643.1L1368.2 761.9L1368.8 591.1L1369.4 813.6L1370.0 639.7L1370.6 767.5L1371.2 661.2L1371.8 791.7L1372.4 637.9L1373.0 634.0L1373.6 649.5L1374.2 799.3L1374.8 644.4L1375.4 767.9L1376.0 645.4L1376.6 788.4L1377.2 665.7L1377.8 816.8L1378.4 660.7L1379.0 777.2L1379.6 576.7L1380.2 791.2L1380.8 651.3L1381.4 772.4L1382.0 640.6L1382.6 772.3L1383.2 639.0L1383.8 747.6L1384.4 634.0L1385.0 741.5L1385.6 617.9L1386.2 736.8L1386.8 617.9L1387.4 589.5L1388.0 634.7L1388.6 748.6L1389.2 601.8L1389.8 738.7L1390.4 777.1L1391.0 711.2L1391.6 573.6L1392.2 723.9L1392.8 609.3L1393.4 665.1L1394.0 678.5L1394.6 660.0L1395.2 608.5L1395.8 660.3L1396.4 617.1L1397.0 571.5L1397.6 572.0L1398.2 672.7L1398.8 688.0L1399.4 684.0L1400.0 611.7L1400.6 716.7L1401.2 577.8L1401.8 694.5L1402.4 611.7L1403.0 573.6L1403.6 639.2L1404.2 729.0L1404.8 610.4L1405.4 772.3L1406.0 614.1L1406.6 707.1L1407.2 624.4L1407.8 573.6L1408.4 638.8L1409.0 722.4L1409.6 578.3L1410.2 743.1L1410.8 608.6L1411.4 608.5L1412.0 572.4L1412.6 717.0L1413.2 629.7L1413.8 720.6L1414.4 570.4L1415.0 735.9L1415.6 738.9L1416.2 720.4L1416.8 637.5L1417.4 739.7L1418.0 617.7L1418.6 572.2L1419.2 619.3L1419.8 737.1L1420.4 572.0L1421.0 746.6L1421.6 626.1L1422.2 734.1L1422.8 644.3L1423.4 712.7L1424.0 645.3L1424.6 702.4L1425.2 721.4L1425.8 566.1L1426.4 628.9L1427.0 715.2L1427.6 654.2L1428.2 565.6L1428.8 654.0L1429.4 725.6L1430.0 575.0L1430.6 739.1L1431.2 635.3L1431.8 576.7L1432.4 650.5L1433.0 754.3L1433.6 660.2L1434.2 749.8L1434.8 640.3L1435.4 732.9L1436.0 632.2L1436.6 718.3L1437.2 637.4L1437.8 733.9L1438.4 614.9L1439.0 745.3L1439.6 640.8L1440.2 722.2L1440.8 627.0L1441.4 747.0L1442.0 655.3L1442.6 763.9L1443.2 568.8L1443.8 773.5L1444.4 777.1L1445.0 740.0L1445.6 573.7L1446.2 630.8L1446.8 629.4L1447.4 769.9L1448.0 645.5L1448.6 766.9L1449.2 649.5L1449.8 763.9L1450.4 622.9L1451.0 621.3L1451.6 761.2L1452.2 724.6L1452.8 652.9L1453.4 730.8L1454.0 567.2L1454.6 732.6L1455.2 630.3L1455.8 572.1L1456.4 797.7L1457.0 619.7L1457.6 638.1L1458.2 713.5L1458.8 648.3L1459.4 708.2L1460.0 570.4L1460.6 729.4L1461.2 636.7L1461.8 565.6L1462.4 632.5L1463.0 725.1L1463.6 634.2L1464.2 698.8L1464.8 640.9L1465.4 769.1L1466.0 644.0L1466.6 702.2L1467.2 644.5L1467.8 718.2L1468.4 562.4L1469.0 707.9L1469.6 560.6L1470.2 715.2L1470.8 634.3L1471.4 713.5L1472.0 574.2L1472.6 711.1L1473.2 568.8L1473.8 719.8L1474.4 649.1L1475.0 721.4L1475.6 639.6L1476.2 732.6L1476.8 625.9L1477.4 576.2L1478.0 646.8L1478.6 707.9L1479.2 570.4L1479.8 725.5L1480.4 635.6L1481.0 734.7L1481.6 649.4L1482.2 627.6L1482.8 643.2L1483.4 767.5L1484.0 616.5L1484.6 736.4L1485.2 602.2L1485.8 709.5L1486.4 605.7L1487.0 733.1L1487.6 626.6L1488.2 713.3L1488.8 738.9L1489.4 730.9L1490.0 623.2L1490.6 618.1L1491.2 618.1L1491.8 718.6L1492.4 630.4L1493.0 710.6L1493.6 627.3L1494.2 690.0L1494.8 631.0L1495.4 618.1L1496.0 700.8L1496.6 714.9L1497.2 625.7L1497.8 564.5L1498.4 623.1L1499.0 562.4L1499.6 647.7L1500.2 725.7L1500.8 658.4L1501.4 767.5L1502.0 658.2L1502.6 630.8L1503.2 639.3L1503.8 752.9L1504.4 666.9L1505.0 749.8L1505.6 669.1L1506.2 740.5L1506.8 643.5L1507.4 751.6L1508.0 654.2L1508.6 756.3L1509.2 664.5L1509.8 567.6L1510.4 567.2L1511.0 752.2L1511.6 627.6L1512.2 770.4L1512.8 793.0L1513.4 761.2L1514.0 633.4L1514.6 618.1L1515.2 820.0L1515.8 773.2L1516.4 575.5L1517.0 817.9L1517.6 627.7L1518.2 816.6L1518.8 570.4L1519.4 781.4L1520.0 677.8L1520.6 773.0L1521.2 639.5L1521.8 799.3L1522.4 643.5L1523.0 812.0L1523.6 687.5L1524.2 814.3L1524.8 661.4L1525.4 780.7L1526.0 691.1L1526.6 806.3L1527.2 651.5L1527.8 792.1L1528.4 650.1L1529.0 820.0L1529.6 674.0L1530.2 790.4L1530.8 570.4L1531.4 787.3L1532.0 677.9L1532.6 572.9L1533.2 669.0L1533.8 572.1L1534.4 660.4L1535.0 761.2L1535.6 642.0L1536.2 572.0L1536.8 656.3L1537.4 751.4L1538.0 670.4L1538.6 751.5L1539.2 650.3L1539.8 637.2L1540.4 653.5L1541.0 742.6L1541.6 820.0L1542.2 751.3L1542.8 665.7L1543.4 568.5L1544.0 637.8L1544.6 570.4L1545.2 670.6L1545.8 752.4L1546.4 672.5L1547.0 776.0L1547.6 777.1L1548.2 774.1L1548.8 654.8L1549.4 576.7L1550.0 638.8L1550.6 773.6L1551.2 674.2L1551.8 575.7L1552.4 574.8L1553.0 750.8L1553.6 639.8L1554.2 765.2L1554.8 576.7L1555.4 754.1L1556.0 789.8L1556.6 773.3L1557.2 662.8L1557.8 740.1L1558.4 656.8L1559.0 640.3L1559.6 573.1L1560.2 691.1L1560.8 691.2L1561.4 572.0L1562.0 649.6L1562.6 681.8L1563.2 642.6L1563.8 679.6L1564.4 637.3L1565.0 637.2L1565.6 684.9L1566.2 674.5L1566.8 651.1L1567.4 681.7L1568.0 644.7L1568.6 570.4L1569.2 649.0L1569.8 678.5L1570.4 654.9L1571.0 569.8L1571.6 751.6L1572.2 679.3L1572.8 655.0L1573.4 568.8L1574.0 653.2L1574.6 681.7L1575.2 661.7L1575.8 697.0L1576.4 665.8L1577.0 702.5L1577.6 577.8L1578.2 717.4L1578.8 667.7L1579.4 576.7L1580.0 677.2L1580.6 747.3L1581.2 686.9L1581.8 762.9L1582.4 697.5L1583.0 665.8L1583.6 818.4L1584.2 781.4L1584.8 691.6L1585.4 782.5L1586.0 674.1L1586.6 808.4L1587.2 669.7L1587.8 637.2L1588.4 644.1L1589.0 769.7L1589.6 646.0L1590.2 776.4L1590.8 541.8L1591.4 808.9L1592.0 685.9L1592.6 779.8L1593.2 602.1L1593.8 794.7L1594.4 685.4L1595.0 777.7L1595.6 597.4L1596.2 820.0L1596.8 660.0L1597.4 777.5L1598.0 690.7L1598.6 665.8L1599.2 812.0L1599.8 653.1L1600.4 808.9L1601.0 775.8L1601.6 680.6L1602.2 811.4L1602.8 634.0L1603.4 820.0L1604.0 663.7L1604.6 578.3L1605.2 815.2L1605.8 726.4L1606.4 579.9L1607.0 600.6L1607.6 584.4L1608.2 595.9L1608.8 580.8L1609.4 595.9L1610.0 581.5L1610.6 596.9L1611.2 580.9L1611.8 597.2L1612.4 578.5L1613.0 578.3L1613.6 599.0L1614.2 598.6L1614.8 580.6L1615.4 594.8L1616.0 581.5L1616.6 595.7L1617.2 579.9L1617.8 595.4L1618.4 578.1L1619.0 576.7L1619.6 597.4L1620.2 592.2L1620.8 582.1L1621.4 592.2L1622.0 595.8L1622.6 616.0L1623.2 587.9L1623.8 575.2L1624.4 608.3L1625.0 706.1L1625.6 581.6L1626.2 715.0L1626.8 579.9L1627.4 747.8L1628.0 600.0L1628.6 823.2L1629.2 597.5L1629.8 764.4L1630.4 597.1L1631.0 769.2L1631.6 586.3L1632.2 788.5L1632.8 641.3L1633.4 811.2L1634.0 603.7L1634.6 813.8L1635.2 633.3L1635.8 812.8L1636.4 573.6L1637.0 778.8L1637.6 649.7L1638.2 788.0L1638.8 594.7L1639.4 803.0L1640.0 595.8L1640.6 768.9L1641.2 597.3L1641.8 766.8L1642.4 631.3L1643.0 584.7L1643.6 612.5L1644.2 770.8L1644.8 648.5L1645.4 790.0L1646.0 599.0L1646.6 818.3L1647.2 625.5L1647.8 823.2L1648.4 655.0L1649.0 823.2L1649.6 644.8L1650.2 774.1L1650.8 573.6L1651.4 776.0L1652.0 627.7L1652.6 804.1L1653.2 639.9L1653.8 602.2L1654.4 602.7L1655.0 770.7L1655.6 626.5L1656.2 775.7L1656.8 634.8L1657.4 568.8L1658.0 634.7L1658.6 776.0L1659.2 609.9L1659.8 772.1L1660.4 611.7L1661.0 773.7L1661.6 617.7L1662.2 823.2L1662.8 672.4L1663.4 627.6L1664.0 823.2L1664.6 775.9L1665.2 661.6L1665.8 790.6L1666.4 669.8L1667.0 815.3L1667.6 687.9L1668.2 595.8L1668.8 662.9L1669.4 780.1L1670.0 673.7L1670.6 781.7L1671.2 691.8L1671.8 806.2L1672.4 664.8L1673.0 665.8L1673.6 679.8L1674.2 795.1L1674.8 689.3L1675.4 823.2L1676.0 665.1L1676.6 659.4L1677.2 638.3L1677.8 781.6L1678.4 654.2L1679.0 599.0L1679.6 637.2L1680.2 767.0L1680.8 616.2L1681.4 594.2L1682.0 823.2L1682.6 602.2L1683.2 596.2L1683.8 602.2L1684.4 570.4L1685.0 605.4L1685.6 593.0L1686.2 592.6L1686.8 593.0L1687.4 603.9L1688.0 594.4L1688.6 604.6L1689.2 608.5L1689.8 610.5L1690.4 594.2L1691.0 608.9L1691.6 594.6L1692.2 594.2L1692.8 616.5L1693.4 610.7L1694.0 594.0L1694.6 610.5L1695.2 590.5L1695.8 618.3L1696.4 587.4L1697.0 579.9L1697.6 619.7L1698.2 618.9L1698.8 591.9L1699.4 616.6L1700.0 586.0L1700.6 612.6L1701.2 594.8L1701.8 589.5L1702.4 619.7L1703.0 616.6L1703.6 592.1L1704.2 612.2L1704.8 595.4L1705.4 619.7L1706.0 589.5L1706.6 614.7L1707.2 589.5L1707.8 612.4L1708.4 589.5L1709.0 615.9L1709.6 589.5L1710.2 619.7L1710.8 591.4L1711.4 608.1L1712.0 611.7L1712.6 584.7L1713.2 584.6L1713.8 595.8L1714.4 584.9L1715.0 595.5L1715.6 584.5L1716.2 592.4L1716.8 585.7L1717.4 594.8L1718.0 586.2L1718.6 593.2L1719.2 583.1L1719.8 594.2L1720.4 585.3L1721.0 592.5L1721.6 581.3L1722.2 595.0L1722.8 581.6L1723.4 591.8L1724.0 579.5L1724.6 595.6L1725.2 580.0" stroke="#f00" stroke-width="2.3" fill="none" stroke-linejoin="round" clip-path="url(#cR2)"/>
<path d="M1206.4 527.5L1207.9 530.6L1211.1 519.5L1214.3 524.3L1217.5 531.3L1222.3 529.7L1229.3 525.9L1235.6 530.6L1238.8 526.8L1242.9 527.5L1250.9 523.6L1257.2 525.2L1263.0 517.9L1266.1 519.5L1269.3 506.8L1272.5 509.3L1276.3 524.3L1279.5 521.1L1282.0 524.3L1285.2 518.6L1287.8 522.7L1291.6 533.8L1294.8 539.2L1297.9 533.2L1301.1 536.0L1304.3 541.8L1309.7 533.8L1312.9 541.8L1316.1 538.6L1320.2 531.6L1325.6 530.0L1328.8 527.5L1332.0 529.1L1335.1 525.2L1338.3 524.3L1341.5 525.2L1344.7 533.8L1347.9 530.6L1351.0 532.9L1353.6 542.4L1356.4 530.6L1359.6 511.6L1362.8 533.2L1365.3 528.4L1368.5 538.6L1371.7 539.5L1374.9 542.7L1378.1 532.2L1381.9 536.4L1387.6 537.0L1390.8 535.4L1394.0 529.1L1398.7 521.1L1400.0 521.1L1403.2 525.2L1406.4 526.5L1409.5 524.9L1412.7 527.5L1415.3 536.0L1418.4 535.4L1421.6 540.8L1425.4 532.2L1428.0 529.1L1430.8 551.9L1433.4 530.6L1436.6 523.6L1440.4 523.3L1443.6 532.2L1447.7 526.8L1452.5 529.1L1456.6 536.0L1459.8 534.5L1463.0 539.5L1466.1 535.4L1468.4 536.0L1471.5 529.1L1475.7 524.3L1477.9 525.2L1480.4 521.7L1483.6 533.8L1487.4 532.2L1491.6 535.4L1495.4 542.4L1499.2 545.6L1502.4 538.0L1505.6 536.0L1508.1 522.7L1511.3 521.1L1514.5 529.7L1517.6 527.5L1521.5 530.6L1525.6 535.4L1528.8 538.0L1533.5 532.9L1538.3 535.4L1543.1 530.6L1546.3 527.5L1551.0 528.4L1555.8 529.7L1559.0 532.2L1562.8 529.7L1566.9 530.6L1571.1 540.2L1573.3 542.7L1576.5 538.0L1579.7 539.5L1582.8 529.1L1587.6 527.5L1594.0 528.4L1598.7 532.2L1600.0 531.6L1603.8 527.5L1609.5 527.5L1613.4 530.6L1617.5 529.7L1619.7 525.9L1622.9 525.2L1626.4 519.5L1629.3 524.3L1632.4 530.6L1636.6 529.1L1641.3 529.1L1645.2 532.2L1649.3 540.2L1654.1 546.5L1657.2 527.5L1660.4 522.1L1663.6 530.6L1667.4 532.9L1670.6 533.8L1673.1 537.3L1676.3 530.6L1679.5 525.2L1684.3 524.9L1688.4 526.5L1692.2 524.9L1697.9 517.9L1701.7 518.6L1706.5 518.6L1711.3 521.1L1715.1 521.7L1719.2 521.1L1722.4 533.2" stroke="#000" stroke-width="2.1" fill="none" stroke-linejoin="round"/>
<path d="M1726.5 822V478" stroke="#000" stroke-width="3" stroke-dasharray="2.9 4.46" stroke-dashoffset="0.6" fill="none"/>
<path d="M1205 512.5h5M1205 581.5h5M1205 650.5h5M1205 718.5h5M1205 787.5h5" stroke="#000" stroke-width="1.1" fill="none"/>
<path d="M1800 736.5h-5M1800 650.5h-5M1800 563.5h-5M1800 796.5h-2.8M1800 781.5h-2.8M1800 770.5h-2.8M1800 762.5h-2.8M1800 755.5h-2.8M1800 749.5h-2.8M1800 744.5h-2.8M1800 740.5h-2.8M1800 710.5h-2.8M1800 695.5h-2.8M1800 684.5h-2.8M1800 675.5h-2.8M1800 669.5h-2.8M1800 663.5h-2.8M1800 658.5h-2.8M1800 653.5h-2.8M1800 624.5h-2.8M1800 608.5h-2.8M1800 598.5h-2.8M1800 589.5h-2.8M1800 582.5h-2.8M1800 577.5h-2.8M1800 572.5h-2.8M1800 567.5h-2.8M1800 537.5h-2.8M1800 522.5h-2.8M1800 511.5h-2.8M1800 503.5h-2.8M1800 496.5h-2.8M1800 490.5h-2.8M1800 485.5h-2.8M1800 481.5h-2.8" stroke="#f00" stroke-width="1.1" fill="none"/>
<path d="M1245.5 822v-5M1320.5 822v-5M1394.5 822v-5M1468.5 822v-5M1543.5 822v-5M1617.5 822v-5M1692.5 822v-5M1766.5 822v-5" stroke="#000" stroke-width="1.1" fill="none"/>
<path d="M1205 478V822M1205 478H1800" stroke="#000" stroke-width="2" fill="none" stroke-linecap="square"/>
<path d="M1800 478V822" stroke="#f00" stroke-width="2" fill="none" stroke-linecap="butt"/>
<path d="M1205 478H1800M1205 822H1800" stroke="#000" stroke-width="2" fill="none" stroke-linecap="square"/>
<path d="M1205 478H1800M1205 822H1800" stroke="#000" stroke-width="2" fill="none" stroke-linecap="square"/>
<text x="1200" y="520" font-size="19.44" text-anchor="end" fill="#000">0</text>
<text x="1200" y="588.75" font-size="19.44" text-anchor="end" fill="#000">−100</text>
<text x="1200" y="657.5" font-size="19.44" text-anchor="end" fill="#000">−200</text>
<text x="1200" y="726.25" font-size="19.44" text-anchor="end" fill="#000">−300</text>
<text x="1200" y="795" font-size="19.44" text-anchor="end" fill="#000">−400</text>
<text x="1806.2" y="830.7" font-size="19.44" text-anchor="start" fill="#f00">10<tspan dy="-7.78" dx="0.9" font-size="14">−2</tspan></text>
<text x="1806.2" y="744.45" font-size="19.44" text-anchor="start" fill="#f00">10<tspan dy="-7.78" dx="0.9" font-size="14">−1</tspan></text>
<text x="1806.2" y="658.2" font-size="19.44" text-anchor="start" fill="#f00">10<tspan dy="-7.78" dx="0.9" font-size="14">0</tspan></text>
<text x="1806.2" y="571.95" font-size="19.44" text-anchor="start" fill="#f00">10<tspan dy="-7.78" dx="0.9" font-size="14">1</tspan></text>
<text x="1806.2" y="485.7" font-size="19.44" text-anchor="start" fill="#f00">10<tspan dy="-7.78" dx="0.9" font-size="14">2</tspan></text>
<text x="1105.2" y="652.6" font-size="24" text-anchor="middle" fill="#000" transform="rotate(-90 1105.2 652.6)">Dst</text>
<text x="1134.4" y="650" font-size="24" text-anchor="middle" fill="#000" transform="rotate(-90 1134.4 650)">( nT )</text>
<text x="1874.6" y="650" font-size="24" text-anchor="middle" fill="#f00" transform="rotate(-90 1874.6 650)">SW Pressure</text>
<text x="1906" y="650" font-size="24" text-anchor="middle" fill="#f00" transform="rotate(-90 1906 650)">( nPa )</text>
<path d="M1205 931H1800" stroke="#000" stroke-width="2" stroke-dasharray="2.08 3.44" fill="none"/>
<path d="M1726.5 1017V845" stroke="#000" stroke-width="3" stroke-dasharray="2.9 4.46" stroke-dashoffset="0.6" fill="none"/>
<path d="M1205 974.5h5M1800 974.5h-5M1205 931.5h5M1800 931.5h-5M1205 888.5h5M1800 888.5h-5M1205 1004.5h2.8M1800 1004.5h-2.8M1205 996.5h2.8M1800 996.5h-2.8M1205 991.5h2.8M1800 991.5h-2.8M1205 987.5h2.8M1800 987.5h-2.8M1205 983.5h2.8M1800 983.5h-2.8M1205 981.5h2.8M1800 981.5h-2.8M1205 978.5h2.8M1800 978.5h-2.8M1205 976.5h2.8M1800 976.5h-2.8M1205 961.5h2.8M1800 961.5h-2.8M1205 953.5h2.8M1800 953.5h-2.8M1205 948.5h2.8M1800 948.5h-2.8M1205 944.5h2.8M1800 944.5h-2.8M1205 940.5h2.8M1800 940.5h-2.8M1205 937.5h2.8M1800 937.5h-2.8M1205 935.5h2.8M1800 935.5h-2.8M1205 933.5h2.8M1800 933.5h-2.8M1205 918.5h2.8M1800 918.5h-2.8M1205 910.5h2.8M1800 910.5h-2.8M1205 905.5h2.8M1800 905.5h-2.8M1205 901.5h2.8M1800 901.5h-2.8M1205 897.5h2.8M1800 897.5h-2.8M1205 894.5h2.8M1800 894.5h-2.8M1205 892.5h2.8M1800 892.5h-2.8M1205 890.5h2.8M1800 890.5h-2.8M1205 875.5h2.8M1800 875.5h-2.8M1205 867.5h2.8M1800 867.5h-2.8M1205 862.5h2.8M1800 862.5h-2.8M1205 857.5h2.8M1800 857.5h-2.8M1205 854.5h2.8M1800 854.5h-2.8M1205 851.5h2.8M1800 851.5h-2.8M1205 849.5h2.8M1800 849.5h-2.8M1205 846.5h2.8M1800 846.5h-2.8" stroke="#000" stroke-width="1.1" fill="none"/>
<text x="1244.79" y="1037.4" font-size="19.44" text-anchor="middle" fill="#000">12</text>
<text x="1319.16" y="1037.4" font-size="19.44" text-anchor="middle" fill="#000">13</text>
<text x="1393.54" y="1037.4" font-size="19.44" text-anchor="middle" fill="#000">14</text>
<text x="1467.91" y="1037.4" font-size="19.44" text-anchor="middle" fill="#000">15</text>
<text x="1542.29" y="1037.4" font-size="19.44" text-anchor="middle" fill="#000">16</text>
<text x="1616.66" y="1037.4" font-size="19.44" text-anchor="middle" fill="#000">17</text>
<text x="1691.04" y="1037.4" font-size="19.44" text-anchor="middle" fill="#000">18</text>
<text x="1765.41" y="1037.4" font-size="19.44" text-anchor="middle" fill="#000">19</text>
<path d="M1245.5 1017v-5M1320.5 1017v-5M1394.5 1017v-5M1468.5 1017v-5M1543.5 1017v-5M1617.5 1017v-5M1692.5 1017v-5M1766.5 1017v-5" stroke="#000" stroke-width="1.1" fill="none"/>
<path d="M1205 845V1017M1205 845H1800" stroke="#000" stroke-width="2" fill="none" stroke-linecap="square"/>
<path d="M1800 845V1017" stroke="#000" stroke-width="2" fill="none" stroke-linecap="butt"/>
<path d="M1205 845H1800M1205 1017H1800" stroke="#000" stroke-width="2" fill="none" stroke-linecap="square"/>
<text x="1200" y="1025.7" font-size="19.44" text-anchor="end" fill="#000">10<tspan dy="-7.78" dx="0.9" font-size="14">−1</tspan></text>
<text x="1200" y="982.58" font-size="19.44" text-anchor="end" fill="#000">10<tspan dy="-7.78" dx="0.9" font-size="14">0</tspan></text>
<text x="1200" y="939.45" font-size="19.44" text-anchor="end" fill="#000">10<tspan dy="-7.78" dx="0.9" font-size="14">1</tspan></text>
<text x="1200" y="896.33" font-size="19.44" text-anchor="end" fill="#000">10<tspan dy="-7.78" dx="0.9" font-size="14">2</tspan></text>
<text x="1200" y="853.2" font-size="19.44" text-anchor="end" fill="#000">10<tspan dy="-7.78" dx="0.9" font-size="14">3</tspan></text>
<text x="1105.5" y="932" font-size="24" text-anchor="middle" fill="#000" transform="rotate(-90 1105.5 932)">&gt;10 MeV Proton Flux</text>
<text x="1139" y="932" font-size="24" text-anchor="middle" fill="#000" transform="rotate(-90 1139 932)">( cm<tspan dy="-9" font-size="16.8">2</tspan><tspan dy="9" dx="4">s</tspan><tspan dy="-9" font-size="16.8">−1</tspan><tspan dy="9" dx="4">sr</tspan><tspan dy="-9" font-size="16.8">−1</tspan><tspan dy="9"> )</tspan></text>
<text x="1501.9" y="1066.1" font-size="24" text-anchor="middle" fill="#000">February 2025 (UT)</text>
</svg>
</body></html>
